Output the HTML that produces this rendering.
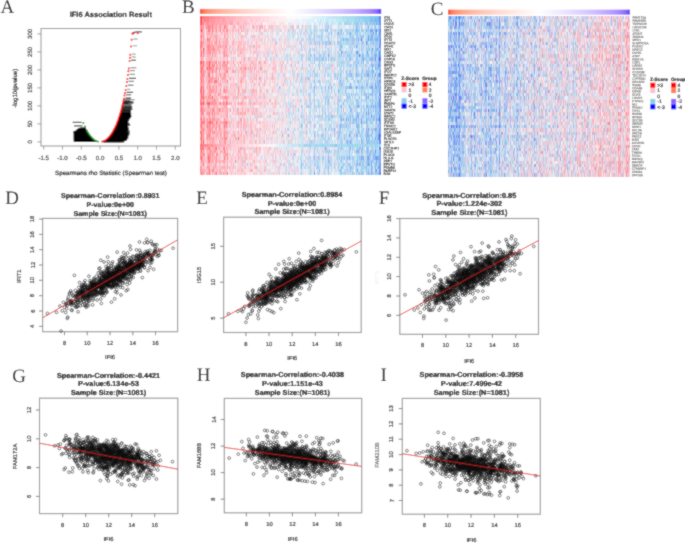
<!DOCTYPE html>
<html><head><meta charset="utf-8"><title>IFI6 figure</title>
<style>
html,body{margin:0;padding:0;background:#fff;overflow:hidden}
svg{display:block}
#wrap{width:685px;height:543px}
text{font-family:"Liberation Sans",sans-serif;text-rendering:geometricPrecision}
</style></head><body><div id="wrap">
<svg width="685" height="543" viewBox="0 0 685 543">
<defs>
<marker id="pt" markerWidth="6" markerHeight="6" refX="3" refY="3" markerUnits="userSpaceOnUse" overflow="visible"><circle cx="3" cy="3" r="1.4" fill="none" stroke="#111" stroke-width="0.55"/></marker>
<marker id="rd" markerWidth="4" markerHeight="4" refX="2" refY="2" markerUnits="userSpaceOnUse" overflow="visible"><circle cx="2" cy="2" r="1.0" fill="#f00"/></marker>
<marker id="gd" markerWidth="4" markerHeight="4" refX="2" refY="2" markerUnits="userSpaceOnUse" overflow="visible"><circle cx="2" cy="2" r="1.0" fill="#119911"/></marker>
</defs>
<filter id="soft" filterUnits="userSpaceOnUse" x="0" y="0" width="685" height="543"><feConvolveMatrix order="3" kernelMatrix="1 2 1 2 12 2 1 2 1" divisor="24" edgeMode="duplicate" preserveAlpha="true"/></filter>
<g filter="url(#soft)">
<rect width="685" height="543" fill="#fff"/>

<text x="0.5" y="12.5" style="font-family:'Liberation Serif',serif" font-size="19" fill="#111">A</text>
<text x="182.0" y="13.0" style="font-family:'Liberation Serif',serif" font-size="19" fill="#111">B</text>
<text x="430.8" y="15.2" style="font-family:'Liberation Serif',serif" font-size="19" fill="#111">C</text>
<text x="5.3" y="203.5" style="font-family:'Liberation Serif',serif" font-size="19" fill="#111">D</text>
<text x="196.3" y="203.8" style="font-family:'Liberation Serif',serif" font-size="19" fill="#111">E</text>
<text x="378.8" y="203.6" style="font-family:'Liberation Serif',serif" font-size="19" fill="#111">F</text>
<text x="12.2" y="382.0" style="font-family:'Liberation Serif',serif" font-size="19" fill="#111">G</text>
<text x="196.8" y="380.5" style="font-family:'Liberation Serif',serif" font-size="19" fill="#111">H</text>
<text x="380.5" y="381.0" style="font-family:'Liberation Serif',serif" font-size="19" fill="#111">I</text>
<rect x="41.0" y="28.5" width="139.5" height="117.5" fill="none" stroke="#888" stroke-width="0.9"/>
<line x1="43.7" y1="146.0" x2="43.7" y2="149.6" stroke="#888" stroke-width="0.8"/>
<text x="43.7" y="160.2" text-anchor="middle" font-size="6.1" fill="#333" stroke="#333" stroke-width="0.18">-1.5</text>
<line x1="62.5" y1="146.0" x2="62.5" y2="149.6" stroke="#888" stroke-width="0.8"/>
<text x="62.5" y="160.2" text-anchor="middle" font-size="6.1" fill="#333" stroke="#333" stroke-width="0.18">-1.0</text>
<line x1="81.3" y1="146.0" x2="81.3" y2="149.6" stroke="#888" stroke-width="0.8"/>
<text x="81.3" y="160.2" text-anchor="middle" font-size="6.1" fill="#333" stroke="#333" stroke-width="0.18">-0.5</text>
<line x1="100.1" y1="146.0" x2="100.1" y2="149.6" stroke="#888" stroke-width="0.8"/>
<text x="100.1" y="160.2" text-anchor="middle" font-size="6.1" fill="#333" stroke="#333" stroke-width="0.18">0.0</text>
<line x1="118.9" y1="146.0" x2="118.9" y2="149.6" stroke="#888" stroke-width="0.8"/>
<text x="118.9" y="160.2" text-anchor="middle" font-size="6.1" fill="#333" stroke="#333" stroke-width="0.18">0.5</text>
<line x1="137.7" y1="146.0" x2="137.7" y2="149.6" stroke="#888" stroke-width="0.8"/>
<text x="137.7" y="160.2" text-anchor="middle" font-size="6.1" fill="#333" stroke="#333" stroke-width="0.18">1.0</text>
<line x1="156.5" y1="146.0" x2="156.5" y2="149.6" stroke="#888" stroke-width="0.8"/>
<text x="156.5" y="160.2" text-anchor="middle" font-size="6.1" fill="#333" stroke="#333" stroke-width="0.18">1.5</text>
<line x1="175.3" y1="146.0" x2="175.3" y2="149.6" stroke="#888" stroke-width="0.8"/>
<text x="175.3" y="160.2" text-anchor="middle" font-size="6.1" fill="#333" stroke="#333" stroke-width="0.18">2.0</text>
<line x1="37.4" y1="141.9" x2="41.0" y2="141.9" stroke="#888" stroke-width="0.8"/>
<text x="32.2" y="141.9" text-anchor="middle" font-size="6.1" fill="#333" transform="rotate(-90 32.2 141.9)" stroke="#333" stroke-width="0.18">0</text>
<line x1="37.4" y1="123.9" x2="41.0" y2="123.9" stroke="#888" stroke-width="0.8"/>
<text x="32.2" y="123.9" text-anchor="middle" font-size="6.1" fill="#333" transform="rotate(-90 32.2 123.9)" stroke="#333" stroke-width="0.18">50</text>
<line x1="37.4" y1="105.9" x2="41.0" y2="105.9" stroke="#888" stroke-width="0.8"/>
<text x="32.2" y="105.9" text-anchor="middle" font-size="6.1" fill="#333" transform="rotate(-90 32.2 105.9)" stroke="#333" stroke-width="0.18">100</text>
<line x1="37.4" y1="87.9" x2="41.0" y2="87.9" stroke="#888" stroke-width="0.8"/>
<text x="32.2" y="87.9" text-anchor="middle" font-size="6.1" fill="#333" transform="rotate(-90 32.2 87.9)" stroke="#333" stroke-width="0.18">150</text>
<line x1="37.4" y1="69.9" x2="41.0" y2="69.9" stroke="#888" stroke-width="0.8"/>
<text x="32.2" y="69.9" text-anchor="middle" font-size="6.1" fill="#333" transform="rotate(-90 32.2 69.9)" stroke="#333" stroke-width="0.18">200</text>
<line x1="37.4" y1="51.9" x2="41.0" y2="51.9" stroke="#888" stroke-width="0.8"/>
<text x="32.2" y="51.9" text-anchor="middle" font-size="6.1" fill="#333" transform="rotate(-90 32.2 51.9)" stroke="#333" stroke-width="0.18">250</text>
<line x1="37.4" y1="33.9" x2="41.0" y2="33.9" stroke="#888" stroke-width="0.8"/>
<text x="32.2" y="33.9" text-anchor="middle" font-size="6.1" fill="#333" transform="rotate(-90 32.2 33.9)" stroke="#333" stroke-width="0.18">300</text>
<text x="110.8" y="16.8" text-anchor="middle" font-size="7.5" font-weight="bold" fill="#111" stroke="#111" stroke-width="0.18">IFI6 Association Result</text>
<text x="111.0" y="174.5" text-anchor="middle" font-size="6.2" fill="#111" stroke="#111" stroke-width="0.18">Spearmans rho Statistic (Spearman test)</text>
<text x="17.2" y="88.2" text-anchor="middle" font-size="6.1" fill="#111" transform="rotate(-90 17.2 88.2)" stroke="#111" stroke-width="0.18">-log10(pvalue)</text>
<polygon fill="#000" points="102.7,141.5 104.7,140.6 106.0,139.8 107.1,138.9 108.1,138.0 108.9,137.2 109.6,136.3 110.3,135.4 111.0,134.5 111.6,133.7 112.1,132.8 112.6,131.9 113.1,131.1 113.6,130.2 114.1,129.3 114.5,128.5 114.9,127.6 115.4,126.7 115.7,125.8 116.1,125.0 116.5,124.1 116.8,123.2 117.2,122.4 117.5,121.5 125.0,121.5 125.8,126.0 125.8,131.0 125.2,136.0 123.8,139.5 121.5,141.5"/>
<polygon fill="#000" points="87.3,131.5 87.8,132.4 88.4,133.3 89.0,134.2 89.7,135.1 90.4,136.0 91.1,137.0 92.0,137.9 92.9,138.8 94.0,139.7 95.4,140.6 97.5,141.5 100.1,141.5 76.0,141.4 75.5,138.0 76.0,134.0 77.5,131.5"/>
<path d="M124.7 99.5H134.6M122.1 106.6H128.8M120.9 112.4H126.6M122.2 106.6H126.5M124.4 99.3H130.7M122.4 107.1H128.5M121.1 111.1H130.9M120.6 112.8H124.6M123.1 103.0H128.2M121.8 109.0H128.2M120.9 113.9H127.5M120.3 113.2H130.3M123.4 103.9H127.4M121.9 108.8H130.5M122.5 107.9H132.1M121.4 111.7H128.5M122.3 106.2H129.3M121.1 111.0H128.0M123.3 106.4H127.8M123.9 103.4H133.3M123.0 102.8H129.3M121.7 111.9H127.8M120.7 113.9H127.9M124.1 103.3H133.6" stroke="#999" stroke-width="1.25" fill="none"/>
<path d="M120.8 113.9H125.1M121.6 112.6H128.6M120.4 112.9H129.3M122.3 106.8H129.4M123.9 103.6H130.2M124.6 101.1H128.8M123.1 104.9H127.8M121.9 109.8H131.1M123.6 103.7H130.1M123.5 103.6H132.5M122.4 106.7H129.7M120.7 111.9H128.3M120.7 113.8H129.3M123.5 102.0H129.5M123.0 103.3H129.7M121.4 112.3H128.2M123.5 102.7H131.3M121.6 112.8H129.9" stroke="#888" stroke-width="1.25" fill="none"/>
<path d="M122.6 106.6H132.3M121.5 111.5H129.9M122.1 107.6H131.0M121.6 108.9H127.1M123.6 103.4H128.7M121.0 111.9H129.8M123.7 103.3H129.7M122.9 105.3H128.1M120.8 112.6H129.1M121.4 112.2H126.0M123.2 102.2H130.1M122.9 103.8H131.8M122.1 108.4H131.3M121.9 110.5H127.5M121.2 110.7H129.1M122.6 106.0H132.1M123.7 104.6H128.4M123.2 104.8H130.8M121.4 111.2H131.2M120.9 112.7H126.5" stroke="#666" stroke-width="1.25" fill="none"/>
<path d="M77.7 128.8H86.0M74.8 135.5H89.3M76.1 134.4H89.0M74.4 133.0H87.9M74.0 138.0H91.7M74.5 136.5H89.8M77.1 131.3H86.5M75.2 136.8H91.2M74.3 133.6H87.7M73.7 137.5H91.6M73.8 132.1H87.5M77.9 129.6H86.5M74.2 138.9H92.2M79.1 129.1H86.0M75.3 132.2H87.2M74.6 139.7H93.8M74.9 140.7H94.7M78.2 128.7H85.6M74.7 132.1H87.4M75.7 137.2H91.8M74.5 139.5H93.7M78.6 128.3H85.6M75.3 132.8H88.5M76.4 131.1H86.9M74.1 140.1H94.0M77.8 128.7H84.9M80.4 129.4H85.9M78.4 130.1H86.6M74.5 134.9H89.4" stroke="#555" stroke-width="1.25" fill="none"/>
<path d="M114.6 130.9H126.9M110.6 136.5H126.5M115.7 127.4H125.6M119.1 117.4H129.5M117.8 122.8H127.6M115.5 127.7H127.1M111.9 134.2H126.6M117.6 124.8H125.6M108.0 139.2H126.3M111.9 134.9H125.7M113.5 131.8H125.7M108.4 137.4H125.1M120.4 115.8H129.6M110.2 136.0H126.0M106.1 140.0H124.9M116.5 123.6H127.2M112.4 134.4H127.3M109.6 137.1H127.4M119.3 116.3H128.2M119.4 119.2H125.8M115.3 126.8H127.7M118.5 120.6H125.9M113.3 132.5H126.7M114.0 130.1H128.3M115.2 129.5H127.8M110.9 135.9H127.6M116.4 125.4H127.9M119.1 118.7H128.8M117.8 123.9H128.1M109.2 137.6H125.9M116.8 123.8H127.4M117.9 122.0H125.6M119.6 116.3H125.8M116.0 124.5H127.7M120.5 114.9H130.9M120.9 113.2H128.8M116.0 126.4H125.4M112.9 132.6H129.8M106.4 139.4H123.0M119.7 115.0H128.2M118.4 123.1H127.3M119.3 117.0H125.6M118.4 121.9H127.2M120.0 117.2H128.4M113.3 130.5H128.3M116.3 126.1H128.0M118.4 120.6H129.1M108.2 138.7H126.9M115.3 129.7H126.7M119.7 114.9H129.2M110.8 135.5H125.9M121.1 112.0H127.0M120.4 113.2H125.3M120.8 113.6H125.1M120.2 113.4H125.2M121.8 108.1H128.8M123.9 103.3H128.4M120.7 113.3H127.1M124.4 100.9H130.2M121.0 112.2H125.7M121.1 113.4H125.5" stroke="#444" stroke-width="1.25" fill="none"/>
<path d="M74.5 138.5H92.9M73.8 141.4H96.6M74.3 136.6H90.1M74.3 131.7H87.2M74.8 134.1H89.1M74.8 138.1H92.2M73.8 140.5H94.4M73.9 133.3H88.8M74.1 139.1H92.3M74.6 138.1H91.7M74.2 135.1H89.6M75.2 137.2H90.4M78.8 129.4H86.1M73.7 139.7H93.8M78.2 130.0H85.5M74.3 135.3H89.6M78.5 129.1H85.8M79.4 130.8H87.0M74.1 141.4H96.7M80.6 128.2H85.9M76.3 135.3H90.2M73.6 135.6H90.2M73.6 133.3H88.4M74.5 137.8H92.2M73.6 138.1H91.6M74.5 137.8H92.3M74.4 140.2H93.9M75.0 133.3H88.3M74.4 136.0H90.1M77.3 129.7H86.5M75.8 131.4H87.2M74.9 131.4H86.3M74.7 136.0H90.4M74.4 140.6H95.0M74.8 140.2H94.0M78.8 129.6H85.6M80.0 129.1H85.3M76.7 129.9H86.7M73.9 134.8H89.6M75.1 132.0H87.3M74.1 134.9H88.8M74.8 133.3H88.6" stroke="#333" stroke-width="1.25" fill="none"/>
<path d="M114.8 130.8H124.9M118.9 118.7H124.9M120.2 115.6H128.8M120.4 116.8H131.1M116.7 125.2H130.2M109.7 136.2H126.2M115.9 127.7H125.8M116.6 125.3H128.6M114.6 131.0H126.8M118.5 118.3H126.6M118.8 121.9H128.4M118.6 122.0H127.6M119.1 118.4H129.6M117.6 123.7H129.5M111.7 135.2H127.8M118.8 118.5H127.5M117.3 124.3H127.0M103.0 141.4H122.1M110.7 136.6H128.1M104.1 141.5H123.9M119.7 119.6H126.7M111.2 133.8H129.4M113.8 131.0H126.2M115.5 128.8H126.6M114.5 130.7H127.8M117.0 124.6H127.1M115.3 127.4H126.1M113.1 132.4H126.3M110.4 135.0H126.0M118.9 120.0H126.8M118.5 118.6H126.1M116.6 127.0H127.0M116.7 124.6H127.7M120.8 114.4H129.8M113.5 132.0H126.8M118.6 119.1H129.3M116.9 126.0H127.1M109.0 137.6H127.9M114.8 129.6H126.0M114.4 128.7H125.2M119.6 117.0H128.6M102.7 141.5H121.1M106.0 140.0H125.4M116.2 125.8H127.8M116.9 123.7H127.4M118.4 121.5H126.5M121.1 115.3H128.1M117.4 122.6H127.2M120.7 114.0H127.1M120.4 113.3H131.2M114.6 127.8H127.1M121.9 109.7H131.1M121.6 109.5H128.4M123.7 102.9H128.3M122.6 109.0H132.5M124.2 102.0H133.5M123.0 103.4H127.8M121.6 111.1H126.4M122.1 107.2H128.3M121.7 110.3H126.5M121.3 112.1H130.6M122.0 110.8H126.4M123.6 101.9H132.5M122.5 107.2H131.1M121.3 112.2H125.6M121.1 110.8H130.8M122.3 107.3H131.8M123.3 102.1H131.5M121.4 109.9H127.7" stroke="#222" stroke-width="1.25" fill="none"/>
<path d="M119.7 117.6H125.9M114.4 130.3H126.7M120.9 115.8H128.0M107.9 138.9H126.0M108.6 138.1H126.8M120.4 117.3H126.4M109.3 136.3H127.4M114.6 130.0H126.5M105.5 140.5H124.3M119.8 117.7H125.9M113.8 129.4H128.4M120.3 116.7H130.7M112.6 131.8H127.2M120.1 116.8H130.2M118.3 120.1H126.6M120.7 115.2H127.4M118.1 120.7H128.2M117.1 123.8H126.5M112.0 133.6H128.4M116.8 125.8H126.0M115.0 127.4H128.5M113.9 131.0H127.2M116.5 127.2H126.4M118.1 122.0H127.6M109.4 136.9H128.1M117.2 124.7H126.8M111.3 133.9H128.7M106.0 139.7H124.7M118.4 119.4H128.7M111.5 133.4H127.4M103.0 141.6H121.4M111.2 135.0H123.6M114.5 128.6H128.7M113.2 131.0H129.7M119.6 117.1H128.8M104.7 140.5H123.6M118.9 120.7H125.9M120.3 117.6H130.7M121.2 113.5H130.7M119.9 116.4H126.1M108.7 137.2H127.7M111.5 134.9H126.6M118.6 117.9H126.9M111.7 134.5H126.8M119.7 117.7H129.8M118.2 120.7H126.9M110.1 137.3H127.9M111.6 134.3H127.6M121.5 113.4H128.3M113.3 131.9H126.9M111.4 134.6H127.2M117.7 123.7H124.7M113.6 132.2H127.8M114.1 129.5H128.6M118.0 120.3H129.0M106.9 139.5H126.7M113.2 130.7H127.2M78.9 128.9H85.0M73.8 135.3H89.2M76.2 135.7H90.6M74.2 138.1H92.4M74.3 134.7H89.3M77.0 130.8H87.3M76.8 130.3H87.1M76.4 130.7H87.2M79.0 129.1H85.9M77.6 130.7H85.9M74.1 134.0H89.0M77.0 130.1H86.8M73.6 131.8H87.4M75.6 135.0H89.8M76.2 130.8H86.2M74.8 139.3H94.1M78.0 130.5H86.4M75.8 131.8H87.5M77.4 130.8H86.4M74.9 134.8H89.2M73.7 136.1H90.8M74.1 131.9H87.5M75.8 140.1H94.6M75.6 139.1H93.2M81.0 128.9H85.1M74.7 132.6H88.5M75.3 137.3H91.8M75.4 140.2H94.1M74.7 139.9H94.5M73.7 134.8H89.7M73.9 140.0H94.0" stroke="#111" stroke-width="1.25" fill="none"/>
<path d="M118.8 121.6H127.4M117.9 121.0H126.1M115.4 127.7H126.6M113.8 131.0H125.3M120.3 113.3H129.8M116.2 127.6H127.4M108.5 137.9H128.3M116.8 124.1H127.1M110.0 136.3H128.2M119.5 117.3H126.7M112.7 132.2H124.7M107.0 139.5H125.9M108.7 138.3H125.5M116.4 124.8H128.1M110.7 134.5H125.6M120.0 113.9H130.8M115.9 127.8H128.2M118.9 118.7H125.8M106.3 140.1H125.8M119.2 120.8H127.4M110.7 136.1H126.6M118.3 118.8H125.4M108.0 139.1H125.9M116.1 128.0H128.1M120.3 113.6H127.6M119.4 118.4H125.6M117.2 122.1H127.3M114.9 129.4H126.0M109.6 137.8H126.3M112.9 131.6H125.5M117.4 123.6H124.7M111.7 134.5H126.1M119.0 116.7H129.6M110.8 135.9H124.9M104.1 141.5H124.3M111.9 134.7H129.3M107.0 139.3H125.5M115.2 126.5H125.7M112.1 133.6H128.7M116.5 124.3H125.5M111.4 135.6H128.1M120.8 116.2H131.5M116.8 126.3H127.1M110.4 136.7H125.8M119.9 117.8H126.7M119.6 117.4H126.0M115.4 128.8H125.8M111.5 134.3H125.9M118.9 118.2H126.4M117.4 123.6H126.9M116.1 127.1H125.3M117.3 125.0H126.1M110.1 136.4H126.8M113.2 131.2H125.8M117.9 121.3H127.2M117.2 125.1H125.9M114.4 130.8H127.3M118.4 120.4H126.9M119.1 116.9H126.5M115.2 126.6H127.5M110.7 135.1H128.6M110.6 136.8H125.4M106.1 140.2H126.7M117.3 125.0H127.4M119.6 115.2H126.5M118.0 121.7H127.8M108.3 138.7H124.3M120.2 117.1H129.6M111.9 133.1H128.3M111.7 134.7H129.0M112.5 133.7H127.1M121.6 113.8H131.1M111.6 133.9H126.4M119.8 115.2H127.1M112.6 134.1H127.6M114.7 129.4H126.8M108.3 138.3H126.1M110.7 134.7H127.5M117.0 122.1H127.1M120.4 115.3H131.1M119.8 116.9H129.5M119.1 118.5H129.8M110.0 136.1H126.6M119.7 116.7H127.5M114.1 129.8H126.4M111.1 134.6H126.9M120.6 116.8H130.1M107.0 138.9H123.7M118.5 122.5H128.2M117.3 124.8H127.7M120.9 114.7H129.7M118.0 120.9H127.8M120.4 116.0H130.1M114.3 130.4H126.7M115.0 130.3H126.8M120.6 114.2H129.6M117.0 122.5H127.6M120.2 113.8H126.3M120.1 116.6H126.6M107.5 138.8H127.4M120.7 115.5H130.1M73.6 133.0H88.2M80.6 128.3H84.8M74.2 138.0H92.5M74.5 134.9H88.9M78.2 129.2H85.5M75.8 131.4H87.5M74.1 139.3H92.8M74.4 141.0H96.4M74.1 138.7H92.2M74.0 137.0H91.5M73.6 131.7H86.9M75.2 133.3H87.9M78.8 129.6H85.8M78.8 129.8H86.3M74.9 131.9H86.9M74.5 138.7H93.2M73.7 139.1H92.7M74.8 137.5H91.4M75.0 137.0H90.6M74.8 132.9H87.9M73.9 141.3H97.1M74.1 137.7H91.9M73.9 134.6H88.7M76.3 136.6H90.0M76.3 130.9H86.8M74.5 139.1H93.7M74.3 139.6H93.2M73.8 134.6H89.3M79.8 129.3H86.1M80.7 128.3H85.7M78.4 129.0H85.8M75.8 137.7H91.2M73.8 131.6H87.7M74.7 135.3H89.2M73.7 131.8H87.3M73.9 131.7H87.4M77.8 130.4H86.2M73.8 133.7H88.2M73.7 137.9H91.3M76.0 130.3H86.7M73.9 140.0H93.5M74.4 131.3H87.6M74.3 134.8H89.8M74.4 139.4H93.0M77.7 131.3H86.8M78.8 130.8H87.3M74.1 139.1H93.7M78.0 130.1H86.1M74.0 133.3H88.5M74.5 135.9H89.3M73.9 138.0H91.4M74.0 137.7H90.8M79.8 129.3H85.9M80.3 128.4H84.7M74.4 139.3H93.5M74.8 136.3H90.2M75.0 131.8H86.8M74.8 133.0H87.6M74.0 133.8H88.4M76.5 131.5H86.6M73.8 136.7H90.5M74.1 134.4H88.4M73.9 134.7H88.6M73.8 132.2H87.4M74.5 138.5H91.8M73.9 134.5H88.6M76.7 131.4H87.5M81.1 128.5H85.8" stroke="#000" stroke-width="1.25" fill="none"/>
<path d="M133.2 39.0h4.5" stroke="#999" stroke-width="1.1" fill="none"/>
<path d="M132.6 45.8h4.5" stroke="#aaa" stroke-width="1.1" fill="none"/>
<path d="M131.9 54.1h3.8" stroke="#999" stroke-width="1.1" fill="none"/>
<path d="M131.6 57.0h4.2" stroke="#999" stroke-width="1.1" fill="none"/>
<path d="M131.2 60.2h4.7" stroke="#444" stroke-width="1.1" fill="none"/>
<path d="M130.4 67.8h6" stroke="#888" stroke-width="1.1" fill="none"/>
<path d="M130.0 70.6h5" stroke="#888" stroke-width="1.1" fill="none"/>
<path d="M129.5 74.3h5.5" stroke="#888" stroke-width="1.1" fill="none"/>
<path d="M129.0 78.3h7" stroke="#333" stroke-width="1.1" fill="none"/>
<path d="M128.5 81.3h5.5" stroke="#777" stroke-width="1.1" fill="none"/>
<path d="M127.9 85.2h5.5" stroke="#666" stroke-width="1.1" fill="none"/>
<path d="M127.2 89.3h3" stroke="#999" stroke-width="1.1" fill="none"/>
<path d="M126.6 92.3h6.5" stroke="#333" stroke-width="1.1" fill="none"/>
<path d="M126.1 94.8h5" stroke="#555" stroke-width="1.1" fill="none"/>
<path d="M125.5 98.1h5.5" stroke="#222" stroke-width="1.1" fill="none"/>
<path d="M132.9 32.6L137 31.9L141.9 31.9" stroke="#555" stroke-width="1.3" fill="none"/>
<path d="M72.6 122.3h9M74 125.8h8.5" stroke="#555" stroke-width="1.2" fill="none"/>
<polyline points="101.4,141.8 103.8,141.1 105.2,140.3 106.2,139.6 107.1,138.9 107.9,138.2 108.6,137.4 109.3,136.7 109.9,136.0 110.4,135.3 111.0,134.5 111.5,133.8 111.9,133.1 112.4,132.4 112.8,131.6 113.2,130.9 113.6,130.2 114.0,129.5 114.4,128.7 114.7,128.0 115.1,127.3 115.4,126.6 115.7,125.8 116.1,125.1 116.4,124.4 116.7,123.7 117.0,122.9 117.2,122.2 117.5,121.5 117.8,120.8 118.1,120.0 118.3,119.3 118.6,118.6 118.8,117.9 119.1,117.1 119.3,116.4 119.5,115.7 119.8,115.0 120.0,114.2 120.2,113.5 120.4,112.8 120.6,112.1 120.8,111.3 121.0,110.6 121.2,109.9 121.4,109.2 121.6,108.4 121.8,107.7 122.0,107.0 122.2,106.3 122.3,105.5 122.5,104.8 122.7,104.1 122.9,103.4 123.0,102.6 123.2,101.9 123.4,101.2 123.5,100.5 123.7,99.7 123.8,99.0" fill="none" stroke="#f00" stroke-width="1.6"/>
<polyline points="131.6,39.7 131.0,46.5 130.3,54.8 130.0,57.7 129.6,60.9 128.8,68.5 128.4,71.3 127.9,75.0 127.4,79.0 126.9,82.0 126.3,85.9 125.6,90.0 125.0,93.0 124.5,95.5 123.9,98.8 132.3,33.5 133.5,33.5 137.7,33.3" fill="none" stroke="none" marker-start="url(#rd)" marker-mid="url(#rd)" marker-end="url(#rd)"/>
<polyline points="98.8,141.8 96.6,141.2 95.3,140.5 94.3,139.9 93.4,139.2 92.7,138.6 92.0,137.9 91.4,137.3 90.8,136.6 90.3,136.0 89.8,135.3 89.3,134.7 88.9,134.0 88.5,133.4 88.0,132.7 87.6,132.1 87.3,131.4 86.9,130.8 86.5,130.1 86.2,129.5" fill="none" stroke="#119911" stroke-width="1.5"/>
<polyline points="85,126.6 83.4,123.1" fill="none" stroke="none" marker-start="url(#gd)" marker-mid="url(#gd)" marker-end="url(#gd)"/>
<defs><linearGradient id="g21" x1="0" x2="1" y1="0" y2="0"><stop offset="0.003" stop-color="#ff4e37"/><stop offset="0.025" stop-color="#ff815d"/><stop offset="0.047" stop-color="#ff9475"/><stop offset="0.069" stop-color="#ffa085"/><stop offset="0.091" stop-color="#ffaa91"/><stop offset="0.113" stop-color="#ffb29b"/><stop offset="0.135" stop-color="#ffb9a4"/><stop offset="0.157" stop-color="#ffbfac"/><stop offset="0.180" stop-color="#ffc4b3"/><stop offset="0.202" stop-color="#ffcaba"/><stop offset="0.224" stop-color="#ffcec0"/><stop offset="0.246" stop-color="#ffd3c6"/><stop offset="0.268" stop-color="#ffd7cc"/><stop offset="0.290" stop-color="#ffdcd1"/><stop offset="0.312" stop-color="#ffe0d7"/><stop offset="0.334" stop-color="#ffe4dc"/><stop offset="0.356" stop-color="#ffe7e1"/><stop offset="0.378" stop-color="#ffebe5"/><stop offset="0.401" stop-color="#ffefea"/><stop offset="0.423" stop-color="#fff3ef"/><stop offset="0.445" stop-color="#fff6f4"/><stop offset="0.467" stop-color="#fffaf8"/><stop offset="0.489" stop-color="#fffdfd"/><stop offset="0.511" stop-color="#fdfdff"/><stop offset="0.533" stop-color="#faf9ff"/><stop offset="0.555" stop-color="#f7f4ff"/><stop offset="0.577" stop-color="#f4f0ff"/><stop offset="0.599" stop-color="#f1ebff"/><stop offset="0.622" stop-color="#ede7ff"/><stop offset="0.644" stop-color="#eae2ff"/><stop offset="0.666" stop-color="#e6deff"/><stop offset="0.688" stop-color="#e3d9ff"/><stop offset="0.710" stop-color="#dfd4ff"/><stop offset="0.732" stop-color="#dbcfff"/><stop offset="0.754" stop-color="#d7caff"/><stop offset="0.776" stop-color="#d3c4ff"/><stop offset="0.798" stop-color="#cfbeff"/><stop offset="0.820" stop-color="#cab8ff"/><stop offset="0.843" stop-color="#c5b1ff"/><stop offset="0.865" stop-color="#c0aaff"/><stop offset="0.887" stop-color="#b9a1ff"/><stop offset="0.909" stop-color="#b298ff"/><stop offset="0.931" stop-color="#aa8cff"/><stop offset="0.953" stop-color="#9f7dff"/><stop offset="0.975" stop-color="#8e67ff"/><stop offset="0.997" stop-color="#563dff"/><stop offset="0.997" stop-color="#563dff"/></linearGradient></defs>
<rect x="199.9" y="8.9" width="181.3" height="5.0" fill="url(#g21)"/>
<g transform="translate(199.90,15.90) scale(1.0017,3.1920)" stroke-width="1.02" fill="none" shape-rendering="crispEdges">
<path stroke="#ff3c3c" d="M0.5 0v1m3 9v1"/>
<path stroke="#ff4646" d="M1.5 0v1"/>
<path stroke="#ff7878" d="M0.5 17v1m1 -15v1m0 34v1m0 1v1m1 -41v1m1 1v1m0 20v1m1 -23v1m3 25v1m5 -13v1m4 -2v1"/>
<path stroke="#ff7882" d="M0.5 48v1m1 -37v1m0 3v1m0 2v1m0 4v1m0 7v1m1 -3v1m0 9v1m0 0v1m1 -42v1m0 2v1m0 20v1m0 1v1m0 9v1m0 9v1m1 -47v1m5 3v1m0 15v1m0 11v1m0 15v1m3 -46v1m2 22v1m0 9v1m1 -17v1m1 -5v1m3 0v1m1 -14v1m6 29v1m1 -21v1"/>
<path stroke="#ff8282" d="M0.5 38v1m0 4v1m0 0v1m3 -5v1m2 -41v1m3 3v1m1 28v1m1 -20v1m2 4v1m4 0v1m8 -18v1m0 10v1m0 22v1m1 -5v1m2 -17v1"/>
<path stroke="#ff828c" d="M0.5 10v1m0 21v1m1 -24v1m0 21v1m0 4v1m0 8v1m2 -40v1m0 5v1m0 4v1m0 3v1m0 0v1m0 15v1m2 -38v1m0 38v1m1 -41v1m1 -1v1m0 0v1m0 32v1m0 2v1m0 2v1m1 -41v1m0 0v1m0 1v1m0 5v1m0 0v1m0 7v1m0 6v1m0 17v1m0 1v1m1 -12v1m1 -19v1m0 7v1m0 11v1m2 -33v1m0 12v1m0 18v1m1 -27v1m0 37v1m1 -29v1m2 -14v1m0 14v1m0 21v1m0 4v1m8 -27v1m3 -20v1m0 22v1"/>
<path stroke="#ff8c8c" d="M0.5 8v1m0 7v1m1 24v1m5 -41v1m2 31v1m1 -34v1m0 2v1m0 3v1m0 0v1m0 12v1m0 22v1m0 4v1m1 -39v1m0 30v1m1 -27v1m0 6v1m1 3v1m0 1v1m1 -1v1m3 -26v1m0 30v1m0 7v1m3 -17v1m0 1v1m4 -3v1m1 4v1m1 -18v1m16 16v1"/>
<path stroke="#ff8c96" d="M0.5 12v1m0 8v1m0 2v1m0 4v1m0 4v1m0 12v1m1 -41v1m0 10v1m1 -17v1m0 15v1m0 8v1m0 5v1m1 -33v1m0 6v1m0 9v1m0 0v1m0 9v1m0 2v1m0 9v1m0 0v1m0 5v1m1 -17v1m0 6v1m2 -39v1m2 -1v1m1 6v1m0 12v1m0 5v1m0 18v1m1 -48v1m0 2v1m0 15v1m0 2v1m0 4v1m0 7v1m0 7v1m1 -44v1m0 0v1m0 38v1m1 -41v1m0 1v1m0 9v1m1 -13v1m0 15v1m1 -2v1m1 25v1m1 -34v1m0 8v1m1 25v1m3 -41v1m0 14v1m0 8v1m0 5v1m2 -19v1m1 -2v1m1 12v1m0 5v1m0 2v1m0 1v1m0 3v1m1 -40v1m0 5v1m0 15v1m0 12v1m1 -22v1m0 7v1m0 12v1m1 -8v1m0 11v1m6 -30v1m12 1v1m9 10v1"/>
<path stroke="#ff9696" d="M2.5 4v1m1 15v1m1 22v1m3 -42v1m0 11v1m0 6v1m0 10v1m1 -18v1m0 20v1m0 4v1m1 -23v1m0 20v1m3 -36v1m0 42v1m1 -40v1m1 -10v1m0 30v1m0 0v1m1 9v1m1 -9v1m2 -16v1m5 21v1m1 -36v1m0 4v1m0 27v1m1 -22v1m1 -15v1m12 37v1m2 -29v1m1 -11v1m0 15v1m0 6v1m18 -14v1"/>
<path stroke="#ff96a0" d="M0.5 4v1m0 13v1m0 3v1m0 7v1m0 11v1m1 -38v1m0 9v1m0 5v1m0 4v1m0 3v1m0 4v1m1 -35v1m0 13v1m0 8v1m0 4v1m0 5v1m0 7v1m1 -14v1m0 6v1m1 -6v1m2 -17v1m0 23v1m1 -15v1m0 3v1m0 2v1m0 4v1m0 2v1m1 -35v1m0 3v1m0 4v1m0 0v1m0 2v1m0 7v1m0 11v1m1 -40v1m0 8v1m0 0v1m0 5v1m0 13v1m0 3v1m0 6v1m1 -42v1m0 23v1m0 18v1m1 -25v1m1 -7v1m0 3v1m0 7v1m0 5v1m0 7v1m0 4v1m1 -45v1m0 13v1m0 16v1m0 5v1m1 -38v1m0 0v1m0 7v1m0 19v1m0 3v1m1 -35v1m1 -1v1m0 2v1m0 23v1m1 -28v1m1 -1v1m0 13v1m0 9v1m1 -25v1m0 7v1m0 25v1m0 0v1m1 -27v1m0 6v1m0 6v1m2 5v1m2 -14v1m0 1v1m0 6v1m1 13v1m0 2v1m0 0v1m1 -35v1m0 6v1m0 24v1m1 -17v1m0 4v1m0 13v1m0 2v1m6 -31v1m1 19v1m1 0v1m3 -30v1m0 13v1m0 0v1m0 8v1m2 -4v1m16 10v1"/>
<path stroke="#ffa0aa" d="M0.5 6v1m0 4v1m0 8v1m0 4v1m1 -13v1m0 33v1m1 -34v1m0 5v1m0 1v1m0 21v1m0 3v1m1 -44v1m0 1v1m0 20v1m0 16v1m1 -36v1m0 16v1m1 -26v1m1 11v1m0 12v1m0 8v1m1 -31v1m0 1v1m0 1v1m0 4v1m0 1v1m0 4v1m0 5v1m0 6v1m0 8v1m0 4v1m1 -45v1m0 8v1m0 15v1m0 3v1m0 0v1m0 1v1m0 0v1m0 8v1m0 0v1m0 0v1m1 -26v1m0 0v1m0 10v1m0 1v1m1 -37v1m0 7v1m0 9v1m0 13v1m1 -33v1m0 7v1m0 2v1m0 13v1m0 5v1m0 4v1m1 -38v1m0 7v1m0 0v1m0 12v1m0 7v1m0 3v1m0 3v1m0 2v1m0 1v1m0 4v1m1 -48v1m0 0v1m0 19v1m0 10v1m0 5v1m0 2v1m1 -17v1m0 1v1m0 14v1m1 -5v1m0 4v1m0 3v1m1 -48v1m0 12v1m0 7v1m0 21v1m1 -45v1m0 0v1m0 12v1m0 4v1m1 -20v1m0 7v1m0 19v1m0 0v1m1 -30v1m0 13v1m0 23v1m0 5v1m1 -46v1m0 13v1m0 5v1m0 8v1m0 6v1m0 0v1m1 -38v1m0 48v1m1 -50v1m0 0v1m1 -2v1m0 0v1m0 2v1m0 14v1m0 5v1m0 7v1m1 -34v1m0 0v1m0 8v1m0 4v1m0 3v1m0 15v1m0 9v1m2 -39v1m0 4v1m0 2v1m0 6v1m0 3v1m0 1v1m0 7v1m1 -32v1m0 10v1m0 12v1m0 3v1m0 8v1m3 -41v1m0 36v1m2 -38v1m3 42v1m3 -44v1m0 12v1m0 11v1m0 2v1m2 -28v1m0 7v1m0 8v1m2 27v1m1 -31v1m1 -3v1m0 22v1m1 -17v1m3 -8v1m2 -2v1m3 7v1m3 5v1"/>
<path stroke="#ffaab4" d="M0.5 7v1m0 25v1m1 14v1m1 -44v1m0 2v1m0 4v1m0 9v1m0 12v1m0 1v1m0 10v1m1 -2v1m1 -24v1m0 8v1m1 -10v1m1 -21v1m0 9v1m0 14v1m0 1v1m0 0v1m0 15v1m1 -38v1m1 -5v1m0 22v1m0 14v1m1 -42v1m0 20v1m1 -23v1m0 1v1m0 0v1m0 7v1m0 1v1m0 5v1m0 14v1m0 6v1m0 3v1m1 -47v1m0 4v1m0 0v1m0 25v1m0 10v1m1 -39v1m0 29v1m1 -35v1m0 12v1m0 23v1m0 3v1m1 -38v1m0 10v1m0 3v1m0 17v1m0 5v1m0 1v1m1 -48v1m0 16v1m0 4v1m0 1v1m0 8v1m0 11v1m1 -47v1m0 4v1m0 2v1m0 1v1m0 1v1m0 11v1m0 4v1m0 5v1m0 0v1m0 0v1m0 1v1m0 5v1m1 -14v1m0 6v1m0 1v1m1 -11v1m0 5v1m0 2v1m1 -39v1m0 3v1m0 1v1m0 6v1m0 4v1m0 19v1m0 6v1m1 -47v1m0 18v1m0 2v1m0 9v1m0 0v1m0 2v1m0 1v1m0 7v1m1 -48v1m0 0v1m0 19v1m0 2v1m0 11v1m1 -19v1m0 7v1m0 17v1m1 -44v1m0 5v1m0 17v1m0 10v1m1 -16v1m0 17v1m0 2v1m0 3v1m1 -48v1m0 0v1m0 0v1m0 5v1m0 8v1m0 10v1m0 1v1m0 3v1m0 0v1m1 -36v1m0 1v1m0 0v1m0 4v1m0 2v1m0 11v1m0 7v1m1 -32v1m0 1v1m0 0v1m0 3v1m0 7v1m0 7v1m0 2v1m0 9v1m1 -37v1m1 -1v1m0 0v1m0 0v1m0 30v1m2 -33v1m0 0v1m0 24v1m1 -27v1m0 15v1m1 -14v1m0 3v1m0 38v1m4 -46v1m0 7v1m1 18v1m0 4v1m0 9v1m3 -37v1m0 8v1m0 23v1m1 -15v1m0 1v1m1 -27v1m0 12v1m0 17v1m1 -10v1m0 6v1m0 12v1m1 -29v1m0 18v1m0 7v1m5 -29v1m2 13v1m1 -16v1m1 3v1m0 10v1m0 16v1m2 -29v1m0 7v1m3 -25v1m0 0v1m1 14v1m2 -17v1m2 10v1m1 -1v1m8 1v1"/>
<path stroke="#ffb4be" d="M0.5 5v1m0 33v1m2 -19v1m0 6v1m0 10v1m0 2v1m0 3v1m1 -43v1m0 4v1m0 34v1m1 -43v1m0 14v1m0 5v1m0 11v1m0 12v1m2 -39v1m0 0v1m0 8v1m0 16v1m0 3v1m1 -24v1m0 0v1m0 5v1m0 3v1m0 15v1m0 0v1m1 -34v1m0 7v1m0 1v1m1 -11v1m0 25v1m1 -28v1m0 13v1m1 -22v1m0 0v1m0 19v1m0 5v1m0 1v1m0 6v1m0 0v1m0 0v1m1 -3v1m1 -11v1m0 14v1m1 -38v1m0 3v1m0 10v1m0 14v1m1 -36v1m0 5v1m0 0v1m0 5v1m0 5v1m0 6v1m0 1v1m0 4v1m1 -33v1m0 23v1m0 17v1m1 -42v1m0 9v1m0 12v1m0 0v1m0 3v1m0 1v1m0 8v1m0 2v1m1 -47v1m0 7v1m0 22v1m0 0v1m0 5v1m1 -1v1m0 8v1m1 -49v1m0 29v1m0 7v1m0 3v1m0 1v1m1 -27v1m0 7v1m0 12v1m1 -25v1m0 23v1m1 -31v1m0 1v1m0 5v1m0 15v1m0 1v1m0 3v1m0 1v1m0 0v1m1 -39v1m0 11v1m0 11v1m1 -25v1m0 0v1m0 3v1m0 0v1m0 0v1m0 6v1m0 4v1m0 1v1m0 0v1m0 12v1m0 7v1m0 0v1m1 -49v1m0 8v1m1 -10v1m0 4v1m0 1v1m0 1v1m0 2v1m0 24v1m0 6v1m1 -45v1m0 38v1m1 6v1m1 -48v1m0 0v1m0 3v1m0 16v1m0 4v1m0 3v1m1 -32v1m0 45v1m0 2v1m1 -50v1m0 5v1m1 -7v1m0 10v1m0 1v1m0 15v1m0 6v1m0 9v1m1 -47v1m0 24v1m1 -26v1m0 3v1m0 1v1m0 34v1m0 2v1m2 -20v1m0 17v1m1 -43v1m0 3v1m0 12v1m2 -14v1m0 4v1m0 22v1m1 -23v1m0 3v1m0 20v1m1 -31v1m0 38v1m1 -44v1m0 6v1m0 5v1m0 7v1m0 4v1m1 -28v1m0 7v1m0 24v1m0 3v1m1 -37v1m0 5v1m0 11v1m0 1v1m0 6v1m1 -14v1m0 20v1m4 -29v1m0 18v1m0 5v1m0 2v1m0 10v1m1 -35v1m1 -12v1m0 20v1m2 -16v1m0 1v1m0 9v1m0 15v1m0 4v1m2 -39v1m0 21v1m0 15v1m0 0v1m3 -17v1m0 5v1m0 5v1m1 -17v1m4 -3v1m2 -18v1m9 3v1m0 2v1"/>
<path stroke="#ffbec8" d="M0.5 13v1m0 31v1m2 -35v1m0 20v1m2 -24v1m0 2v1m0 1v1m0 0v1m0 0v1m0 3v1m0 3v1m0 6v1m0 5v1m0 1v1m0 2v1m0 2v1m1 -5v1m1 -29v1m0 31v1m1 -26v1m1 1v1m1 6v1m1 -25v1m0 2v1m0 21v1m1 -27v1m0 6v1m0 2v1m0 0v1m0 13v1m0 0v1m0 14v1m2 -39v1m0 11v1m0 0v1m0 0v1m0 6v1m0 1v1m0 4v1m0 8v1m1 -41v1m0 7v1m0 30v1m0 4v1m1 -40v1m0 8v1m0 6v1m0 2v1m0 5v1m0 1v1m0 1v1m1 -29v1m0 20v1m0 16v1m2 -33v1m0 3v1m0 1v1m0 12v1m1 -30v1m0 7v1m0 17v1m0 3v1m0 10v1m1 -40v1m0 2v1m0 1v1m0 12v1m0 1v1m0 3v1m0 14v1m1 -45v1m0 3v1m0 9v1m0 12v1m0 0v1m0 6v1m1 -36v1m0 1v1m0 8v1m1 -12v1m0 3v1m0 5v1m0 25v1m1 -32v1m0 4v1m0 32v1m1 -40v1m0 8v1m0 12v1m0 7v1m0 7v1m0 1v1m1 -34v1m0 15v1m0 9v1m0 3v1m0 4v1m1 -32v1m0 15v1m0 0v1m0 4v1m0 0v1m1 -40v1m0 9v1m0 12v1m1 -22v1m0 14v1m0 20v1m0 0v1m1 -31v1m0 9v1m0 18v1m0 2v1m0 1v1m2 -41v1m0 3v1m0 15v1m0 13v1m0 8v1m1 -48v1m0 8v1m0 11v1m0 2v1m0 15v1m0 0v1m0 0v1m1 -43v1m0 9v1m1 -11v1m0 1v1m0 9v1m0 1v1m0 9v1m0 1v1m1 -28v1m1 -1v1m0 26v1m0 6v1m0 14v1m1 -50v1m0 10v1m0 25v1m1 -38v1m0 22v1m0 24v1m1 -49v1m0 18v1m0 14v1m0 0v1m0 3v1m0 2v1m1 -43v1m0 2v1m0 2v1m0 15v1m0 2v1m0 4v1m0 16v1m0 0v1m1 -48v1m0 8v1m1 -3v1m0 17v1m0 5v1m0 5v1m1 -28v1m0 5v1m0 0v1m0 8v1m1 -24v1m0 0v1m0 9v1m0 17v1m4 5v1m1 -23v1m0 2v1m0 4v1m0 6v1m1 -32v1m0 20v1m0 10v1m1 -7v1m0 20v1m1 -35v1m1 -9v1m0 6v1m1 9v1m0 1v1m0 8v1m0 12v1m1 -40v1m0 2v1m0 2v1m0 0v1m0 1v1m0 2v1m0 15v1m0 12v1m3 -12v1m1 -25v1m0 7v1m0 5v1m0 2v1m1 -30v1m3 0v1m0 23v1m0 0v1m1 -23v1m0 40v1m3 -7v1m1 -16v1m3 -24v1m0 30v1m1 -18v1m0 12v1m0 5v1m1 -10v1m1 5v1m7 -20v1m2 10v1m7 13v1m0 3v1m6 -18v1m2 9v1"/>
<path stroke="#ffbed2" d="M42.5 0v1"/>
<path stroke="#ffc8d2" d="M2.5 6v1m0 0v1m0 39v1m2 -42v1m0 12v1m0 2v1m0 15v1m0 8v1m1 -37v1m0 11v1m0 3v1m0 5v1m0 11v1m1 -39v1m0 0v1m0 35v1m1 -14v1m0 16v1m1 -10v1m0 2v1m2 -12v1m2 -8v1m0 3v1m0 8v1m1 -14v1m1 -9v1m1 22v1m0 8v1m1 -37v1m0 26v1m1 -37v1m0 0v1m0 13v1m0 4v1m0 0v1m0 22v1m1 -42v1m0 0v1m0 0v1m0 19v1m2 -22v1m0 22v1m0 13v1m1 -39v1m0 11v1m0 10v1m0 11v1m1 -31v1m0 29v1m1 -22v1m0 0v1m1 8v1m2 4v1m0 3v1m0 7v1m1 -39v1m0 18v1m1 -6v1m0 20v1m2 -41v1m0 31v1m0 7v1m1 -5v1m1 -38v1m0 17v1m0 1v1m0 4v1m0 11v1m0 2v1m0 1v1m1 -44v1m0 17v1m0 16v1m1 2v1m1 -39v1m0 5v1m0 21v1m0 4v1m0 3v1m0 0v1m1 -37v1m1 -4v1m0 38v1m1 -33v1m0 3v1m0 1v1m0 1v1m0 0v1m0 17v1m0 11v1m1 -47v1m0 0v1m0 1v1m0 11v1m1 -15v1m0 5v1m0 35v1m0 2v1m1 -47v1m0 0v1m0 11v1m0 13v1m0 0v1m0 8v1m0 3v1m1 -32v1m0 3v1m1 -16v1m0 5v1m0 4v1m0 7v1m0 4v1m0 2v1m0 14v1m0 0v1m1 -44v1m0 1v1m0 7v1m0 32v1m0 0v1m1 -45v1m0 0v1m0 10v1m0 6v1m0 22v1m1 -43v1m0 0v1m0 13v1m0 28v1m1 -45v1m0 0v1m0 0v1m1 -3v1m0 1v1m1 -3v1m0 1v1m0 0v1m0 12v1m1 -17v1m0 9v1m0 3v1m0 14v1m0 9v1m0 1v1m0 5v1m1 -35v1m0 13v1m0 13v1m0 2v1m0 1v1m1 -18v1m1 -5v1m1 -23v1m0 10v1m0 3v1m0 4v1m0 1v1m0 10v1m0 2v1m0 4v1m1 -43v1m1 -2v1m0 10v1m0 3v1m0 4v1m0 11v1m0 1v1m2 -34v1m0 4v1m0 6v1m0 10v1m1 -8v1m0 6v1m1 0v1m0 20v1m2 -26v1m0 13v1m1 -16v1m0 3v1m1 -8v1m0 7v1m0 9v1m0 1v1m0 8v1m1 -28v1m0 6v1m4 -13v1m0 25v1m3 2v1m1 -34v1m0 2v1m1 -1v1m1 23v1m0 8v1m1 -7v1m3 -7v1m4 -18v1m3 8v1m5 5v1m13 -9v1m1 -9v1m18 1v1"/>
<path stroke="#ffd2d2" d="M2.5 10v1m2 17v1m1 -8v1m0 12v1m1 11v1m2 -41v1m3 0v1m0 14v1m2 26v1m4 -9v1m0 2v1m1 -34v1m0 25v1m3 10v1m1 -39v1m1 13v1m3 -4v1m0 24v1m1 -23v1m3 -22v1m0 2v1m0 5v1m0 33v1m0 2v1m1 -24v1m0 1v1m1 -9v1m0 13v1m0 9v1m2 -37v1m0 30v1m1 -35v1m0 26v1m3 -12v1m1 -13v1m0 4v1m0 32v1m2 1v1m1 -48v1m0 17v1m1 26v1m1 -34v1m0 33v1m1 -11v1m0 10v1m1 -32v1m0 1v1m1 -6v1m2 28v1m1 -15v1m0 12v1m1 -44v1m0 29v1m0 1v1m0 4v1m0 9v1m1 -48v1m0 46v1m1 -38v1m1 9v1m1 -18v1m1 40v1m0 3v1m1 -6v1m2 -39v1m0 5v1m2 5v1m1 21v1m3 -6v1m1 -15v1m1 13v1m1 -32v1m0 31v1m1 -34v1m1 6v1m2 18v1m0 20v1m1 -47v1m6 6v1m3 6v1m1 20v1m3 -24v1m5 -6v1m5 16v1m3 -21v1m37 6v1"/>
<path stroke="#ffd2dc" d="M4.5 21v1m0 8v1m1 -18v1m0 5v1m0 16v1m1 6v1m4 -16v1m0 18v1m1 -12v1m3 0v1m4 11v1m1 -37v1m3 3v1m0 12v1m0 15v1m2 -26v1m1 -18v1m0 8v1m1 -8v1m0 11v1m2 -14v1m0 3v1m0 1v1m0 29v1m0 0v1m0 0v1m1 -29v1m1 7v1m0 2v1m0 10v1m1 -35v1m0 0v1m0 5v1m1 4v1m0 10v1m1 -9v1m0 21v1m1 -19v1m1 -14v1m0 9v1m0 6v1m0 6v1m1 -15v1m2 -14v1m0 24v1m0 8v1m0 5v1m0 2v1m1 -47v1m0 7v1m0 7v1m0 1v1m0 14v1m0 9v1m1 -29v1m0 3v1m0 5v1m0 2v1m0 8v1m1 -1v1m1 -5v1m0 1v1m0 1v1m1 -40v1m0 10v1m0 36v1m1 -42v1m0 31v1m1 -28v1m0 18v1m0 4v1m1 -25v1m0 0v1m0 26v1m1 -7v1m0 4v1m0 2v1m1 -40v1m0 23v1m0 8v1m1 -37v1m0 23v1m0 3v1m0 18v1m1 -48v1m0 4v1m0 5v1m1 -11v1m1 -2v1m0 0v1m0 9v1m0 0v1m0 1v1m1 -16v1m0 0v1m0 0v1m1 -3v1m0 25v1m0 2v1m0 3v1m1 -34v1m0 0v1m1 -2v1m0 45v1m1 -47v1m0 0v1m1 -2v1m0 0v1m0 2v1m0 15v1m0 5v1m1 -27v1m0 16v1m0 11v1m1 -29v1m0 32v1m0 13v1m1 -38v1m0 23v1m1 -30v1m0 1v1m0 18v1m0 1v1m0 13v1m1 -43v1m0 28v1m1 -22v1m0 5v1m0 14v1m1 -6v1m0 17v1m1 -3v1m1 -26v1m0 0v1m1 1v1m1 -2v1m0 14v1m1 -28v1m0 7v1m2 20v1m2 -10v1m0 8v1m1 -34v1m0 17v1m0 20v1m0 0v1m0 0v1m1 -29v1m0 14v1m6 -15v1m0 16v1m0 10v1m2 -42v1m2 12v1m0 0v1m1 15v1m4 -14v1m0 20v1m1 0v1m0 5v1m2 -20v1m1 -6v1m0 8v1m2 -24v1m0 3v1m8 7v1m27 -7v1"/>
<path stroke="#ffdcdc" d="M6.5 6v1m0 21v1m8 16v1m1 -3v1m2 -23v1m0 0v1m2 2v1m2 -15v1m0 4v1m0 27v1m1 -39v1m1 -1v1m0 41v1m4 -30v1m1 25v1m1 -22v1m0 1v1m0 22v1m1 -42v1m0 8v1m0 0v1m0 1v1m0 9v1m1 -23v1m0 29v1m1 -25v1m2 -1v1m1 -1v1m1 2v1m0 22v1m3 -1v1m1 -24v1m0 7v1m4 0v1m2 21v1m1 -36v1m3 35v1m3 -6v1m0 4v1m1 -49v1m0 0v1m0 1v1m0 3v1m0 23v1m2 1v1m1 -16v1m1 -12v1m1 -8v1m1 -2v1m1 -1v1m1 -1v1m0 1v1m0 20v1m0 11v1m0 9v1m1 -46v1m1 31v1m1 -24v1m0 32v1m3 -42v1m0 13v1m0 4v1m0 5v1m4 -2v1m2 -24v1m1 1v1m0 13v1m0 10v1m1 3v1m1 -20v1m2 -12v1m0 20v1m0 0v1m0 6v1m1 -31v1m0 24v1m0 9v1m2 -36v1m1 0v1m1 3v1m0 21v1m6 -19v1m1 7v1m0 5v1m0 12v1m5 -28v1m8 3v1m32 9v1"/>
<path stroke="#ffdce6" d="M5.5 43v1m1 -23v1m6 24v1m9 -27v1m0 13v1m1 -14v1m7 16v1m2 -23v1m1 16v1m0 1v1m2 -16v1m0 12v1m0 0v1m0 3v1m0 3v1m1 -23v1m1 22v1m3 -38v1m0 17v1m1 -10v1m1 30v1m1 -33v1m0 32v1m1 -26v1m0 17v1m1 -13v1m1 -5v1m0 6v1m1 -2v1m0 9v1m1 -30v1m1 -11v1m0 13v1m0 6v1m0 17v1m1 -9v1m1 -31v1m0 39v1m1 -33v1m0 29v1m1 -1v1m1 -25v1m1 17v1m0 0v1m1 -12v1m0 19v1m0 0v1m1 -44v1m1 15v1m0 21v1m2 -33v1m0 25v1m2 -34v1m0 24v1m1 -26v1m1 25v1m0 4v1m1 -33v1m0 0v1m0 9v1m0 4v1m0 28v1m1 -46v1m0 0v1m1 -2v1m0 0v1m0 7v1m0 12v1m1 -23v1m0 0v1m0 1v1m0 32v1m1 -37v1m1 18v1m2 -18v1m0 4v1m0 33v1m1 -40v1m0 14v1m2 5v1m1 -5v1m0 1v1m0 13v1m0 3v1m1 -24v1m3 -3v1m0 4v1m0 18v1m1 -9v1m0 2v1m1 -15v1m1 0v1m0 13v1m1 -33v1m0 16v1m0 6v1m3 -17v1m0 34v1m3 -17v1m0 12v1m2 -29v1m0 11v1m0 9v1m7 -16v1m5 -19v1m30 11v1"/>
<path stroke="#ffe6e6" d="M5.5 5v1m1 17v1m8 -6v1m3 -5v1m1 -3v1m1 15v1m11 -16v1m4 27v1m2 5v1m3 -20v1m5 -9v1m1 -10v1m0 28v1m0 7v1m3 -10v1m0 9v1m1 -22v1m0 20v1m1 -46v1m0 35v1m2 -30v1m2 28v1m1 -3v1m1 1v1m3 5v1m1 -26v1m2 19v1m0 0v1m3 -25v1m0 14v1m1 -13v1m0 21v1m1 -7v1m2 -38v1m0 0v1m1 -2v1m0 24v1m1 -26v1m0 25v1m1 -27v1m1 -1v1m0 1v1m1 30v1m0 4v1m1 -26v1m1 24v1m2 -38v1m0 37v1m2 5v1m1 -19v1m5 4v1m5 1v1m1 -16v1m3 14v1m1 -10v1m0 15v1m2 -34v1m1 14v1m6 18v1m31 -26v1"/>
<path stroke="#ffe6f0" d="M18.5 39v1m3 -28v1m8 19v1m2 -28v1m9 -2v1m6 19v1m0 22v1m3 -8v1m2 -38v1m2 36v1m4 -39v1m0 31v1m3 8v1m5 -42v1m3 6v1m0 4v1m3 32v1m2 -42v1m0 14v1m1 -22v1m1 -1v1m1 -1v1m1 -1v1m2 28v1m1 -29v1m2 25v1m2 9v1m8 -13v1m11 3v1m19 3v1"/>
<path stroke="#fff0f0" d="M19.5 26v1m3 -5v1m27 -2v1m6 -5v1m0 25v1m4 -4v1m1 -1v1m3 -21v1m7 -20v1m4 22v1m4 -25v1m1 -1v1m1 -1v1m0 34v1m1 -36v1m0 2v1m0 40v1m1 -45v1m0 0v1m0 3v1m0 3v1m1 -10v1m1 -1v1m7 6v1m2 17v1m0 8v1m3 -30v1m11 23v1m5 -5v1m11 7v1m9 -28v1m1 31v1"/>
<path stroke="#fff0fa" d="M55.5 40v1m8 -1v1m14 -40v1m8 -2v1m1 -1v1m32 1v1"/>
<path stroke="#fffafa" d="M87.5 0v1m1 -1v1m1 -1v1m1 -1v1m1 -1v1m1 -1v1m1 -1v1m1 -1v1m1 -1v1"/>
<path stroke="#fafafa" d="M21.5 26v1m7 1v1m6 -23v1m2 5v1m1 19v1m20 13v1m7 -7v1m2 -38v1m2 36v1m0 6v1m1 -8v1m2 -1v1m2 -1v1m1 -1v1m2 -39v1m0 37v1m4 -36v1m5 8v1m2 -13v1m1 -2v1m1 -1v1m6 1v1m1 -4v1m1 -1v1m1 -1v1m1 -1v1m1 -1v1m0 20v1m1 -22v1m4 1v1m12 18v1m9 -3v1m9 0v1m7 -5v1m23 24v1"/>
<path stroke="#f0fafa" d="M61.5 32v1m7 -15v1m17 -18v1m4 8v1m3 -10v1m0 18v1m4 -15v1m1 14v1m1 -21v1m2 -1v1m0 1v1m1 -2v1m1 -3v1m1 -1v1m1 -1v1m1 -1v1m1 -1v1m1 -1v1m0 22v1m1 -24v1m3 29v1m1 -29v1m0 0v1m1 5v1m0 27v1m2 -37v1m0 40v1m1 -42v1m11 12v1m5 34v1m12 -25v1m9 17v1"/>
<path stroke="#e6fafa" d="M81.5 40v1m20 -40v1m8 -2v1m1 -1v1m1 -1v1m13 0v1m0 41v1m30 -34v1"/>
<path stroke="#e6f0fa" d="M5.5 6v1m23 6v1m8 4v1m0 1v1m0 25v1m12 -42v1m5 25v1m12 -27v1m1 -1v1m2 16v1m2 17v1m3 -9v1m0 8v1m2 -18v1m2 -8v1m0 28v1m1 -31v1m0 23v1m0 4v1m2 -34v1m0 35v1m3 -32v1m4 -2v1m0 29v1m2 -32v1m0 1v1m0 0v1m0 1v1m0 4v1m0 10v1m1 -2v1m1 -30v1m0 16v1m1 -22v1m0 19v1m1 -9v1m0 16v1m1 -30v1m2 -2v1m1 2v1m0 1v1m1 -5v1m0 1v1m1 -4v1m0 1v1m0 10v1m0 10v1m1 -11v1m0 12v1m1 -23v1m0 7v1m0 7v1m0 2v1m1 0v1m0 18v1m1 -45v1m1 0v1m0 43v1m0 1v1m1 -48v1m1 -1v1m0 7v1m0 23v1m0 9v1m0 1v1m0 3v1m1 -48v1m0 12v1m0 6v1m0 12v1m1 -6v1m2 -30v1m0 0v1m1 21v1m0 16v1m1 -42v1m0 3v1m0 16v1m0 2v1m0 10v1m0 6v1m1 -43v1m0 30v1m0 0v1m1 -33v1m0 0v1m1 12v1m0 12v1m0 4v1m0 2v1m1 -9v1m1 4v1m1 -24v1m0 9v1m0 9v1m1 -29v1m0 23v1m2 -24v1m0 7v1m0 36v1m2 -45v1m0 10v1m1 6v1m0 24v1m1 -42v1m1 22v1m0 1v1m2 -12v1m1 16v1m0 6v1m1 -27v1m0 5v1m0 17v1m2 -32v1m0 7v1m0 15v1m0 13v1m1 -46v1m0 35v1m0 4v1m1 -35v1m0 9v1m0 1v1m1 -9v1m0 23v1m1 0v1m1 9v1m4 -15v1m1 -24v1m1 -11v1m1 10v1m0 33v1m2 -39v1m1 13v1m0 4v1m4 5v1m1 -15v1m3 6v1m0 13v1m4 -13v1m1 5v1m5 -8v1m0 20v1m4 -9v1"/>
<path stroke="#dcf0fa" d="M63.5 42v1m0 6v1m10 -11v1m4 0v1m0 3v1m1 -7v1m1 1v1m1 -1v1m3 -6v1m0 4v1m1 -3v1m0 1v1m2 -1v1m1 -31v1m2 15v1m0 17v1m4 -32v1m0 25v1m1 -34v1m0 38v1m1 -9v1m3 8v1m0 0v1m1 -2v1m1 -12v1m0 5v1m1 -27v1m0 1v1m1 -14v1m0 42v1m1 -35v1m0 14v1m3 19v1m1 -43v1m1 -6v1m1 -1v1m0 0v1m0 1v1m2 -4v1m0 0v1m0 23v1m0 9v1m1 -36v1m1 0v1m0 15v1m0 2v1m0 19v1m2 -42v1m0 1v1m0 30v1m1 -34v1m0 1v1m0 11v1m1 -15v1m0 1v1m0 11v1m0 0v1m0 13v1m1 -30v1m0 0v1m0 14v1m0 1v1m0 2v1m1 -22v1m0 35v1m1 -37v1m0 23v1m1 -22v1m0 11v1m0 13v1m0 18v1m1 -48v1m0 16v1m1 12v1m2 -30v1m1 4v1m0 10v1m0 10v1m1 -8v1m0 20v1m2 -43v1m0 0v1m0 26v1m1 -29v1m2 40v1m1 -42v1m1 1v1m0 3v1m1 -7v1m0 19v1m0 1v1m1 13v1m2 -22v1m0 2v1m2 7v1m0 1v1m3 3v1m0 14v1m1 -44v1m0 4v1m1 7v1m0 17v1m0 4v1m2 -21v1m1 -5v1m1 1v1m1 0v1m1 -1v1m0 4v1m0 11v1m0 7v1m0 0v1m2 -37v1m0 10v1m0 20v1m1 -26v1m0 8v1m0 0v1m0 19v1m1 1v1m2 -27v1m1 14v1m1 -1v1m1 -22v1m0 7v1m0 13v1m1 -35v1m1 19v1m1 -1v1m2 -20v1m0 7v1m0 12v1m4 -5v1m4 -8v1m1 -7v1m0 22v1m3 -29v1m0 5v1"/>
<path stroke="#d2f0fa" d="M75.5 31v1m2 -3v1m5 10v1m2 -6v1m1 -2v1m0 5v1m3 -9v1m1 7v1m2 -23v1m0 21v1m2 -26v1m2 5v1m4 7v1m1 -17v1m0 31v1m1 -22v1m0 13v1m2 -33v1m0 36v1m4 -1v1m4 -26v1m0 10v1m2 -29v1m0 11v1m0 1v1m2 33v1m1 -31v1m0 18v1m1 -32v1m1 26v1m1 6v1m1 6v1m1 -49v1m0 0v1m0 6v1m1 -9v1m0 48v1m1 -50v1m1 -1v1m0 3v1m0 30v1m1 -36v1m0 0v1m1 -2v1m0 47v1m1 -44v1m4 18v1m0 1v1m1 -22v1m0 27v1m0 12v1m2 -45v1m1 23v1m0 5v1m1 -31v1m0 46v1m1 -48v1m0 0v1m1 45v1m1 -8v1m0 2v1m2 -43v1m1 -2v1m0 25v1m1 -25v1m0 30v1m2 -31v1m0 3v1m0 10v1m1 -18v1m1 2v1m0 23v1m0 10v1m1 -36v1m0 22v1m1 -7v1m1 19v1m1 -3v1m1 -40v1m0 11v1m0 0v1m2 20v1m1 -3v1m1 -14v1m3 -6v1m1 -13v1m0 5v1m2 17v1m0 0v1m1 -28v1m2 8v1m1 11v1m3 -4v1m0 6v1m1 -5v1m0 14v1m4 -23v1m0 0v1m0 19v1"/>
<path stroke="#c8e6fa" d="M57.5 47v1m12 -23v1m7 13v1m8 -30v1m0 11v1m1 6v1m0 0v1m2 7v1m0 1v1m1 -17v1m0 15v1m0 6v1m1 1v1m1 -10v1m3 -32v1m0 25v1m2 -6v1m0 9v1m1 -9v1m0 7v1m2 -1v1m1 -28v1m1 24v1m1 -7v1m1 -12v1m4 -6v1m1 9v1m1 -9v1m1 -7v1m0 9v1m1 0v1m2 7v1m1 -6v1m0 16v1m1 -42v1m0 30v1m1 -10v1m1 21v1m1 -46v1m0 2v1m0 0v1m0 6v1m2 -10v1m1 -2v1m0 43v1m1 -14v1m1 -32v1m1 -2v1m0 3v1m0 42v1m1 -35v1m0 1v1m0 3v1m1 -1v1m1 -10v1m0 5v1m0 18v1m1 -37v1m0 0v1m0 19v1m0 10v1m1 -33v1m0 16v1m0 18v1m1 -37v1m0 6v1m0 12v1m0 28v1m1 -50v1m0 1v1m0 39v1m0 6v1m1 -50v1m0 0v1m0 14v1m1 -17v1m1 -1v1m0 5v1m0 25v1m1 -32v1m1 0v1m1 9v1m1 10v1m0 9v1m1 -33v1m0 32v1m0 13v1m1 -33v1m2 -11v1m0 18v1m0 4v1m0 12v1m1 -43v1m0 47v1m1 -20v1m1 -25v1m0 8v1m1 -15v1m0 42v1m1 4v1m1 -14v1m1 -1v1m1 -27v1m0 5v1m0 28v1m1 -22v1m1 19v1m3 -39v1m0 14v1m0 2v1m0 9v1m1 -25v1m0 1v1m0 0v1m0 30v1m3 -32v1m0 1v1m0 21v1m1 -36v1m0 44v1m1 -34v1m0 8v1m0 6v1m1 15v1m1 -42v1m0 9v1m0 10v1m0 3v1m1 -21v1m0 10v1m1 -10v1m0 31v1m1 -35v1m0 25v1m2 -8v1m3 -18v1m0 21v1m3 3v1m0 9v1m1 -41v1m0 27v1m1 -18v1m1 -2v1m1 6v1m1 -2v1"/>
<path stroke="#bee6f0" d="M77.5 19v1m0 5v1m0 6v1m11 -2v1m1 -9v1m0 3v1m0 11v1m1 -8v1m4 7v1m1 -21v1m2 19v1m2 -4v1m1 2v1m1 -6v1m0 4v1m1 -34v1m0 27v1m6 -32v1m1 27v1m2 -29v1m0 1v1m1 7v1m0 25v1m4 -30v1m0 27v1m1 -13v1m0 2v1m1 -23v1m1 -5v1m0 19v1m0 10v1m1 -35v1m0 26v1m0 16v1m2 -20v1m1 -20v1m0 29v1m0 8v1m1 -45v1m0 5v1m1 1v1m0 22v1m1 -33v1m1 0v1m0 17v1m0 12v1m0 7v1m1 -41v1m0 0v1m1 25v1m2 -17v1m1 -12v1m0 0v1m1 -1v1m0 4v1m1 -8v1m0 5v1m0 42v1m1 -50v1m0 27v1m1 -29v1m0 0v1m1 -2v1m0 0v1m1 -2v1m0 14v1m0 16v1m1 -33v1m0 0v1m0 2v1m0 12v1m0 6v1m0 2v1m1 -27v1m0 0v1m0 0v1m0 8v1m0 31v1m1 -44v1m0 44v1m1 -34v1m1 7v1m1 -14v1m0 0v1m0 18v1m1 10v1m1 -10v1m0 4v1m1 7v1m3 -35v1m1 22v1m1 -10v1m2 -2v1m0 5v1m0 9v1m0 0v1m1 -21v1m1 0v1m0 23v1m1 -26v1m0 27v1m1 -43v1m1 18v1m1 4v1m0 3v1m2 -10v1m0 13v1m1 -21v1m4 4v1m1 -2v1m2 -20v1m0 6v1m2 23v1m1 -10v1m0 1v1m0 8v1m1 -10v1m0 21v1m2 -47v1"/>
<path stroke="#b4e6f0" d="M77.5 4v1m12 1v1m14 33v1m6 -12v1m7 -12v1m4 19v1m20 -39v1m0 46v1m1 -48v1m0 19v1m5 7v1m2 -13v1m2 28v1m1 -25v1m2 -21v1m4 -1v1m4 10v1m2 -2v1m1 25v1m1 -19v1"/>
<path stroke="#b4dcf0" d="M70.5 13v1m7 21v1m8 -16v1m0 28v1m2 -37v1m1 28v1m1 -13v1m3 9v1m1 -17v1m1 -7v1m0 3v1m3 1v1m0 20v1m3 -20v1m0 17v1m1 -33v1m0 13v1m0 9v1m0 7v1m1 -25v1m0 8v1m0 4v1m0 5v1m1 -19v1m2 23v1m0 0v1m1 -35v1m0 5v1m0 24v1m3 -38v1m0 22v1m0 13v1m0 2v1m1 -35v1m0 31v1m2 -33v1m2 -3v1m0 17v1m1 -9v1m0 14v1m1 -32v1m0 20v1m1 22v1m1 -37v1m1 -12v1m0 24v1m0 1v1m0 15v1m2 -34v1m1 1v1m0 0v1m0 19v1m3 -15v1m0 23v1m1 -42v1m0 19v1m1 -19v1m0 37v1m0 2v1m1 -6v1m1 -21v1m0 17v1m1 -23v1m0 15v1m1 -26v1m0 0v1m0 4v1m0 17v1m0 0v1m0 3v1m1 -4v1m3 7v1m2 3v1m1 -46v1m0 0v1m0 2v1m0 0v1m0 5v1m0 10v1m0 2v1m0 1v1m0 13v1m1 -22v1m1 -10v1m0 0v1m0 4v1m0 1v1m0 2v1m1 -23v1m0 21v1m0 1v1m1 -27v1m0 19v1m0 1v1m0 20v1m1 -44v1m0 37v1m1 -39v1m0 0v1m0 32v1m1 -35v1m0 11v1m0 20v1m0 8v1m1 -39v1m0 6v1m0 2v1m0 0v1m0 7v1m0 1v1m0 15v1m1 -27v1m0 2v1m0 23v1m1 -41v1m0 1v1m0 9v1m0 11v1m0 4v1m1 -31v1m0 13v1m0 11v1m0 2v1m1 -30v1m0 0v1m0 13v1m0 18v1m0 4v1m1 -40v1m0 2v1m0 38v1m1 -27v1m0 9v1m0 1v1m0 9v1m0 7v1m1 -34v1m0 7v1m0 12v1m1 -34v1m0 41v1m1 -24v1m0 3v1m2 -16v1m0 32v1m1 -20v1m0 15v1m1 -35v1m0 0v1m0 7v1m0 11v1m0 4v1m1 -32v1m0 46v1m1 -47v1m0 17v1m0 0v1m0 13v1m0 4v1m1 -23v1m0 15v1m1 -30v1m1 25v1m0 8v1m1 -23v1m1 -10v1m0 5v1m0 0v1m1 -11v1m0 20v1m0 19v1m1 -40v1m0 2v1m0 11v1m0 3v1m1 3v1m1 -5v1m0 18v1m1 -27v1m0 11v1m0 10v1m1 -35v1m0 20v1m0 1v1m0 4v1m0 6v1m1 -33v1m0 5v1m0 1v1m0 0v1m1 16v1m0 1v1m2 -21v1m0 6v1m0 13v1m1 -29v1m0 34v1m1 -16v1m0 6v1m0 1v1m0 5v1"/>
<path stroke="#aadcf0" d="M93.5 26v1m10 19v1m2 -7v1m1 -10v1m1 8v1m1 -1v1m1 -14v1m0 5v1m0 5v1m1 -37v1m0 7v1m0 4v1m0 23v1m0 5v1m1 -26v1m1 17v1m2 -32v1m0 8v1m0 1v1m0 5v1m0 14v1m0 6v1m1 -8v1m2 0v1m1 -15v1m0 12v1m1 -30v1m0 6v1m1 20v1m2 -34v1m0 4v1m2 20v1m0 7v1m1 -9v1m2 -30v1m0 4v1m0 15v1m1 15v1m1 -29v1m4 27v1m5 -27v1m0 3v1m0 21v1m1 -39v1m0 6v1m0 16v1m0 4v1m1 6v1m0 1v1m0 0v1m0 3v1m1 -39v1m0 0v1m0 28v1m1 -6v1m0 7v1m1 -40v1m0 6v1m0 4v1m0 8v1m0 17v1m0 6v1m1 -8v1m1 -33v1m1 -9v1m0 0v1m0 4v1m0 1v1m0 31v1m0 6v1m1 -48v1m0 23v1m0 22v1m0 1v1m1 -50v1m0 0v1m0 10v1m0 9v1m1 -23v1m1 -1v1m0 11v1m1 -13v1m0 4v1m1 -5v1m0 11v1m0 12v1m0 18v1m1 -8v1m0 1v1m0 0v1m0 2v1m2 -3v1m1 -3v1m0 2v1m2 -41v1m0 37v1m0 2v1m0 1v1m1 -12v1m0 1v1m2 -13v1m0 11v1m1 -15v1m0 9v1m0 9v1m1 1v1m0 1v1m0 1v1m1 -48v1m1 1v1m0 21v1m1 -8v1m0 24v1m1 -41v1m0 0v1m0 25v1m0 6v1m1 -37v1m0 10v1m0 20v1m0 5v1m1 -1v1m0 6v1m3 -29v1m0 8v1m0 2v1m0 3v1m0 4v1m0 0v1m4 -29v1m1 -2v1m0 13v1m0 15v1"/>
<path stroke="#a0dcf0" d="M99.5 40v1m2 1v1m12 -3v1m1 4v1m3 -6v1m1 5v1m1 -7v1m1 -1v1m1 -1v1m2 -5v1m2 3v1m1 -1v1m1 -1v1m10 -1v1m2 -1v1m1 -2v1m1 -24v1m4 -15v1m0 37v1m2 -40v1m0 38v1m3 -33v1m1 -7v1m1 -3v1m1 -1v1m1 -1v1m0 0v1m0 38v1m1 -41v1m0 3v1m4 35v1m3 -40v1m0 46v1m4 -42v1m0 32v1m4 -1v1m3 -2v1m0 0v1m3 1v1m1 -3v1m3 -1v1"/>
<path stroke="#a0d2f0" d="M93.5 6v1m5 37v1m3 4v1m10 -10v1m3 -13v1m0 10v1m0 1v1m0 4v1m0 1v1m2 -9v1m1 -4v1m0 7v1m0 0v1m2 -32v1m0 4v1m2 -17v1m0 8v1m1 25v1m0 2v1m0 1v1m1 -5v1m2 -3v1m3 -33v1m0 25v1m0 4v1m0 0v1m1 -24v1m0 5v1m0 16v1m1 1v1m1 -37v1m0 41v1m1 -7v1m2 -33v1m0 4v1m0 4v1m0 4v1m0 18v1m0 3v1m5 -32v1m0 18v1m0 0v1m1 -32v1m0 20v1m0 4v1m0 17v1m1 -9v1m1 -34v1m3 26v1m1 -33v1m0 34v1m1 -36v1m0 23v1m1 -2v1m0 9v1m0 4v1m1 -39v1m0 3v1m0 29v1m1 -30v1m0 2v1m0 25v1m1 -28v1m1 38v1m1 -47v1m0 21v1m1 -18v1m1 -7v1m0 24v1m1 -27v1m0 1v1m0 33v1m0 4v1m0 6v1m1 -49v1m0 13v1m0 23v1m0 1v1m1 -40v1m0 47v1m1 -46v1m0 13v1m0 9v1m0 13v1m1 -3v1m0 4v1m1 -45v1m0 1v1m0 9v1m0 1v1m0 20v1m0 11v1m1 -45v1m1 26v1m0 3v1m0 3v1m0 0v1m1 -28v1m0 33v1m1 -1v1m1 -42v1m0 7v1m0 12v1m0 3v1m0 10v1m1 -21v1m0 2v1m1 -21v1m0 37v1m1 -42v1m0 4v1m1 10v1m0 3v1m1 -21v1m0 16v1m0 10v1m0 2v1m1 -8v1m0 21v1m1 -48v1m0 8v1m0 15v1m0 22v1m1 -4v1m0 0v1m3 -42v1m0 23v1m1 8v1"/>
<path stroke="#96d2f0" d="M104.5 40v1m2 -5v1m4 -33v1m0 2v1m0 20v1m4 -13v1m7 5v1m1 17v1m6 -23v1m6 28v1m1 -8v1m2 2v1m2 0v1m1 4v1m1 -2v1m1 -2v1m2 -46v1m0 34v1m5 2v1m2 -1v1m1 -1v1m1 -35v1m1 25v1m1 -5v1m0 11v1m1 -40v1m0 10v1m2 -13v1m0 11v1m1 -13v1m0 29v1m1 -31v1m1 -1v1m0 7v1m0 14v1m0 4v1m0 16v1m1 -46v1m0 5v1m0 29v1m0 3v1m1 -37v1m0 33v1m1 -38v1m1 38v1m1 -39v1m0 8v1m0 1v1m1 -13v1m0 5v1m0 32v1m1 -27v1m1 -14v1m1 4v1m0 23v1m1 8v1m0 0v1m2 -18v1m1 -21v1m0 7v1m1 -10v1m0 37v1m1 -24v1m0 6v1m0 5v1m0 9v1"/>
<path stroke="#8cd2f0" d="M162.5 2v1m1 -3v1m0 0v1m1 -2v1m1 -1v1m1 -1v1m1 -1v1m1 -1v1m0 0v1m1 15v1"/>
<path stroke="#82c8f0" d="M123.5 13v1m34 -12v1m11 1v1m1 -5v1m1 -1v1m1 -1v1m1 -1v1m1 -1v1m1 -1v1"/>
<path stroke="#82bef0" d="M101.5 47v1m9 -36v1m18 13v1m3 -5v1m7 0v1m3 21v1m8 -4v1m1 -26v1m6 -15v1m0 11v1m5 31v1m3 -30v1m2 7v1m0 14v1m1 -14v1m0 17v1m2 -37v1m1 -10v1m1 -1v1m0 9v1m0 3v1m0 29v1m1 -31v1m1 -14v1m2 -3v1m0 4v1m0 9v1m1 -16v1m0 0v1m0 5v1m0 3v1m1 37v1m1 -23v1m0 8v1m1 -30v1m1 3v1"/>
<path stroke="#78bef0" d="M168.5 48v1m9 -49v1m0 0v1m1 -2v1"/>
<path stroke="#5a82f0" d="M161.5 7v1m14 34v1m4 -43v1m0 23v1m0 16v1m1 -24v1m0 1v1m0 1v1m0 25v1"/>
<path stroke="#5082f0" d="M179.5 31v1m1 -32v1m0 28v1"/>
<path stroke="#ff3c46" d="M0.5 1v1"/>
<path stroke="#ff4650" d="M0.5 2v1m0 11v1m1 -14v1m9 31v1"/>
<path stroke="#ffa0a0" d="M1.5 10v1m0 32v1m5 -41v1m4 5v1m0 22v1m0 7v1m2 -30v1m0 4v1m0 5v1m0 11v1m0 8v1m1 -22v1m1 -12v1m0 16v1m0 13v1m1 -42v1m0 1v1m0 10v1m1 3v1m0 0v1m1 -10v1m2 -9v1m0 21v1m1 17v1m2 -41v1m0 35v1m1 -28v1m0 11v1m1 -20v1m17 11v1m3 -4v1m1 16v1m5 -4v1m1 8v1m5 0v1"/>
<path stroke="#ffc8c8" d="M4.5 36v1m2 -13v1m0 6v1m0 3v1m5 -5v1m0 15v1m3 -13v1m2 -12v1m1 -18v1m0 0v1m0 3v1m0 12v1m0 13v1m1 -22v1m0 24v1m1 -14v1m0 2v1m1 12v1m1 -12v1m2 -4v1m1 -7v1m2 -22v1m0 39v1m1 2v1m4 -35v1m0 6v1m0 1v1m1 0v1m1 -4v1m1 -20v1m0 4v1m1 13v1m0 20v1m1 -42v1m0 0v1m1 11v1m1 24v1m0 5v1m0 2v1m1 -8v1m1 -4v1m0 10v1m1 -41v1m1 29v1m2 -37v1m0 15v1m0 11v1m0 14v1m1 -44v1m0 37v1m1 -9v1m3 9v1m1 -11v1m1 -15v1m0 19v1m3 6v1m1 -28v1m4 3v1m1 13v1m2 -5v1m2 -26v1m2 15v1m1 13v1m0 7v1m3 -44v1m2 4v1m0 11v1m1 -2v1m0 25v1m1 -30v1m1 -7v1m11 -2v1"/>
<path stroke="#ffbebe" d="M0.5 37v1m3 9v1m1 -22v1m0 22v1m2 -24v1m0 15v1m1 -38v1m0 7v1m0 10v1m0 11v1m2 -31v1m3 -1v1m0 0v1m0 5v1m2 -11v1m0 18v1m0 10v1m1 -27v1m0 13v1m0 0v1m3 2v1m0 1v1m4 -10v1m1 10v1m0 0v1m0 4v1m1 -27v1m0 21v1m1 0v1m0 11v1m1 -26v1m1 2v1m0 9v1m5 -3v1m1 -7v1m0 8v1m0 4v1m1 -18v1m3 8v1m1 -12v1m1 -3v1m0 9v1m1 -27v1m0 35v1m1 -28v1m0 7v1m2 6v1m0 4v1m9 -25v1m1 4v1m1 12v1m0 16v1m2 -39v1m0 26v1m0 8v1m1 2v1m7 -31v1m0 11v1m11 -9v1m0 0v1m0 8v1m6 -11v1"/>
<path stroke="#fadce6" d="M4.5 3v1m1 26v1m0 7v1m0 0v1m0 2v1m1 -26v1m9 -5v1m2 -1v1m1 -9v1m0 11v1m3 5v1m0 8v1m1 -10v1m2 0v1m1 16v1m1 0v1m2 -40v1m0 15v1m1 -7v1m0 4v1m0 11v1m0 6v1m2 -18v1m0 13v1m0 4v1m1 -28v1m0 14v1m0 13v1m0 4v1m1 -41v1m0 20v1m0 20v1m1 -39v1m0 5v1m0 14v1m0 14v1m0 0v1m1 -41v1m0 35v1m0 2v1m1 -24v1m0 18v1m0 1v1m1 -17v1m0 15v1m2 -38v1m0 5v1m0 15v1m0 4v1m0 10v1m1 -23v1m0 2v1m2 -20v1m0 0v1m0 25v1m2 -28v1m0 13v1m2 4v1m0 22v1m1 -36v1m0 6v1m0 26v1m1 -46v1m0 22v1m0 17v1m0 3v1m1 -4v1m1 -38v1m0 36v1m1 -31v1m1 28v1m0 0v1m1 -41v1m0 27v1m0 7v1m1 -32v1m1 37v1m0 0v1m2 -34v1m1 -14v1m0 29v1m0 13v1m1 -38v1m0 33v1m1 -43v1m0 6v1m0 26v1m1 -4v1m0 14v1m1 -21v1m1 19v1m1 -44v1m0 4v1m0 30v1m1 -30v1m0 22v1m1 -26v1m0 16v1m1 -15v1m1 13v1m1 -1v1m0 17v1m1 -42v1m0 11v1m0 10v1m0 6v1m0 2v1m1 -37v1m0 7v1m0 24v1m1 -20v1m0 13v1m0 9v1m1 -20v1m0 10v1m1 -15v1m0 11v1m1 18v1m1 -30v1m0 14v1m0 9v1m2 -36v1m0 0v1m0 11v1m0 23v1m1 -39v1m0 0v1m0 23v1m0 5v1m0 4v1m1 -26v1m1 9v1m0 1v1m0 15v1m1 -45v1m0 19v1m0 11v1m1 -2v1m0 1v1m1 -33v1m0 16v1m0 5v1m0 16v1m1 -42v1m1 4v1m0 14v1m1 17v1m3 -19v1m1 -3v1m0 13v1m0 8v1m1 -2v1m3 -36v1m0 16v1m0 10v1m2 1v1m0 3v1m1 -1v1m1 -15v1m1 -18v1m2 10v1m2 -17v1m0 28v1m1 -9v1m0 10v1m0 2v1m0 1v1m3 -24v1m4 -13v1m1 -6v1m0 26v1m9 -14v1m10 1v1m4 -15v1m0 21v1m28 -9v1"/>
<path stroke="#faf0f0" d="M28.5 15v1m0 15v1m1 14v1m2 -4v1m1 -33v1m4 37v1m3 -32v1m0 7v1m4 -22v1m3 6v1m1 -1v1m0 13v1m4 -15v1m0 18v1m2 11v1m0 3v1m1 -36v1m0 35v1m1 -44v1m0 6v1m0 23v1m2 -23v1m0 34v1m1 -37v1m0 8v1m0 11v1m0 5v1m3 -1v1m0 1v1m1 -29v1m0 25v1m1 -39v1m0 4v1m0 10v1m0 24v1m1 -42v1m1 19v1m0 14v1m0 0v1m0 1v1m1 -34v1m0 28v1m1 -17v1m1 -19v1m0 42v1m1 -40v1m2 13v1m0 9v1m0 15v1m1 -46v1m0 7v1m1 -5v1m0 20v1m0 10v1m1 -37v1m0 42v1m1 -40v1m0 31v1m0 11v1m1 -49v1m0 18v1m1 -19v1m0 12v1m0 12v1m0 14v1m1 -42v1m0 25v1m0 5v1m1 -34v1m1 23v1m0 3v1m1 -29v1m0 12v1m1 26v1m1 -38v1m0 17v1m1 -22v1m0 0v1m0 11v1m0 13v1m1 -20v1m0 1v1m0 10v1m0 16v1m1 -39v1m0 0v1m0 23v1m0 8v1m1 -35v1m0 16v1m1 -8v1m0 4v1m3 28v1m4 -44v1m0 38v1m1 -40v1m1 40v1m1 -8v1m1 -21v1m3 -9v1m1 18v1m2 1v1m2 0v1m0 7v1m1 -23v1m0 19v1m3 -26v1m0 20v1m1 -5v1m2 -14v1m1 10v1m1 3v1m0 4v1m2 -33v1m0 1v1m0 24v1m2 5v1m1 -16v1m0 23v1m2 -7v1m1 -35v1m0 11v1m5 -4v1m3 -12v1m1 5v1m0 39v1m2 -47v1m1 4v1m0 23v1m0 2v1m6 -7v1m2 -13v1m0 11v1m10 -11v1m10 -6v1"/>
<path stroke="#fae6f0" d="M19.5 19v1m1 -3v1m8 12v1m1 -28v1m0 4v1m1 19v1m1 -4v1m0 3v1m0 0v1m0 5v1m1 -19v1m2 -15v1m0 14v1m0 15v1m0 7v1m2 -41v1m0 2v1m0 2v1m0 18v1m0 2v1m0 3v1m0 5v1m1 -39v1m0 9v1m0 1v1m0 10v1m0 15v1m2 -23v1m1 -8v1m2 18v1m0 0v1m0 8v1m3 -36v1m1 0v1m0 0v1m0 9v1m1 -14v1m0 12v1m0 7v1m2 -20v1m0 29v1m1 -36v1m0 18v1m3 23v1m2 -19v1m0 4v1m2 -29v1m0 14v1m0 6v1m1 4v1m0 13v1m1 -45v1m0 23v1m0 5v1m1 -27v1m0 37v1m1 -41v1m0 36v1m0 4v1m0 0v1m1 -38v1m0 26v1m1 -25v1m0 5v1m0 24v1m0 1v1m1 -41v1m0 22v1m1 1v1m1 -30v1m0 46v1m1 -48v1m0 19v1m0 7v1m0 10v1m0 5v1m1 -27v1m0 14v1m0 7v1m1 -17v1m0 9v1m0 0v1m1 7v1m1 -4v1m1 -24v1m0 9v1m1 -31v1m1 4v1m0 4v1m0 35v1m1 -47v1m1 20v1m0 23v1m1 -38v1m0 21v1m2 -30v1m0 2v1m0 0v1m1 14v1m2 7v1m1 -29v1m0 27v1m1 -14v1m0 13v1m0 2v1m0 11v1m2 -42v1m1 12v1m0 18v1m1 -35v1m0 15v1m2 22v1m1 -20v1m1 24v1m1 -15v1m1 -14v1m0 5v1m0 14v1m2 -16v1m0 6v1m0 15v1m1 -23v1m0 13v1m0 2v1m0 1v1m1 -37v1m0 30v1m1 -37v1m0 36v1m0 5v1m1 -22v1m0 1v1m3 -20v1m1 0v1m1 19v1m3 -23v1m0 16v1m0 0v1m4 10v1m1 -23v1m2 30v1m16 -5v1m2 -20v1m2 24v1m1 -43v1m0 14v1m15 -9v1m4 -9v1m9 -4v1m0 21v1"/>
<path stroke="#f0f0fa" d="M5.5 4v1m24 37v1m7 -32v1m11 37v1m5 -28v1m9 -11v1m0 30v1m7 -39v1m3 15v1m0 6v1m2 19v1m4 -42v1m0 28v1m1 -16v1m5 -9v1m0 1v1m2 -14v1m0 2v1m1 5v1m0 6v1m1 7v1m3 -26v1m1 0v1m0 9v1m0 4v1m0 11v1m0 2v1m2 -31v1m1 4v1m0 13v1m1 -21v1m1 34v1m1 -36v1m2 4v1m0 40v1m1 -46v1m0 4v1m0 1v1m2 -9v1m0 3v1m1 -4v1m0 8v1m1 -11v1m0 5v1m0 36v1m3 -44v1m0 9v1m0 25v1m2 -24v1m1 28v1m1 -35v1m0 33v1m4 -21v1m0 24v1m1 -15v1m1 8v1m3 -41v1m3 -2v1m0 6v1m4 25v1m2 -3v1m1 -28v1m0 41v1m2 -38v1m0 26v1m1 -20v1m2 -5v1m0 14v1m13 -28v1m6 26v1m1 -8v1"/>
<path stroke="#faf0fa" d="M29.5 28v1m18 13v1m2 -37v1m2 42v1m6 -29v1m1 1v1m0 20v1m3 -16v1m6 10v1m1 -12v1m1 -16v1m2 -5v1m1 29v1m1 6v1m2 -14v1m3 -2v1m2 15v1m2 -5v1m0 1v1m8 -17v1m1 -31v1m1 9v1m1 -11v1m1 -1v1m2 13v1m1 1v1m2 -9v1m0 21v1m10 5v1m3 -32v1m0 26v1m8 -16v1m0 30v1m13 -13v1m3 9v1m11 -45v1m16 -1v1"/>
<path stroke="#96c8f0" d="M101.5 31v1m5 8v1m3 -28v1m1 34v1m4 -22v1m4 19v1m1 -35v1m2 -8v1m1 22v1m6 18v1m1 -17v1m2 -10v1m0 11v1m6 -31v1m0 2v1m0 21v1m1 6v1m0 0v1m0 3v1m2 -38v1m3 10v1m0 17v1m0 11v1m1 -21v1m2 -9v1m0 5v1m1 19v1m2 -12v1m1 -28v1m0 11v1m1 19v1m2 -6v1m2 -32v1m0 21v1m0 7v1m1 0v1m0 15v1m1 -46v1m0 4v1m0 8v1m0 1v1m1 -19v1m0 30v1m1 -33v1m0 20v1m0 13v1m1 -35v1m0 9v1m1 21v1m0 14v1m1 -42v1m0 13v1m0 19v1m1 -21v1m1 6v1m1 -28v1m1 -2v1m0 10v1m0 26v1m0 5v1m0 1v1m0 0v1m0 0v1m2 -26v1m0 6v1m0 0v1m0 9v1m1 -4v1m3 -19v1m0 11v1m1 -3v1m1 -1v1m1 -26v1m0 4v1m0 18v1m0 6v1m0 5v1m1 -38v1m0 16v1m0 12v1m1 -5v1m0 6v1m1 -36v1m0 9v1m0 5v1m1 1v1m0 2v1"/>
<path stroke="#8cc8f0" d="M109.5 40v1m5 -18v1m11 2v1m7 4v1m2 8v1m2 -1v1m2 -13v1m0 12v1m2 -10v1m6 -14v1m2 -13v1m2 18v1m0 5v1m0 14v1m1 -19v1m5 -17v1m0 3v1m0 5v1m0 3v1m1 -23v1m0 0v1m4 -3v1m0 14v1m1 -3v1m1 -6v1m2 -12v1m3 37v1m3 -35v1m0 31v1m1 -13v1m1 3v1m0 12v1m1 -41v1m1 5v1m0 37v1m1 -16v1m1 -30v1m0 15v1m1 -17v1m0 3v1m0 4v1m0 0v1m0 3v1m0 29v1m1 -7v1"/>
<path stroke="#78b4f0" d="M134.5 35v1m17 -14v1m5 9v1m15 -29v1m1 -4v1m0 16v1m1 9v1m1 -28v1m1 -1v1m0 5v1m1 38v1m1 -37v1m1 -10v1m0 19v1m1 23v1m1 -25v1m0 1v1"/>
<path stroke="#6496f0" d="M114.5 49v1m54 -43v1m0 22v1m3 -9v1m4 -2v1m3 16v1m1 -38v1m0 10v1m0 26v1m0 9v1m1 -41v1m0 2v1m0 4v1m0 12v1m0 1v1m0 10v1"/>
<path stroke="#5a8cf0" d="M161.5 33v1m15 -30v1m3 4v1m0 4v1m1 -14v1m0 22v1m0 1v1m0 6v1m0 0v1m0 7v1"/>
<path stroke="#ff5050" d="M1.5 2v1m0 19v1m8 -8v1"/>
<path stroke="#ffaaaa" d="M0.5 31v1m0 3v1m0 13v1m2 -41v1m0 7v1m0 1v1m0 6v1m0 7v1m0 10v1m1 -30v1m1 12v1m1 -27v1m2 7v1m0 27v1m0 2v1m1 -24v1m0 4v1m0 4v1m1 -28v1m1 34v1m0 1v1m1 -23v1m0 1v1m0 5v1m2 -12v1m0 18v1m1 6v1m1 -33v1m1 12v1m7 -13v1m0 5v1m0 29v1m0 1v1m1 -46v1m0 17v1m0 7v1m1 7v1m1 -8v1m0 7v1m1 -26v1m2 -3v1m1 8v1m0 18v1m8 -19v1m3 -14v1m3 22v1m0 11v1m15 -2v1m1 -39v1"/>
<path stroke="#fabec8" d="M0.5 46v1m3 -34v1m1 -10v1m0 2v1m0 38v1m1 -18v1m0 5v1m0 12v1m1 -31v1m5 9v1m0 15v1m0 3v1m2 -43v1m0 18v1m1 12v1m1 5v1m1 -3v1m1 -34v1m0 16v1m1 -1v1m0 17v1m1 -8v1m0 6v1m0 1v1m2 -42v1m0 27v1m1 5v1m0 2v1m0 4v1m2 0v1m1 -29v1m1 -1v1m0 11v1m1 6v1m1 -32v1m0 5v1m0 1v1m1 8v1m0 8v1m1 -1v1m2 -19v1m1 -10v1m0 18v1m2 9v1m0 12v1m2 -2v1m1 -24v1m0 0v1m0 16v1m1 -32v1m0 9v1m0 19v1m1 -34v1m3 10v1m0 12v1m0 7v1m1 7v1m2 -48v1m1 26v1m2 -3v1m1 -9v1m0 15v1m1 -20v1m1 -10v1m0 28v1m0 4v1m1 -24v1m5 -4v1m0 11v1m0 3v1m1 3v1m2 -29v1m3 9v1m2 19v1m4 3v1m3 -33v1m1 20v1m1 -4v1m4 19v1"/>
<path stroke="#f0f0f0" d="M5.5 37v1m23 10v1m3 -42v1m5 7v1m0 8v1m5 -20v1m1 3v1m5 35v1m2 -35v1m2 -5v1m8 39v1m2 -35v1m0 7v1m4 17v1m1 -32v1m0 31v1m1 4v1m3 -44v1m0 20v1m1 11v1m0 0v1m0 5v1m0 5v1m1 -1v1m1 -41v1m0 15v1m2 -19v1m1 -1v1m4 31v1m0 2v1m1 -20v1m0 5v1m1 19v1m1 -43v1m0 1v1m1 25v1m2 8v1m1 -41v1m0 11v1m0 6v1m0 26v1m2 -34v1m0 26v1m1 -39v1m2 2v1m0 3v1m2 -10v1m0 7v1m0 11v1m0 3v1m0 11v1m2 -36v1m0 34v1m0 3v1m1 -35v1m1 33v1m1 0v1m1 -13v1m0 9v1m0 0v1m2 -19v1m1 -11v1m0 18v1m1 -22v1m0 14v1m1 -17v1m1 12v1m0 15v1m1 -18v1m0 24v1m1 -16v1m5 -24v1m2 13v1m1 -9v1m1 16v1m1 -25v1m0 13v1m1 -8v1m1 12v1m1 -15v1m1 31v1m1 -22v1m0 6v1m1 -25v1m0 15v1m2 17v1m1 -32v1m2 -10v1m0 32v1m1 -12v1m2 -20v1m0 1v1m0 20v1m1 -26v1m0 14v1m2 -14v1m1 -5v1m0 2v1m0 21v1m1 -9v1m6 4v1m2 -23v1m0 17v1m24 -8v1"/>
<path stroke="#e6f0f0" d="M55.5 20v1m2 18v1m6 7v1m5 -40v1m2 15v1m5 15v1m1 -9v1m0 9v1m2 -37v1m0 37v1m1 -19v1m2 -25v1m2 22v1m1 22v1m0 0v1m1 -13v1m1 4v1m1 -18v1m1 -6v1m0 0v1m2 2v1m4 -1v1m0 11v1m1 -15v1m0 22v1m1 -34v1m0 24v1m3 -36v1m0 27v1m4 -5v1m7 11v1m1 -20v1m5 16v1m1 -12v1m3 -3v1m0 9v1m1 -23v1m12 16v1m1 19v1m3 -33v1m6 22v1m4 -31v1m5 -7v1m2 19v1m0 24v1m4 -20v1m2 4v1m2 -8v1m1 6v1m2 -1v1m8 12v1m1 -23v1"/>
<path stroke="#dce6f0" d="M34.5 5v1m0 7v1m3 17v1m2 0v1m8 6v1m1 6v1m1 -24v1m0 7v1m4 -15v1m2 19v1m0 8v1m6 -22v1m0 2v1m0 10v1m2 5v1m1 -15v1m1 17v1m5 -22v1m0 17v1m1 -42v1m0 6v1m3 9v1m2 8v1m0 5v1m1 -25v1m0 4v1m0 1v1m0 16v1m0 1v1m0 8v1m0 0v1m1 -26v1m0 4v1m2 -20v1m1 1v1m0 24v1m2 -31v1m0 1v1m0 20v1m0 12v1m1 -21v1m0 7v1m1 -20v1m0 5v1m0 24v1m0 1v1m1 -33v1m1 -6v1m0 23v1m1 -28v1m0 7v1m0 5v1m0 13v1m0 7v1m0 2v1m1 -43v1m0 0v1m0 4v1m0 2v1m0 0v1m0 19v1m0 1v1m0 6v1m1 3v1m2 -37v1m0 20v1m0 14v1m1 -35v1m0 4v1m0 6v1m0 3v1m0 13v1m0 7v1m1 -38v1m0 33v1m1 -35v1m0 34v1m1 -34v1m0 16v1m1 -21v1m0 0v1m0 7v1m0 11v1m0 4v1m0 1v1m1 -28v1m0 0v1m0 1v1m0 18v1m1 -24v1m0 23v1m0 3v1m1 -1v1m2 3v1m0 5v1m1 -42v1m0 21v1m0 13v1m1 -29v1m0 25v1m1 -11v1m1 -31v1m0 26v1m0 8v1m1 -35v1m0 3v1m0 3v1m0 18v1m1 3v1m0 3v1m1 -22v1m0 22v1m1 -5v1m1 -3v1m0 8v1m1 -40v1m0 5v1m0 0v1m0 34v1m0 1v1m1 -28v1m0 15v1m0 7v1m2 -42v1m0 0v1m0 13v1m0 18v1m1 -32v1m0 6v1m0 9v1m0 5v1m0 5v1m0 3v1m0 1v1m1 -22v1m0 0v1m0 11v1m1 0v1m0 11v1m1 -27v1m1 -18v1m0 31v1m1 -13v1m0 2v1m1 -13v1m1 1v1m1 -13v1m0 2v1m0 9v1m0 7v1m0 3v1m0 12v1m1 -21v1m1 -4v1m0 0v1m0 0v1m0 3v1m0 21v1m1 -43v1m0 3v1m0 7v1m0 29v1m2 -47v1m0 5v1m0 3v1m0 10v1m1 -16v1m0 1v1m0 35v1m1 -27v1m1 6v1m1 -15v1m0 10v1m0 16v1m1 -11v1m1 -17v1m0 10v1m0 6v1m1 8v1m1 2v1m1 -37v1m1 22v1m3 -15v1m0 4v1m0 1v1m0 10v1m0 0v1m1 -13v1m1 -9v1m0 26v1m1 -17v1m0 5v1m2 -26v1m3 -8v1m0 10v1m1 1v1m0 25v1m2 -18v1m0 22v1m1 -46v1m0 9v1m0 29v1m2 -19v1m1 -1v1m3 -23v1m0 12v1m0 7v1m0 17v1m1 -27v1m3 -1v1m0 21v1m1 -4v1m0 3v1m2 -24v1m0 2v1m1 -5v1m2 -5v1m0 29v1m1 -17v1m1 20v1m1 -17v1"/>
<path stroke="#f0e6f0" d="M17.5 46v1m1 -5v1m4 -11v1m0 4v1m6 -18v1m0 14v1m1 -29v1m0 13v1m5 -4v1m0 9v1m0 15v1m2 -32v1m0 13v1m0 8v1m1 -32v1m5 15v1m2 -17v1m0 30v1m4 -26v1m0 0v1m0 30v1m1 -37v1m0 14v1m3 -19v1m0 16v1m0 12v1m0 7v1m0 6v1m1 -43v1m2 -1v1m0 14v1m0 9v1m1 -28v1m1 9v1m1 3v1m0 8v1m0 6v1m0 6v1m2 -25v1m0 19v1m1 -33v1m1 -3v1m0 27v1m0 11v1m1 -23v1m2 0v1m0 22v1m1 -41v1m0 5v1m0 1v1m0 17v1m0 11v1m1 -21v1m1 -12v1m0 16v1m0 1v1m0 0v1m1 -21v1m0 18v1m1 -21v1m0 4v1m0 11v1m0 2v1m0 9v1m0 1v1m1 -37v1m0 6v1m0 17v1m0 3v1m1 -14v1m0 1v1m1 -23v1m0 7v1m1 -8v1m1 6v1m1 -6v1m0 6v1m0 9v1m0 23v1m1 -15v1m1 -28v1m0 5v1m0 22v1m0 4v1m0 0v1m1 -22v1m0 24v1m1 -34v1m0 17v1m0 7v1m1 -29v1m1 -6v1m0 5v1m0 29v1m1 -32v1m0 29v1m0 3v1m0 2v1m3 -43v1m0 39v1m4 -45v1m0 6v1m0 6v1m0 27v1m0 3v1m1 -41v1m0 15v1m1 -2v1m2 -20v1m0 5v1m0 14v1m0 4v1m0 11v1m1 -37v1m0 12v1m0 3v1m0 22v1m1 -29v1m0 2v1m0 8v1m0 4v1m0 10v1m1 -45v1m0 12v1m0 12v1m1 4v1m0 15v1m1 -28v1m0 22v1m1 -28v1m0 5v1m2 -23v1m0 14v1m1 -4v1m0 20v1m1 -19v1m0 0v1m0 18v1m1 -24v1m0 9v1m2 -11v1m0 17v1m1 -12v1m0 20v1m0 5v1m1 -15v1m2 -20v1m0 26v1m1 0v1m4 -12v1m0 15v1m0 0v1m4 -34v1m1 2v1m0 26v1m1 -4v1m1 3v1m1 -12v1m8 10v1m1 -25v1m0 5v1m2 14v1m1 -35v1m0 12v1m0 2v1m1 -6v1m2 -15v1m4 -5v1m2 6v1m13 12v1m2 -13v1m4 -5v1m1 13v1m8 -19v1"/>
<path stroke="#d2e6f0" d="M37.5 46v1m6 -1v1m4 -19v1m10 3v1m4 -15v1m2 12v1m4 -26v1m10 -1v1m2 11v1m2 -15v1m0 18v1m1 -11v1m0 5v1m1 22v1m1 -37v1m0 5v1m0 11v1m1 1v1m0 15v1m0 4v1m2 -39v1m1 0v1m0 11v1m0 0v1m1 11v1m1 -26v1m0 15v1m0 7v1m2 -1v1m1 -14v1m0 15v1m0 7v1m1 -15v1m0 1v1m1 -27v1m1 -1v1m0 21v1m1 -22v1m0 27v1m1 -19v1m0 5v1m0 5v1m0 8v1m2 6v1m1 -18v1m0 3v1m0 3v1m0 1v1m1 8v1m1 -31v1m0 2v1m0 10v1m0 6v1m1 -4v1m1 -19v1m1 -11v1m0 6v1m0 1v1m0 4v1m1 4v1m1 -26v1m0 11v1m0 28v1m0 5v1m1 -29v1m0 14v1m1 5v1m1 -36v1m0 15v1m0 23v1m1 -28v1m0 1v1m0 0v1m0 5v1m0 6v1m1 -4v1m0 8v1m1 -8v1m1 -33v1m0 7v1m0 5v1m0 1v1m0 2v1m2 -20v1m1 8v1m1 25v1m1 2v1m0 2v1m0 2v1m1 -9v1m1 -20v1m0 15v1m0 9v1m1 -25v1m0 3v1m0 1v1m0 3v1m0 8v1m1 -19v1m0 5v1m0 0v1m0 14v1m1 -31v1m2 22v1m1 -24v1m0 18v1m1 -29v1m0 10v1m1 15v1m0 1v1m1 -34v1m0 11v1m0 5v1m0 18v1m0 9v1m1 -24v1m0 5v1m0 11v1m1 -34v1m0 6v1m0 3v1m1 -11v1m0 25v1m1 -33v1m0 1v1m0 0v1m0 26v1m0 9v1m1 -18v1m1 -8v1m0 9v1m0 8v1m2 -12v1m0 16v1m3 0v1m1 -43v1m0 11v1m0 4v1m0 12v1m1 -34v1m0 27v1m1 -17v1m1 0v1m2 4v1m0 5v1m0 5v1m0 13v1m1 -28v1m0 5v1m0 8v1m2 -10v1m0 22v1m1 -7v1m1 -39v1m0 5v1m0 25v1m0 8v1m1 -12v1m1 -16v1m3 -11v1m0 5v1m0 28v1m1 -29v1m0 30v1m1 -21v1m0 7v1m3 -17v1m1 -16v1m0 5v1m0 20v1m0 13v1m0 1v1m0 0v1m1 -42v1m0 29v1m1 -36v1m1 20v1m0 1v1m4 -18v1m2 23v1m1 -29v1m0 42v1m3 -46v1"/>
<path stroke="#aac8f0" d="M94.5 43v1m4 -15v1m3 -23v1m9 10v1m0 22v1m4 -39v1m0 10v1m1 3v1m1 3v1m0 24v1m1 -40v1m2 0v1m3 3v1m0 31v1m2 3v1m1 -27v1m0 18v1m0 3v1m1 -45v1m0 10v1m8 22v1m3 -10v1m1 -20v1m3 30v1m1 -19v1m5 9v1m2 14v1m1 -14v1m2 -27v1m1 -5v1m1 5v1m3 -7v1m0 12v1m0 10v1m2 17v1m2 -37v1m0 0v1m1 -1v1m9 13v1m0 16v1m2 -7v1m0 7v1m1 -37v1m0 24v1m2 -18v1m1 -1v1m0 5v1m0 13v1"/>
<path stroke="#8cbef0" d="M114.5 13v1m0 30v1m11 -41v1m3 2v1m0 5v1m0 29v1m3 -31v1m8 -2v1m1 5v1m0 16v1m1 -27v1m1 1v1m4 10v1m0 11v1m1 -23v1m2 15v1m0 14v1m1 -31v1m2 17v1m4 -1v1m0 2v1m1 -7v1m1 7v1m3 -23v1m0 11v1m1 -14v1m0 32v1m0 2v1m1 -20v1m1 -7v1m2 -4v1m1 -20v1m1 13v1m0 19v1m0 1v1m0 10v1m1 -4v1m0 2v1m1 -48v1m0 29v1m0 9v1m1 -26v1m0 29v1m1 -35v1m0 22v1m0 1v1m1 -24v1m2 -7v1m0 10v1m0 28v1m1 -15v1m3 -19v1m0 25v1"/>
<path stroke="#a0c8f0" d="M93.5 4v1m8 14v1m8 -14v1m0 8v1m1 17v1m4 -28v1m0 27v1m2 -22v1m2 6v1m1 -15v1m2 0v1m2 4v1m2 14v1m1 -20v1m1 33v1m1 -40v1m0 27v1m0 3v1m0 13v1m1 -42v1m0 37v1m2 -41v1m3 30v1m1 -20v1m5 -12v1m0 0v1m1 -4v1m2 -1v1m3 11v1m0 26v1m0 0v1m1 -41v1m0 2v1m0 13v1m0 2v1m1 20v1m1 -42v1m0 3v1m0 3v1m0 3v1m0 0v1m0 5v1m2 -14v1m0 24v1m0 2v1m1 1v1m1 -27v1m1 4v1m2 -15v1m0 9v1m1 -9v1m0 32v1m0 2v1m1 -41v1m0 22v1m1 16v1m1 -8v1m0 6v1m1 -21v1m0 18v1m1 1v1m1 -40v1m1 16v1m1 -19v1m1 4v1m0 11v1m0 6v1m0 7v1m1 -26v1m0 23v1m0 4v1m0 1v1m2 -31v1m1 -6v1m0 28v1m1 -26v1m1 -11v1m0 11v1m0 24v1m0 5v1m0 3v1m2 -6v1m2 -37v1m0 5v1m0 11v1m0 1v1m0 0v1m0 7v1m0 1v1m1 -36v1m0 3v1m0 0v1m0 13v1m0 4v1m0 9v1m0 6v1m1 -17v1m0 15v1m1 -27v1m0 14v1"/>
<path stroke="#78aaf0" d="M141.5 11v1m15 6v1m5 13v1m6 4v1m1 -20v1m0 6v1m0 18v1m0 0v1m3 -39v1m5 -6v1m0 29v1m0 12v1m2 1v1m1 -28v1"/>
<path stroke="#64a0f0" d="M167.5 11v1m12 -10v1m1 33v1m0 7v1"/>
<path stroke="#5078f0" d="M179.5 11v1m0 20v1m0 5v1m1 -37v1m0 36v1m0 6v1"/>
<path stroke="#fa8c96" d="M0.5 3v1m0 15v1m7 27v1m2 -25v1"/>
<path stroke="#fab4be" d="M2.5 3v1m1 30v1m1 -24v1m0 32v1m2 -26v1m0 5v1m7 -15v1m3 14v1m0 5v1m1 -5v1m2 -25v1m1 44v1m1 -8v1m1 -39v1m1 17v1m0 5v1m2 -15v1m6 18v1m1 -26v1m2 18v1m4 -25v1m0 0v1m0 27v1m0 8v1m3 -8v1m2 -25v1m0 3v1m3 10v1m2 -1v1m1 -13v1m1 32v1m2 -31v1m1 12v1m3 -20v1m3 -2v1m2 17v1m3 -3v1m8 1v1m11 -7v1m8 -7v1"/>
<path stroke="#fa96a0" d="M5.5 17v1m2 -15v1m0 5v1m6 17v1m2 -1v1"/>
<path stroke="#ffb4b4" d="M1.5 46v1m1 -10v1m4 -34v1m1 -1v1m1 7v1m0 13v1m1 19v1m1 -6v1m2 5v1m1 -12v1m0 10v1m1 -23v1m1 -10v1m1 11v1m2 -26v1m1 6v1m2 -2v1m0 11v1m0 14v1m1 -28v1m11 -7v1m1 19v1m5 -16v1m1 15v1m0 2v1m1 -7v1m0 15v1m1 -21v1m1 -1v1m1 15v1m1 -7v1m0 15v1m1 -10v1m5 -1v1m1 -12v1m4 -15v1m4 5v1m4 -12v1m0 15v1"/>
<path stroke="#f0b4be" d="M5.5 8v1m9 8v1m0 3v1m16 -6v1m4 -14v1m4 18v1m3 -4v1m1 6v1m1 -23v1m2 42v1m6 -31v1m1 -4v1m12 33v1m6 -23v1m2 -9v1m26 -16v1"/>
<path stroke="#e6d2dc" d="M5.5 47v1m5 -30v1m3 -7v1m15 5v1m1 24v1m2 -20v1m5 9v1m6 -32v1m0 20v1m4 -4v1m1 -12v1m0 26v1m1 -15v1m0 12v1m3 -31v1m0 19v1m1 12v1m1 -12v1m0 3v1m2 9v1m1 -12v1m1 1v1m4 -4v1m1 -6v1m0 0v1m1 -16v1m1 25v1m2 -21v1m4 -10v1m0 1v1m2 -6v1m0 37v1m2 -25v1m0 16v1m0 4v1m1 4v1m1 -20v1m0 0v1m2 -26v1m1 27v1m1 -21v1m2 18v1m0 5v1m2 -18v1m4 -11v1m1 37v1m2 -18v1m0 0v1m0 5v1m3 -1v1m4 -7v1m2 -20v1m2 1v1m0 1v1m3 -1v1m2 19v1m15 -30v1m8 6v1m4 -6v1m1 1v1m30 4v1"/>
<path stroke="#dcdce6" d="M5.5 12v1m23 13v1m0 7v1m8 -3v1m0 6v1m10 -37v1m4 20v1m5 16v1m2 -31v1m0 17v1m3 -25v1m4 38v1m2 -20v1m0 0v1m3 -15v1m2 25v1m2 -32v1m0 5v1m0 30v1m6 -4v1m1 -25v1m1 18v1m0 9v1m2 -23v1m0 12v1m0 11v1m4 -43v1m0 3v1m1 5v1m0 7v1m2 10v1m0 2v1m2 -30v1m0 16v1m0 4v1m1 -16v1m1 -1v1m1 20v1m1 -29v1m1 38v1m1 -27v1m0 1v1m1 0v1m0 6v1m1 2v1m2 4v1m1 -26v1m0 0v1m0 23v1m1 -20v1m0 15v1m1 -31v1m0 4v1m0 9v1m1 -18v1m0 13v1m2 -18v1m0 4v1m0 14v1m3 21v1m0 2v1m2 -14v1m2 -29v1m1 1v1m1 0v1m2 31v1m3 -40v1m1 11v1m0 13v1m0 19v1m1 -17v1m1 9v1m2 -32v1m0 3v1m1 -8v1m3 7v1m2 3v1m1 19v1m2 -24v1m0 2v1m3 -11v1m23 -9v1m1 3v1m1 2v1m1 34v1m4 -43v1m1 16v1"/>
<path stroke="#f0dcdc" d="M13.5 13v1m4 3v1m22 7v1m2 5v1m1 -14v1m4 4v1m0 3v1m1 -25v1m11 25v1m2 16v1m3 -12v1m1 6v1m1 -28v1m4 19v1m0 6v1m3 -10v1m2 -22v1m5 24v1m1 -30v1m3 22v1m4 12v1m1 0v1m10 -19v1m1 -8v1m6 -10v1m0 9v1m0 8v1m2 13v1m13 -28v1m5 31v1m1 -13v1"/>
<path stroke="#e6b4c8" d="M18.5 21v1m4 -2v1m29 27v1m2 -46v1"/>
<path stroke="#dcc8e6" d="M57.5 3v1m43 4v1m4 23v1m51 3v1"/>
<path stroke="#dcbedc" d="M61.5 3v1"/>
<path stroke="#fae6e6" d="M5.5 22v1m0 23v1m12 -12v1m4 -32v1m0 38v1m0 2v1m7 2v1m1 -6v1m2 -39v1m1 35v1m1 2v1m1 2v1m3 -30v1m0 0v1m0 14v1m1 -23v1m1 1v1m0 19v1m1 -29v1m2 -3v1m0 37v1m2 -22v1m2 19v1m2 -33v1m0 9v1m0 3v1m1 -20v1m0 6v1m1 -8v1m1 -1v1m0 39v1m2 -38v1m0 26v1m0 3v1m1 -35v1m2 22v1m1 -6v1m0 4v1m1 -5v1m1 3v1m1 3v1m1 -24v1m0 0v1m0 23v1m0 10v1m1 -37v1m0 10v1m0 25v1m1 -44v1m0 6v1m1 2v1m1 10v1m1 -9v1m0 11v1m0 2v1m1 -28v1m0 2v1m0 18v1m1 -10v1m1 -13v1m0 2v1m0 7v1m0 0v1m0 4v1m0 0v1m0 6v1m0 12v1m0 2v1m2 -30v1m0 4v1m1 9v1m0 8v1m1 -15v1m1 3v1m0 11v1m2 -35v1m0 13v1m0 5v1m1 -14v1m1 -9v1m0 2v1m1 0v1m0 4v1m0 2v1m0 15v1m1 -17v1m0 13v1m2 -31v1m0 3v1m0 2v1m0 37v1m2 -3v1m1 -17v1m1 -27v1m0 19v1m1 -7v1m0 27v1m2 -34v1m1 4v1m1 -9v1m4 1v1m0 2v1m0 1v1m1 -2v1m1 4v1m2 -6v1m3 -7v1m2 -9v1m0 37v1m0 7v1m3 -29v1m1 -12v1m7 5v1m5 -8v1m0 16v1m0 2v1m13 -14v1m0 9v1m3 -16v1m0 18v1"/>
<path stroke="#fad2dc" d="M4.5 5v1m1 14v1m0 3v1m8 -20v1m0 2v1m2 6v1m2 -5v1m0 15v1m1 18v1m0 1v1m3 -35v1m0 13v1m1 -22v1m0 4v1m0 0v1m1 -9v1m3 7v1m0 10v1m2 -21v1m0 12v1m1 -7v1m0 2v1m0 2v1m0 30v1m1 -34v1m0 9v1m0 6v1m0 0v1m1 -15v1m0 2v1m0 18v1m0 5v1m1 -41v1m0 30v1m1 -34v1m0 24v1m0 18v1m1 -24v1m0 5v1m1 1v1m1 -27v1m1 -1v1m0 2v1m2 27v1m1 -28v1m0 16v1m0 6v1m1 -11v1m2 9v1m1 -8v1m1 -9v1m0 4v1m1 -22v1m0 5v1m1 29v1m1 -33v1m0 8v1m0 14v1m1 -20v1m0 22v1m0 4v1m1 -36v1m1 1v1m0 1v1m0 26v1m1 -22v1m1 2v1m0 15v1m1 -15v1m1 -5v1m0 2v1m0 5v1m1 -3v1m0 12v1m0 6v1m1 -5v1m1 -26v1m0 1v1m0 11v1m0 10v1m1 -22v1m0 9v1m1 -20v1m0 27v1m0 5v1m1 -31v1m1 3v1m0 14v1m1 -23v1m0 21v1m0 6v1m2 -39v1m0 0v1m0 5v1m0 5v1m0 24v1m1 0v1m1 -33v1m0 22v1m1 -30v1m0 5v1m0 32v1m1 -8v1m0 12v1m1 -35v1m0 3v1m0 13v1m0 2v1m1 -8v1m0 9v1m1 -26v1m0 15v1m1 -13v1m0 23v1m0 0v1m0 5v1m1 -35v1m0 4v1m1 -12v1m0 4v1m0 17v1m1 -12v1m3 -18v1m0 18v1m0 10v1m0 8v1m2 -38v1m0 13v1m0 3v1m0 14v1m2 -24v1m3 -3v1m0 14v1m0 0v1m5 16v1m1 -44v1m0 31v1m2 -28v1m0 5v1m1 13v1m2 18v1m3 -33v1m4 -9v1m29 8v1m2 7v1"/>
<path stroke="#f0c8d2" d="M5.5 15v1m13 15v1m2 -10v1m2 -15v1m0 15v1m0 10v1m1 8v1m2 1v1m1 1v1m2 -17v1m0 0v1m0 2v1m2 -30v1m0 1v1m0 31v1m0 5v1m1 -33v1m0 21v1m2 -10v1m2 -18v1m0 6v1m1 11v1m1 2v1m0 2v1m0 2v1m4 -27v1m1 30v1m1 -32v1m0 23v1m0 7v1m1 -9v1m1 -28v1m4 -2v1m1 13v1m0 12v1m0 1v1m1 -4v1m1 7v1m3 -15v1m3 -24v1m1 30v1m0 4v1m1 -30v1m0 6v1m0 20v1m0 0v1m1 -5v1m2 -15v1m2 -12v1m0 22v1m2 -6v1m2 -29v1m0 17v1m0 9v1m1 6v1m2 -3v1m3 -30v1m1 -5v1m0 45v1m10 -14v1m1 -16v1m4 -9v1m0 32v1m1 -31v1m7 -13v1m9 28v1m4 -19v1"/>
<path stroke="#e6c8d2" d="M17.5 5v1m2 17v1m8 -3v1m1 5v1m1 -19v1m2 34v1m1 -35v1m2 6v1m1 -8v1m0 26v1m2 -21v1m7 5v1m5 -14v1m0 13v1m1 1v1m3 -5v1m15 -16v1m0 34v1m1 -14v1m2 -27v1m1 0v1m2 23v1m0 16v1m2 -10v1m5 -22v1m0 1v1m1 -8v1m10 3v1m4 1v1m1 2v1m7 9v1m1 -27v1m27 13v1m32 24v1"/>
<path stroke="#e6e6f0" d="M30.5 10v1m2 2v1m1 17v1m3 -27v1m0 1v1m0 29v1m0 10v1m10 -42v1m0 27v1m1 -19v1m0 0v1m0 1v1m0 10v1m0 15v1m1 -6v1m1 -23v1m0 9v1m3 -26v1m0 26v1m2 -5v1m2 -23v1m1 -3v1m0 1v1m0 15v1m0 15v1m0 5v1m1 -6v1m3 -18v1m1 -10v1m0 16v1m1 -26v1m0 0v1m0 1v1m0 6v1m0 13v1m0 6v1m0 0v1m3 -8v1m0 15v1m1 -26v1m0 6v1m0 0v1m0 2v1m0 6v1m1 -16v1m0 24v1m1 -43v1m0 12v1m1 -16v1m0 1v1m0 3v1m0 9v1m1 -6v1m0 15v1m1 -23v1m0 35v1m1 -22v1m0 8v1m0 3v1m1 -36v1m0 44v1m1 -46v1m1 0v1m0 6v1m0 6v1m0 28v1m1 -45v1m0 6v1m0 15v1m1 -13v1m0 11v1m0 10v1m2 -20v1m0 7v1m0 9v1m1 -32v1m0 1v1m0 10v1m0 13v1m0 1v1m0 13v1m1 -25v1m0 1v1m0 11v1m0 7v1m1 -37v1m0 21v1m1 -28v1m1 11v1m0 15v1m0 4v1m1 -19v1m0 1v1m0 16v1m1 -16v1m0 2v1m0 2v1m0 3v1m0 13v1m1 -46v1m0 2v1m0 8v1m0 12v1m0 7v1m0 1v1m1 -32v1m0 5v1m1 11v1m0 11v1m0 11v1m1 -34v1m0 25v1m1 -10v1m0 1v1m0 1v1m0 1v1m1 -2v1m0 8v1m1 -40v1m0 7v1m0 11v1m0 9v1m1 -29v1m0 33v1m1 -7v1m0 8v1m1 -23v1m0 3v1m1 -25v1m0 13v1m0 0v1m0 5v1m0 10v1m0 7v1m1 -5v1m0 7v1m1 -36v1m0 10v1m0 4v1m0 17v1m1 -46v1m1 5v1m0 13v1m0 3v1m1 9v1m0 10v1m1 -45v1m0 19v1m0 9v1m1 -25v1m0 4v1m0 32v1m1 -10v1m0 7v1m1 -38v1m0 30v1m1 -37v1m0 23v1m1 -7v1m1 -5v1m1 -17v1m0 6v1m0 14v1m0 8v1m0 3v1m1 -12v1m0 6v1m0 9v1m0 3v1m1 -22v1m0 19v1m2 -36v1m0 17v1m1 -15v1m0 16v1m1 -18v1m0 7v1m0 13v1m1 -6v1m2 -24v1m0 0v1m0 7v1m0 22v1m0 0v1m1 -20v1m0 17v1m1 -22v1m0 3v1m1 -5v1m1 -19v1m0 3v1m2 2v1m0 3v1m1 15v1m3 -26v1m0 21v1m1 -1v1m0 13v1m1 -15v1m0 13v1m1 -32v1m0 1v1m0 32v1m0 0v1m2 -30v1m1 -5v1m0 1v1m1 -6v1m2 -8v1m0 24v1m0 3v1m4 -24v1m2 4v1m0 1v1m0 28v1m3 -1v1m2 -23v1m1 -21v1m3 7v1m6 14v1m0 20v1m4 -14v1"/>
<path stroke="#f0dce6" d="M18.5 15v1m3 -3v1m0 1v1m1 28v1m6 -38v1m0 13v1m0 7v1m0 17v1m1 -28v1m0 14v1m2 -27v1m2 2v1m0 10v1m1 6v1m0 18v1m3 -9v1m2 1v1m3 -31v1m0 14v1m0 6v1m2 -32v1m0 1v1m2 3v1m0 27v1m1 -32v1m0 17v1m1 6v1m0 12v1m1 -12v1m0 1v1m1 -19v1m1 9v1m1 -19v1m0 7v1m0 12v1m1 16v1m2 -45v1m0 4v1m0 16v1m2 -18v1m0 0v1m0 14v1m1 -21v1m0 4v1m0 26v1m0 0v1m1 -26v1m0 29v1m1 -36v1m0 20v1m1 -22v1m0 15v1m1 -1v1m0 23v1m1 -23v1m0 11v1m1 -17v1m0 0v1m1 -16v1m1 2v1m0 36v1m1 -7v1m1 -20v1m0 4v1m0 2v1m0 2v1m0 4v1m1 -36v1m0 4v1m0 0v1m2 -5v1m0 11v1m0 26v1m0 3v1m1 -44v1m0 5v1m0 9v1m1 -13v1m0 22v1m0 12v1m1 -29v1m0 20v1m0 6v1m2 -37v1m0 14v1m0 19v1m2 -42v1m0 14v1m0 0v1m0 10v1m0 17v1m1 -35v1m0 0v1m0 11v1m0 13v1m0 2v1m1 -43v1m0 2v1m0 16v1m0 0v1m0 18v1m0 3v1m1 -27v1m0 8v1m0 4v1m0 6v1m0 0v1m0 5v1m1 -32v1m0 2v1m0 3v1m0 5v1m0 7v1m1 -20v1m0 12v1m1 -25v1m0 22v1m1 -27v1m0 1v1m0 12v1m1 2v1m0 19v1m1 -41v1m0 24v1m3 -12v1m1 9v1m1 -16v1m0 1v1m0 10v1m1 -17v1m2 6v1m0 8v1m1 -19v1m0 4v1m1 19v1m1 -6v1m1 -14v1m0 16v1m0 10v1m4 -19v1m1 -17v1m0 9v1m0 3v1m1 9v1m0 15v1m3 -25v1m3 -9v1m0 13v1m2 2v1m5 -12v1m2 -10v1m0 0v1m3 -6v1m1 11v1m6 6v1m2 -10v1m0 15v1m0 6v1m0 1v1m1 -38v1m0 32v1m0 5v1m3 -7v1m0 3v1m6 -43v1m2 23v1m9 -15v1m20 0v1"/>
<path stroke="#e6dce6" d="M5.5 18v1m14 -7v1m2 -5v1m1 40v1m6 -13v1m0 0v1m0 7v1m3 -35v1m4 18v1m0 16v1m1 -20v1m1 -24v1m0 9v1m0 1v1m0 4v1m3 24v1m2 -27v1m0 14v1m3 8v1m1 -15v1m0 13v1m1 -11v1m1 -18v1m0 21v1m1 -23v1m0 15v1m1 -23v1m0 7v1m2 -14v1m0 17v1m1 -23v1m0 21v1m0 11v1m4 -2v1m0 7v1m1 -34v1m0 35v1m3 -30v1m1 -13v1m1 20v1m0 4v1m2 10v1m1 2v1m1 -4v1m1 -34v1m0 4v1m0 21v1m1 -5v1m0 2v1m0 9v1m1 -5v1m0 4v1m1 -45v1m0 20v1m0 1v1m2 -5v1m0 4v1m1 -22v1m0 0v1m0 23v1m1 3v1m2 -26v1m0 15v1m1 -13v1m0 31v1m1 -18v1m1 -24v1m0 1v1m0 5v1m0 0v1m1 9v1m1 1v1m1 -17v1m0 10v1m1 -9v1m0 1v1m0 25v1m1 -25v1m0 12v1m1 -30v1m0 34v1m1 -34v1m0 17v1m1 -16v1m2 -5v1m1 44v1m1 -44v1m0 0v1m0 10v1m0 2v1m2 -8v1m0 33v1m1 -22v1m1 -25v1m1 12v1m0 18v1m1 -20v1m2 17v1m3 -15v1m1 -9v1m0 1v1m0 11v1m1 -22v1m0 19v1m0 9v1m1 -33v1m0 10v1m1 32v1m1 -33v1m3 12v1m2 -10v1m4 -11v1m1 32v1m4 -2v1m0 5v1m1 -24v1m3 -13v1m0 20v1m4 2v1m2 -33v1m2 9v1m2 4v1m0 13v1m6 -9v1m10 2v1m3 14v1m0 4v1m15 -14v1"/>
<path stroke="#f0d2dc" d="M5.5 7v1m0 1v1m0 4v1m0 16v1m1 15v1m6 -27v1m3 9v1m3 15v1m1 -26v1m0 15v1m3 -13v1m0 4v1m7 13v1m2 -28v1m1 28v1m1 -16v1m1 3v1m2 -4v1m1 -25v1m0 27v1m0 7v1m1 -39v1m0 20v1m2 -8v1m2 -18v1m1 2v1m3 -4v1m0 1v1m0 15v1m1 -7v1m0 13v1m1 -1v1m0 4v1m3 -32v1m0 16v1m1 -3v1m0 5v1m0 7v1m0 4v1m1 -27v1m0 6v1m0 4v1m0 5v1m0 6v1m2 -32v1m0 3v1m0 19v1m1 -9v1m1 3v1m2 9v1m1 -30v1m0 19v1m2 -11v1m1 21v1m2 -29v1m0 7v1m1 3v1m1 -6v1m0 30v1m3 -30v1m1 3v1m0 18v1m1 -28v1m0 20v1m0 0v1m0 6v1m1 -24v1m0 6v1m1 -26v1m0 16v1m0 20v1m1 -13v1m0 14v1m1 -29v1m0 25v1m2 -17v1m1 -15v1m0 34v1m2 -24v1m0 19v1m1 -3v1m5 -1v1m2 -6v1m1 -36v1m1 -1v1m0 44v1m1 -3v1m3 -36v1m0 37v1m1 -2v1m3 -22v1m5 -8v1m1 13v1m7 -26v1m3 -1v1m0 27v1m3 3v1m3 -33v1m1 9v1m14 4v1m0 13v1"/>
<path stroke="#faaaaa" d="M7.5 43v1m2 -1v1m4 -5v1m2 6v1m20 -30v1m57 -15v1"/>
<path stroke="#d2dcf0" d="M48.5 7v1m4 1v1m5 38v1m5 -2v1m4 -19v1m1 -25v1m1 6v1m1 -2v1m3 35v1m4 -43v1m1 35v1m0 3v1m1 -41v1m5 22v1m0 17v1m1 -21v1m1 -12v1m1 32v1m1 -21v1m1 17v1m1 -25v1m1 19v1m2 -15v1m1 -26v1m1 15v1m1 -15v1m0 8v1m0 17v1m0 2v1m5 -14v1m0 8v1m0 1v1m0 15v1m1 -45v1m1 12v1m0 9v1m0 2v1m1 -13v1m2 -14v1m0 37v1m2 -32v1m1 -8v1m1 24v1m2 -18v1m1 2v1m1 -13v1m0 8v1m0 10v1m0 10v1m0 8v1m0 2v1m2 -20v1m0 13v1m1 -37v1m0 4v1m1 6v1m0 8v1m4 -3v1m0 16v1m1 -22v1m1 -12v1m0 13v1m1 -11v1m1 -9v1m2 40v1m3 -37v1m0 2v1m0 14v1m1 -6v1m0 2v1m0 0v1m1 -16v1m0 14v1m0 7v1m1 -34v1m1 19v1m0 20v1m3 -37v1m0 16v1m0 8v1m1 -3v1m1 5v1m1 -25v1m2 -12v1m0 10v1m2 27v1m1 -16v1m0 2v1m0 6v1m1 -10v1m2 -20v1m0 26v1m0 4v1m3 -33v1m1 -2v1m0 24v1m0 2v1m0 0v1m3 -4v1m5 -21v1m2 4v1m1 15v1m1 4v1m5 -23v1m0 1v1m0 20v1"/>
<path stroke="#bedcf0" d="M55.5 31v1m6 12v1m19 -17v1m0 15v1m5 -1v1m2 -25v1m2 -16v1m0 39v1m0 0v1m1 -30v1m4 17v1m3 -33v1m2 14v1m1 28v1m2 -16v1m0 13v1m1 -35v1m0 11v1m2 3v1m1 -22v1m0 16v1m0 1v1m3 -19v1m0 26v1m1 -31v1m0 19v1m0 1v1m0 19v1m0 1v1m1 -1v1m1 -40v1m1 -5v1m0 0v1m0 0v1m0 11v1m1 9v1m1 -16v1m1 -13v1m0 2v1m0 35v1m2 -8v1m0 2v1m1 -29v1m0 26v1m0 9v1m1 -35v1m0 6v1m1 -16v1m0 12v1m0 4v1m0 7v1m0 6v1m1 -1v1m1 -31v1m1 30v1m1 -26v1m0 1v1m1 -12v1m0 33v1m1 -30v1m0 12v1m0 4v1m1 -15v1m0 13v1m0 10v1m1 -30v1m0 5v1m0 13v1m1 -27v1m0 40v1m1 -39v1m0 24v1m0 11v1m0 0v1m1 -7v1m2 -35v1m0 23v1m1 -17v1m0 17v1m0 3v1m1 6v1m1 -30v1m1 30v1m1 -40v1m0 7v1m1 9v1m1 -6v1m1 -11v1m0 25v1m0 1v1m0 9v1m1 -28v1m0 11v1m0 9v1m0 0v1m1 -31v1m0 8v1m0 0v1m1 -1v1m0 14v1m0 10v1m1 -39v1m0 31v1m0 0v1m1 -9v1m1 -31v1m0 14v1m0 3v1m0 13v1m0 2v1m1 -28v1m0 19v1m0 3v1m1 -14v1m0 1v1m0 10v1m1 -20v1m2 0v1m0 2v1m1 -19v1m1 1v1m0 0v1m0 30v1m0 6v1m1 -23v1m1 -18v1m0 9v1m1 -12v1m1 13v1m0 5v1m1 -5v1m0 26v1m2 -41v1m0 4v1m1 8v1m0 2v1m1 -21v1m0 19v1m0 1v1m0 10v1m1 -18v1m0 7v1m0 0v1m0 1v1m2 14v1m3 -30v1m0 29v1m1 -24v1m0 2v1m0 14v1m1 -42v1m0 16v1m0 8v1m1 -6v1m1 -10v1m1 1v1m1 29v1m1 -15v1m1 -25v1"/>
<path stroke="#d2c8d2" d="M37.5 12v1m65 -10v1m2 29v1"/>
<path stroke="#c8e6f0" d="M67.5 48v1m10 -44v1m0 27v1m8 -21v1m3 -2v1m1 -9v1m1 2v1m0 35v1m2 -39v1m0 25v1m2 -27v1m0 7v1m2 8v1m2 -16v1m0 14v1m1 15v1m1 -20v1m1 0v1m1 3v1m0 8v1m0 2v1m1 1v1m3 -34v1m0 12v1m0 2v1m1 -19v1m1 18v1m0 14v1m1 -35v1m0 5v1m0 36v1m2 -10v1m1 -8v1m0 15v1m1 -18v1m1 -21v1m1 0v1m1 12v1m0 0v1m1 -5v1m0 5v1m1 18v1m1 -41v1m1 1v1m0 14v1m0 2v1m1 -12v1m0 12v1m0 16v1m2 -10v1m1 -23v1m0 20v1m0 12v1m1 -20v1m0 19v1m1 -23v1m1 7v1m2 -9v1m0 14v1m0 5v1m2 -30v1m1 3v1m2 16v1m1 -11v1m0 9v1m2 -36v1m0 26v1m1 3v1m1 -18v1m1 24v1m0 2v1m1 -24v1m0 18v1m1 -16v1m0 14v1m1 -33v1m1 9v1m0 21v1m1 -11v1m1 -21v1m0 14v1m1 -12v1m0 20v1m1 -19v1m1 29v1m1 -31v1m1 3v1m0 7v1m2 -14v1m0 7v1m0 7v1m1 -19v1m1 13v1m1 -21v1m0 24v1m2 -14v1m0 2v1m2 -13v1m0 7v1m0 16v1m3 -20v1m0 17v1m1 -23v1m0 14v1m0 5v1m1 -17v1m0 8v1m0 2v1m0 10v1m3 -23v1m1 -14v1m0 2v1m0 0v1m0 12v1m0 0v1m0 2v1m1 -5v1m0 10v1m0 10v1m1 -10v1m2 7v1m1 -5v1m4 -26v1"/>
<path stroke="#b4d2f0" d="M77.5 21v1m7 24v1m9 -19v1m0 1v1m1 18v1m3 -45v1m1 26v1m3 -29v1m0 38v1m1 -32v1m4 -9v1m0 18v1m3 25v1m1 -40v1m0 20v1m0 7v1m2 -8v1m3 -2v1m1 -28v1m3 23v1m0 5v1m0 9v1m3 -40v1m2 6v1m0 5v1m1 -16v1m0 7v1m1 19v1m2 -9v1m0 1v1m0 4v1m3 16v1m2 -35v1m2 -10v1m0 5v1m0 31v1m2 -25v1m1 -7v1m0 12v1m1 -18v1m0 1v1m2 -1v1m0 4v1m1 15v1m1 -18v1m0 0v1m1 19v1m0 10v1m0 2v1m1 -46v1m1 26v1m0 1v1m1 -1v1m1 5v1m2 -12v1m0 20v1m1 -43v1m1 -4v1m0 13v1m0 11v1m1 -12v1m0 25v1m1 -13v1m1 -23v1m0 2v1m1 -1v1m0 13v1m1 -14v1m2 -13v1m0 17v1m0 21v1m1 -39v1m2 15v1m0 15v1m3 -25v1m1 29v1m0 2v1m1 -37v1m3 28v1m0 5v1m2 -38v1m1 -5v1m0 36v1m1 -29v1m2 7v1m1 -5v1m0 16v1m0 8v1m1 -25v1m0 11v1"/>
<path stroke="#c8d2e6" d="M47.5 32v1m20 -21v1m3 18v1m9 -25v1m7 4v1m0 18v1m9 10v1m2 -36v1m6 15v1m2 -20v1m2 23v1m0 10v1m1 -33v1m0 3v1m0 5v1m1 25v1m1 -30v1m0 6v1m2 -15v1m1 36v1m2 -17v1m0 12v1m1 3v1m4 -15v1m1 2v1m5 -32v1m3 27v1m1 -8v1m5 -13v1m7 17v1m4 -10v1m7 27v1m1 -8v1m5 -32v1"/>
<path stroke="#dcd2f0" d="M77.5 47v1m28 -3v1m12 -35v1m6 18v1m7 -28v1m4 11v1"/>
<path stroke="#b4d2fa" d="M72.5 7v1m21 36v1m7 -25v1m6 21v1m4 -19v1m4 13v1m17 -36v1m7 7v1m0 33v1m1 -40v1m1 19v1m0 6v1m3 -17v1m1 30v1m1 -36v1m1 24v1m2 -24v1m0 12v1m1 -21v1m0 22v1m2 -26v1m0 8v1m6 20v1m0 2v1m1 -10v1m1 -18v1m3 5v1m0 15v1m6 -10v1m5 -21v1m1 15v1m1 8v1"/>
<path stroke="#c8dcf0" d="M62.5 21v1m9 -9v1m6 24v1m1 -21v1m2 3v1m3 16v1m2 -33v1m0 2v1m0 16v1m2 -22v1m0 35v1m1 -16v1m0 2v1m1 -3v1m0 2v1m1 -5v1m0 1v1m0 16v1m1 -42v1m2 6v1m4 10v1m1 24v1m1 -41v1m0 1v1m1 -5v1m0 10v1m1 23v1m0 6v1m1 -39v1m0 27v1m1 -30v1m1 37v1m2 -37v1m0 18v1m0 15v1m1 -30v1m0 16v1m0 11v1m1 -6v1m1 3v1m6 -42v1m0 8v1m2 25v1m1 -34v1m0 30v1m0 5v1m1 -37v1m0 13v1m0 10v1m0 6v1m1 -8v1m1 -16v1m1 -14v1m0 5v1m0 13v1m0 9v1m1 -19v1m1 20v1m0 0v1m2 -33v1m0 36v1m0 3v1m1 -17v1m0 4v1m1 -13v1m1 -2v1m0 1v1m0 13v1m1 -27v1m0 11v1m0 5v1m0 11v1m0 2v1m1 -39v1m1 -1v1m0 4v1m1 29v1m1 -40v1m0 6v1m0 5v1m0 25v1m0 0v1m1 -26v1m0 2v1m0 14v1m0 7v1m0 1v1m0 0v1m2 -21v1m1 -12v1m0 4v1m0 7v1m1 -17v1m0 23v1m0 4v1m2 -31v1m1 3v1m1 10v1m0 8v1m1 -14v1m0 14v1m1 -23v1m0 8v1m0 16v1m2 -31v1m0 20v1m0 3v1m1 -31v1m0 4v1m0 9v1m0 19v1m0 5v1m1 -47v1m0 17v1m0 26v1m1 -45v1m0 6v1m1 21v1m1 -23v1m0 12v1m1 -16v1m0 21v1m0 4v1m1 -33v1m1 13v1m0 10v1m1 9v1m1 9v1m1 -11v1m2 -21v1m3 9v1m0 13v1m1 -35v1m0 12v1m1 -14v1m0 32v1m0 5v1m2 -40v1m0 5v1m0 14v1m2 -26v1m1 9v1m0 1v1m1 -2v1m0 17v1m3 -17v1m0 11v1m0 14v1"/>
<path stroke="#bedcfa" d="M93.5 18v1m0 23v1m8 -13v1m1 -1v1m1 -26v1m0 39v1m3 -36v1m3 17v1m1 -23v1m0 10v1m8 4v1m0 9v1m1 -14v1m0 23v1m6 -32v1m0 6v1m1 25v1m0 0v1m1 -32v1m7 18v1m1 -2v1m2 -20v1m1 16v1m1 9v1m1 -36v1m0 30v1m7 -6v1m1 15v1m3 -36v1m0 14v1m1 -17v1m0 22v1m0 0v1m1 -25v1m0 17v1m2 -28v1m2 25v1m1 17v1m1 -40v1m0 24v1m10 -30v1m2 13v1m3 5v1m0 1v1m1 5v1m1 10v1m1 -20v1m0 21v1"/>
<path stroke="#d2d2e6" d="M80.5 4v1m7 9v1m1 24v1m2 -12v1m5 -25v1m0 26v1m1 -9v1m3 -3v1m4 14v1m3 -2v1m2 -4v1m10 -26v1m6 20v1m0 13v1m6 -27v1m0 3v1m3 10v1m5 -12v1m17 -5v1m8 -1v1m2 -14v1"/>
<path stroke="#aad2f0" d="M88.5 4v1m5 31v1m7 -32v1m0 17v1m1 -8v1m5 -5v1m0 19v1m3 -23v1m0 14v1m1 -4v1m0 7v1m4 -27v1m0 0v1m0 1v1m0 2v1m0 7v1m0 5v1m0 6v1m0 0v1m0 3v1m3 -31v1m0 26v1m0 2v1m0 7v1m1 -30v1m1 15v1m0 17v1m1 -29v1m3 16v1m2 -26v1m0 11v1m0 3v1m0 7v1m0 1v1m1 -15v1m1 1v1m0 11v1m1 -29v1m0 17v1m1 4v1m2 5v1m3 -22v1m0 1v1m0 5v1m3 -22v1m0 4v1m0 17v1m0 8v1m0 5v1m1 -41v1m0 16v1m0 25v1m1 -29v1m0 3v1m0 22v1m1 -31v1m0 5v1m0 19v1m1 -24v1m0 13v1m1 -28v1m0 2v1m0 4v1m0 8v1m0 11v1m1 8v1m0 4v1m1 -43v1m0 22v1m1 -24v1m0 41v1m1 -37v1m0 12v1m0 9v1m1 -33v1m0 22v1m1 16v1m1 -34v1m0 27v1m3 -21v1m0 5v1m0 16v1m1 -39v1m0 23v1m0 18v1m1 -36v1m0 36v1m1 -35v1m1 -11v1m0 20v1m0 3v1m0 7v1m0 6v1m1 -34v1m1 -5v1m0 2v1m0 31v1m1 -39v1m0 4v1m0 12v1m0 15v1m1 -33v1m1 9v1m0 13v1m0 9v1m1 -31v1m0 27v1m1 -32v1m0 23v1m1 -13v1m1 3v1m1 -5v1m0 13v1m1 -32v1m0 10v1m0 5v1m0 11v1m0 0v1m0 15v1m1 -40v1m0 9v1m0 7v1m1 -5v1m0 3v1m1 -8v1m0 6v1m0 4v1m1 -31v1m0 4v1m0 1v1m0 3v1m0 6v1m1 -17v1m0 6v1m0 30v1m1 -37v1m1 -4v1m0 1v1m0 16v1m1 -1v1m0 21v1m1 -12v1m0 3v1m0 10v1m1 -36v1m0 7v1m0 6v1m0 1v1m0 9v1m0 5v1m1 -43v1m0 17v1m0 2v1m0 8v1m0 7v1m0 5v1m1 -40v1"/>
<path stroke="#8cb4f0" d="M101.5 34v1m26 -31v1m1 39v1m0 0v1m1 -4v1m2 -38v1m6 13v1m1 -15v1m3 6v1m8 31v1m1 -16v1m0 1v1m0 5v1m7 -16v1m0 7v1m0 0v1m0 2v1m0 2v1m0 4v1m0 2v1m0 0v1m4 -9v1m1 -27v1m0 31v1m1 -31v1m3 20v1m2 -33v1m3 31v1m1 -13v1m1 20v1m2 -33v1m0 12v1m0 3v1m2 -10v1m1 1v1m0 2v1m0 11v1m1 8v1m1 -31v1"/>
<path stroke="#a0bef0" d="M101.5 45v1m7 -18v1m1 -10v1m10 -12v1m3 22v1m3 -15v1m15 -9v1m0 21v1m1 -3v1m0 11v1m0 2v1m3 -1v1m10 -8v1m3 -3v1m1 -1v1m9 -28v1m2 29v1m1 -34v1m0 18v1m0 18v1m1 -2v1m4 -40v1"/>
<path stroke="#b4c8fa" d="M139.5 21v1m4 -2v1m5 -3v1m19 16v1m11 -33v1"/>
<path stroke="#96bef0" d="M114.5 20v1m0 5v1m0 15v1m5 -29v1m3 -7v1m3 21v1m3 16v1m3 -17v1m8 16v1m1 -39v1m1 36v1m0 1v1m3 -12v1m1 -16v1m1 -17v1m1 -1v1m2 4v1m0 12v1m3 18v1m0 4v1m1 -43v1m3 -1v1m0 38v1m1 -21v1m1 -7v1m0 13v1m1 -10v1m0 23v1m2 -44v1m0 11v1m1 22v1m1 -14v1m3 -12v1m2 -9v1m0 9v1m1 2v1m1 -10v1m0 12v1m2 -20v1m0 9v1m2 21v1m1 1v1m1 -32v1m1 8v1m0 7v1m0 9v1m1 -28v1m0 33v1m1 -42v1m0 12v1m0 4v1m0 20v1"/>
<path stroke="#6ea0f0" d="M114.5 37v1m32 -6v1m11 15v1m1 -21v1m10 -23v1m0 28v1m0 10v1m3 -1v1m1 -37v1m1 6v1m3 26v1m1 -1v1m1 -30v1m1 17v1m0 1v1m0 11v1m0 0v1m1 -46v1m0 6v1m0 8v1m0 18v1"/>
<path stroke="#ff2828" d="M1.5 4v1"/>
<path stroke="#fac8d2" d="M5.5 32v1m3 -1v1m3 -9v1m0 12v1m4 -33v1m2 13v1m1 -16v1m0 18v1m0 21v1m1 -3v1m1 -39v1m1 4v1m0 34v1m1 -18v1m0 5v1m1 11v1m2 -25v1m0 8v1m2 -21v1m2 4v1m0 12v1m0 6v1m0 2v1m1 -26v1m1 30v1m1 -14v1m1 -17v1m0 18v1m0 8v1m2 -23v1m0 6v1m2 -26v1m0 16v1m0 2v1m0 13v1m2 -8v1m0 1v1m0 4v1m0 5v1m1 1v1m1 -2v1m1 -30v1m0 8v1m2 -11v1m0 19v1m0 11v1m1 -34v1m0 13v1m2 4v1m1 -26v1m0 12v1m0 5v1m1 13v1m2 -13v1m1 -2v1m1 -2v1m1 -13v1m2 -9v1m1 0v1m0 8v1m0 12v1m1 5v1m1 -31v1m0 9v1m0 7v1m0 20v1m0 2v1m1 -45v1m0 12v1m0 31v1m1 -30v1m1 -6v1m0 33v1m1 -36v1m1 19v1m0 0v1m0 10v1m1 -15v1m0 15v1m1 -16v1m0 1v1m0 9v1m1 -27v1m1 -14v1m4 4v1m1 3v1m2 6v1m1 3v1m10 22v1m5 -23v1m5 -9v1m8 25v1"/>
<path stroke="#fabebe" d="M4.5 41v1m6 6v1m1 -10v1m3 -35v1m3 43v1m6 -19v1m1 17v1m8 -46v1m4 11v1m4 26v1m10 -13v1m4 17v1m1 -35v1m17 7v1"/>
<path stroke="#dcc8d2" d="M31.5 13v1m3 1v1m13 -12v1m0 0v1m10 7v1m10 -3v1m7 1v1m12 33v1m18 -21v1m3 5v1"/>
<path stroke="#fad2d2" d="M4.5 8v1m2 30v1m5 -28v1m4 16v1m2 1v1m1 -19v1m1 6v1m0 21v1m1 -33v1m1 13v1m1 18v1m6 -22v1m2 12v1m1 -19v1m0 17v1m1 -14v1m0 13v1m1 -28v1m0 5v1m1 -7v1m1 6v1m0 6v1m2 -17v1m4 4v1m0 26v1m1 9v1m1 -21v1m3 -13v1m0 11v1m0 1v1m2 -15v1m0 29v1m1 -44v1m2 15v1m2 0v1m2 -9v1m4 -7v1m0 14v1m0 8v1m1 -20v1m0 11v1m0 8v1m1 15v1m1 -32v1m0 12v1m2 11v1m1 -23v1m0 6v1m1 5v1m1 -26v1m0 33v1m3 -22v1m4 -13v1m0 14v1m0 11v1m1 -15v1m6 -15v1m0 3v1m4 -10v1m0 31v1m6 -33v1m13 16v1m3 20v1"/>
<path stroke="#f0e6e6" d="M4.5 13v1m25 -9v1m0 6v1m0 9v1m2 8v1m1 -1v1m4 -22v1m9 28v1m1 5v1m2 -40v1m0 24v1m1 14v1m0 0v1m2 -6v1m6 -36v1m0 16v1m1 20v1m3 -10v1m0 0v1m1 -27v1m0 0v1m0 3v1m1 -13v1m0 4v1m0 13v1m5 1v1m2 -8v1m0 20v1m1 -9v1m1 10v1m6 -18v1m0 9v1m4 -29v1m3 33v1m1 -8v1m2 13v1m1 -25v1m1 -17v1m0 5v1m0 7v1m0 15v1m2 2v1m0 7v1m4 -16v1m0 9v1m0 0v1m1 -16v1m0 3v1m2 -11v1m5 14v1m1 -3v1m16 -18v1m11 3v1m2 3v1m11 -4v1"/>
<path stroke="#dce6fa" d="M76.5 35v1m2 -6v1m22 -27v1m2 1v1m9 13v1m17 0v1m14 -17v1m3 21v1m10 10v1m3 -30v1"/>
<path stroke="#d2e6fa" d="M68.5 37v1m9 -30v1m0 3v1m0 9v1m0 1v1m11 1v1m0 7v1m2 -29v1m0 23v1m2 -2v1m1 -23v1m0 14v1m0 17v1m3 -32v1m0 14v1m1 -12v1m4 -3v1m0 9v1m0 5v1m2 -24v1m0 42v1m0 1v1m4 -2v1m1 -4v1m0 0v1m1 -30v1m0 30v1m1 -34v1m0 19v1m1 -23v1m2 -2v1m3 8v1m2 -5v1m0 7v1m1 -3v1m0 2v1m0 19v1m3 -35v1m0 14v1m1 -5v1m2 10v1m1 -20v1m0 22v1m1 -30v1m0 27v1m1 -34v1m1 13v1m0 0v1m0 28v1m1 -11v1m1 -3v1m0 0v1m3 -13v1m0 7v1m2 -25v1m0 10v1m1 -9v1m0 4v1m1 -9v1m1 39v1m3 -40v1m0 34v1m2 -42v1m0 14v1m0 3v1m0 12v1m1 -31v1m3 2v1m3 25v1m2 -7v1m0 9v1m1 -25v1m1 -7v1m0 35v1m2 -25v1m1 -3v1m1 -1v1m1 -12v1m0 34v1m3 -17v1m1 -24v1m0 38v1m4 -11v1m1 -25v1m1 6v1m0 14v1m4 -23v1m0 10v1m0 0v1m0 7v1m0 4v1m0 6v1m4 -1v1"/>
<path stroke="#c8dce6" d="M87.5 37v1m6 -18v1m2 18v1m7 -3v1m5 7v1m3 -17v1m3 -26v1m0 19v1m8 7v1m0 16v1m23 -39v1m4 -1v1m1 -5v1m4 9v1m1 7v1"/>
<path stroke="#e6e6e6" d="M47.5 22v1m12 26v1m11 -5v1m17 -15v1m6 -24v1m3 19v1m2 9v1m7 -32v1m7 29v1m1 11v1m5 -46v1m5 1v1m9 14v1m0 1v1m1 3v1m0 2v1m0 17v1m4 -1v1m5 -31v1"/>
<path stroke="#d2dce6" d="M36.5 22v1m11 1v1m23 24v1m13 -45v1m0 21v1m1 8v1m1 -13v1m0 23v1m3 -42v1m1 40v1m3 -5v1m1 -40v1m0 13v1m5 -3v1m1 -6v1m0 21v1m3 -16v1m6 18v1m1 -34v1m6 32v1m1 -11v1m4 -25v1m6 29v1m0 0v1m4 -14v1m0 9v1m3 3v1m4 -30v1m4 19v1m13 -10v1m1 -2v1"/>
<path stroke="#bed2f0" d="M90.5 12v1m3 30v1m8 -36v1m1 4v1m1 -7v1m0 23v1m2 -12v1m1 16v1m2 6v1m0 2v1m1 -37v1m0 12v1m1 9v1m0 1v1m7 5v1m0 4v1m6 -44v1m1 6v1m0 36v1m1 -13v1m2 -12v1m0 0v1m1 -17v1m0 5v1m0 29v1m3 -36v1m0 36v1m3 -33v1m0 14v1m1 -8v1m3 21v1m3 -11v1m1 4v1m0 2v1m1 -21v1m2 5v1m1 17v1m1 -38v1m0 5v1m0 28v1m2 -43v1m2 22v1m3 -20v1m0 32v1m0 3v1m3 -13v1m1 -17v1m0 3v1m0 4v1m1 -18v1m1 22v1m1 -6v1m0 2v1m1 16v1m1 -39v1m0 38v1m2 -32v1m0 28v1m4 -29v1m1 29v1m1 -13v1m1 5v1m1 -34v1m0 12v1m2 11v1m1 -26v1m0 6v1m0 2v1m2 -12v1"/>
<path stroke="#dcdcf0" d="M28.5 39v1m11 -35v1m8 28v1m2 -17v1m17 20v1m2 6v1m1 -23v1m7 -12v1m1 9v1m3 8v1m4 8v1m1 4v1m4 -14v1m1 13v1m4 -16v1m0 1v1m0 12v1m1 0v1m3 -40v1m5 32v1m2 -4v1m2 -33v1m0 10v1m0 1v1m1 10v1m2 -23v1m1 23v1m0 12v1m1 -31v1m1 11v1m2 16v1m1 -2v1m4 -37v1m1 26v1m0 0v1m2 8v1m1 -22v1m2 -16v1m1 7v1m0 11v1m0 15v1m1 -5v1m2 -35v1m0 11v1m0 8v1m0 10v1m3 -6v1m2 -30v1m1 -2v1m0 26v1m0 16v1m3 -24v1m1 -15v1m5 12v1m10 6v1m5 -1v1m4 -5v1m0 7v1"/>
<path stroke="#96b4f0" d="M119.5 48v1m19 -23v1m2 7v1m1 -31v1m10 13v1m16 20v1m2 3v1m0 0v1m2 -32v1m4 10v1m0 22v1m1 -15v1"/>
<path stroke="#6eaaf0" d="M114.5 12v1m42 -9v1m0 17v1m5 16v1m5 -36v1m0 27v1m0 0v1m2 -5v1m4 -14v1m3 -1v1m0 18v1m2 -29v1m2 -2v1m0 16v1m1 7v1"/>
<path stroke="#78a0f0" d="M114.5 22v1m35 14v1m21 -34v1m2 -1v1m3 33v1m1 -34v1m0 42v1m3 -22v1m0 0v1m0 7v1m1 8v1"/>
<path stroke="#82aafa" d="M175.5 4v1"/>
<path stroke="#82aaf0" d="M125.5 35v1m15 -16v1m1 7v1m6 10v1m16 4v1m3 -21v1m1 19v1m4 -17v1m2 -21v1m2 13v1m0 5v1m1 -7v1m2 9v1m1 -29v1m0 3v1m0 35v1"/>
<path stroke="#3250fa" d="M180.5 4v1"/>
<path stroke="#fadcdc" d="M5.5 10v1m0 5v1m0 32v1m6 -32v1m0 30v1m6 -12v1m2 -34v1m0 25v1m1 -26v1m8 3v1m1 -5v1m0 24v1m2 10v1m0 5v1m1 -30v1m0 9v1m0 19v1m2 -38v1m0 11v1m1 -13v1m1 1v1m1 32v1m2 1v1m2 -27v1m2 -3v1m0 9v1m0 16v1m2 -40v1m1 18v1m0 10v1m1 -17v1m1 14v1m1 -6v1m4 -21v1m1 29v1m1 -36v1m3 40v1m1 -38v1m0 2v1m1 -6v1m2 27v1m1 -23v1m1 32v1m1 -43v1m0 18v1m0 2v1m0 0v1m1 -16v1m0 3v1m1 -5v1m0 9v1m0 9v1m2 8v1m0 3v1m1 -14v1m1 -22v1m0 8v1m1 -11v1m1 21v1m1 -27v1m1 15v1m0 2v1m3 -12v1m0 25v1m1 -33v1m0 15v1m2 -20v1m0 1v1m0 22v1m3 8v1m2 -36v1m0 13v1m0 11v1m0 3v1m1 1v1m10 -9v1m2 -13v1m5 10v1m3 -6v1m5 -7v1m6 -6v1m33 2v1"/>
<path stroke="#d2c8dc" d="M36.5 25v1m25 -21v1m14 38v1m7 -13v1m3 -17v1m7 21v1m12 4v1m33 -2v1"/>
<path stroke="#f0d2d2" d="M5.5 44v1m17 -9v1m6 -31v1m2 35v1m10 -37v1m0 38v1m3 -7v1m0 4v1m1 -33v1m2 30v1m1 -35v1m3 34v1m1 -21v1m3 6v1m0 6v1m8 -34v1m4 32v1m4 -9v1m1 -20v1m10 26v1m5 -11v1m19 7v1"/>
<path stroke="#c8d2f0" d="M57.5 31v1m33 -19v1m0 1v1m10 21v1m2 4v1m2 -38v1m2 22v1m1 -24v1m3 26v1m1 -21v1m2 -3v1m3 18v1m6 2v1m2 8v1m2 -22v1m1 -3v1m9 25v1m1 -20v1m9 -21v1m3 26v1m2 -25v1m14 -2v1m0 4v1"/>
<path stroke="#aac8e6" d="M106.5 34v1m5 -30v1m48 28v1"/>
<path stroke="#bed2fa" d="M110.5 8v1m0 35v1m1 -23v1m3 -2v1m3 26v1m11 -44v1m1 29v1m18 9v1m16 -31v1m4 -3v1m1 33v1m1 -33v1m0 16v1m0 4v1m1 6v1m1 -18v1"/>
<path stroke="#b4c8f0" d="M108.5 24v1m6 18v1m1 -10v1m0 11v1m3 -19v1m5 15v1m6 -40v1m2 36v1m9 -7v1m1 -23v1m0 23v1m2 -27v1m4 35v1m2 -2v1m1 -14v1m0 9v1m0 1v1m3 -39v1m1 5v1m0 31v1m4 -29v1m5 14v1m1 11v1m1 -21v1m5 -17v1"/>
<path stroke="#82b4f0" d="M128.5 22v1m13 9v1m2 -26v1m0 19v1m0 4v1m5 -1v1m2 -28v1m0 15v1m0 26v1m3 -17v1m3 -22v1m0 25v1m2 -7v1m0 10v1m1 3v1m2 -25v1m0 19v1m2 -30v1m4 28v1m1 -31v1m0 24v1m3 -32v1m0 41v1m1 -43v1m0 17v1m2 -13v1m0 30v1m1 -34v1m0 16v1m1 -16v1m1 3v1m1 1v1m1 10v1m1 -16v1"/>
<path stroke="#b4dcfa" d="M101.5 10v1m0 7v1m0 4v1m21 -1v1m6 9v1m11 -5v1m1 -13v1m4 14v1m6 -3v1m1 -19v1m1 -8v1m4 13v1m7 -3v1m6 -2v1m4 2v1m0 14v1"/>
<path stroke="#a0c8e6" d="M152.5 8v1m3 -4v1m10 9v1"/>
<path stroke="#bee6fa" d="M93.5 46v1m10 -14v1m17 -28v1m0 28v1m23 7v1m6 -15v1m1 12v1m1 5v1m1 -27v1m1 -7v1m1 14v1m1 15v1m3 0v1m5 -7v1m3 -38v1m3 28v1"/>
<path stroke="#648cf0" d="M157.5 11v1m9 -4v1m7 -4v1m6 -1v1m0 12v1m0 7v1m1 -22v1m0 41v1"/>
<path stroke="#ff5a64" d="M0.5 23v1m1 -18v1m0 4v1m0 13v1m2 -12v1m6 -1v1m7 26v1m10 -15v1"/>
<path stroke="#fab4b4" d="M12.5 20v1m1 5v1m0 15v1m1 -37v1m6 18v1m2 -1v1m5 11v1m0 8v1m11 -11v1m7 -2v1m11 -13v1m24 -10v1"/>
<path stroke="#f0aab4" d="M6.5 34v1m3 -23v1m6 -7v1m2 30v1m13 -9v1m7 -1v1m3 -14v1m0 24v1m2 -12v1m3 -6v1m1 10v1m10 -5v1m0 14v1"/>
<path stroke="#dcc8dc" d="M44.5 24v1m1 -19v1m32 35v1m10 2v1m5 -29v1m12 -8v1"/>
<path stroke="#dcd2e6" d="M20.5 12v1m9 10v1m2 8v1m3 12v1m7 -22v1m11 12v1m1 -32v1m5 4v1m0 31v1m24 -22v1m2 16v1m2 1v1m1 -30v1m2 6v1m4 9v1m2 -21v1m1 10v1m13 -1v1m3 5v1m0 14v1m4 -32v1m4 23v1m4 -10v1m8 -14v1m2 13v1m3 12v1"/>
<path stroke="#bed2e6" d="M88.5 35v1m7 -21v1m3 -10v1m13 20v1m12 -11v1m6 9v1m10 -8v1m8 -1v1m22 14v1m6 -3v1m2 2v1"/>
<path stroke="#c8dcfa" d="M93.5 32v1m9 6v1m5 -31v1m3 10v1m11 20v1m4 -36v1m1 25v1m1 13v1m10 -2v1m1 -7v1m5 -29v1m0 33v1m2 0v1m0 0v1m1 -28v1m0 25v1m13 -33v1m0 16v1m1 -14v1m1 -8v1m1 20v1m9 -10v1m2 -13v1m0 25v1"/>
<path stroke="#aad2e6" d="M109.5 26v1m0 11v1m19 -19v1m19 -7v1m5 -9v1m1 20v1m16 -22v1"/>
<path stroke="#aad2fa" d="M148.5 30v1m9 -7v1m3 -19v1m15 19v1"/>
<path stroke="#6e96f0" d="M166.5 30v1m9 -13v1m4 -4v1m1 -10v1m0 28v1"/>
<path stroke="#ff6e78" d="M0.5 15v1m0 10v1m1 -7v1m0 2v1m0 5v1m0 4v1m1 -19v1m1 -6v1m0 29v1m4 -35v1m2 8v1m0 10v1m0 2v1m0 6v1m0 3v1m0 3v1m3 -16v1m0 2v1m12 0v1m0 9v1m3 -25v1m11 17v1"/>
<path stroke="#fac8c8" d="M2.5 12v1m0 18v1m3 -6v1m1 -15v1m4 8v1m3 -4v1m1 -12v1m1 25v1m5 -15v1m0 21v1m2 6v1m1 -32v1m7 30v1m3 -10v1m6 -30v1m0 19v1m0 6v1m2 5v1m4 -10v1m2 3v1m2 -24v1m0 1v1m2 -10v1m0 16v1m0 17v1m1 -9v1m1 -2v1m0 7v1m2 -29v1m2 21v1m1 -28v1m6 23v1m3 -26v1m0 5v1m24 -6v1"/>
<path stroke="#f0bec8" d="M6.5 22v1m0 6v1m1 -7v1m3 -11v1m0 32v1m1 -26v1m8 -4v1m2 20v1m2 -24v1m0 21v1m1 -32v1m4 16v1m2 -1v1m2 12v1m1 -4v1m2 -7v1m0 18v1m2 -26v1m8 -5v1m5 -8v1m2 8v1m1 24v1m2 -30v1m0 18v1m0 3v1m3 -23v1m0 3v1m2 8v1m5 14v1m2 -19v1m7 6v1m5 14v1m3 -35v1m4 3v1m50 14v1"/>
<path stroke="#e6bed2" d="M25.5 21v1m19 19v1m10 -35v1"/>
<path stroke="#dcd2dc" d="M36.5 26v1m0 18v1m6 -34v1m5 31v1m17 -38v1m10 41v1m4 -18v1m0 15v1m6 -29v1m5 -12v1m3 14v1m3 18v1m10 -18v1m2 -11v1m10 0v1m1 -7v1m4 -3v1m14 26v1m9 -18v1"/>
<path stroke="#82a0f0" d="M125.5 41v1m3 -30v1m21 9v1m1 16v1m0 1v1m8 -35v1m8 28v1"/>
<path stroke="#bec8f0" d="M57.5 12v1m54 -5v1m6 4v1m1 12v1m2 -15v1m5 -4v1m19 4v1m11 7v1m7 -16v1"/>
<path stroke="#96bee6" d="M129.5 45v1m12 -12v1m2 -6v1m8 17v1m5 -6v1m3 -2v1m11 -35v1"/>
<path stroke="#aabef0" d="M119.5 12v1m33 -3v1m5 2v1m6 32v1m3 -29v1m4 10v1m3 15v1m1 -11v1m4 -29v1"/>
<path stroke="#466ef0" d="M180.5 7v1m0 19v1m0 9v1"/>
<path stroke="#ff6464" d="M0.5 9v1m1 -2v1m0 24v1m2 -9v1m6 -8v1m7 14v1"/>
<path stroke="#d2d2dc" d="M47.5 8v1m43 11v1m18 -9v1m25 20v1m1 -4v1m10 2v1m21 10v1"/>
<path stroke="#d2c8f0" d="M66.5 13v1m10 -6v1m65 13v1"/>
<path stroke="#e6c8dc" d="M41.5 44v1m1 -4v1m1 -7v1m8 -18v1m0 4v1m1 22v1m4 -34v1m9 3v1m1 0v1m9 -4v1m9 -8v1m0 2v1m39 8v1"/>
<path stroke="#b4bee6" d="M98.5 14v1m3 -6v1m14 -2v1"/>
<path stroke="#a0befa" d="M117.5 18v1m8 -11v1m14 28v1m6 -27v1m5 3v1m1 8v1m10 4v1m1 1v1m11 -19v1m2 22v1"/>
<path stroke="#c8bef0" d="M128.5 8v1"/>
<path stroke="#beb4dc" d="M130.5 8v1"/>
<path stroke="#d2d2f0" d="M84.5 13v1m6 7v1m23 17v1m2 4v1m16 -26v1m5 26v1m1 -10v1m18 -1v1m1 -30v1m1 23v1m6 -9v1m6 5v1"/>
<path stroke="#d2dcfa" d="M85.5 28v1m13 6v1m14 9v1m7 -13v1m6 -16v1m19 22v1m3 -13v1m13 -3v1m4 -20v1m1 14v1m4 12v1m1 -23v1"/>
<path stroke="#4664fa" d="M180.5 8v1"/>
<path stroke="#f0b4b4" d="M6.5 9v1m36 9v1"/>
<path stroke="#dcb4c8" d="M53.5 9v1m6 11v1"/>
<path stroke="#f0c8c8" d="M14.5 46v1m24 -37v1m7 34v1m3 -12v1m13 -21v1m10 4v1m34 -11v1"/>
<path stroke="#7896f0" d="M156.5 9v1m10 28v1"/>
<path stroke="#dcf0f0" d="M78.5 12v1m7 10v1m0 1v1m3 -12v1m1 6v1m5 22v1m8 -1v1m7 -29v1m12 13v1m9 -21v1m7 13v1m23 -16v1"/>
<path stroke="#e6dcf0" d="M83.5 44v1m6 -8v1m7 4v1m4 -33v1m23 31v1m12 -2v1m7 -9v1m2 -18v1m20 0v1m5 30v1"/>
<path stroke="#faa0aa" d="M3.5 31v1m12 -20v1m4 -2v1m6 11v1m1 19v1"/>
<path stroke="#faaab4" d="M0.5 28v1m6 9v1m7 -2v1m1 -24v1m3 17v1m1 3v1m2 -22v1m2 17v1m7 -7v1m2 -17v1m2 7v1m8 13v1m1 -11v1m12 -7v1m2 0v1m8 20v1"/>
<path stroke="#e6d2e6" d="M34.5 29v1m21 -19v1m6 11v1m2 -7v1m1 1v1m14 3v1m5 23v1m10 0v1m11 -18v1m29 3v1m3 -20v1"/>
<path stroke="#bec8e6" d="M48.5 13v1m39 21v1m11 -25v1m10 7v1m5 -3v1m38 12v1"/>
<path stroke="#c8c8e6" d="M80.5 46v1m5 -12v1m12 11v1m32 -37v1m1 32v1m7 -9v1m17 -8v1m9 11v1"/>
<path stroke="#aac8fa" d="M138.5 36v1m4 2v1m10 6v1m15 -30v1m2 27v1m3 -35v1m2 16v1"/>
<path stroke="#fa828c" d="M24.5 12v1"/>
<path stroke="#b4bedc" d="M76.5 12v1"/>
<path stroke="#6482fa" d="M159.5 12v1m12 18v1m4 -19v1"/>
<path stroke="#c8c8dc" d="M57.5 35v1m26 -22v1m18 -2v1m6 5v1m5 -2v1m6 12v1m5 11v1m7 -23v1m1 8v1m1 -6v1m20 -10v1m17 16v1"/>
<path stroke="#c8d2dc" d="M108.5 13v1"/>
<path stroke="#8caaf0" d="M167.5 18v1m4 30v1m1 -28v1m0 24v1m1 -16v1m5 -20v1"/>
<path stroke="#5064fa" d="M179.5 13v1"/>
<path stroke="#3c64fa" d="M180.5 13v1"/>
<path stroke="#ff505a" d="M0.5 36v1m1 -23v1m2 12v1"/>
<path stroke="#e6dcdc" d="M48.5 14v1m20 33v1m48 -29v1m4 6v1"/>
<path stroke="#a0b4f0" d="M101.5 28v1m57 -15v1m8 10v1"/>
<path stroke="#b4c8e6" d="M121.5 37v1m4 9v1m3 -21v1m9 -13v1m0 18v1m4 -4v1m8 9v1m25 -28v1"/>
<path stroke="#b4d2e6" d="M77.5 30v1m33 -5v1m8 22v1m1 -20v1m3 -1v1m3 0v1m1 10v1m15 -26v1m6 1v1m13 0v1m4 0v1m11 -8v1m0 24v1"/>
<path stroke="#ff6e6e" d="M1.5 49v1m2 -35v1m0 17v1m4 -18v1m17 24v1m2 -9v1"/>
<path stroke="#aabee6" d="M79.5 22v1m23 -8v1m37 20v1m28 -3v1"/>
<path stroke="#dcbec8" d="M42.5 31v1m63 -13v1m27 -5v1"/>
<path stroke="#82a0fa" d="M175.5 44v1m5 -30v1"/>
<path stroke="#f0aaaa" d="M10.5 29v1m44 -14v1"/>
<path stroke="#e6aab4" d="M4.5 18v1m36 13v1m20 -17v1"/>
<path stroke="#f096a0" d="M2.5 25v1m59 -10v1"/>
<path stroke="#dce6e6" d="M111.5 16v1"/>
<path stroke="#a0bedc" d="M119.5 16v1"/>
<path stroke="#bec8dc" d="M95.5 28v1m31 -13v1"/>
<path stroke="#aabefa" d="M162.5 16v1"/>
<path stroke="#ff646e" d="M0.5 27v1m0 12v1m1 -24v1m0 9v1m0 0v1m0 10v1m0 2v1m0 1v1m7 -1v1m4 -20v1m15 23v1"/>
<path stroke="#a0c8fa" d="M125.5 44v1m15 -17v1m6 10v1m22 -23v1m8 7v1"/>
<path stroke="#d2c8e6" d="M84.5 18v1m38 9v1"/>
<path stroke="#c8b4c8" d="M97.5 18v1"/>
<path stroke="#e696aa" d="M59.5 19v1"/>
<path stroke="#e6b4be" d="M21.5 47v1m27 -19v1m24 -11v1"/>
<path stroke="#a0bee6" d="M130.5 37v1m37 7v1m7 -27v1"/>
<path stroke="#d2bee6" d="M36.5 21v1"/>
<path stroke="#8caafa" d="M141.5 21v1m20 22v1m17 -11v1"/>
<path stroke="#dcdcfa" d="M118.5 39v1m11 4v1m23 -24v1"/>
<path stroke="#96b4e6" d="M88.5 37v1m62 -16v1m17 -2v1m5 5v1"/>
<path stroke="#96b4fa" d="M101.5 46v1m24 -25v1m35 23v1m8 -6v1m10 -12v1m1 -1v1"/>
<path stroke="#dcbed2" d="M67.5 23v1m21 19v1"/>
<path stroke="#c8c8f0" d="M90.5 33v1m19 8v1m4 -20v1m4 7v1m39 -3v1"/>
<path stroke="#e6bec8" d="M5.5 28v1m1 19v1m29 -25v1m1 13v1m13 -13v1m5 18v1m2 -22v1m4 0v1m0 9v1m20 6v1"/>
<path stroke="#5078fa" d="M180.5 25v1"/>
<path stroke="#ff5a5a" d="M0.5 41v1m3 -3v1m5 -13v1"/>
<path stroke="#bec8fa" d="M106.5 27v1m49 5v1"/>
<path stroke="#96aaf0" d="M166.5 28v1"/>
<path stroke="#96befa" d="M158.5 32v1m20 -5v1"/>
<path stroke="#3c5afa" d="M179.5 37v1m1 -10v1m0 12v1m0 7v1"/>
<path stroke="#c8c8d2" d="M88.5 29v1"/>
<path stroke="#d2d2fa" d="M61.5 31v1"/>
<path stroke="#b4dce6" d="M152.5 32v1"/>
<path stroke="#b4bef0" d="M148.5 34v1m4 -2v1m8 7v1m5 -5v1"/>
<path stroke="#a0d2e6" d="M164.5 33v1"/>
<path stroke="#fa8282" d="M3.5 35v1"/>
<path stroke="#f0c8dc" d="M41.5 35v1"/>
<path stroke="#ff2832" d="M1.5 37v1"/>
<path stroke="#c8b4dc" d="M82.5 37v1"/>
<path stroke="#a0aae6" d="M122.5 37v1"/>
<path stroke="#c8bedc" d="M111.5 39v1"/>
<path stroke="#e6d2d2" d="M81.5 41v1"/>
<path stroke="#d2bed2" d="M126.5 41v1"/>
<path stroke="#bebee6" d="M42.5 46v1m76 -3v1"/>
<path stroke="#d2bec8" d="M47.5 46v1"/>
<path stroke="#aab4dc" d="M156.5 47v1"/>
<path stroke="#8ca0fa" d="M175.5 48v1"/>
<path stroke="#e6a0aa" d="M23.5 49v1"/>
<path stroke="#d2bedc" d="M88.5 49v1"/>
</g>
<g transform="rotate(0.3 389.9 95.7)" font-size="3.4" fill="#222" stroke="#222" stroke-width="0.12">
<text x="383.9" y="18.72">IFI6</text>
<text x="383.9" y="21.91">IFIT1</text>
<text x="383.9" y="25.10">ISG15</text>
<text x="383.9" y="28.30">OAS1</text>
<text x="383.9" y="31.49">MX1</text>
<text x="383.9" y="34.68">OASL</text>
<text x="383.9" y="37.87">IFI44</text>
<text x="383.9" y="41.06">IFIT3</text>
<text x="383.9" y="44.26">RSAD2</text>
<text x="383.9" y="47.45">IFI44L</text>
<text x="383.9" y="50.64">MX2</text>
<text x="383.9" y="53.83">OAS2</text>
<text x="383.9" y="57.02">CMPK2</text>
<text x="383.9" y="60.22">USP18</text>
<text x="383.9" y="63.41">OAS3</text>
<text x="383.9" y="66.60">EPSTI1</text>
<text x="383.9" y="69.79">XAF1</text>
<text x="383.9" y="72.98">IFI27</text>
<text x="383.9" y="76.18">PARP12</text>
<text x="383.9" y="79.37">RTP4</text>
<text x="383.9" y="82.56">HERC6</text>
<text x="383.9" y="85.75">DDX58</text>
<text x="383.9" y="88.94">IFIH1</text>
<text x="383.9" y="92.14">HERC5</text>
<text x="383.9" y="95.33">SAMD9L</text>
<text x="383.9" y="98.52">IFIT2</text>
<text x="383.9" y="101.71">IRF7</text>
<text x="383.9" y="104.90">PARP9</text>
<text x="383.9" y="108.10">BST2</text>
<text x="383.9" y="111.29">SAMD9</text>
<text x="383.9" y="114.48">STAT1</text>
<text x="383.9" y="117.67">HERC2</text>
<text x="383.9" y="120.86">DDX60</text>
<text x="383.9" y="124.06">IFITM1</text>
<text x="383.9" y="127.25">TRIM22</text>
<text x="383.9" y="130.44">EIF2AK2</text>
<text x="383.9" y="133.63">LGALS3BP</text>
<text x="383.9" y="136.82">IFI35</text>
<text x="383.9" y="140.02">PLSCR1</text>
<text x="383.9" y="143.21">SP110</text>
<text x="383.9" y="146.40">C19</text>
<text x="383.9" y="149.59">CXCR4P1</text>
<text x="383.9" y="152.78">ISG20</text>
<text x="383.9" y="155.98">PLAC8</text>
<text x="383.9" y="159.17">HLA-B</text>
<text x="383.9" y="162.36">ZBP1</text>
<text x="383.9" y="165.55">EPSTI1</text>
<text x="383.9" y="168.74">PSMB8</text>
<text x="383.9" y="171.94">PARP14</text>
<text x="383.9" y="175.13">B2M</text>
</g>
<text x="401.3" y="79.8" font-size="4.8" font-weight="bold" fill="#111" stroke="#111" stroke-width="0.18">Z-Score</text>
<text x="422.2" y="79.8" font-size="4.8" font-weight="bold" fill="#111" stroke="#111" stroke-width="0.18">Group</text>
<rect x="401.6" y="82.0" width="5.0" height="5.0" fill="#ff0000"/>
<text x="408.6" y="86.3" font-size="5.0" fill="#111" stroke="#111" stroke-width="0.18">&gt;3</text>
<rect x="422.4" y="82.0" width="5.0" height="5.0" fill="#ff0000"/>
<text x="428.8" y="86.3" font-size="5.0" fill="#111" stroke="#111" stroke-width="0.18">4</text>
<rect x="401.6" y="87.4" width="5.0" height="5.0" fill="#ffc0cb"/>
<text x="408.6" y="91.7" font-size="5.0" fill="#111" stroke="#111" stroke-width="0.18">1</text>
<rect x="422.4" y="87.4" width="5.0" height="5.0" fill="#ff7f50"/>
<text x="428.8" y="91.7" font-size="5.0" fill="#111" stroke="#111" stroke-width="0.18">2</text>
<text x="408.6" y="97.1" font-size="5.0" fill="#111" stroke="#111" stroke-width="0.18">0</text>
<text x="428.8" y="97.1" font-size="5.0" fill="#111" stroke="#111" stroke-width="0.18">0</text>
<rect x="401.6" y="98.2" width="5.0" height="5.0" fill="#87ceeb"/>
<text x="408.6" y="102.5" font-size="5.0" fill="#111" stroke="#111" stroke-width="0.18">-1</text>
<rect x="422.4" y="98.2" width="5.0" height="5.0" fill="#8c64ff"/>
<text x="428.8" y="102.5" font-size="5.0" fill="#111" stroke="#111" stroke-width="0.18">-2</text>
<rect x="401.6" y="103.6" width="5.0" height="5.0" fill="#0000ff"/>
<text x="408.6" y="107.9" font-size="5.0" fill="#111" stroke="#111" stroke-width="0.18">&lt;-3</text>
<rect x="422.4" y="103.6" width="5.0" height="5.0" fill="#0000ff"/>
<text x="428.8" y="107.9" font-size="5.0" fill="#111" stroke="#111" stroke-width="0.18">-4</text>
<defs><linearGradient id="g22" x1="0" x2="1" y1="0" y2="0"><stop offset="0.003" stop-color="#ff4e37"/><stop offset="0.025" stop-color="#ff815d"/><stop offset="0.047" stop-color="#ff9475"/><stop offset="0.069" stop-color="#ffa084"/><stop offset="0.091" stop-color="#ffa991"/><stop offset="0.113" stop-color="#ffb19b"/><stop offset="0.135" stop-color="#ffb8a4"/><stop offset="0.157" stop-color="#ffbeac"/><stop offset="0.179" stop-color="#ffc4b3"/><stop offset="0.201" stop-color="#ffc9ba"/><stop offset="0.223" stop-color="#ffcec0"/><stop offset="0.245" stop-color="#ffd3c6"/><stop offset="0.266" stop-color="#ffd7cc"/><stop offset="0.288" stop-color="#ffdbd1"/><stop offset="0.310" stop-color="#ffdfd6"/><stop offset="0.332" stop-color="#ffe3db"/><stop offset="0.354" stop-color="#ffe7e0"/><stop offset="0.376" stop-color="#ffebe5"/><stop offset="0.398" stop-color="#ffefea"/><stop offset="0.420" stop-color="#fff2ee"/><stop offset="0.442" stop-color="#fff6f3"/><stop offset="0.464" stop-color="#fff9f8"/><stop offset="0.486" stop-color="#fffdfc"/><stop offset="0.508" stop-color="#fefdff"/><stop offset="0.530" stop-color="#fbf9ff"/><stop offset="0.552" stop-color="#f7f5ff"/><stop offset="0.574" stop-color="#f4f1ff"/><stop offset="0.596" stop-color="#f1ecff"/><stop offset="0.618" stop-color="#eee8ff"/><stop offset="0.640" stop-color="#eae3ff"/><stop offset="0.662" stop-color="#e7dfff"/><stop offset="0.684" stop-color="#e3daff"/><stop offset="0.706" stop-color="#e0d5ff"/><stop offset="0.728" stop-color="#dcd0ff"/><stop offset="0.750" stop-color="#d8cbff"/><stop offset="0.772" stop-color="#d4c5ff"/><stop offset="0.794" stop-color="#d0bfff"/><stop offset="0.816" stop-color="#cbb9ff"/><stop offset="0.838" stop-color="#c6b3ff"/><stop offset="0.860" stop-color="#c1abff"/><stop offset="0.882" stop-color="#bba3ff"/><stop offset="0.904" stop-color="#b49aff"/><stop offset="0.926" stop-color="#ac8fff"/><stop offset="0.948" stop-color="#a281ff"/><stop offset="0.970" stop-color="#936dff"/><stop offset="0.992" stop-color="#7050ff"/><stop offset="0.997" stop-color="#563dff"/></linearGradient></defs>
<rect x="448.0" y="9.6" width="181.9" height="5.1" fill="url(#g22)"/>
<g transform="translate(448.00,15.90) scale(0.9995,3.2160)" stroke-width="1.02" fill="none" shape-rendering="crispEdges">
<path stroke="#96c8f0" d="M0.5 0v1m0 1v1m0 33v1m2 -35v1m1 9v1m0 28v1m0 3v1m2 -46v1m1 15v1m0 13v1m2 -17v1m0 23v1m0 9v1m1 -14v1m1 -9v1m1 -13v1m1 3v1m1 -15v1m1 -6v1m2 10v1m2 17v1m1 -24v1m4 -2v1m0 22v1m1 -1v1m1 13v1m2 -38v1m0 19v1m0 2v1m6 -16v1m0 16v1m2 11v1m1 -16v1m1 -4v1m1 13v1m2 -34v1m0 6v1m0 2v1m2 11v1m0 21v1m1 -20v1m0 12v1m0 1v1m0 0v1m1 -42v1m2 15v1m1 9v1m0 16v1m5 -12v1m4 -38v1m1 1v1m0 39v1m2 -43v1m3 38v1m4 -19v1m3 -2v1m14 -21v1m0 45v1m3 -23v1m5 -24v1m0 22v1m13 -10v1m15 -15v1m0 17v1"/>
<path stroke="#6e96f0" d="M1.5 0v1m1 29v1m5 -10v1m0 4v1m1 -18v1m0 1v1m0 11v1m0 0v1m2 -20v1m0 31v1m1 -11v1m0 2v1m0 10v1m0 2v1m0 1v1m26 -26v1m1 -12v1m13 -6v1m0 6v1m35 25v1"/>
<path stroke="#648cf0" d="M2.5 0v1m0 28v1m6 7v1m2 -38v1m1 36v1m36 -25v1m1 4v1m3 -18v1"/>
<path stroke="#96b4f0" d="M1.5 20v1m0 6v1m1 -19v1m1 -10v1m2 42v1m2 -39v1m4 6v1m5 20v1m5 -6v1m1 -24v1m1 38v1m3 1v1m1 -11v1m0 7v1m2 -28v1m2 5v1m3 -1v1m3 -4v1m5 20v1m1 -33v1m0 1v1m0 17v1m5 -18v1m0 24v1m3 -3v1m5 -9v1m1 -27v1m3 15v1m2 -12v1m10 -5v1m4 38v1m4 -40v1m0 35v1m5 -7v1m1 -30v1m0 1v1m5 16v1m16 15v1m32 -36v1m0 11v1"/>
<path stroke="#aad2f0" d="M1.5 2v1m0 26v1m0 3v1m1 5v1m1 -39v1m0 12v1m0 25v1m1 -41v1m0 41v1m1 -8v1m0 4v1m1 -41v1m0 0v1m0 34v1m0 7v1m2 -27v1m0 21v1m0 3v1m1 -37v1m0 11v1m1 1v1m2 -14v1m0 24v1m0 5v1m0 1v1m1 -3v1m0 0v1m1 -17v1m0 8v1m0 14v1m1 -5v1m1 -36v1m1 23v1m0 14v1m1 -42v1m0 7v1m1 6v1m1 -24v1m0 2v1m1 37v1m0 6v1m1 -23v1m0 1v1m0 7v1m1 -35v1m0 4v1m0 24v1m1 -16v1m0 4v1m1 -11v1m1 -11v1m0 13v1m1 18v1m2 -12v1m2 -13v1m1 14v1m1 3v1m0 3v1m3 0v1m0 8v1m2 -20v1m1 0v1m1 -28v1m0 7v1m1 -9v1m0 5v1m0 8v1m0 1v1m0 29v1m1 -40v1m0 12v1m0 2v1m1 14v1m0 7v1m1 -14v1m2 -10v1m0 12v1m1 -37v1m0 18v1m1 -9v1m0 8v1m0 23v1m3 1v1m2 -3v1m0 1v1m1 -39v1m2 -9v1m0 27v1m1 -31v1m0 10v1m0 18v1m2 -29v1m6 32v1m1 -29v1m0 24v1m3 -23v1m0 5v1m0 20v1m2 -19v1m0 4v1m4 -4v1m1 -21v1m0 35v1m0 2v1m7 -24v1m0 9v1m0 3v1m2 2v1m1 -29v1m0 19v1m0 14v1m1 0v1m4 -35v1m4 39v1m2 -34v1m1 1v1m11 -6v1m0 2v1m0 28v1m1 -23v1m1 -4v1m2 -1v1m6 -15v1m0 17v1m0 10v1m6 -26v1m8 12v1m2 -18v1m31 38v1m3 -45v1m6 31v1"/>
<path stroke="#8cb4f0" d="M0.5 19v1m0 19v1m2 -35v1m1 -3v1m0 16v1m0 0v1m0 1v1m0 7v1m0 3v1m2 -17v1m0 21v1m1 -22v1m0 20v1m1 -42v1m0 24v1m1 17v1m1 -33v1m0 19v1m1 -18v1m0 26v1m1 -35v1m0 9v1m2 -1v1m0 16v1m1 -33v1m0 12v1m4 8v1m0 9v1m3 -19v1m1 0v1m2 19v1m0 11v1m2 -45v1m0 28v1m3 -1v1m3 -30v1m5 5v1m0 22v1m1 -16v1m0 19v1m2 -38v1m0 36v1m0 0v1m2 -38v1m0 44v1m1 -34v1m0 16v1m5 8v1m3 5v1m6 -19v1m3 12v1m6 -6v1m2 -14v1m1 18v1m19 -35v1m0 4v1m31 12v1m6 -11v1m14 25v1"/>
<path stroke="#4664fa" d="M8.5 0v1"/>
<path stroke="#b4dcf0" d="M1.5 7v1m1 7v1m1 10v1m1 12v1m2 -28v1m0 15v1m0 3v1m1 -22v1m1 -8v1m1 -5v1m0 43v1m1 -13v1m0 7v1m1 -37v1m1 11v1m3 27v1m0 2v1m1 -18v1m0 11v1m1 -42v1m0 39v1m2 -8v1m1 -28v1m0 31v1m1 0v1m3 -15v1m1 -4v1m1 -1v1m1 5v1m2 1v1m2 17v1m2 -25v1m0 23v1m2 -11v1m1 -5v1m0 1v1m1 -36v1m3 28v1m0 9v1m1 -8v1m1 -12v1m0 11v1m3 -21v1m2 13v1m1 -5v1m2 -24v1m0 25v1m2 -26v1m3 25v1m2 2v1m0 4v1m0 2v1m0 2v1m0 5v1m1 -1v1m1 -45v1m0 33v1m1 -38v1m0 8v1m4 7v1m1 -14v1m0 21v1m0 8v1m1 -7v1m3 -20v1m0 2v1m0 2v1m0 29v1m1 -31v1m2 9v1m1 -11v1m1 2v1m10 -1v1m1 -20v1m1 9v1m0 30v1m7 -12v1m4 -27v1m0 13v1m0 13v1m5 -7v1m2 8v1m0 8v1m4 -4v1m1 -3v1m10 -39v1m0 12v1m5 -17v1m0 2v1m0 20v1m3 -5v1m1 -18v1m5 35v1m0 9v1m6 -18v1m5 -23v1m25 28v1"/>
<path stroke="#5a82f0" d="M0.5 34v1m3 -26v1m0 37v1m4 -24v1m1 -23v1m0 28v1m3 -32v1m0 0v1m0 3v1m0 43v1m40 -47v1"/>
<path stroke="#6ea0f0" d="M2.5 17v1m2 13v1m2 -5v1m3 0v1m0 14v1m2 -33v1m0 7v1m0 0v1m0 10v1m1 -32v1m3 -1v1m0 8v1m11 21v1m1 -13v1m0 7v1m9 -23v1m15 15v1m5 -14v1m1 8v1m26 0v1"/>
<path stroke="#96bef0" d="M0.5 6v1m0 15v1m0 2v1m0 11v1m1 -20v1m1 -18v1m0 8v1m1 11v1m0 4v1m0 1v1m1 -1v1m0 15v1m1 -20v1m0 2v1m1 -6v1m0 20v1m1 -39v1m0 40v1m2 -23v1m1 3v1m0 3v1m1 -13v1m1 10v1m0 1v1m1 -36v1m0 27v1m0 10v1m1 -29v1m0 17v1m0 10v1m1 -14v1m1 3v1m1 -24v1m3 -4v1m3 13v1m0 9v1m0 10v1m1 -32v1m0 19v1m0 12v1m2 -30v1m0 35v1m3 -43v1m0 19v1m2 -7v1m2 -17v1m0 17v1m4 -15v1m0 16v1m0 22v1m1 -37v1m0 22v1m0 5v1m2 -36v1m0 26v1m0 12v1m1 -45v1m2 13v1m0 10v1m0 2v1m0 6v1m0 3v1m2 -21v1m5 11v1m1 2v1m5 -10v1m0 15v1m10 -45v1m0 16v1m0 26v1m2 -16v1m0 15v1m1 -8v1m2 2v1m2 -23v1m3 3v1m0 10v1m4 -11v1m3 14v1m3 -31v1m0 0v1m0 3v1m5 -15v1m10 28v1m8 -9v1m10 8v1m0 7v1m0 3v1m6 -14v1m0 0v1m2 13v1m12 -43v1"/>
<path stroke="#bec8f0" d="M6.5 13v1m3 25v1m1 -5v1m2 -26v1m4 -11v1m1 -1v1m0 9v1m0 8v1m0 25v1m2 -15v1m3 -20v1m0 8v1m1 26v1m2 -33v1m6 24v1m2 -16v1m2 0v1m1 -18v1m3 -6v1m2 39v1m3 -19v1m1 -14v1m0 13v1m0 10v1m2 -7v1m3 -25v1m0 14v1m3 -13v1m2 20v1m2 -3v1m1 12v1m2 3v1m2 -48v1m4 14v1m4 28v1m8 -38v1m5 35v1m3 -32v1m1 35v1m1 -5v1m4 -31v1m1 5v1m0 9v1m0 1v1m1 -34v1m1 45v1m3 -23v1m0 0v1m3 16v1m4 -25v1m1 -14v1m2 33v1m1 8v1m1 -21v1m0 7v1m1 -24v1m2 4v1m2 -4v1m4 -2v1m0 28v1m6 4v1m2 -12v1m0 2v1m12 -30v1m2 24v1m8 -16v1m14 20v1m14 -18v1"/>
<path stroke="#e6e6f0" d="M1.5 14v1m3 -11v1m1 -2v1m0 0v1m4 1v1m3 22v1m0 6v1m1 -26v1m0 23v1m0 11v1m1 -22v1m1 11v1m3 -39v1m0 32v1m1 -26v1m0 31v1m0 6v1m1 -44v1m0 13v1m1 -9v1m3 8v1m1 24v1m1 -12v1m2 -30v1m0 16v1m0 1v1m0 2v1m0 1v1m1 -25v1m0 3v1m0 29v1m1 -33v1m0 1v1m1 23v1m1 0v1m0 9v1m2 -32v1m0 26v1m2 2v1m1 -39v1m2 17v1m2 -22v1m3 21v1m0 14v1m1 -15v1m1 -6v1m1 -3v1m2 -12v1m3 6v1m0 3v1m0 22v1m0 0v1m0 2v1m2 -8v1m6 -30v1m1 31v1m1 -31v1m1 -7v1m0 17v1m0 16v1m1 -37v1m0 16v1m1 -9v1m1 -7v1m1 -3v1m0 13v1m0 28v1m3 -43v1m0 27v1m1 -32v1m0 18v1m0 26v1m1 -41v1m0 5v1m1 -5v1m0 0v1m1 -6v1m0 13v1m2 3v1m1 -10v1m0 6v1m0 1v1m0 4v1m0 17v1m1 -34v1m0 13v1m1 -23v1m0 0v1m0 7v1m0 7v1m0 1v1m0 2v1m2 -19v1m1 -6v1m0 3v1m1 -5v1m0 20v1m2 19v1m1 1v1m2 -41v1m0 24v1m1 -32v1m0 37v1m2 -21v1m0 28v1m1 -21v1m2 -2v1m2 -6v1m1 4v1m1 -10v1m1 -15v1m0 5v1m1 2v1m0 11v1m0 20v1m1 -34v1m0 5v1m4 11v1m0 13v1m0 2v1m1 -32v1m0 10v1m3 -8v1m0 5v1m1 -27v1m0 20v1m0 7v1m1 -21v1m0 29v1m0 7v1m1 -2v1m1 -22v1m0 4v1m0 12v1m1 -31v1m0 16v1m0 15v1m1 -43v1m0 7v1m0 20v1m0 4v1m3 -39v1m0 27v1m0 4v1m1 -32v1m2 11v1m1 -10v1m0 25v1m1 -17v1m0 5v1m2 4v1m1 -29v1m0 25v1m0 6v1m2 -28v1m0 10v1m0 4v1m0 16v1m1 -38v1m1 15v1m0 4v1m0 8v1m0 10v1m2 -13v1m1 -4v1m1 -22v1m1 -6v1m0 41v1m1 -22v1m0 20v1m1 -21v1m3 14v1m1 -32v1m0 9v1m1 9v1m0 17v1m1 -9v1m2 -25v1m2 9v1m1 5v1m0 1v1m1 -22v1m0 10v1m1 -2v1m3 1v1m0 22v1m2 -1v1m4 -28v1m2 -19v1m2 23v1m0 8v1m0 14v1m2 -13v1m2 -11v1m4 1v1m3 -22v1m1 -8v1m0 28v1m2 15v1m3 -22v1"/>
<path stroke="#aadcf0" d="M0.5 26v1m0 20v1m3 -18v1m2 -8v1m4 -23v1m4 41v1m1 -41v1m3 38v1m2 -43v1m0 45v1m3 -39v1m2 24v1m5 -11v1m6 13v1m5 -16v1m1 26v1m2 -14v1m0 12v1m1 -46v1m1 3v1m3 0v1m2 13v1m2 8v1m1 -24v1m0 7v1m3 -6v1m1 32v1m18 -4v1m1 -14v1m2 6v1m22 -3v1m27 7v1"/>
<path stroke="#aac8f0" d="M1.5 6v1m0 16v1m1 1v1m0 0v1m0 0v1m1 18v1m1 -17v1m2 -24v1m1 -2v1m0 11v1m0 0v1m2 12v1m1 -25v1m2 -7v1m1 -2v1m0 4v1m0 8v1m1 -6v1m0 12v1m0 3v1m0 19v1m1 -31v1m1 14v1m0 5v1m1 -30v1m4 -10v1m0 16v1m2 -3v1m2 -14v1m2 27v1m1 7v1m1 -38v1m0 34v1m1 12v1m1 -41v1m0 17v1m2 16v1m1 -30v1m0 30v1m1 -22v1m1 -9v1m0 20v1m1 -32v1m0 5v1m0 14v1m0 1v1m0 5v1m1 -32v1m1 -3v1m2 8v1m0 16v1m0 1v1m1 11v1m0 2v1m1 -28v1m0 2v1m1 -17v1m1 -3v1m0 22v1m1 0v1m1 -17v1m1 35v1m1 -33v1m2 -10v1m0 38v1m3 -42v1m2 4v1m0 23v1m0 5v1m1 -22v1m1 9v1m0 1v1m0 7v1m2 -26v1m2 -7v1m0 28v1m1 -4v1m3 -32v1m0 7v1m2 16v1m1 -6v1m0 20v1m0 0v1m3 -15v1m1 -30v1m2 2v1m0 11v1m0 20v1m1 -31v1m0 6v1m0 4v1m0 28v1m3 -47v1m0 12v1m4 -7v1m0 25v1m2 -22v1m0 22v1m1 -38v1m0 0v1m2 19v1m0 17v1m4 -38v1m0 44v1m5 -17v1m0 9v1m3 -33v1m4 12v1m15 -6v1m0 18v1m2 -2v1m4 -22v1m14 -16v1m24 23v1"/>
<path stroke="#aabefa" d="M1.5 25v1m2 -10v1m6 32v1m13 -50v1m15 15v1m1 -1v1m9 3v1m1 -16v1m1 19v1m16 17v1m4 -22v1m9 16v1m8 -3v1m1 -30v1m5 -8v1m9 3v1m74 -6v1"/>
<path stroke="#7896e6" d="M5.5 36v1m18 -37v1"/>
<path stroke="#d2dcf0" d="M1.5 19v1m8 25v1m4 -38v1m1 22v1m3 -27v1m1 22v1m1 -18v1m1 -6v1m0 20v1m0 1v1m2 -11v1m0 4v1m0 23v1m2 -49v1m2 34v1m0 8v1m1 -38v1m0 33v1m1 -37v1m0 19v1m0 17v1m2 -27v1m1 -1v1m1 -11v1m0 33v1m2 -2v1m2 7v1m3 -23v1m0 16v1m2 -21v1m3 24v1m1 -14v1m0 0v1m0 6v1m1 -18v1m1 -26v1m0 26v1m0 14v1m2 -14v1m1 -2v1m0 8v1m2 -31v1m0 15v1m1 8v1m1 -20v1m0 20v1m1 -36v1m0 25v1m0 14v1m2 6v1m1 -31v1m0 13v1m0 3v1m0 0v1m3 -38v1m0 16v1m0 16v1m0 10v1m1 -19v1m0 14v1m1 -38v1m0 5v1m2 7v1m1 -19v1m0 7v1m0 28v1m1 -39v1m0 33v1m0 4v1m1 3v1m0 5v1m2 -40v1m1 0v1m0 10v1m0 15v1m2 3v1m1 -35v1m1 28v1m1 -36v1m0 36v1m1 -15v1m0 1v1m0 4v1m2 7v1m0 3v1m1 -31v1m0 12v1m2 0v1m1 -14v1m0 22v1m1 6v1m1 -42v1m0 2v1m0 9v1m2 16v1m1 -31v1m0 1v1m0 8v1m0 3v1m0 1v1m2 23v1m1 -36v1m0 6v1m4 -16v1m1 12v1m0 12v1m1 10v1m1 -27v1m1 11v1m0 20v1m1 -47v1m0 20v1m2 -19v1m1 11v1m1 15v1m2 2v1m1 -31v1m0 10v1m0 1v1m1 4v1m1 -10v1m0 6v1m1 -1v1m0 8v1m1 -28v1m0 44v1m1 -45v1m1 11v1m0 24v1m3 -5v1m3 -11v1m0 14v1m1 -41v1m1 27v1m1 0v1m0 15v1m1 -5v1m1 -37v1m0 24v1m1 -26v1m0 32v1m1 2v1m2 -16v1m0 3v1m5 -27v1m0 41v1m2 -28v1m0 13v1m2 3v1m2 -23v1m0 13v1m1 -20v1m0 12v1m0 3v1m1 -27v1m0 11v1m1 14v1m4 -6v1m0 9v1m1 -12v1m4 9v1m2 -29v1m4 18v1m0 8v1m9 -25v1m2 -8v1m1 6v1m0 33v1m2 -36v1m2 30v1m1 -33v1m1 32v1m1 -30v1m0 30v1"/>
<path stroke="#bedcf0" d="M0.5 49v1m1 -6v1m0 0v1m5 -42v1m2 3v1m1 6v1m0 31v1m3 -34v1m1 -12v1m0 18v1m2 -22v1m0 28v1m1 -28v1m0 4v1m1 16v1m0 10v1m1 -36v1m2 17v1m0 1v1m0 1v1m0 19v1m0 3v1m2 -30v1m0 30v1m1 -49v1m0 15v1m1 -13v1m0 15v1m1 -22v1m0 20v1m1 -14v1m0 9v1m1 -6v1m0 28v1m1 -12v1m1 -11v1m0 11v1m1 -34v1m0 0v1m0 35v1m0 0v1m1 -23v1m0 16v1m0 1v1m0 10v1m1 -12v1m0 3v1m1 -22v1m0 13v1m2 -15v1m0 1v1m1 4v1m3 -20v1m0 11v1m1 -9v1m0 3v1m0 29v1m0 4v1m1 -28v1m0 1v1m0 7v1m0 11v1m0 3v1m1 -43v1m0 15v1m0 3v1m0 5v1m2 -30v1m0 7v1m0 34v1m1 -45v1m0 43v1m1 -32v1m0 15v1m1 13v1m0 3v1m2 -4v1m1 -32v1m3 -13v1m0 34v1m0 3v1m1 -15v1m0 1v1m0 11v1m1 -9v1m1 -13v1m1 -10v1m0 32v1m1 -34v1m2 20v1m0 4v1m1 -35v1m1 7v1m0 1v1m0 27v1m0 3v1m1 -30v1m2 12v1m0 6v1m0 6v1m1 -16v1m0 4v1m1 -25v1m1 1v1m0 27v1m3 -36v1m1 17v1m2 9v1m0 2v1m1 -20v1m0 7v1m1 17v1m0 1v1m2 -17v1m4 15v1m4 -17v1m2 3v1m3 -10v1m1 -18v1m0 14v1m3 12v1m2 -12v1m2 11v1m2 -36v1m0 7v1m1 5v1m2 -17v1m1 30v1m3 -1v1m0 16v1m1 -48v1m0 9v1m0 37v1m1 -8v1m2 -24v1m6 25v1m1 -39v1m0 24v1m2 13v1m3 -30v1m0 24v1m1 -31v1m0 11v1m0 15v1m1 -6v1m1 -27v1m0 8v1m1 -8v1m7 35v1m3 -38v1m1 -1v1m0 31v1m1 -28v1m0 10v1m15 15v1m1 -35v1m7 0v1m0 1v1m0 6v1m0 13v1"/>
<path stroke="#d2e6f0" d="M0.5 40v1m4 3v1m1 0v1m4 -41v1m3 0v1m1 -3v1m0 4v1m0 6v1m2 31v1m1 -44v1m1 21v1m1 18v1m1 -4v1m1 -11v1m1 2v1m1 -14v1m0 3v1m2 -4v1m0 14v1m1 -37v1m0 2v1m0 36v1m1 -44v1m1 20v1m1 -15v1m2 17v1m0 18v1m0 2v1m1 -34v1m0 13v1m3 -15v1m0 22v1m1 -38v1m0 14v1m0 6v1m1 -19v1m0 2v1m0 32v1m0 0v1m5 -14v1m2 -25v1m1 12v1m0 22v1m0 2v1m5 -17v1m0 5v1m0 1v1m1 -10v1m0 4v1m0 10v1m5 -7v1m0 5v1m1 -22v1m2 13v1m2 4v1m0 0v1m1 -29v1m1 -12v1m1 -2v1m0 33v1m2 -27v1m0 17v1m0 8v1m0 4v1m1 3v1m0 3v1m1 -41v1m1 13v1m1 15v1m2 -33v1m1 24v1m0 0v1m1 9v1m1 -31v1m0 19v1m1 -20v1m1 32v1m1 -15v1m0 14v1m1 -42v1m2 26v1m1 -1v1m0 3v1m2 -38v1m0 10v1m1 18v1m0 6v1m1 1v1m1 6v1m1 -36v1m1 3v1m0 31v1m2 -6v1m5 -10v1m1 -21v1m1 23v1m1 -37v1m1 4v1m0 1v1m0 24v1m2 -5v1m0 1v1m0 13v1m3 -26v1m0 20v1m0 6v1m1 -10v1m1 -26v1m0 11v1m0 21v1m1 -9v1m2 -40v1m0 27v1m0 6v1m3 2v1m4 -16v1m0 1v1m3 -8v1m1 10v1m1 -8v1m4 -25v1m2 34v1m0 12v1m1 -39v1m3 0v1m2 12v1m0 20v1m2 -25v1m0 15v1m2 -9v1m2 9v1m9 -35v1m1 17v1m10 -21v1m4 27v1m0 15v1m3 -14v1m0 5v1m9 -20v1"/>
<path stroke="#a0b4e6" d="M1.5 47v1m24 -40v1m2 -9v1m8 7v1m3 -1v1m16 14v1m4 -7v1m0 4v1m0 1v1m2 -1v1m15 -6v1m13 19v1m19 -28v1m1 11v1"/>
<path stroke="#dce6f0" d="M7.5 10v1m2 3v1m6 -1v1m0 11v1m1 12v1m3 -36v1m0 7v1m0 1v1m0 3v1m0 7v1m0 10v1m0 11v1m1 -20v1m0 0v1m0 4v1m1 -16v1m0 23v1m1 -32v1m0 15v1m3 -14v1m0 0v1m0 0v1m2 -9v1m1 -12v1m0 45v1m2 -26v1m1 -22v1m0 24v1m1 -15v1m0 33v1m2 -42v1m0 4v1m0 37v1m1 -18v1m0 0v1m1 7v1m3 -28v1m0 34v1m0 1v1m1 -12v1m4 -24v1m1 31v1m1 -42v1m1 29v1m2 -24v1m0 9v1m0 15v1m0 7v1m1 -23v1m0 13v1m0 1v1m2 -26v1m1 -12v1m0 10v1m0 28v1m1 -44v1m0 10v1m1 -3v1m0 2v1m0 4v1m0 28v1m1 -36v1m2 6v1m0 27v1m1 -39v1m0 4v1m0 6v1m1 -8v1m1 -13v1m0 40v1m1 4v1m1 -14v1m0 12v1m1 -35v1m0 14v1m1 -24v1m0 25v1m0 12v1m2 -42v1m0 13v1m2 6v1m1 -21v1m0 5v1m0 13v1m1 -17v1m0 32v1m1 -27v1m0 16v1m1 -11v1m0 15v1m1 -16v1m1 -6v1m0 15v1m1 -23v1m0 21v1m1 -37v1m0 15v1m0 14v1m3 -31v1m0 1v1m0 2v1m0 28v1m1 -29v1m1 -2v1m1 -5v1m0 17v1m1 -19v1m0 17v1m1 -11v1m0 1v1m0 23v1m0 8v1m1 -39v1m1 2v1m0 29v1m1 -41v1m0 45v1m2 -6v1m2 -31v1m0 10v1m0 11v1m3 -35v1m1 12v1m0 6v1m1 -9v1m0 13v1m0 16v1m1 -3v1m0 4v1m2 -28v1m0 22v1m1 -21v1m0 22v1m1 -26v1m0 2v1m1 -24v1m0 28v1m0 3v1m0 4v1m0 2v1m1 -16v1m1 -19v1m1 12v1m0 24v1m1 -8v1m4 -36v1m0 0v1m1 -6v1m0 15v1m0 6v1m1 -8v1m1 30v1m2 -9v1m4 -30v1m0 10v1m0 15v1m0 3v1m1 -29v1m0 11v1m0 7v1m0 7v1m1 -41v1m0 20v1m0 8v1m0 5v1m1 -5v1m3 15v1m1 -35v1m0 13v1m0 17v1m1 -2v1m1 -34v1m0 4v1m4 -6v1m0 11v1m0 6v1m1 -16v1m3 -14v1m2 8v1m0 34v1m2 -15v1m1 -28v1m0 11v1m0 7v1m0 4v1m0 1v1m4 -17v1m1 -11v1m1 -1v1m3 20v1m1 -5v1m1 -22v1m0 38v1m2 -10v1m0 5v1m2 -1v1m2 7v1m1 -13v1m2 -34v1m1 0v1m0 25v1m4 -6v1m0 9v1m2 -31v1m4 -4v1m0 0v1m2 13v1m0 1v1m0 8v1m2 -14v1"/>
<path stroke="#82bef0" d="M2.5 42v1m5 -34v1m7 -5v1m9 18v1m0 21v1m3 -19v1m3 -29v1m2 2v1m12 12v1m0 1v1m5 24v1m3 -2v1m29 -15v1"/>
<path stroke="#c8c8dc" d="M0.5 4v1m9 5v1m3 0v1m1 25v1m3 6v1m4 -11v1m2 -34v1m0 1v1m3 10v1m7 -15v1m21 21v1m8 1v1m3 -3v1m0 2v1m3 -25v1m8 5v1m5 5v1m0 28v1m4 -14v1m7 -17v1m0 31v1m1 -19v1m5 -20v1m1 14v1m1 -8v1m2 20v1m1 -29v1m0 26v1m2 -7v1m4 -30v1m1 3v1m0 4v1m0 7v1m15 -6v1m14 -14v1m3 16v1m2 2v1m6 -18v1m18 -2v1"/>
<path stroke="#8caaf0" d="M0.5 31v1m0 10v1m1 -33v1m1 29v1m3 -2v1m3 -20v1m3 14v1m4 -28v1m0 12v1m11 16v1m3 -29v1m4 -11v1m9 38v1m1 -35v1m1 33v1m7 -34v1m6 14v1m29 -6v1m2 -16v1m25 15v1m26 1v1"/>
<path stroke="#c8dcf0" d="M2.5 47v1m1 -15v1m2 14v1m1 -47v1m3 1v1m0 7v1m3 -6v1m0 30v1m0 4v1m1 -23v1m0 4v1m0 9v1m1 -30v1m0 4v1m0 25v1m2 -19v1m0 26v1m1 -35v1m0 0v1m0 16v1m3 -12v1m0 1v1m0 21v1m1 -18v1m0 4v1m1 -1v1m1 -19v1m0 12v1m2 -15v1m0 27v1m1 -38v1m1 21v1m1 -18v1m1 12v1m1 -5v1m1 -8v1m1 22v1m0 2v1m0 9v1m1 -11v1m0 10v1m1 -49v1m0 33v1m0 9v1m1 -44v1m0 9v1m0 31v1m0 0v1m1 -33v1m0 15v1m0 3v1m2 0v1m1 -10v1m2 -18v1m0 6v1m0 26v1m2 -42v1m1 -1v1m0 41v1m1 -31v1m0 10v1m1 -13v1m0 10v1m0 10v1m1 -29v1m0 2v1m0 5v1m2 3v1m1 21v1m1 -27v1m1 -14v1m0 33v1m2 2v1m0 5v1m1 -27v1m2 -4v1m1 -9v1m0 1v1m1 6v1m0 14v1m0 1v1m0 1v1m3 -14v1m0 17v1m1 -20v1m0 15v1m0 3v1m1 5v1m1 -30v1m1 4v1m0 1v1m1 -10v1m0 4v1m2 -18v1m1 16v1m0 6v1m0 13v1m1 -26v1m0 31v1m1 -1v1m2 -46v1m1 -2v1m0 30v1m1 -24v1m1 -10v1m0 0v1m0 35v1m1 4v1m0 3v1m5 -19v1m0 1v1m5 -13v1m0 7v1m0 7v1m2 -6v1m1 -26v1m0 25v1m0 2v1m1 2v1m3 -15v1m0 0v1m0 14v1m0 0v1m0 0v1m0 4v1m2 -31v1m0 13v1m1 -29v1m0 24v1m0 20v1m1 -27v1m1 5v1m0 9v1m0 8v1m1 -49v1m0 6v1m1 19v1m0 16v1m1 -34v1m0 14v1m1 0v1m2 -18v1m0 20v1m0 5v1m1 -22v1m0 4v1m0 20v1m1 -27v1m0 30v1m1 -24v1m0 10v1m1 -17v1m0 19v1m2 5v1m1 -44v1m0 5v1m0 16v1m2 -19v1m0 23v1m3 9v1m1 -3v1m0 4v1m1 -42v1m2 13v1m3 -5v1m2 9v1m0 9v1m1 -34v1m0 39v1m3 -32v1m2 -9v1m4 0v1m4 35v1m4 -5v1m10 4v1m0 4v1m3 -11v1m1 -33v1m0 2v1m4 4v1m0 33v1m4 -9v1m2 -31v1m0 28v1m0 9v1m5 -15v1m1 -14v1m0 20v1"/>
<path stroke="#b4c8e6" d="M4.5 2v1m5 10v1m7 5v1m2 1v1m8 2v1m5 9v1m4 -32v1m1 -4v1m1 13v1m1 -4v1m5 21v1m1 -26v1m0 9v1m5 3v1m4 -22v1m3 13v1m8 -14v1m0 15v1m2 10v1m1 1v1m5 -26v1m1 2v1m2 12v1m3 -22v1m5 23v1m1 14v1m14 -19v1m4 -4v1m23 7v1m2 -9v1m6 -6v1m0 14v1m1 1v1m3 -15v1m18 -12v1m8 34v1"/>
<path stroke="#82b4f0" d="M0.5 1v1m0 5v1m0 5v1m0 4v1m6 0v1m0 23v1m1 -30v1m1 -14v1m0 45v1m2 -39v1m0 19v1m1 -17v1m0 0v1m0 9v1m0 23v1m1 -27v1m3 -18v1m0 12v1m7 18v1m2 -32v1m7 32v1m2 -11v1m3 -29v1m1 -2v1m0 0v1m0 6v1m1 -9v1m2 15v1m0 28v1m1 -11v1m1 6v1m1 -42v1m0 1v1m0 44v1m2 -20v1m0 8v1m1 -10v1m2 -11v1m1 0v1m2 -8v1m0 8v1m0 20v1m1 -10v1m10 -19v1m3 25v1m1 -9v1m2 -33v1m1 -3v1m0 0v1m0 32v1m0 6v1m7 -17v1m31 -1v1m20 -18v1"/>
<path stroke="#beb4dc" d="M20.5 41v1m2 0v1m10 -5v1m2 -14v1m5 -26v1m3 32v1m28 -26v1m13 36v1m24 -40v1m20 -2v1m4 13v1m11 0v1m32 -10v1m3 11v1"/>
<path stroke="#82aaf0" d="M0.5 5v1m0 11v1m0 11v1m1 7v1m3 -6v1m0 1v1m2 -1v1m1 -20v1m1 -1v1m0 25v1m2 -39v1m0 2v1m1 -4v1m0 6v1m0 18v1m0 9v1m1 8v1m1 -24v1m1 2v1m1 -23v1m11 2v1m7 5v1m5 13v1m0 7v1m2 -21v1m1 -13v1m1 -6v1m5 41v1m1 -36v1m0 26v1m3 -19v1m0 3v1m0 11v1m7 -5v1m1 3v1m27 -2v1m33 -17v1m20 12v1"/>
<path stroke="#bed2fa" d="M12.5 27v1m4 17v1m3 -25v1m1 -6v1m3 19v1m3 -31v1m0 5v1m3 -4v1m3 -8v1m0 20v1m9 12v1m4 -37v1m3 30v1m0 10v1m5 -39v1m2 12v1m2 -10v1m2 8v1m1 12v1m2 -8v1m4 -19v1m0 13v1m13 -6v1m7 24v1m18 -36v1m18 13v1m1 12v1m10 -32v1m33 12v1"/>
<path stroke="#bedcfa" d="M5.5 47v1m9 -2v1m2 -26v1m4 -13v1m0 7v1m1 -15v1m0 7v1m0 0v1m2 9v1m3 22v1m3 -4v1m2 -33v1m5 2v1m2 -7v1m0 22v1m2 12v1m6 -44v1m2 48v1m5 -21v1m3 11v1m8 -13v1m1 -1v1m6 -3v1m0 1v1m1 -20v1m2 16v1m2 -18v1m0 17v1m12 -2v1m13 -17v1"/>
<path stroke="#c8d2f0" d="M0.5 8v1m1 -4v1m0 9v1m4 17v1m4 -18v1m0 1v1m4 25v1m1 -41v1m1 27v1m2 -4v1m0 9v1m3 0v1m4 -27v1m0 10v1m2 22v1m2 -32v1m0 4v1m1 -11v1m0 13v1m1 14v1m1 -23v1m0 11v1m1 -10v1m3 -21v1m5 18v1m3 4v1m2 -26v1m0 8v1m1 38v1m1 -50v1m0 5v1m5 21v1m1 -18v1m0 11v1m1 -3v1m0 0v1m0 3v1m2 -20v1m0 18v1m2 20v1m1 -25v1m0 6v1m1 -26v1m0 41v1m2 -45v1m3 -1v1m3 1v1m0 12v1m2 16v1m1 -4v1m2 -20v1m2 31v1m1 -4v1m2 -28v1m2 2v1m0 21v1m3 -12v1m1 -17v1m1 -3v1m0 27v1m2 -1v1m1 -10v1m1 16v1m1 -39v1m1 -7v1m0 8v1m0 15v1m1 -4v1m2 -25v1m1 25v1m1 6v1m1 -13v1m1 -14v1m3 8v1m0 17v1m2 -12v1m1 -16v1m0 9v1m0 26v1m3 -25v1m1 -21v1m0 26v1m1 -6v1m0 10v1m1 -36v1m2 35v1m4 3v1m3 -31v1m0 23v1m2 -15v1m2 -4v1m1 2v1m1 3v1m14 -12v1m0 7v1m0 12v1m0 13v1m5 -34v1m9 22v1m2 -13v1m8 -21v1m10 7v1m2 -10v1m2 14v1"/>
<path stroke="#a0c8f0" d="M0.5 11v1m0 21v1m0 10v1m1 -23v1m0 1v1m1 -3v1m2 -17v1m0 17v1m1 -11v1m0 17v1m1 15v1m0 0v1m1 -22v1m0 4v1m0 2v1m0 5v1m1 -33v1m0 19v1m1 -14v1m2 15v1m1 -30v1m0 10v1m0 14v1m1 1v1m0 0v1m0 4v1m2 -14v1m0 8v1m0 8v1m2 -41v1m0 7v1m4 13v1m1 -1v1m0 21v1m1 -17v1m2 -4v1m1 0v1m1 -8v1m4 -5v1m1 -10v1m0 21v1m1 -31v1m0 4v1m0 3v1m0 5v1m1 -9v1m1 23v1m0 14v1m1 -40v1m0 5v1m0 3v1m0 5v1m1 -3v1m0 14v1m1 -35v1m0 16v1m0 4v1m0 20v1m2 -15v1m1 -20v1m4 11v1m1 -25v1m0 40v1m2 -43v1m0 5v1m0 4v1m0 12v1m0 3v1m0 1v1m0 14v1m1 -43v1m0 20v1m0 19v1m2 -5v1m0 8v1m3 -11v1m2 -29v1m0 35v1m1 -42v1m0 13v1m0 2v1m0 3v1m1 -2v1m4 3v1m2 -3v1m1 -16v1m0 10v1m3 -19v1m0 0v1m0 8v1m0 10v1m0 9v1m2 -31v1m0 9v1m0 19v1m5 -7v1m9 -27v1m1 -1v1m0 14v1m0 27v1m1 -15v1m5 -12v1m0 3v1m4 9v1m6 -34v1m8 35v1m10 -20v1m0 6v1m6 -25v1m2 23v1m1 -28v1m0 13v1m7 20v1m4 -6v1m0 2v1"/>
<path stroke="#aabef0" d="M1.5 26v1m2 22v1m3 -25v1m1 8v1m1 1v1m2 -4v1m0 9v1m2 -24v1m2 -3v1m0 13v1m0 6v1m0 1v1m2 -41v1m0 26v1m1 -1v1m0 14v1m3 -29v1m1 -7v1m2 35v1m2 -41v1m1 5v1m1 19v1m1 -3v1m1 -14v1m1 -13v1m0 24v1m1 -8v1m1 6v1m0 0v1m0 13v1m2 -7v1m2 -13v1m4 -18v1m0 13v1m1 -13v1m1 22v1m3 -16v1m0 14v1m4 -35v1m4 36v1m1 3v1m3 -6v1m1 -21v1m5 -14v1m5 27v1m0 7v1m2 -21v1m1 17v1m1 -37v1m3 7v1m1 8v1m0 8v1m7 20v1m18 -26v1m4 -4v1m25 3v1m9 -17v1"/>
<path stroke="#e6f0fa" d="M5.5 42v1m11 -21v1m3 19v1m2 -41v1m1 3v1m2 23v1m8 -19v1m12 -1v1m2 10v1m0 6v1m4 -31v1m3 24v1m1 -8v1m0 28v1m3 -36v1m2 -6v1m0 26v1m13 9v1m1 -37v1m1 34v1m4 -24v1m3 19v1m1 -14v1m5 13v1m2 -13v1m2 -11v1m2 19v1m8 0v1m5 -38v1m1 6v1m4 31v1m4 -10v1m2 -24v1m1 -7v1m0 20v1m3 -9v1m1 30v1m5 -49v1m5 -1v1m2 24v1m3 -19v1m1 15v1m2 -22v1m1 42v1m14 -32v1m5 -14v1m3 4v1m0 7v1m0 4v1m4 10v1m8 -18v1"/>
<path stroke="#7896f0" d="M2.5 23v1m1 24v1m3 -27v1m2 16v1m3 -17v1m0 12v1m4 -21v1m0 14v1m11 -15v1m16 0v1m9 -19v1m35 27v1"/>
<path stroke="#fad2d2" d="M25.5 33v1m14 -4v1m13 -31v1m0 45v1m26 -9v1m2 9v1m2 -20v1m0 8v1m0 5v1m10 -36v1m1 -5v1m0 31v1m1 -22v1m0 29v1m2 -16v1m6 15v1m1 -44v1m2 -3v1m15 27v1m0 17v1m3 -45v1m3 9v1m0 26v1m3 -22v1m0 0v1m1 15v1m1 -7v1m1 -24v1m0 25v1m2 -32v1m4 12v1m0 7v1m0 7v1m0 13v1m3 -36v1m2 30v1m1 -40v1m0 22v1m0 1v1m1 -9v1m0 22v1m3 -16v1m2 -7v1m2 -20v1m6 -4v1m0 36v1m2 -29v1m1 24v1m0 12v1m1 -41v1m5 29v1m4 -7v1m0 7v1m2 -34v1m1 13v1m4 -16v1m0 6v1m0 22v1m1 8v1"/>
<path stroke="#d2c8e6" d="M20.5 26v1m1 8v1m0 10v1m3 -9v1m12 -6v1m5 -8v1m1 -20v1m4 28v1m6 -31v1m1 -7v1m7 34v1m0 7v1m10 -3v1m4 4v1m2 -2v1m1 3v1m2 -42v1m0 18v1m2 -8v1m0 8v1m11 -6v1m2 0v1m7 -17v1m0 29v1m3 -4v1m3 7v1m2 -13v1m6 11v1m2 -42v1m1 5v1m0 19v1m3 -15v1m6 23v1m10 -25v1m0 21v1m2 -2v1m14 -20v1m2 19v1m2 -10v1m9 -13v1m3 -5v1m5 0v1m1 35v1m5 -22v1"/>
<path stroke="#b4d2f0" d="M0.5 20v1m0 9v1m1 -28v1m0 4v1m0 19v1m0 5v1m0 6v1m1 -38v1m0 9v1m0 5v1m0 17v1m0 7v1m0 1v1m2 -14v1m0 7v1m0 3v1m0 0v1m1 -19v1m1 15v1m1 -24v1m1 11v1m0 6v1m1 -36v1m1 -6v1m0 35v1m2 -16v1m0 8v1m0 12v1m1 3v1m1 -42v1m0 0v1m0 20v1m1 -8v1m2 22v1m4 -27v1m0 8v1m2 -27v1m2 3v1m0 17v1m1 -5v1m0 21v1m3 -25v1m0 20v1m0 0v1m1 -32v1m1 15v1m1 -19v1m2 -7v1m0 16v1m0 4v1m2 -22v1m0 2v1m1 31v1m1 -38v1m0 15v1m0 16v1m0 6v1m0 5v1m2 -35v1m0 19v1m0 14v1m1 -30v1m0 20v1m1 -36v1m0 9v1m3 0v1m0 9v1m0 6v1m0 10v1m1 -29v1m1 -8v1m0 5v1m2 10v1m0 7v1m1 11v1m2 -38v1m1 -4v1m0 7v1m1 -15v1m0 11v1m0 2v1m0 8v1m2 -22v1m0 19v1m0 8v1m1 -26v1m0 18v1m4 4v1m1 -32v1m1 23v1m2 14v1m1 -38v1m0 17v1m2 13v1m0 13v1m1 -35v1m0 2v1m2 -9v1m1 -5v1m1 19v1m2 -1v1m1 -13v1m1 -7v1m0 11v1m1 -20v1m0 45v1m4 -29v1m1 28v1m1 -5v1m1 -16v1m1 -6v1m0 9v1m4 10v1m1 -11v1m4 -18v1m2 0v1m2 -6v1m3 10v1m5 -23v1m0 31v1m1 -21v1m1 -6v1m0 19v1m1 16v1m2 2v1m1 -49v1m2 23v1m4 -9v1m6 -2v1m2 -16v1m0 2v1m0 5v1m6 -8v1m0 7v1m2 13v1m6 -17v1m0 0v1m0 10v1m2 -20v1m12 4v1m12 16v1m2 -23v1m0 31v1m6 -19v1"/>
<path stroke="#bebee6" d="M12.5 12v1m1 14v1m9 13v1m5 -5v1m0 2v1m15 -28v1m8 4v1m8 -19v1m0 33v1m1 -9v1m12 7v1m1 12v1m2 -17v1m2 0v1m6 -13v1m13 23v1m3 -25v1m2 19v1m7 -22v1m9 -17v1m30 12v1m3 -7v1m6 4v1"/>
<path stroke="#dcdcf0" d="M1.5 12v1m3 -3v1m2 7v1m2 27v1m6 -25v1m2 2v1m1 -6v1m2 -20v1m0 26v1m2 13v1m4 -17v1m4 -16v1m0 23v1m1 -31v1m0 1v1m0 5v1m0 0v1m0 33v1m1 -1v1m1 -21v1m1 -22v1m8 25v1m0 8v1m2 -31v1m3 22v1m3 -8v1m0 9v1m1 9v1m2 -10v1m3 -27v1m1 2v1m3 -13v1m0 23v1m1 -29v1m2 6v1m0 27v1m1 2v1m4 -10v1m2 -21v1m1 -8v1m0 41v1m1 -40v1m0 6v1m0 32v1m2 -41v1m0 0v1m0 40v1m2 -20v1m0 17v1m1 -43v1m1 39v1m2 -33v1m3 -1v1m2 3v1m0 15v1m1 11v1m1 -34v1m1 19v1m3 -6v1m1 9v1m3 -20v1m0 26v1m1 -39v1m0 6v1m2 -12v1m1 37v1m3 -13v1m3 12v1m1 -9v1m0 1v1m1 -12v1m0 10v1m1 -10v1m0 19v1m1 -37v1m0 21v1m3 15v1m2 -14v1m3 -31v1m1 -5v1m2 43v1m1 -23v1m1 10v1m1 -27v1m0 18v1m0 12v1m1 -13v1m4 -18v1m1 8v1m0 17v1m0 10v1m3 -29v1m0 5v1m3 15v1m1 -30v1m0 16v1m6 -16v1m0 6v1m1 -23v1m0 3v1m3 18v1m1 -24v1m0 1v1m0 17v1m0 18v1m2 -40v1m9 16v1m7 -13v1m3 27v1m0 13v1m6 -1v1m2 -22v1m0 8v1m2 -37v1"/>
<path stroke="#f0e6f0" d="M18.5 17v1m0 23v1m2 7v1m4 -27v1m0 12v1m4 -5v1m6 -12v1m0 11v1m5 -33v1m0 30v1m7 4v1m6 -17v1m1 -20v1m2 -1v1m0 18v1m0 1v1m1 11v1m2 -13v1m3 -18v1m0 30v1m2 -38v1m0 29v1m1 -19v1m3 -10v1m0 2v1m0 34v1m0 0v1m4 1v1m2 -15v1m1 -3v1m1 10v1m1 -5v1m2 -24v1m1 20v1m6 -11v1m2 -6v1m2 11v1m1 -31v1m0 5v1m0 1v1m2 10v1m2 -7v1m0 26v1m1 -15v1m0 11v1m1 -37v1m0 24v1m3 -22v1m0 36v1m1 -38v1m0 2v1m0 18v1m3 -22v1m0 1v1m1 34v1m1 -40v1m0 16v1m3 -12v1m5 17v1m1 9v1m2 -32v1m4 30v1m1 -34v1m0 5v1m0 15v1m1 -20v1m0 6v1m0 15v1m7 0v1m0 1v1m1 -26v1m2 3v1m0 6v1m1 -14v1m0 33v1m2 -35v1m0 7v1m0 6v1m0 18v1m0 0v1m2 5v1m1 -9v1m2 -26v1m0 3v1m0 6v1m0 12v1m1 -40v1m0 45v1m2 -13v1m2 -29v1m0 15v1m0 4v1m1 -14v1m2 13v1m1 10v1m0 2v1m3 -8v1m0 5v1m2 -28v1m1 31v1m1 -39v1m1 5v1m0 5v1m1 -3v1m5 9v1m1 8v1m1 -37v1m1 15v1m5 -9v1m2 -7v1m0 15v1m0 17v1m1 -36v1m1 42v1m1 2v1m1 -18v1m4 1v1"/>
<path stroke="#dcdce6" d="M2.5 33v1m7 -32v1m0 45v1m1 -39v1m4 37v1m1 -39v1m1 -7v1m2 7v1m0 32v1m3 -16v1m0 8v1m0 7v1m2 -40v1m1 37v1m4 -10v1m2 2v1m1 -37v1m1 27v1m3 13v1m1 -32v1m7 19v1m1 -29v1m0 14v1m2 -19v1m0 7v1m4 -7v1m2 5v1m0 29v1m1 -30v1m0 30v1m2 -36v1m0 5v1m0 23v1m1 5v1m0 2v1m2 -39v1m0 3v1m1 34v1m1 -34v1m0 1v1m1 -12v1m0 12v1m2 -12v1m0 6v1m1 -17v1m0 41v1m1 -29v1m1 31v1m1 -9v1m0 1v1m4 -5v1m3 2v1m2 -10v1m3 -2v1m0 4v1m1 -19v1m0 13v1m1 -25v1m0 15v1m0 2v1m0 1v1m0 11v1m1 -27v1m0 18v1m1 16v1m1 -47v1m0 6v1m0 8v1m0 24v1m3 -29v1m0 10v1m0 1v1m0 6v1m1 6v1m1 -26v1m1 -15v1m0 22v1m0 2v1m0 2v1m0 2v1m0 12v1m1 -29v1m1 -10v1m0 3v1m0 30v1m1 -37v1m0 1v1m0 9v1m1 2v1m0 10v1m1 -33v1m0 24v1m2 -27v1m0 16v1m3 -20v1m0 22v1m0 12v1m0 5v1m1 3v1m1 -31v1m0 10v1m1 -28v1m0 18v1m1 11v1m2 -26v1m0 17v1m1 -26v1m0 45v1m0 0v1m1 -32v1m0 15v1m1 -28v1m1 -7v1m0 39v1m1 -14v1m1 15v1m1 -2v1m1 -37v1m0 11v1m0 3v1m0 11v1m0 11v1m4 -41v1m2 -7v1m0 7v1m1 14v1m0 20v1m1 -24v1m1 3v1m0 4v1m0 3v1m1 -12v1m2 -11v1m0 4v1m2 -15v1m0 3v1m0 5v1m1 -12v1m0 8v1m1 -11v1m1 1v1m1 14v1m1 -13v1m0 33v1m1 -31v1m1 16v1m6 -29v1m0 31v1m1 -24v1m0 6v1m4 0v1m1 15v1m1 -23v1m1 23v1m1 -19v1m1 -3v1m3 20v1m1 -4v1m1 -18v1m1 24v1m1 7v1m1 -25v1m0 21v1m2 -46v1m2 5v1m0 3v1m0 25v1m1 -32v1m1 24v1m1 -33v1m0 26v1m0 20v1m2 -28v1m0 12v1m1 -31v1m0 8v1m0 4v1m0 12v1m0 10v1m0 6v1m4 -50v1m0 20v1m0 15v1m1 6v1m1 -23v1m6 10v1"/>
<path stroke="#bec8e6" d="M0.5 46v1m7 -34v1m9 2v1m1 -15v1m1 23v1m1 -14v1m0 24v1m5 -7v1m6 -6v1m4 4v1m1 -23v1m4 10v1m3 8v1m3 -22v1m7 19v1m0 17v1m2 -47v1m5 -1v1m0 23v1m1 6v1m4 12v1m1 -46v1m0 7v1m0 16v1m0 4v1m2 -21v1m1 29v1m0 3v1m3 -22v1m1 13v1m0 1v1m2 -2v1m2 -17v1m2 14v1m1 -36v1m0 28v1m5 -31v1m1 1v1m1 40v1m2 -13v1m3 -26v1m7 -3v1m0 30v1m1 -15v1m4 -15v1m3 3v1m5 -3v1m0 26v1m2 -7v1m2 -9v1m2 -2v1m10 -11v1m1 6v1m9 7v1m4 21v1m5 -46v1m17 41v1m6 -46v1m6 23v1"/>
<path stroke="#78aaf0" d="M2.5 36v1m1 0v1m2 -28v1m0 2v1m1 -8v1m1 1v1m1 -6v1m0 17v1m0 0v1m1 11v1m0 3v1m1 -21v1m1 24v1m4 -7v1m0 4v1m1 -9v1m7 -1v1m4 -33v1m0 31v1m10 -12v1m0 18v1m1 -19v1m0 18v1m2 -25v1m2 24v1m1 -24v1m5 -19v1m0 12v1m3 -7v1m0 0v1m0 6v1m5 -14v1m12 -6v1m18 19v1m23 13v1"/>
<path stroke="#aab4e6" d="M3.5 4v1m8 35v1m14 -17v1m4 5v1m6 -19v1m2 34v1m8 -41v1m15 17v1m9 -1v1m1 -26v1m20 15v1m14 21v1m17 6v1"/>
<path stroke="#b4c8f0" d="M7.5 30v1m2 11v1m6 -21v1m0 12v1m2 -14v1m4 26v1m1 -34v1m1 -6v1m2 8v1m1 1v1m0 9v1m3 16v1m4 -38v1m0 14v1m1 3v1m1 -13v1m1 -18v1m1 30v1m1 -7v1m0 20v1m2 -3v1m3 -3v1m2 -28v1m0 0v1m2 5v1m0 7v1m1 14v1m3 -24v1m2 24v1m1 -19v1m2 -23v1m0 29v1m1 7v1m1 -43v1m0 21v1m0 18v1m2 -10v1m2 -4v1m3 -34v1m1 12v1m0 11v1m2 -16v1m1 1v1m1 24v1m0 1v1m1 -41v1m1 35v1m1 -9v1m2 -21v1m0 14v1m1 14v1m7 -15v1m1 -7v1m1 -19v1m1 20v1m0 13v1m0 6v1m2 -32v1m7 3v1m1 25v1m6 -32v1m4 -4v1m7 16v1m2 5v1m4 -23v1m0 31v1m4 -5v1m2 -36v1m0 16v1m0 3v1m0 0v1m14 16v1m36 -36v1m0 35v1"/>
<path stroke="#e6c8d2" d="M27.5 6v1m5 19v1m0 22v1m7 -30v1m11 24v1m2 -27v1m0 5v1m3 4v1m0 7v1m3 -6v1m3 -5v1m0 18v1m2 -30v1m0 11v1m0 16v1m4 -12v1m5 -38v1m2 8v1m0 37v1m1 -13v1m2 4v1m4 -27v1m4 -2v1m4 -3v1m0 31v1m0 4v1m1 -44v1m3 16v1m5 16v1m2 -28v1m2 4v1m7 -14v1m1 -1v1m0 3v1m0 15v1m1 -2v1m1 -15v1m0 1v1m0 6v1m2 1v1m3 0v1m0 2v1m0 12v1m1 -31v1m0 28v1m3 -7v1m1 -11v1m1 -6v1m1 32v1m2 -24v1m0 4v1m0 9v1m1 -28v1m2 22v1m3 -35v1m0 3v1m0 26v1m3 -15v1m1 -17v1m2 8v1m0 20v1m0 11v1m2 -27v1m0 15v1m1 -10v1m1 13v1m1 -36v1m1 27v1m1 -18v1m2 -1v1m1 -15v1m0 18v1m1 -5v1m1 -15v1m0 15v1m1 -12v1m0 37v1m2 -40v1m3 2v1m1 33v1m2 -28v1m1 -13v1m0 23v1m1 -11v1m1 -5v1m0 14v1m0 10v1m1 -25v1m1 11v1m1 -15v1m1 -6v1m0 21v1m1 -22v1m0 28v1m1 -11v1m0 15v1m2 -47v1m2 3v1m1 29v1m1 -18v1m0 29v1m4 -35v1m1 -5v1m0 30v1"/>
<path stroke="#c8c8f0" d="M0.5 12v1m4 2v1m14 -1v1m3 -1v1m11 5v1m1 23v1m19 -20v1m5 -3v1m10 -23v1m6 -3v1m5 33v1m3 -34v1m2 4v1m2 36v1m12 -28v1m1 13v1m2 -28v1m1 -3v1m7 44v1m6 -2v1m4 0v1m9 -30v1m48 -7v1"/>
<path stroke="#e6dce6" d="M1.5 21v1m2 14v1m1 -30v1m0 6v1m14 8v1m0 6v1m0 0v1m1 -5v1m0 2v1m6 -21v1m3 23v1m0 1v1m0 2v1m0 9v1m2 -19v1m2 -22v1m1 27v1m0 7v1m2 -21v1m0 21v1m9 -35v1m5 -4v1m1 2v1m0 18v1m2 15v1m1 -31v1m2 -16v1m0 15v1m3 -13v1m0 32v1m0 3v1m1 -32v1m0 23v1m1 -19v1m0 0v1m1 -11v1m0 24v1m0 5v1m0 6v1m2 -5v1m1 -22v1m3 -3v1m0 0v1m5 24v1m1 -16v1m0 7v1m1 -42v1m0 34v1m1 4v1m0 0v1m2 -41v1m0 6v1m0 8v1m2 29v1m1 -40v1m0 6v1m0 16v1m0 4v1m1 -12v1m0 17v1m1 -26v1m0 2v1m0 1v1m0 6v1m0 1v1m1 -27v1m0 8v1m0 18v1m1 -24v1m0 22v1m0 11v1m3 -5v1m1 -41v1m1 -3v1m0 42v1m1 -35v1m0 21v1m1 -19v1m1 -2v1m0 6v1m0 11v1m1 -9v1m0 11v1m0 1v1m1 -25v1m1 6v1m1 23v1m1 -45v1m1 13v1m2 -8v1m1 4v1m0 11v1m0 23v1m1 -17v1m0 3v1m1 -35v1m0 13v1m0 18v1m0 12v1m1 -47v1m0 9v1m1 3v1m0 24v1m2 -25v1m0 16v1m1 -31v1m0 6v1m0 5v1m0 15v1m0 1v1m2 -21v1m0 4v1m0 11v1m0 3v1m1 -38v1m0 8v1m0 12v1m0 11v1m1 -14v1m0 12v1m1 -22v1m0 20v1m1 -18v1m0 5v1m0 12v1m1 -17v1m0 22v1m1 -33v1m0 7v1m0 22v1m1 -29v1m1 -4v1m0 4v1m1 -5v1m1 16v1m0 10v1m1 -39v1m0 4v1m0 0v1m1 40v1m1 -45v1m1 4v1m0 0v1m0 3v1m0 10v1m0 8v1m1 -1v1m0 7v1m1 -42v1m0 18v1m0 7v1m0 4v1m1 -10v1m0 19v1m1 -28v1m1 10v1m1 6v1m0 8v1m1 -43v1m1 0v1m1 30v1m1 -24v1m0 19v1m1 -30v1m0 28v1m1 -31v1m1 27v1m0 14v1m1 -4v1m1 -36v1m0 13v1m1 -21v1m0 1v1m1 40v1m0 1v1m1 -35v1m1 -1v1m1 17v1m0 16v1m1 -17v1m1 -20v1m0 30v1m3 -2v1m0 4v1m5 -41v1m0 0v1m1 -6v1m1 9v1m0 19v1m1 2v1m0 6v1m2 -24v1m1 5v1m2 -9v1m4 10v1m0 9v1m1 -22v1m0 1v1m1 -18v1m1 26v1m0 17v1m1 -44v1m1 11v1m2 1v1m1 -15v1m0 31v1m1 -28v1m0 1v1m1 6v1m1 -4v1m0 1v1m1 2v1m1 -22v1m2 20v1"/>
<path stroke="#dcd2dc" d="M18.5 39v1m0 4v1m1 -13v1m3 -2v1m2 -28v1m20 26v1m2 16v1m1 -22v1m1 5v1m4 -20v1m4 31v1m4 -21v1m0 6v1m1 9v1m2 -30v1m0 12v1m0 19v1m1 -38v1m3 22v1m0 2v1m0 12v1m1 -8v1m4 -13v1m2 -13v1m1 -19v1m1 30v1m1 -21v1m0 34v1m1 2v1m1 -14v1m0 2v1m1 -30v1m1 7v1m0 18v1m1 -2v1m2 -13v1m0 16v1m1 -1v1m2 -21v1m0 0v1m1 0v1m1 1v1m2 7v1m0 9v1m1 -34v1m0 28v1m1 -26v1m6 4v1m0 27v1m1 -21v1m2 -26v1m0 11v1m3 0v1m1 22v1m1 -7v1m1 -25v1m2 -6v1m0 3v1m1 -7v1m2 10v1m4 -11v1m1 36v1m1 -30v1m2 28v1m1 7v1m1 -5v1m3 -24v1m1 10v1m1 -4v1m3 -11v1m1 -2v1m1 2v1m4 22v1m3 -22v1m4 -17v1m0 1v1m2 19v1m0 2v1m2 -18v1m0 1v1m1 13v1m1 5v1m1 5v1m2 -25v1m1 15v1m3 7v1m3 -13v1m1 12v1m1 -27v1m3 17v1m2 -27v1m0 9v1m1 12v1m1 -9v1m0 15v1m4 0v1m4 -2v1m1 -30v1"/>
<path stroke="#d2d2e6" d="M4.5 12v1m15 -8v1m2 32v1m1 -32v1m0 21v1m1 -24v1m0 19v1m1 -14v1m4 -1v1m1 -12v1m1 23v1m2 21v1m1 -38v1m1 15v1m5 14v1m5 -24v1m1 17v1m1 -33v1m3 9v1m0 32v1m4 -17v1m1 -29v1m2 9v1m3 14v1m0 15v1m1 -15v1m3 14v1m1 -34v1m0 30v1m1 -25v1m0 23v1m0 3v1m1 -36v1m0 29v1m1 -29v1m1 -12v1m0 27v1m3 -19v1m0 16v1m1 -17v1m1 4v1m0 5v1m1 -25v1m0 4v1m0 7v1m1 -3v1m0 18v1m1 -33v1m2 26v1m1 -23v1m0 7v1m0 23v1m1 -5v1m1 -13v1m1 -18v1m1 28v1m0 7v1m1 -33v1m0 1v1m0 3v1m1 0v1m1 15v1m1 -3v1m1 4v1m0 11v1m1 -45v1m4 6v1m1 7v1m1 16v1m0 3v1m0 3v1m1 -39v1m0 40v1m1 -2v1m1 -45v1m0 2v1m1 33v1m1 -32v1m3 8v1m0 10v1m2 -19v1m0 33v1m2 -7v1m0 5v1m3 -27v1m1 2v1m1 -8v1m0 17v1m3 -31v1m2 7v1m1 10v1m3 -2v1m0 11v1m0 6v1m1 -14v1m0 15v1m2 -20v1m1 3v1m1 -5v1m0 1v1m1 18v1m4 -8v1m1 -12v1m1 -16v1m2 -2v1m2 13v1m4 4v1m0 1v1m1 11v1m0 1v1m3 4v1m1 -27v1m0 5v1m0 12v1m1 -7v1m1 -19v1m7 -11v1m0 23v1m5 12v1m5 -21v1m1 -23v1m1 10v1m6 -7v1m3 11v1m1 15v1m2 -19v1m2 -10v1"/>
<path stroke="#e6d2dc" d="M25.5 22v1m6 -10v1m3 28v1m5 -8v1m0 4v1m0 0v1m5 -12v1m2 8v1m8 -33v1m2 -4v1m5 16v1m0 8v1m1 -19v1m1 19v1m1 10v1m2 -32v1m1 22v1m4 -1v1m2 -4v1m2 16v1m2 -44v1m0 28v1m1 -32v1m1 -5v1m1 35v1m1 -5v1m0 16v1m3 -43v1m0 17v1m0 16v1m1 -37v1m0 42v1m4 -38v1m0 25v1m1 -10v1m1 -15v1m1 -12v1m0 38v1m2 -38v1m0 27v1m0 4v1m1 -11v1m1 -21v1m0 37v1m2 -48v1m2 12v1m0 8v1m2 8v1m0 0v1m1 -20v1m0 29v1m0 2v1m1 -19v1m2 -1v1m1 4v1m0 15v1m3 -12v1m0 6v1m1 -30v1m0 27v1m1 -38v1m0 25v1m1 -28v1m1 6v1m2 -5v1m0 3v1m0 1v1m0 0v1m1 -10v1m0 15v1m0 14v1m0 3v1m0 6v1m1 -45v1m0 8v1m2 12v1m1 9v1m0 10v1m1 -37v1m0 0v1m1 -3v1m1 0v1m2 -3v1m0 33v1m1 -18v1m1 4v1m0 15v1m1 -11v1m1 -24v1m0 6v1m0 12v1m0 6v1m1 4v1m2 -21v1m2 11v1m1 -15v1m0 4v1m1 -15v1m0 11v1m1 -28v1m2 23v1m0 23v1m1 -47v1m0 11v1m0 21v1m1 -3v1m0 5v1m1 -1v1m1 -15v1m0 1v1m0 15v1m1 -35v1m1 -6v1m0 2v1m0 1v1m0 14v1m2 -23v1m0 4v1m0 24v1m0 3v1m1 -19v1m0 4v1m0 1v1m1 -5v1m1 -6v1m0 19v1m1 7v1m1 -37v1m3 10v1m1 -9v1m0 32v1m1 -25v1m0 5v1m0 9v1m1 -32v1m0 10v1m0 2v1m0 9v1m0 2v1m1 -32v1m0 13v1m0 31v1m1 -46v1m0 16v1m1 17v1m1 0v1m1 -6v1m1 -35v1m0 1v1m0 4v1m0 12v1m1 -11v1m0 12v1m0 6v1m2 -27v1m0 21v1m1 -8v1m1 15v1m1 -18v1m2 -19v1m0 11v1m0 2v1m2 -14v1m0 5v1m1 0v1m0 14v1m1 9v1m1 -2v1m2 -20v1m0 3v1m1 22v1m0 2v1m0 0v1"/>
<path stroke="#e6bec8" d="M21.5 8v1m9 -7v1m20 44v1m13 -36v1m10 24v1m7 -38v1m0 6v1m1 35v1m12 -18v1m0 8v1m3 -35v1m5 15v1m1 -6v1m1 32v1m3 -2v1m0 2v1m4 -22v1m4 15v1m1 -31v1m1 33v1m2 -9v1m2 -15v1m3 24v1m3 -35v1m3 -10v1m1 42v1m7 -14v1m5 -34v1m2 0v1m1 12v1m3 29v1m4 -44v1m0 23v1m0 0v1m1 -28v1m1 11v1m0 2v1m3 16v1m2 -20v1m1 -14v1m0 36v1m0 3v1m1 -15v1m3 -6v1m4 11v1m4 5v1m2 -22v1m3 -20v1m1 24v1m1 18v1m1 -1v1m1 0v1"/>
<path stroke="#dcd2e6" d="M17.5 38v1m2 -4v1m0 3v1m7 -33v1m2 11v1m4 5v1m1 14v1m2 -18v1m4 -9v1m14 -6v1m2 5v1m8 25v1m0 0v1m4 -30v1m1 31v1m3 -27v1m2 -18v1m3 13v1m3 3v1m1 -3v1m0 1v1m0 9v1m1 -32v1m0 14v1m8 11v1m1 6v1m0 4v1m1 2v1m1 -2v1m1 2v1m4 -35v1m1 21v1m1 -6v1m5 -26v1m1 0v1m0 8v1m0 1v1m1 -11v1m0 38v1m1 -35v1m0 12v1m1 2v1m0 9v1m3 -19v1m1 23v1m5 -42v1m1 32v1m0 10v1m1 -12v1m4 -21v1m0 8v1m2 14v1m2 -35v1m0 12v1m2 -17v1m1 28v1m1 -2v1m4 6v1m0 4v1m2 -27v1m0 5v1m1 4v1m0 22v1m1 -3v1m1 -30v1m5 -17v1m0 19v1m0 20v1m4 -41v1m1 5v1m0 21v1m4 -5v1m0 1v1m1 -24v1m0 19v1m3 21v1m3 -7v1m2 -21v1m3 20v1m1 -38v1m1 3v1m0 18v1m1 18v1m4 -3v1m2 -17v1m2 -3v1"/>
<path stroke="#d2d2dc" d="M4.5 49v1m5 -20v1m10 17v1m4 -16v1m8 10v1m4 -38v1m11 32v1m3 -37v1m6 5v1m5 34v1m1 -23v1m1 -13v1m2 29v1m6 -6v1m12 -37v1m7 38v1m2 4v1m1 0v1m4 -13v1m3 -4v1m2 -4v1m1 -17v1m6 30v1m5 -34v1m3 -6v1m4 7v1m5 19v1m8 -3v1m9 -8v1m1 -15v1m4 -10v1m8 42v1"/>
<path stroke="#e6f0f0" d="M16.5 27v1m2 -19v1m3 -9v1m3 33v1m1 13v1m4 -22v1m6 -25v1m2 5v1m0 24v1m2 -11v1m2 17v1m2 -38v1m20 26v1m16 -24v1m3 32v1m2 -44v1m5 9v1m1 1v1m2 31v1m10 -20v1m3 -25v1m0 2v1m0 5v1m2 -3v1m0 36v1m2 1v1m2 -12v1m5 -8v1m6 -11v1m5 -6v1m8 31v1m3 -11v1m8 -10v1m16 21v1m7 -6v1"/>
<path stroke="#96befa" d="M7.5 35v1m0 5v1m29 -23v1m5 5v1m45 -26v1m39 33v1"/>
<path stroke="#8cbef0" d="M1.5 1v1m2 15v1m0 14v1m1 -12v1m3 -6v1m0 5v1m0 4v1m1 -21v1m1 28v1m0 9v1m1 -43v1m3 40v1m2 -7v1m2 -33v1m0 29v1m6 -25v1m0 28v1m0 4v1m1 -32v1m0 17v1m3 -32v1m0 20v1m1 -9v1m4 1v1m0 0v1m5 -3v1m3 12v1m0 6v1m0 4v1m1 -35v1m1 2v1m2 17v1m4 -13v1m0 14v1m0 11v1m1 -8v1m2 -11v1m3 -9v1m2 -1v1m1 19v1m12 -16v1m0 22v1m11 -23v1m3 11v1m3 -16v1m1 -23v1m4 17v1m4 -18v1m30 18v1"/>
<path stroke="#c8dcfa" d="M9.5 41v1m1 -26v1m3 31v1m3 -8v1m3 -1v1m5 5v1m15 -39v1m2 -6v1m4 0v1m7 32v1m1 -8v1m5 -11v1m1 19v1m7 -15v1m0 0v1m3 4v1m2 -26v1m12 14v1m5 20v1m1 -45v1m3 29v1m5 15v1m1 -13v1m1 1v1m64 -24v1"/>
<path stroke="#bee6fa" d="M0.5 3v1m29 42v1m5 -27v1m16 -16v1m19 5v1m17 -4v1m6 -9v1m47 0v1"/>
<path stroke="#fae6f0" d="M21.5 33v1m4 -33v1m7 11v1m7 -7v1m7 37v1m13 -6v1m1 -37v1m0 17v1m1 23v1m3 -8v1m9 -5v1m1 -7v1m0 11v1m0 2v1m5 -27v1m3 -2v1m0 17v1m8 -35v1m3 -2v1m1 8v1m1 13v1m2 -19v1m4 13v1m2 14v1m2 9v1m5 -10v1m3 8v1m3 -38v1m1 -3v1m1 42v1m3 -38v1m1 11v1m1 -8v1m1 -13v1m0 9v1m6 32v1m2 -24v1m2 -11v1m3 -10v1m1 22v1m9 -28v1m3 3v1m1 14v1m2 8v1m2 -19v1m0 11v1m1 -2v1m5 -1v1m5 -15v1m10 -6v1m1 6v1m0 8v1"/>
<path stroke="#f096a0" d="M96.5 0v1m62 12v1m12 12v1m1 5v1"/>
<path stroke="#d2dce6" d="M4.5 11v1m0 34v1m10 -30v1m2 -6v1m0 1v1m0 3v1m2 1v1m6 -9v1m3 7v1m4 -1v1m0 9v1m3 -9v1m1 -9v1m1 15v1m0 3v1m3 -24v1m0 22v1m3 -23v1m1 0v1m3 3v1m1 29v1m3 -4v1m5 -44v1m0 23v1m3 -11v1m6 -11v1m0 29v1m1 -10v1m1 9v1m1 -17v1m0 5v1m0 16v1m2 -9v1m2 -11v1m0 4v1m1 -15v1m3 13v1m1 -24v1m1 28v1m2 -26v1m2 4v1m0 0v1m6 8v1m0 20v1m2 -42v1m2 32v1m2 1v1m2 7v1m1 -25v1m1 -26v1m0 12v1m3 -9v1m4 12v1m1 -6v1m3 -5v1m1 28v1m0 0v1m2 -7v1m3 -7v1m0 16v1m1 -23v1m0 14v1m0 7v1m2 -15v1m3 -17v1m1 10v1m0 20v1m1 -33v1m0 8v1m0 11v1m1 -35v1m0 16v1m1 7v1m0 16v1m2 -38v1m1 28v1m4 1v1m2 -5v1m5 -20v1m1 2v1m1 13v1m1 -20v1m1 8v1m0 2v1m0 7v1m1 -1v1m2 -32v1m6 22v1m2 11v1m10 5v1m0 4v1m1 -28v1m5 -14v1m4 31v1m0 1v1"/>
<path stroke="#c8e6fa" d="M2.5 12v1m1 26v1m1 -17v1m5 -15v1m3 27v1m1 -14v1m3 -10v1m0 13v1m7 -12v1m4 29v1m1 -14v1m8 8v1m2 -33v1m3 -4v1m8 -2v1m0 27v1m3 6v1m2 -27v1m2 0v1m5 -11v1m7 13v1m2 -8v1m0 27v1m1 -5v1m5 -24v1m1 -5v1m2 -9v1m5 12v1m11 -9v1m4 -10v1m20 21v1m4 -22v1m4 19v1m7 4v1m10 -10v1m19 21v1m12 -36v1"/>
<path stroke="#f0c8d2" d="M19.5 10v1m9 -3v1m2 -6v1m25 31v1m0 11v1m1 -42v1m5 20v1m2 -5v1m1 12v1m12 -25v1m4 28v1m7 -9v1m2 -26v1m0 40v1m4 -22v1m0 17v1m5 -37v1m0 1v1m0 13v1m1 1v1m1 -18v1m2 -12v1m1 0v1m2 19v1m3 16v1m3 -11v1m0 1v1m0 7v1m2 -3v1m1 -18v1m1 26v1m1 -41v1m1 41v1m6 -17v1m6 -19v1m0 24v1m0 2v1m1 -24v1m1 -14v1m0 6v1m0 3v1m0 5v1m1 -21v1m0 3v1m0 31v1m1 -28v1m2 -9v1m1 -5v1m1 25v1m0 7v1m1 9v1m3 -5v1m1 -5v1m1 -27v1m0 4v1m0 27v1m1 -21v1m0 22v1m3 -27v1m0 8v1m0 5v1m1 -16v1m0 24v1m1 -38v1m0 35v1m1 -8v1m2 -3v1m1 -33v1m0 40v1m0 0v1m1 -40v1m1 2v1m1 8v1m1 19v1m1 -25v1m0 2v1m0 12v1m1 -1v1m1 6v1m0 2v1m2 -31v1m0 12v1m0 5v1m0 12v1m2 -35v1m0 23v1m0 3v1m0 7v1m1 -25v1m1 14v1m2 -11v1m1 -19v1m0 19v1m0 9v1m1 -7v1m1 -30v1m0 23v1m0 0v1m0 13v1m0 1v1m2 2v1m0 0v1m1 -8v1m2 -29v1m0 13v1m1 -26v1m0 6v1m0 29v1m0 4v1m0 0v1m0 0v1m1 -29v1m0 24v1m1 -16v1m0 21v1m1 -37v1m0 33v1"/>
<path stroke="#c8c8e6" d="M0.5 14v1m4 1v1m3 29v1m2 -25v1m10 -6v1m2 6v1m0 6v1m4 -21v1m1 35v1m2 -15v1m4 -30v1m0 1v1m3 33v1m0 0v1m13 -15v1m4 -17v1m1 12v1m1 -19v1m4 12v1m1 1v1m3 7v1m3 -9v1m6 24v1m2 -30v1m4 -8v1m1 10v1m1 10v1m1 -16v1m1 -6v1m4 5v1m0 11v1m3 7v1m3 -13v1m0 14v1m1 -25v1m5 15v1m0 6v1m1 -6v1m3 -10v1m3 -22v1m0 23v1m1 -30v1m2 12v1m0 15v1m2 -27v1m0 23v1m5 -3v1m2 -3v1m5 -23v1m0 7v1m1 -8v1m1 35v1m2 -32v1m0 38v1m9 -42v1m0 21v1m0 17v1m0 1v1m9 -14v1m1 4v1m5 -24v1m17 8v1m0 21v1m7 1v1"/>
<path stroke="#fadce6" d="M18.5 37v1m16 -8v1m5 -2v1m6 -17v1m4 -4v1m10 36v1m2 -39v1m6 -3v1m6 -1v1m6 9v1m1 -6v1m1 -5v1m0 22v1m0 3v1m1 -25v1m3 21v1m4 12v1m1 -5v1m1 -39v1m2 38v1m1 -41v1m2 -1v1m0 17v1m0 10v1m0 10v1m2 -37v1m2 22v1m0 0v1m3 -10v1m0 9v1m0 11v1m1 -10v1m2 -36v1m0 41v1m4 -11v1m4 -7v1m0 4v1m0 8v1m1 -22v1m0 29v1m1 -19v1m0 6v1m1 -20v1m0 12v1m1 -15v1m0 7v1m0 7v1m2 -3v1m1 16v1m8 -26v1m1 -4v1m0 16v1m6 -33v1m0 11v1m0 2v1m0 25v1m1 -4v1m1 -14v1m2 -25v1m0 33v1m1 -20v1m2 0v1m0 24v1m2 -46v1m1 28v1m0 0v1m0 5v1m1 0v1m0 4v1m3 -31v1m2 -4v1m1 18v1m1 -2v1m0 4v1m1 -20v1m0 2v1m0 4v1m1 -24v1m1 1v1m0 27v1m1 -14v1m2 12v1m0 0v1m1 7v1m1 -41v1m2 27v1m3 -21v1m0 30v1m3 -29v1m1 22v1m0 14v1m2 -33v1m1 20v1m0 2v1m0 6v1m1 -16v1m1 3v1m3 -25v1m1 9v1m0 18v1m1 -43v1m0 28v1"/>
<path stroke="#bed2f0" d="M1.5 42v1m0 5v1m2 -36v1m1 23v1m1 -18v1m2 -9v1m0 27v1m3 5v1m0 1v1m2 -10v1m0 6v1m2 -41v1m0 13v1m0 22v1m1 -20v1m1 15v1m0 7v1m0 0v1m1 -46v1m0 39v1m0 3v1m1 -46v1m0 44v1m1 -47v1m0 16v1m0 25v1m1 -38v1m0 2v1m0 16v1m0 3v1m1 -19v1m1 25v1m1 2v1m2 -6v1m1 -25v1m1 -7v1m0 40v1m1 -48v1m0 12v1m1 -11v1m0 8v1m2 -13v1m0 5v1m0 28v1m2 -2v1m1 -11v1m1 2v1m1 -9v1m0 0v1m1 21v1m1 -5v1m2 -15v1m0 1v1m1 8v1m2 -18v1m1 7v1m0 16v1m1 -5v1m1 -39v1m0 14v1m1 -15v1m0 18v1m0 15v1m1 -36v1m0 21v1m1 -6v1m0 19v1m0 3v1m1 -10v1m0 12v1m3 -35v1m0 18v1m1 -19v1m0 3v1m2 -4v1m0 18v1m1 -15v1m0 10v1m1 -22v1m1 -7v1m1 0v1m0 15v1m0 25v1m3 -33v1m1 3v1m1 12v1m0 12v1m2 -23v1m1 4v1m1 -24v1m1 17v1m2 1v1m1 17v1m1 -23v1m1 -23v1m1 31v1m3 9v1m9 -26v1m0 10v1m0 1v1m0 9v1m0 0v1m8 -25v1m1 -16v1m0 33v1m4 -7v1m0 6v1m0 4v1m3 -36v1m0 25v1m3 -35v1m7 0v1m5 4v1m1 18v1m6 12v1m1 -9v1m1 -2v1m4 -1v1m1 -28v1m0 13v1m1 -13v1m0 36v1m3 -41v1m2 39v1m7 -42v1m3 33v1m7 -12v1m10 -20v1m3 24v1m0 6v1"/>
<path stroke="#dcb4d2" d="M30.5 12v1m31 6v1m43 -4v1m4 -17v1m8 9v1m0 13v1m61 -16v1"/>
<path stroke="#bebedc" d="M13.5 20v1m4 12v1m3 4v1m8 5v1m5 -43v1m6 20v1m2 22v1m9 -44v1m15 18v1m5 16v1m2 -17v1m5 19v1m10 -39v1m10 24v1m12 -31v1m12 26v1m4 5v1m8 -17v1m2 -17v1m5 28v1m2 -25v1m26 3v1m7 27v1"/>
<path stroke="#dcbed2" d="M18.5 11v1m32 1v1m14 18v1m3 -25v1m6 40v1m16 -34v1m4 17v1m1 -6v1m11 -1v1m6 -6v1m2 -25v1m2 17v1m0 7v1m1 3v1m0 4v1m1 11v1m3 -28v1m4 -1v1m0 17v1m2 -22v1m4 -1v1m1 -3v1m0 6v1m1 -12v1m10 36v1m1 -9v1m1 -40v1m1 25v1m1 -6v1m7 4v1m3 17v1m4 -25v1m5 11v1m2 9v1m9 -16v1m1 -24v1m3 15v1"/>
<path stroke="#ffd2dc" d="M21.5 7v1m40 8v1m6 27v1m12 -7v1m14 -12v1m5 -22v1m1 7v1m5 10v1m1 -2v1m0 16v1m9 -42v1m7 17v1m9 9v1m1 -13v1m0 13v1m3 -29v1m1 7v1m3 -5v1m3 26v1m2 -33v1m6 26v1m0 20v1m1 -6v1m1 -32v1m0 5v1m0 15v1m1 -19v1m1 -3v1m0 26v1m1 5v1m3 -48v1m0 35v1m1 6v1m3 -40v1m0 11v1m4 -11v1m0 33v1m2 -1v1m3 -8v1m6 3v1m0 2v1m3 -21v1"/>
<path stroke="#f0dce6" d="M25.5 40v1m0 6v1m5 -25v1m0 6v1m1 -25v1m8 21v1m0 2v1m9 3v1m1 -27v1m3 5v1m0 20v1m3 7v1m2 -41v1m1 38v1m2 -17v1m1 0v1m0 9v1m2 -33v1m0 1v1m8 33v1m1 -32v1m1 15v1m1 -17v1m1 -8v1m2 36v1m1 -29v1m1 8v1m0 18v1m0 0v1m1 0v1m2 -28v1m3 14v1m3 -19v1m0 10v1m1 -21v1m0 0v1m0 3v1m0 10v1m3 12v1m2 4v1m0 2v1m1 -31v1m1 12v1m0 4v1m2 -14v1m1 -7v1m0 9v1m0 8v1m1 -12v1m0 27v1m2 -12v1m0 6v1m3 -15v1m1 7v1m5 -23v1m0 14v1m0 2v1m1 -13v1m0 1v1m0 1v1m0 22v1m1 -26v1m0 7v1m1 6v1m1 -38v1m0 40v1m1 -9v1m0 0v1m1 -20v1m0 14v1m1 -4v1m0 4v1m2 -22v1m1 -7v1m3 27v1m2 -25v1m0 6v1m0 28v1m2 -5v1m1 -41v1m0 6v1m1 4v1m2 35v1m1 -6v1m1 -32v1m2 24v1m1 -8v1m1 -11v1m0 0v1m0 16v1m2 -30v1m1 18v1m0 12v1m1 -32v1m1 -8v1m0 6v1m0 2v1m1 -15v1m0 10v1m0 22v1m1 -27v1m0 6v1m0 22v1m2 -27v1m0 4v1m0 14v1m2 -24v1m1 -10v1m0 23v1m0 16v1m1 -8v1m0 2v1m1 -22v1m3 -17v1m0 12v1m1 11v1m0 1v1m0 16v1m1 -38v1m0 0v1m0 3v1m0 6v1m1 25v1m1 -45v1m0 22v1m0 2v1m0 16v1m1 -20v1m0 16v1m0 5v1m1 -41v1m1 -4v1m1 29v1m1 10v1m3 -40v1m1 -7v1m0 6v1m0 35v1m1 -26v1m4 -13v1m0 14v1m0 3v1m1 -12v1m1 29v1m1 -29v1m0 14v1m0 2v1m3 -2v1m1 -33v1m0 5v1m1 17v1m0 4v1m0 9v1"/>
<path stroke="#c8aac8" d="M24.5 11v1m51 12v1m16 22v1m2 -32v1m23 -17v1m13 8v1m32 36v1"/>
<path stroke="#fad2dc" d="M34.5 11v1m16 0v1m9 35v1m4 -23v1m15 -9v1m7 3v1m2 2v1m2 15v1m1 -27v1m2 -11v1m2 41v1m0 0v1m2 -39v1m0 15v1m3 -15v1m1 23v1m2 -30v1m1 23v1m2 -9v1m1 -11v1m1 16v1m1 -4v1m2 -1v1m1 11v1m0 5v1m1 -11v1m2 -28v1m0 0v1m0 20v1m1 -29v1m1 17v1m0 5v1m2 -27v1m0 0v1m0 6v1m0 8v1m0 6v1m2 -21v1m0 2v1m1 -5v1m3 14v1m5 27v1m1 -42v1m0 33v1m1 -20v1m0 28v1m2 -4v1m1 -25v1m0 16v1m4 -26v1m2 29v1m1 -33v1m0 11v1m0 6v1m2 -14v1m0 0v1m0 6v1m1 -12v1m0 9v1m0 18v1m1 2v1m0 0v1m1 -3v1m1 -29v1m0 9v1m1 -5v1m1 16v1m3 -21v1m0 15v1m2 -35v1m2 24v1m0 0v1m2 -22v1m0 14v1m1 2v1m1 -3v1m0 13v1m1 -25v1m0 23v1m1 -37v1m0 13v1m0 3v1m2 -9v1m1 13v1m0 21v1m5 -48v1m0 6v1m2 2v1m0 17v1m2 -28v1m0 19v1m0 16v1m1 7v1m1 -39v1m0 24v1m0 10v1m1 -20v1m4 -7v1m0 27v1"/>
<path stroke="#b4b4dc" d="M1.5 36v1m3 -18v1m6 -7v1m11 12v1m7 14v1m7 -7v1m11 -4v1m31 -10v1m1 -8v1m41 -17v1m9 20v1m6 15v1"/>
<path stroke="#bee6f0" d="M1.5 11v1m0 20v1m1 11v1m3 -39v1m2 37v1m0 0v1m2 -43v1m6 16v1m2 -5v1m7 -14v1m0 37v1m3 -10v1m2 15v1m1 -38v1m0 21v1m2 -31v1m2 14v1m1 9v1m0 9v1m4 -2v1m5 -18v1m1 10v1m5 -31v1m3 33v1m6 -24v1m7 11v1m1 5v1m1 5v1m1 3v1m2 -15v1m1 -9v1m6 12v1m2 -9v1m7 -1v1m1 13v1m15 2v1m9 -35v1m5 21v1m3 -7v1m1 -23v1m4 2v1m38 16v1"/>
<path stroke="#d2b4c8" d="M22.5 20v1m22 4v1m11 -23v1m9 12v1m51 -9v1m5 8v1m1 14v1m1 -33v1m8 30v1m16 15v1m29 -11v1m5 -38v1"/>
<path stroke="#f0d2dc" d="M25.5 36v1m0 11v1m3 -29v1m17 11v1m5 -6v1m5 0v1m0 3v1m6 -31v1m3 30v1m3 -6v1m10 -3v1m2 8v1m1 13v1m1 -2v1m1 -34v1m0 18v1m0 14v1m3 -8v1m2 -39v1m0 2v1m0 27v1m0 1v1m3 -13v1m2 -8v1m1 -18v1m0 0v1m0 37v1m1 2v1m2 -9v1m0 0v1m0 3v1m0 8v1m3 -32v1m0 13v1m0 2v1m1 9v1m1 -22v1m1 -17v1m0 17v1m0 12v1m1 -30v1m0 7v1m0 23v1m7 -30v1m1 21v1m0 10v1m2 -10v1m1 -31v1m1 34v1m1 -21v1m1 -5v1m1 2v1m0 25v1m2 -34v1m0 4v1m0 6v1m2 -23v1m0 6v1m0 26v1m0 0v1m1 -40v1m0 2v1m0 35v1m1 -15v1m0 3v1m0 9v1m2 6v1m0 1v1m1 -42v1m2 -4v1m0 23v1m1 -28v1m0 23v1m0 0v1m0 3v1m1 4v1m1 -35v1m0 25v1m0 8v1m0 7v1m2 -22v1m0 24v1m1 -42v1m1 -1v1m0 9v1m0 9v1m0 0v1m1 19v1m1 -41v1m0 18v1m0 10v1m2 -1v1m1 -33v1m1 3v1m0 32v1m1 -12v1m1 -26v1m0 10v1m1 -15v1m0 25v1m0 8v1m0 0v1m1 -27v1m0 33v1m1 -42v1m0 13v1m1 17v1m0 4v1m1 -32v1m0 31v1m1 -35v1m0 30v1m1 -42v1m0 29v1m1 -24v1m0 17v1m1 -19v1m0 16v1m0 2v1m3 -5v1m0 11v1m0 1v1m0 8v1m1 -13v1m1 -34v1m0 26v1m0 9v1m1 1v1m2 -18v1m0 12v1m1 -30v1m2 -5v1m0 18v1m1 10v1m1 -16v1m0 2v1m0 10v1m1 -34v1m0 30v1m0 6v1m0 10v1m1 -46v1m0 38v1m1 -23v1m0 19v1m1 -13v1m0 9v1m1 -37v1m0 32v1m2 -27v1m0 13v1m0 0v1m0 5v1m0 4v1m4 -15v1m0 16v1m1 -15v1m1 -18v1m0 32v1m1 -38v1m1 20v1m0 4v1m0 18v1"/>
<path stroke="#d2d2f0" d="M18.5 13v1m0 4v1m3 24v1m2 -19v1m2 6v1m4 -13v1m7 -10v1m1 31v1m9 -1v1m0 2v1m3 -18v1m1 -19v1m3 6v1m1 27v1m3 -44v1m0 6v1m1 0v1m17 17v1m9 -4v1m0 0v1m3 -17v1m3 -9v1m0 19v1m5 9v1m7 -33v1m0 11v1m7 32v1m2 -32v1m2 -5v1m5 -2v1m9 35v1m1 -4v1m2 -44v1m3 8v1m7 26v1m6 -24v1m0 6v1m1 -12v1m10 15v1m2 16v1m7 3v1"/>
<path stroke="#ffd2d2" d="M73.5 23v1m17 16v1m4 -21v1m18 -16v1m3 15v1m7 -8v1m8 18v1m1 -34v1m1 27v1m13 -17v1m16 -6v1m0 2v1m1 11v1m6 17v1m1 -15v1m1 -11v1m3 1v1m3 11v1m1 18v1m1 -11v1m3 -26v1m0 1v1"/>
<path stroke="#c8d2e6" d="M1.5 43v1m3 -16v1m9 -15v1m0 15v1m2 -24v1m3 -4v1m0 42v1m2 -11v1m4 7v1m3 -42v1m1 5v1m6 -6v1m3 21v1m0 4v1m2 -19v1m0 18v1m2 -4v1m1 -6v1m0 10v1m2 -27v1m0 30v1m0 7v1m2 -30v1m0 20v1m1 -12v1m13 5v1m4 -28v1m0 7v1m2 0v1m0 23v1m4 -39v1m0 6v1m0 10v1m0 24v1m2 -10v1m0 4v1m2 -20v1m1 -15v1m2 -2v1m0 8v1m1 -2v1m0 22v1m2 -36v1m1 41v1m3 -9v1m1 -3v1m3 -28v1m3 -6v1m3 -1v1m0 17v1m3 17v1m1 -9v1m4 4v1m2 -32v1m2 9v1m2 1v1m1 -6v1m0 2v1m0 13v1m1 -14v1m3 1v1m3 -4v1m6 16v1m1 -28v1m2 36v1m3 -36v1m5 28v1m1 -39v1m3 -1v1m0 11v1m0 6v1m2 -8v1m0 12v1m1 20v1m1 -28v1m1 25v1m1 -17v1m1 -6v1m0 13v1m2 -9v1m2 -24v1m7 40v1m4 -35v1m4 30v1m1 -45v1m2 0v1m0 34v1m1 -28v1m0 4v1m2 16v1m2 4v1m2 -33v1m1 -6v1m2 12v1m0 26v1m1 -10v1m4 -13v1"/>
<path stroke="#d2c8dc" d="M1.5 38v1m4 -12v1m7 13v1m6 -37v1m0 0v1m1 -4v1m0 40v1m6 -6v1m10 -27v1m1 29v1m3 -27v1m0 27v1m5 -30v1m0 18v1m6 -26v1m0 26v1m11 -26v1m1 -8v1m3 26v1m6 -30v1m7 1v1m0 17v1m3 -5v1m3 -14v1m3 -5v1m2 16v1m1 18v1m0 7v1m1 -36v1m9 20v1m2 -29v1m0 40v1m1 -18v1m2 7v1m1 -31v1m0 34v1m4 -28v1m2 -7v1m3 30v1m3 -25v1m0 27v1m2 3v1m4 -16v1m6 11v1m2 -4v1m0 0v1m1 -28v1m1 17v1m0 2v1m1 -37v1m0 37v1m2 -14v1m2 18v1m1 -36v1m0 8v1m1 1v1m0 20v1m1 7v1m2 -13v1m9 9v1m1 -7v1m2 -27v1m3 -10v1m0 1v1m0 29v1m7 -19v1m0 9v1m3 -3v1m5 -28v1m1 12v1"/>
<path stroke="#e6dcdc" d="M21.5 44v1m69 -10v1m3 -32v1m7 38v1m2 2v1m14 -33v1m8 25v1m11 -8v1m1 -12v1m4 -23v1m12 17v1m3 -2v1m1 -15v1m1 16v1"/>
<path stroke="#f0dcdc" d="M1.5 46v1m21 -34v1m17 -1v1m23 4v1m4 -15v1m2 14v1m9 8v1m1 -18v1m5 31v1m6 -23v1m4 -5v1m3 -11v1m4 16v1m1 -17v1m5 16v1m4 -17v1m1 2v1m6 -9v1m5 1v1m0 36v1m1 -24v1m1 -5v1m0 29v1m2 -28v1m8 0v1m1 1v1m3 -3v1m2 -13v1m2 -9v1m0 29v1m6 -16v1m0 17v1m0 7v1m1 -23v1m0 16v1m0 2v1m4 -29v1m1 -10v1m0 24v1m2 -16v1m1 9v1m2 -13v1m1 1v1m0 10v1m2 12v1m6 -26v1m1 34v1m2 -47v1m3 29v1m2 -9v1m1 -20v1m0 7v1m0 25v1m2 -34v1"/>
<path stroke="#f0a0aa" d="M136.5 31v1m7 -32v1m9 21v1m16 -6v1m3 29v1m1 -3v1m7 -11v1m2 7v1"/>
<path stroke="#e6dcf0" d="M18.5 43v1m11 0v1m2 -3v1m10 -33v1m11 37v1m3 -42v1m4 28v1m15 -21v1m7 -8v1m1 35v1m2 -23v1m3 -11v1m0 34v1m5 -43v1m6 35v1m6 2v1m2 -23v1m11 -4v1m3 -15v1m7 15v1m7 -17v1m11 -7v1m3 -1v1m1 -1v1m5 31v1m4 -8v1m1 -3v1m5 -8v1"/>
<path stroke="#ffaab4" d="M103.5 19v1m11 23v1m18 4v1m4 -25v1m0 21v1m9 -15v1m2 15v1m4 -49v1m3 3v1m4 37v1m3 -20v1m3 6v1m1 -25v1m5 -4v1m0 20v1m1 23v1m5 -42v1m1 34v1m1 -23v1m0 5v1m1 -1v1m0 6v1m1 -22v1m0 14v1m0 1v1m0 0v1m1 -14v1"/>
<path stroke="#ffdcdc" d="M78.5 47v1m6 0v1m15 -1v1m1 -33v1m1 4v1m1 27v1m2 -28v1m12 -22v1m4 11v1m0 32v1m3 -26v1m0 4v1m0 19v1m5 -2v1m4 -11v1m4 -20v1m10 18v1m4 10v1m2 -47v1m0 13v1m10 13v1m2 14v1m1 -20v1m1 -8v1m1 -12v1m4 14v1m0 11v1m6 -6v1"/>
<path stroke="#d2bed2" d="M19.5 36v1m9 -19v1m30 -15v1m1 3v1m1 10v1m17 22v1m5 -40v1m1 0v1m4 4v1m2 14v1m5 5v1m11 -1v1m7 11v1m2 -5v1m14 -5v1m0 2v1m3 8v1m6 -29v1m4 24v1m12 -44v1m1 18v1m1 9v1m7 4v1m4 -7v1m3 -19v1m6 24v1m1 -20v1m2 7v1"/>
<path stroke="#faaab4" d="M94.5 49v1m51 -14v1m2 -33v1m1 38v1m3 -1v1m1 -17v1m0 11v1m2 -40v1m4 11v1m0 7v1m3 -12v1m1 15v1m3 -26v1m1 11v1m1 29v1m5 -16v1m2 -14v1m5 -5v1m1 3v1"/>
<path stroke="#fae6e6" d="M18.5 36v1m21 7v1m5 -13v1m26 -13v1m3 -6v1m5 16v1m4 4v1m5 -24v1m0 30v1m2 -32v1m0 2v1m1 -7v1m2 16v1m2 7v1m2 5v1m1 5v1m3 -14v1m1 8v1m1 -15v1m3 -15v1m0 10v1m0 17v1m3 -20v1m2 -17v1m2 -1v1m0 1v1m1 -10v1m1 1v1m1 41v1m8 -7v1m5 -37v1m1 11v1m0 30v1m2 -1v1m3 -39v1m2 0v1m1 -9v1m0 36v1m1 -30v1m0 18v1m2 -17v1m2 9v1m1 6v1m2 -22v1m1 -4v1m1 29v1m2 -5v1m1 -18v1m0 1v1m0 13v1m0 0v1m1 -17v1m2 1v1m1 29v1m2 -50v1m0 39v1m0 8v1m2 -45v1m1 6v1m2 15v1m3 -10v1m1 -9v1m2 11v1m9 -23v1m0 34v1m1 -23v1m4 -11v1"/>
<path stroke="#ffb4be" d="M61.5 47v1m26 -20v1m6 18v1m1 -38v1m2 37v1m14 -43v1m19 -2v1m0 24v1m1 10v1m1 -16v1m4 -12v1m1 29v1m4 -1v1m1 -7v1m2 5v1m1 -14v1m1 0v1m3 -15v1m0 26v1m3 -43v1m1 10v1m4 23v1m1 -40v1m1 23v1m3 0v1m1 -14v1m0 8v1m0 9v1m0 8v1m3 -37v1m0 17v1m3 -4v1m0 28v1m2 -43v1m0 7v1m0 8v1m0 3v1m0 0v1m0 6v1m1 -20v1m1 -12v1m0 0v1m0 12v1m0 29v1m5 -46v1m2 2v1m0 29v1"/>
<path stroke="#e6d2e6" d="M34.5 13v1m30 12v1m10 -5v1m0 22v1m7 -42v1m3 17v1m9 -4v1m1 -16v1m1 11v1m3 26v1m1 -27v1m0 24v1m0 1v1m2 -4v1m3 -36v1m1 4v1m0 25v1m6 -32v1m0 11v1m1 -4v1m2 -6v1m0 0v1m9 32v1m0 0v1m2 -32v1m1 28v1m5 -7v1m1 -6v1m0 5v1m2 7v1m4 -21v1m11 -26v1m0 5v1m0 18v1m3 17v1m4 -8v1m1 -21v1m2 -18v1m4 35v1m6 -14v1m4 20v1m3 -1v1m2 -30v1m3 20v1"/>
<path stroke="#ffbebe" d="M82.5 26v1m11 -15v1m17 21v1m19 6v1m1 -2v1m13 -34v1m2 5v1m0 31v1m5 1v1m2 -16v1m4 -16v1m1 12v1m2 1v1m0 10v1m1 -44v1m1 2v1m1 0v1m3 12v1m2 26v1m7 -10v1m2 10v1m3 -17v1"/>
<path stroke="#ffc8d2" d="M52.5 45v1m42 -13v1m1 -15v1m8 10v1m13 1v1m0 7v1m21 -32v1m1 -3v1m2 39v1m3 -23v1m1 5v1m3 -29v1m1 44v1m3 -47v1m0 33v1m1 -27v1m1 10v1m1 -21v1m3 14v1m3 2v1m1 -20v1m0 11v1m1 35v1m2 -35v1m0 33v1m1 -18v1m2 13v1m1 -5v1m2 -25v1m1 -5v1m6 16v1m2 -7v1m0 4v1m1 -14v1m0 15v1m0 3v1m1 -26v1m0 1v1"/>
<path stroke="#96a0f0" d="M1.5 40v1m4 -34v1m14 -1v1m144 -8v1"/>
<path stroke="#ffdce6" d="M82.5 25v1m17 -11v1m1 -1v1m15 13v1m14 7v1m2 -14v1m4 2v1m9 12v1m1 -15v1m3 13v1m2 -40v1m3 12v1m5 17v1m3 11v1m3 -45v1m0 2v1m6 29v1m4 -9v1m2 -18v1m0 39v1m3 -32v1"/>
<path stroke="#dcc8d2" d="M1.5 49v1m11 -33v1m10 20v1m6 -38v1m8 45v1m10 -40v1m9 13v1m0 22v1m27 -39v1m0 15v1m12 3v1m1 -16v1m1 9v1m9 -16v1m3 20v1m4 -3v1m1 -13v1m8 -5v1m2 -1v1m3 12v1m3 -13v1m2 29v1m4 -24v1m2 -6v1m3 15v1m4 18v1m2 -47v1m2 23v1m3 -24v1m1 27v1m4 9v1m3 -14v1m6 -11v1m3 -19v1m0 34v1m1 -21v1m5 26v1m0 0v1m2 -39v1m5 -5v1"/>
<path stroke="#ffb4b4" d="M117.5 26v1m12 17v1m2 -38v1m20 41v1m1 -27v1m0 25v1m2 -40v1m2 -7v1m2 5v1m14 -11v1m0 46v1m6 -46v1m0 3v1m0 36v1"/>
<path stroke="#faf0f0" d="M18.5 27v1m0 12v1m7 -14v1m3 -25v1m3 11v1m0 20v1m11 -23v1m5 31v1m13 -35v1m1 9v1m2 6v1m1 19v1m7 -3v1m2 -32v1m4 28v1m5 -25v1m8 25v1m2 -46v1m1 3v1m7 10v1m15 20v1m2 -14v1m3 9v1m2 6v1m1 -34v1m10 13v1m10 13v1m2 -1v1m3 -15v1m2 -14v1m5 -9v1m1 39v1m3 -6v1m15 -10v1m2 -29v1"/>
<path stroke="#faa0aa" d="M93.5 42v1m33 -37v1m15 41v1m4 -3v1m4 -43v1m2 5v1m1 22v1m6 14v1m12 -7v1m1 -3v1m1 -34v1m0 12v1m6 -21v1m0 36v1m0 6v1m0 3v1m1 -1v1"/>
<path stroke="#b4c8fa" d="M0.5 24v1m4 -24v1m0 36v1m2 -30v1m9 2v1m7 -11v1m8 36v1m7 -35v1m1 39v1m22 -43v1m25 25v1m10 1v1"/>
<path stroke="#6496f0" d="M0.5 9v1m5 -9v1m0 3v1m0 28v1m1 12v1m1 -19v1m5 -12v1m28 -13v1m2 9v1m0 14v1m6 -12v1m3 -19v1m0 41v1m18 -26v1"/>
<path stroke="#7896fa" d="M0.5 21v1m6 17v1m1 -39v1m19 -1v1m22 37v1"/>
<path stroke="#a0d2f0" d="M1.5 35v1m1 13v1m1 -42v1m2 7v1m0 5v1m0 5v1m2 -25v1m3 -4v1m0 9v1m4 33v1m3 -29v1m0 17v1m3 -26v1m3 24v1m4 -18v1m0 19v1m0 8v1m2 -23v1m0 21v1m8 -45v1m0 27v1m1 -4v1m5 -19v1m0 16v1m0 12v1m5 -39v1m8 39v1m1 -15v1m0 15v1m2 -27v1m3 7v1m6 -24v1m2 23v1m4 -27v1m10 2v1m2 -1v1m9 13v1m3 8v1m8 20v1m1 -44v1m26 42v1"/>
<path stroke="#c8e6f0" d="M1.5 4v1m1 38v1m2 -39v1m8 -5v1m2 31v1m1 -1v1m2 -28v1m0 33v1m3 7v1m1 -43v1m1 4v1m0 34v1m1 -27v1m2 8v1m0 16v1m1 -32v1m4 27v1m1 -37v1m0 16v1m0 20v1m1 -45v1m1 41v1m1 -8v1m2 -21v1m1 23v1m9 -32v1m0 14v1m0 22v1m1 -8v1m2 -10v1m0 0v1m3 -29v1m0 5v1m1 15v1m0 14v1m1 -17v1m2 7v1m4 10v1m2 -25v1m0 23v1m2 -18v1m0 18v1m1 -43v1m4 41v1m0 2v1m1 -49v1m1 -1v1m0 11v1m1 -11v1m0 15v1m0 15v1m3 -25v1m2 26v1m2 -13v1m3 -25v1m1 0v1m0 36v1m2 -27v1m0 9v1m1 -7v1m0 0v1m2 -15v1m0 1v1m1 26v1m2 2v1m6 -27v1m1 26v1m3 -4v1m3 -12v1m4 -2v1m1 -5v1m10 29v1m4 -10v1m3 -10v1m1 -8v1m6 18v1m1 -26v1m1 10v1m1 -29v1m1 19v1m2 23v1m10 -41v1m11 4v1m3 17v1"/>
<path stroke="#78b4f0" d="M1.5 16v1m3 19v1m1 0v1m1 -21v1m3 3v1m3 25v1m2 -47v1m19 1v1m4 21v1m10 12v1m4 -22v1m6 16v1m5 -7v1m24 -14v1m5 0v1"/>
<path stroke="#aabee6" d="M1.5 39v1m1 -16v1m1 -18v1m12 28v1m1 -13v1m0 10v1m4 -35v1m3 10v1m2 -4v1m1 15v1m3 13v1m9 -26v1m1 4v1m6 28v1m6 -13v1m6 -23v1m3 31v1m9 -20v1m3 -24v1m19 26v1m28 14v1m20 -14v1m0 3v1"/>
<path stroke="#a0bef0" d="M0.5 15v1m0 19v1m2 -23v1m0 21v1m0 1v1m1 -19v1m1 -11v1m0 3v1m0 4v1m2 2v1m0 20v1m2 -30v1m1 23v1m1 -15v1m0 1v1m0 10v1m1 -29v1m0 23v1m1 -9v1m1 -6v1m0 26v1m1 -31v1m0 2v1m0 22v1m0 1v1m1 -5v1m0 0v1m0 4v1m2 -15v1m2 -17v1m4 21v1m1 -38v1m3 43v1m6 -25v1m4 -3v1m0 21v1m0 6v1m1 -47v1m0 1v1m0 27v1m2 -15v1m0 16v1m2 11v1m1 -40v1m2 11v1m0 21v1m1 -16v1m1 -17v1m4 -8v1m1 -3v1m4 22v1m0 5v1m2 -31v1m10 18v1m4 -8v1m4 7v1m1 12v1m2 -16v1m4 -11v1m3 19v1m1 8v1m4 -37v1m0 26v1m6 -7v1m4 10v1m0 12v1m1 -33v1m1 -11v1m1 37v1m15 -20v1m20 -5v1m0 8v1m3 -15v1m13 20v1m14 -12v1"/>
<path stroke="#d2f0fa" d="M4.5 22v1m1 -15v1m12 3v1m10 -12v1m0 10v1m3 9v1m0 13v1m4 -21v1m5 -1v1m6 23v1m7 -23v1m2 -8v1m0 15v1m4 2v1m4 -12v1m0 16v1m4 3v1m9 -14v1m4 18v1m15 -25v1m6 10v1m1 -19v1m3 1v1m8 10v1m14 -21v1m2 38v1m7 -35v1"/>
<path stroke="#8282f0" d="M31.5 1v1"/>
<path stroke="#b4b4f0" d="M12.5 28v1m4 -23v1m2 3v1m15 8v1m1 -19v1m10 7v1m119 -8v1"/>
<path stroke="#a0befa" d="M0.5 16v1m0 24v1m0 3v1m5 -34v1m0 25v1m1 -25v1m7 3v1m2 -15v1m12 18v1m11 -6v1m2 -18v1m2 8v1m1 -4v1m4 27v1m1 0v1m3 -29v1m11 24v1m6 1v1m20 13v1m21 -42v1m19 27v1"/>
<path stroke="#aab4f0" d="M1.5 17v1m8 15v1m12 0v1m2 4v1m1 -30v1m0 29v1m1 -6v1m6 2v1m5 -10v1m3 6v1m3 -36v1m4 0v1m1 0v1m15 17v1m3 27v1m28 -1v1m32 -48v1"/>
<path stroke="#b4bee6" d="M3.5 24v1m1 -22v1m5 25v1m7 -13v1m4 -6v1m5 24v1m1 3v1m2 -31v1m1 -9v1m3 16v1m1 -17v1m8 34v1m3 -39v1m2 11v1m3 5v1m4 0v1m0 7v1m3 -9v1m7 19v1m8 -1v1m2 -20v1m11 27v1m28 -33v1m1 -8v1m2 -8v1m9 33v1m9 -19v1m13 16v1m17 -36v1m0 24v1"/>
<path stroke="#b4bef0" d="M3.5 18v1m6 5v1m7 -23v1m2 -1v1m4 31v1m0 8v1m1 -40v1m1 15v1m5 -15v1m0 8v1m0 16v1m8 -18v1m8 -5v1m1 -5v1m1 -1v1m1 -7v1m5 41v1m0 3v1m3 -5v1m3 -17v1m6 -18v1m8 18v1m2 -15v1m1 10v1m2 -3v1m5 -12v1m3 13v1m1 -25v1m3 13v1m5 10v1m2 -5v1m0 10v1m10 -33v1m1 16v1m5 2v1m7 -6v1m5 12v1"/>
<path stroke="#96aaf0" d="M3.5 2v1m5 46v1m2 -26v1m0 19v1m4 -8v1m22 -15v1m2 -9v1m11 -15v1m17 20v1m0 25v1m4 -46v1"/>
<path stroke="#96aadc" d="M55.5 40v1m1 -40v1"/>
<path stroke="#b4c8dc" d="M60.5 1v1m62 42v1"/>
<path stroke="#f0f0f0" d="M16.5 43v1m2 -9v1m6 -29v1m4 22v1m6 18v1m20 -10v1m7 -40v1m0 2v1m9 8v1m5 19v1m1 -25v1m1 11v1m4 6v1m5 16v1m6 -10v1m2 -22v1m0 3v1m0 4v1m2 -9v1m0 13v1m0 7v1m1 -12v1m4 5v1m6 -23v1m1 29v1m0 3v1m2 -2v1m3 -41v1m1 7v1m3 16v1m2 -5v1m1 8v1m0 8v1m2 -34v1m1 36v1m1 -29v1m2 -17v1m5 30v1m3 -11v1m1 -14v1m4 14v1m3 4v1m6 10v1m8 -38v1m7 -3v1m3 39v1"/>
<path stroke="#f0e6e6" d="M18.5 49v1m27 -44v1m1 7v1m7 12v1m6 -17v1m5 -11v1m1 38v1m3 -27v1m5 21v1m2 7v1m6 -32v1m0 10v1m8 8v1m4 -26v1m2 11v1m1 -15v1m0 1v1m2 22v1m1 -31v1m0 31v1m5 6v1m1 -35v1m3 -1v1m1 38v1m2 -39v1m0 0v1m3 15v1m3 14v1m1 -37v1m0 38v1m2 -34v1m4 -3v1m0 33v1m0 5v1m6 -39v1m0 24v1m1 -3v1m1 -20v1m0 23v1m2 -23v1m0 28v1m1 4v1m1 -21v1m9 -11v1m0 21v1m1 -1v1m2 -11v1m11 8v1m6 -3v1m2 -36v1m6 7v1m8 25v1"/>
<path stroke="#b4d2fa" d="M2.5 41v1m1 0v1m3 -12v1m2 -6v1m2 -8v1m0 1v1m2 -17v1m1 17v1m1 -3v1m0 13v1m1 13v1m2 -32v1m4 0v1m2 29v1m6 -32v1m13 26v1m5 -24v1m1 15v1m1 -32v1m0 32v1m7 -3v1m3 -30v1m3 15v1m3 -24v1m3 -2v1m1 28v1m1 -17v1m0 9v1m0 9v1m5 -33v1m5 36v1m15 5v1m74 -29v1"/>
<path stroke="#bec8dc" d="M16.5 26v1m0 19v1m3 -18v1m11 -10v1m11 -3v1m1 9v1m2 18v1m8 -26v1m1 -16v1m1 41v1m9 -30v1m1 17v1m9 -38v1m2 41v1m15 -16v1m17 -5v1m1 -23v1m11 45v1m7 -22v1m8 6v1m6 -2v1m35 -32v1m0 39v1"/>
<path stroke="#c8d2dc" d="M4.5 33v1m46 -30v1m10 23v1m3 -19v1m10 1v1m6 -12v1m12 28v1m33 -23v1m15 18v1m6 -19v1m22 2v1"/>
<path stroke="#c8bedc" d="M20.5 35v1m2 -32v1m13 40v1m0 3v1m12 -31v1m2 -8v1m5 35v1m3 -24v1m7 -19v1m6 40v1m4 -17v1m3 -20v1m1 11v1m1 19v1m3 -45v1m5 -1v1m5 29v1m15 -18v1m1 -11v1m6 -3v1m4 19v1m9 26v1m1 -38v1m6 29v1m3 -37v1m0 34v1m2 5v1m3 -27v1m3 -4v1m1 0v1m1 -5v1m19 -2v1m0 21v1m0 1v1m9 -32v1"/>
<path stroke="#f0d2d2" d="M55.5 49v1m6 -15v1m19 -25v1m1 11v1m4 -23v1m5 18v1m2 19v1m1 -34v1m7 41v1m3 -11v1m1 8v1m2 -27v1m0 16v1m15 -20v1m2 8v1m5 -5v1m8 8v1m0 8v1m6 -40v1m1 -2v1m6 11v1m0 15v1m4 -10v1m2 -13v1m0 7v1m0 7v1m12 2v1m1 -17v1m4 11v1m4 -5v1m3 14v1"/>
<path stroke="#dcf0fa" d="M22.5 45v1m2 -15v1m5 11v1m4 -30v1m1 14v1m5 -26v1m3 14v1m1 4v1m1 -4v1m3 22v1m3 -24v1m3 8v1m1 -2v1m0 13v1m1 -36v1m7 39v1m2 -41v1m0 25v1m3 -18v1m0 6v1m4 -9v1m6 -3v1m1 -13v1m0 40v1m1 -24v1m4 21v1m2 -35v1m15 -8v1m7 18v1m8 -4v1m5 -13v1m6 33v1m1 1v1m1 -40v1m5 33v1m2 -20v1m17 -17v1m4 18v1m3 -12v1m1 8v1m13 13v1m2 -25v1m0 11v1m1 2v1"/>
<path stroke="#e6c8dc" d="M19.5 24v1m3 10v1m12 5v1m12 2v1m15 -4v1m12 6v1m5 -39v1m3 35v1m1 1v1m7 -7v1m1 -22v1m0 15v1m2 11v1m4 -33v1m8 -17v1m0 30v1m4 -18v1m4 -12v1m2 36v1m2 -30v1m0 8v1m0 25v1m1 -15v1m1 -3v1m0 5v1m12 -24v1m1 -13v1m0 30v1m2 -8v1m4 -5v1m0 24v1m3 -27v1m4 13v1m0 7v1m3 -14v1m1 -25v1m2 2v1m3 28v1m3 -5v1m1 -31v1m1 10v1m4 -15v1m2 32v1m2 -29v1m0 8v1m3 22v1m3 -22v1m2 28v1"/>
<path stroke="#e6b4be" d="M64.5 14v1m13 15v1m4 2v1m1 8v1m17 -39v1m3 16v1m0 21v1m1 3v1m3 -47v1m7 31v1m2 -21v1m1 30v1m1 1v1m9 -42v1m3 1v1m2 36v1m5 -13v1m0 4v1m2 -19v1m0 9v1m6 11v1m3 -28v1m1 -5v1m3 15v1m1 -25v1m0 6v1m1 22v1m2 -11v1m2 -13v1m3 -7v1m2 30v1m2 1v1m8 -29v1m0 8v1m0 24v1m4 -13v1"/>
<path stroke="#e6e6e6" d="M6.5 33v1m12 8v1m6 1v1m6 0v1m31 -7v1m7 -15v1m9 -6v1m4 24v1m4 -21v1m2 6v1m6 -15v1m2 13v1m11 -13v1m6 -20v1m4 26v1m6 0v1m1 -24v1m7 4v1m5 18v1m9 -12v1m5 -2v1m1 21v1m23 2v1"/>
<path stroke="#fabec8" d="M55.5 27v1m6 -14v1m13 -1v1m6 11v1m2 12v1m11 -31v1m6 29v1m5 -26v1m12 30v1m1 -35v1m0 4v1m7 -16v1m2 10v1m2 17v1m0 11v1m2 -36v1m0 40v1m2 -26v1m4 18v1m1 -8v1m1 -23v1m5 13v1m1 -6v1m6 -9v1m0 28v1m1 -33v1m0 9v1m0 2v1m1 -19v1m1 33v1m0 8v1m4 -11v1m0 9v1m1 -29v1m1 27v1m1 -39v1m1 23v1m0 12v1m1 -38v1m3 7v1m0 7v1m0 15v1m3 3v1m3 -24v1m1 -12v1m0 14v1m0 2v1m4 -26v1m0 32v1m1 -23v1m1 -15v1m0 0v1m0 4v1m0 8v1m1 -16v1m2 11v1m0 12v1"/>
<path stroke="#c8bed2" d="M44.5 26v1m8 -20v1m12 3v1m31 10v1m13 -10v1m2 35v1m2 -11v1m6 -27v1m2 35v1m3 -36v1m3 -14v1m9 22v1m29 -20v1m2 35v1m0 7v1m10 -21v1"/>
<path stroke="#dcc8dc" d="M18.5 19v1m10 -14v1m0 41v1m2 -17v1m4 -23v1m10 33v1m6 -38v1m4 24v1m1 -9v1m0 12v1m5 -25v1m13 25v1m3 -34v1m0 36v1m2 -25v1m0 6v1m0 8v1m0 5v1m1 -12v1m8 -16v1m0 3v1m4 28v1m6 0v1m2 -29v1m0 2v1m9 24v1m1 -17v1m1 14v1m2 -20v1m0 8v1m1 9v1m0 0v1m2 -26v1m2 11v1m4 5v1m5 -39v1m3 10v1m2 -15v1m0 8v1m0 3v1m4 -9v1m1 8v1m0 32v1m1 -7v1m4 -36v1m3 12v1m0 21v1m2 -18v1m0 23v1m4 -19v1m3 2v1m2 -31v1m2 -3v1m0 20v1m0 21v1m2 -42v1m0 24v1m1 -2v1m1 -11v1m5 26v1m3 -13v1m5 -1v1m1 -3v1m0 11v1m5 5v1"/>
<path stroke="#dcb4dc" d="M134.5 1v1"/>
<path stroke="#f0b4be" d="M61.5 26v1m19 -23v1m0 41v1m1 -17v1m1 -17v1m5 9v1m2 -10v1m5 19v1m9 -30v1m3 7v1m10 28v1m1 -27v1m7 -16v1m0 27v1m4 13v1m1 -35v1m0 8v1m0 6v1m2 18v1m4 -5v1m1 -33v1m4 21v1m2 5v1m5 -4v1m2 -21v1m1 -11v1m1 42v1m2 -47v1m0 34v1m1 5v1m0 4v1m4 -42v1m0 2v1m0 16v1m0 19v1m3 -41v1m0 8v1m0 33v1m1 -12v1m2 -29v1m1 12v1m3 15v1m2 -18v1m1 22v1m1 -36v1m4 3v1m1 32v1m1 -34v1m1 16v1m1 -15v1"/>
<path stroke="#c8b4dc" d="M24.5 8v1m57 32v1m68 -13v1m6 -29v1m12 30v1m14 -15v1"/>
<path stroke="#fac8c8" d="M50.5 35v1m39 -10v1m1 -8v1m6 -9v1m2 35v1m7 -29v1m1 10v1m0 1v1m22 -7v1m1 7v1m1 -8v1m1 -16v1m5 -1v1m0 7v1m0 12v1m1 -24v1m0 22v1m1 9v1m2 -32v1m0 30v1m3 0v1m7 -25v1m1 9v1m0 17v1m2 -40v1m0 31v1m0 6v1m3 -18v1m1 -26v1m1 -6v1m0 9v1m2 -6v1m0 20v1m0 6v1m4 6v1m1 -14v1m0 17v1m1 -21v1m1 -5v1m3 -3v1m1 2v1m9 -17v1m0 33v1m1 -34v1"/>
<path stroke="#bebed2" d="M61.5 10v1m9 35v1m13 -19v1m42 -24v1m41 -5v1"/>
<path stroke="#ffa0aa" d="M114.5 49v1m17 -7v1m5 -5v1m0 9v1m8 -37v1m3 -12v1m3 36v1m1 5v1m1 1v1m2 -25v1m2 -17v1m8 19v1m3 -27v1m3 47v1m2 -29v1m0 8v1m0 1v1m0 1v1m0 3v1m6 -29v1m1 4v1m1 2v1"/>
<path stroke="#fab4b4" d="M94.5 7v1m23 27v1m19 4v1m8 -36v1m3 16v1m0 20v1m1 -32v1m6 -2v1m17 -11v1m1 13v1m0 21v1"/>
<path stroke="#ffbec8" d="M74.5 42v1m13 -23v1m7 24v1m6 -5v1m5 -3v1m7 -26v1m2 18v1m2 -32v1m1 42v1m5 -1v1m7 -6v1m1 -35v1m2 5v1m0 13v1m6 -25v1m2 1v1m2 9v1m1 9v1m0 22v1m4 -42v1m0 3v1m0 0v1m1 23v1m2 -10v1m1 5v1m1 -22v1m0 7v1m4 -9v1m0 31v1m1 -30v1m3 -7v1m0 11v1m0 23v1m2 -19v1m2 -16v1m0 8v1m1 26v1m6 -13v1m0 2v1m1 -38v1m5 10v1m1 15v1m0 2v1m2 -12v1m1 -18v1m0 8v1m0 10v1m0 8v1"/>
<path stroke="#f0f0fa" d="M17.5 30v1m11 -19v1m0 11v1m3 -20v1m1 8v1m0 31v1m1 -30v1m1 -15v1m9 10v1m11 18v1m20 2v1m16 -13v1m7 -16v1m4 6v1m4 21v1m8 -32v1m0 31v1m0 1v1m5 -2v1m8 -4v1m4 -18v1m4 7v1m4 -24v1m0 29v1m5 -23v1m13 -8v1m7 26v1m1 -9v1m11 0v1m3 -26v1"/>
<path stroke="#fac8d2" d="M50.5 32v1m11 -15v1m0 14v1m3 14v1m3 -37v1m7 6v1m8 -10v1m7 20v1m4 13v1m0 2v1m1 -17v1m11 -7v1m5 -16v1m1 14v1m2 19v1m1 -33v1m0 1v1m1 -13v1m1 13v1m1 -13v1m0 6v1m0 29v1m3 0v1m3 -8v1m1 -33v1m0 43v1m5 -18v1m1 -25v1m1 33v1m1 -21v1m1 17v1m1 -22v1m1 25v1m1 -27v1m0 21v1m2 7v1m2 -8v1m1 -18v1m1 0v1m0 11v1m0 0v1m1 -32v1m0 19v1m0 1v1m1 18v1m3 -31v1m0 29v1m1 -25v1m0 1v1m0 21v1m2 -44v1m0 5v1m0 0v1m1 13v1m0 11v1m0 0v1m3 -4v1m0 1v1m1 5v1m1 0v1m1 -21v1m1 -20v1m0 33v1m2 -26v1m0 5v1m1 -7v1m0 19v1m1 -18v1m2 2v1m0 8v1m0 1v1m1 -18v1m2 9v1m0 6v1m0 12v1m0 0v1m1 -24v1m0 4v1m2 -26v1m1 1v1m0 13v1m1 3v1m0 11v1m0 2v1m2 -16v1m0 7v1m3 -9v1m1 -3v1m0 9v1m1 -32v1m0 37v1m1 -18v1m0 14v1m1 -33v1m0 32v1"/>
<path stroke="#f0aab4" d="M89.5 45v1m26 -35v1m1 36v1m2 -26v1m3 -20v1m8 38v1m4 -11v1m10 -13v1m7 27v1m10 -37v1m4 31v1m1 -33v1m9 -5v1m0 39v1m2 -32v1m0 5v1m3 7v1m1 -32v1m0 1v1m0 30v1"/>
<path stroke="#82a0f0" d="M5.5 2v1m1 5v1m0 2v1m1 19v1m0 0v1m1 -27v1m0 26v1m2 -17v1m4 6v1m3 1v1m5 -12v1m4 21v1m1 8v1m6 -6v1m9 -5v1m5 -4v1m0 6v1m4 -27v1m6 -11v1"/>
<path stroke="#6482f0" d="M7.5 2v1"/>
<path stroke="#3c5afa" d="M11.5 2v1"/>
<path stroke="#78a0f0" d="M0.5 10v1m1 20v1m1 -4v1m1 -1v1m3 -19v1m0 24v1m1 -19v1m0 2v1m1 -4v1m1 9v1m2 -22v1m2 -5v1m2 -1v1m0 25v1m11 13v1m3 -30v1m5 21v1m2 -16v1m0 10v1m1 7v1m5 -20v1m0 17v1m1 -16v1m0 1v1m8 7v1m0 7v1m17 -30v1m1 16v1"/>
<path stroke="#a0bee6" d="M1.5 30v1m8 9v1m1 4v1m10 -44v1m6 24v1m23 -14v1m1 1v1m1 6v1m15 -14v1m25 -2v1"/>
<path stroke="#dce6fa" d="M2.5 8v1m18 5v1m4 -13v1m6 6v1m14 23v1m5 9v1m0 5v1m1 -31v1m35 -11v1m13 4v1m6 24v1m33 -32v1"/>
<path stroke="#8c82d2" d="M39.5 2v1"/>
<path stroke="#6478f0" d="M41.5 2v1"/>
<path stroke="#96aae6" d="M10.5 7v1m21 21v1m2 -22v1m5 13v1m4 -21v1m10 2v1m2 39v1m15 -40v1m51 -5v1"/>
<path stroke="#a0aaf0" d="M4.5 27v1m11 -13v1m28 -14v1m14 32v1m21 6v1m41 -30v1"/>
<path stroke="#d2c8d2" d="M44.5 2v1m11 3v1m23 26v1m18 -22v1m1 1v1m1 22v1m2 -18v1m2 13v1m6 -28v1m12 20v1m0 13v1m17 -32v1m6 27v1m7 -2v1m5 -11v1m4 -7v1m5 -5v1m4 -13v1"/>
<path stroke="#d2bedc" d="M19.5 33v1m22 -14v1m8 -19v1m6 28v1m9 -28v1m0 18v1m3 8v1m0 15v1m8 -1v1m4 -40v1m22 -4v1m6 29v1m2 -11v1m1 16v1m1 -41v1m2 34v1m4 -12v1m4 -6v1m5 13v1m12 -19v1m2 4v1m27 4v1m6 -1v1m0 0v1m1 -12v1m7 -13v1"/>
<path stroke="#b4bedc" d="M19.5 25v1m7 0v1m32 -25v1m14 19v1m23 -15v1m26 26v1m7 -12v1m11 -21v1m3 3v1"/>
<path stroke="#fadcdc" d="M28.5 14v1m2 19v1m2 -19v1m29 15v1m2 -31v1m1 3v1m3 38v1m7 2v1m2 -30v1m4 24v1m4 -15v1m0 2v1m5 -12v1m1 -16v1m6 36v1m3 -19v1m0 18v1m3 -6v1m0 0v1m0 6v1m1 -26v1m2 24v1m1 -4v1m4 -16v1m1 0v1m1 14v1m2 -44v1m0 31v1m1 -31v1m2 2v1m0 3v1m1 36v1m2 -34v1m6 15v1m3 -11v1m0 0v1m2 5v1m1 -21v1m0 37v1m1 -11v1m1 -8v1m1 -19v1m1 -8v1m6 41v1m1 1v1m4 -23v1m0 3v1m0 6v1m0 3v1m1 -26v1m2 27v1m2 -33v1m0 20v1m1 -2v1m1 -9v1m0 7v1m7 -14v1m3 18v1m1 -4v1m0 3v1m2 -25v1m1 -3v1m3 -8v1m0 34v1m1 1v1m1 -33v1m0 14v1m4 -21v1m1 21v1m1 -5v1m1 -2v1m0 6v1m0 7v1m0 3v1m1 -22v1m0 4v1"/>
<path stroke="#6e8cf0" d="M5.5 17v1m1 -15v1m0 33v1m4 -7v1m1 6v1m40 -10v1m0 15v1m18 -44v1"/>
<path stroke="#b4b4e6" d="M3.5 11v1m49 15v1m5 -19v1m2 10v1m7 -13v1m6 3v1m0 12v1m9 -24v1m17 5v1m2 -5v1m49 33v1"/>
<path stroke="#aac8fa" d="M2.5 16v1m0 17v1m1 -25v1m1 -3v1m3 40v1m4 -8v1m0 2v1m1 -38v1m3 -6v1m10 27v1m1 -22v1m6 31v1m1 -10v1m0 0v1m2 -30v1m0 27v1m1 -25v1m4 -6v1m7 20v1m9 11v1m13 -35v1m19 -2v1m13 0v1m24 4v1m0 12v1m14 -13v1m0 13v1"/>
<path stroke="#b4d2e6" d="M7.5 37v1m14 -25v1m0 23v1m7 -11v1m2 0v1m2 -12v1m16 -3v1m1 -11v1m1 2v1m8 16v1m0 12v1m4 2v1m3 -31v1m15 -3v1m3 4v1m7 -13v1m10 34v1m19 -2v1m3 -32v1m3 30v1m0 4v1"/>
<path stroke="#ffe6e6" d="M34.5 45v1m29 -18v1m31 -27v1m51 2v1m8 20v1m2 -15v1m4 3v1m12 -12v1m6 27v1m4 -10v1"/>
<path stroke="#d2e6fa" d="M5.5 18v1m4 4v1m0 1v1m10 -6v1m2 -16v1m1 38v1m3 -30v1m1 23v1m1 3v1m3 2v1m4 -19v1m9 8v1m1 -1v1m9 1v1m5 2v1m2 -37v1m2 2v1m6 16v1m0 20v1m2 -17v1m2 -25v1m12 0v1m0 37v1m13 -40v1m2 -6v1m5 8v1m3 28v1m6 -13v1m9 6v1m2 -2v1m1 10v1m2 -40v1m8 19v1m4 -3v1m8 0v1m2 -2v1m0 12v1m1 -13v1m13 -4v1m0 0v1m0 13v1m10 -29v1"/>
<path stroke="#bed2e6" d="M17.5 47v1m6 -38v1m2 34v1m1 -43v1m5 39v1m3 -38v1m7 14v1m9 21v1m2 -21v1m2 10v1m1 -30v1m4 36v1m3 -39v1m1 8v1m0 30v1m2 -30v1m6 2v1m0 9v1m1 11v1m1 -27v1m0 31v1m5 -44v1m5 18v1m1 -9v1m0 19v1m0 2v1m1 9v1m3 -31v1m2 -5v1m15 11v1m1 -24v1m2 37v1m0 3v1m1 -22v1m3 1v1m11 -18v1m2 2v1m2 -10v1m4 22v1m3 -10v1m0 21v1m15 -27v1m8 -4v1m18 14v1"/>
<path stroke="#aaaad2" d="M50.5 22v1m62 -21v1"/>
<path stroke="#a0c8e6" d="M4.5 20v1m31 -5v1m11 17v1m23 -14v1m50 -20v1"/>
<path stroke="#d2dcfa" d="M14.5 14v1m2 -6v1m6 0v1m2 4v1m2 3v1m44 12v1m2 9v1m2 -13v1m51 11v1m3 -36v1m5 -2v1m9 -5v1"/>
<path stroke="#f0c8c8" d="M82.5 47v1m2 -20v1m5 -1v1m5 -8v1m2 17v1m10 0v1m9 -31v1m8 24v1m1 7v1m20 -42v1m13 26v1m4 1v1m0 10v1m1 0v1m8 -19v1m4 -3v1m0 10v1"/>
<path stroke="#dcbec8" d="M63.5 15v1m8 17v1m23 -26v1m5 40v1m7 -31v1m2 1v1m5 4v1m3 22v1m2 -38v1m0 6v1m8 27v1m8 -39v1m0 11v1m16 -20v1m5 32v1m0 13v1m1 -18v1m2 3v1m3 -7v1m12 2v1"/>
<path stroke="#d2bee6" d="M19.5 22v1m20 25v1m11 -29v1m18 -11v1m52 34v1m5 1v1m31 -46v1"/>
<path stroke="#dcdcdc" d="M164.5 2v1"/>
<path stroke="#ff96a0" d="M136.5 26v1m7 -5v1m19 -9v1m0 32v1m3 -9v1m5 -38v1m0 44v1m0 0v1m8 -42v1m0 15v1m0 9v1m0 7v1m1 -23v1m0 23v1"/>
<path stroke="#ff8c8c" d="M152.5 40v1m18 4v1m2 -44v1"/>
<path stroke="#f0bec8" d="M63.5 7v1m9 18v1m2 -22v1m0 43v1m4 -5v1m1 -22v1m1 20v1m2 -6v1m10 -27v1m1 15v1m5 14v1m4 -24v1m4 -7v1m2 20v1m4 -8v1m2 -10v1m0 7v1m1 -14v1m0 10v1m0 8v1m0 11v1m1 -12v1m1 -4v1m0 5v1m4 2v1m5 -33v1m0 16v1m3 -13v1m2 22v1m1 -35v1m0 9v1m8 -11v1m2 11v1m7 -12v1m0 25v1m0 13v1m1 -12v1m3 -20v1m1 -12v1m0 18v1m0 15v1m1 -11v1m2 -20v1m1 21v1m0 1v1m1 3v1m2 -29v1m1 34v1m2 -30v1m0 24v1m0 6v1m1 -6v1m0 4v1m2 -37v1m1 6v1m0 2v1m0 13v1m0 0v1m0 6v1m2 -27v1m0 1v1m0 22v1m1 -34v1m0 16v1m3 -25v1m0 1v1m0 22v1m2 -28v1m0 12v1m0 11v1m0 19v1m2 -12v1m1 -9v1m1 -24v1m1 33v1"/>
<path stroke="#ff6e78" d="M170.5 41v1m9 -40v1"/>
<path stroke="#bed2dc" d="M35.5 17v1m18 22v1m16 1v1m112 -41v1"/>
<path stroke="#6eaaf0" d="M2.5 3v1m4 36v1m4 -13v1m1 18v1m12 -18v1m45 -10v1"/>
<path stroke="#8ca0f0" d="M0.5 38v1m1 -30v1m1 -4v1m0 14v1m4 -7v1m1 -13v1m6 3v1m6 7v1m1 26v1m22 -26v1m6 5v1m3 4v1m88 -12v1"/>
<path stroke="#bec8fa" d="M12.5 3v1m4 32v1m27 4v1m17 -33v1m4 21v1m61 -13v1"/>
<path stroke="#aac8e6" d="M5.5 11v1m19 36v1m13 -31v1m0 26v1m3 -43v1m0 7v1m4 12v1m4 -4v1m4 9v1m16 1v1m10 -12v1m59 16v1"/>
<path stroke="#c8dce6" d="M4.5 41v1m8 -21v1m8 -9v1m0 32v1m4 -4v1m4 -2v1m2 -28v1m2 24v1m2 2v1m11 -41v1m0 45v1m10 -38v1m4 31v1m14 -11v1m1 5v1m18 -15v1m1 -7v1m2 -11v1m0 3v1m2 4v1m1 24v1m9 -18v1m4 -7v1m2 -1v1m0 21v1m11 -8v1m3 -11v1m0 7v1m15 -22v1m4 -9v1m17 10v1m0 10v1m6 -14v1"/>
<path stroke="#8296e6" d="M54.5 3v1"/>
<path stroke="#8cc8f0" d="M9.5 19v1m7 -13v1m7 15v1m6 21v1m9 -15v1m2 -12v1m12 12v1m1 -26v1m5 -6v1m1 -1v1m6 19v1m42 7v1m18 -22v1"/>
<path stroke="#dcc8e6" d="M28.5 40v1m6 -34v1m5 30v1m32 -35v1m3 -2v1m10 32v1m19 11v1m17 -13v1m3 -25v1m10 18v1m4 14v1m3 1v1m1 -14v1m11 -31v1m8 40v1m7 -43v1m1 37v1m5 -13v1"/>
<path stroke="#aab4dc" d="M16.5 23v1m5 -1v1m6 -10v1m0 0v1m8 20v1m22 -21v1m5 28v1m8 3v1m6 -47v1m15 36v1m48 -3v1"/>
<path stroke="#c8b4c8" d="M70.5 29v1m4 -20v1m0 1v1m7 -10v1m57 -1v1m23 35v1m5 -33v1"/>
<path stroke="#e6b4c8" d="M90.5 48v1m3 -46v1m0 21v1m22 6v1m5 0v1m10 -30v1m4 35v1m2 -27v1m11 -2v1m4 -7v1m0 14v1m1 15v1m6 -8v1m6 15v1m2 -27v1m1 -1v1m1 -7v1m0 10v1m2 -9v1m1 11v1m6 17v1"/>
<path stroke="#dcf0f0" d="M28.5 47v1m4 -12v1m41 7v1m22 -42v1m23 24v1m45 -14v1m3 -11v1"/>
<path stroke="#dcb4c8" d="M18.5 22v1m67 12v1m3 -11v1m3 20v1m3 -16v1m2 -28v1m3 -2v1m0 36v1m12 -16v1m12 22v1m6 -18v1m25 -1v1m1 6v1m5 -25v1m4 0v1m4 2v1m2 -6v1m4 -4v1m7 -4v1"/>
<path stroke="#c8bee6" d="M4.5 25v1m31 8v1m12 -19v1m11 23v1m15 -37v1m3 43v1m16 -3v1m20 -15v1m10 -30v1m6 29v1m4 9v1m2 -15v1m1 18v1m7 -31v1"/>
<path stroke="#e6bed2" d="M55.5 46v1m17 -2v1m6 -37v1m2 19v1m7 14v1m8 -38v1m8 4v1m12 21v1m7 -7v1m7 20v1m1 -47v1m6 6v1m7 35v1m1 -33v1m2 -7v1m6 15v1m2 4v1m2 -11v1m1 7v1m2 -17v1m0 21v1m0 11v1m0 0v1m1 -32v1m1 16v1m7 -26v1m1 3v1m0 10v1m5 13v1"/>
<path stroke="#fabebe" d="M82.5 41v1m6 -16v1m1 -20v1m0 27v1m45 -1v1m4 1v1m6 -29v1m3 34v1m1 -42v1m0 33v1m3 6v1m2 -33v1m0 22v1m1 -20v1m4 10v1m2 -21v1m2 25v1m0 3v1m0 6v1m3 -15v1m3 0v1m0 17v1m9 -30v1m0 8v1m1 17v1m1 -26v1"/>
<path stroke="#ffa0a0" d="M110.5 12v1m37 26v1m0 1v1m4 -33v1m1 31v1m6 -39v1m7 6v1m15 -5v1m0 4v1"/>
<path stroke="#e6aac8" d="M169.5 3v1"/>
<path stroke="#ffaaaa" d="M148.5 22v1m2 4v1m11 17v1m4 -37v1m0 32v1m5 -34v1m0 5v1m0 16v1m0 10v1m2 -41v1m0 8v1m0 28v1m4 -9v1m3 -22v1m0 10v1m1 -15v1m0 35v1m1 -6v1"/>
<path stroke="#aaaae6" d="M2.5 45v1m18 -21v1m1 -22v1m49 25v1m35 3v1"/>
<path stroke="#beb4e6" d="M25.5 4v1m31 19v1m6 -8v1m21 1v1m44 18v1m1 -26v1m5 4v1m12 10v1m11 5v1"/>
<path stroke="#a0b4f0" d="M0.5 27v1m0 4v1m5 -9v1m2 13v1m3 -27v1m4 0v1m0 22v1m1 -18v1m1 -7v1m0 23v1m9 -8v1m2 8v1m9 9v1m6 -46v1m5 5v1m1 -1v1m2 6v1m1 8v1m8 -8v1m0 26v1m3 -23v1m0 6v1m2 5v1m1 -33v1m3 9v1m1 -11v1m4 32v1m12 -20v1m34 27v1"/>
<path stroke="#c8d2fa" d="M2.5 11v1m15 3v1m1 -2v1m16 33v1m4 -5v1m1 -37v1m0 37v1m6 -17v1m9 -22v1m10 30v1m1 -25v1m12 -13v1m20 42v1m1 -37v1m27 37v1m50 -35v1"/>
<path stroke="#dcbedc" d="M95.5 4v1m6 7v1m5 -4v1m2 19v1m1 13v1m15 -35v1m0 35v1m5 1v1m19 -12v1m11 -1v1m14 -2v1"/>
<path stroke="#dca0c8" d="M114.5 4v1"/>
<path stroke="#dcd2f0" d="M18.5 32v1m3 -11v1m13 -6v1m4 -12v1m1 32v1m22 -15v1m1 12v1m5 -12v1m7 -2v1m4 -21v1m21 24v1m3 -27v1m13 3v1m5 28v1m13 -35v1m1 3v1m12 36v1m3 2v1m1 -21v1m3 -9v1m20 2v1"/>
<path stroke="#fab4be" d="M89.5 32v1m1 -19v1m2 27v1m1 -28v1m5 32v1m5 -35v1m1 -3v1m7 30v1m6 0v1m11 -10v1m1 -9v1m2 -20v1m1 1v1m0 5v1m0 23v1m4 -37v1m2 35v1m2 -7v1m0 2v1m5 -16v1m0 12v1m0 8v1m2 1v1m6 -34v1m0 10v1m1 -12v1m2 12v1m0 3v1m0 17v1m1 -17v1m3 2v1m0 5v1m0 5v1m2 -39v1m0 14v1m2 15v1m3 -24v1m1 15v1m2 -27v1m2 15v1m2 -5v1m4 25v1m2 -11v1m0 8v1"/>
<path stroke="#ffe6f0" d="M73.5 22v1m65 -19v1m5 31v1m12 -6v1"/>
<path stroke="#d2b4d2" d="M20.5 45v1m10 -11v1m37 -23v1m12 35v1m13 -15v1m5 -7v1m5 -24v1m21 17v1m18 -21v1m5 33v1m8 -30v1m1 31v1m14 -26v1m4 -3v1"/>
<path stroke="#e6aabe" d="M103.5 20v1m47 8v1m1 -7v1m7 -20v1m20 41v1"/>
<path stroke="#ffc8c8" d="M80.5 22v1m1 -12v1m22 12v1m19 1v1m9 13v1m3 8v1m2 -15v1m2 11v1m3 -21v1m9 -21v1m4 30v1m0 4v1m4 -4v1m3 -14v1m1 4v1m3 -4v1m6 -26v1m0 9v1m1 -7v1m2 17v1m3 14v1m3 -32v1m0 22v1"/>
<path stroke="#dca0be" d="M154.5 12v1m17 2v1m5 -12v1m1 1v1"/>
<path stroke="#8ca0fa" d="M3.5 5v1"/>
<path stroke="#8caafa" d="M3.5 38v1m3 -34v1m2 39v1m2 -7v1m0 7v1m0 1v1m5 -21v1m5 -6v1m9 4v1m1 12v1m36 -28v1m0 25v1m20 4v1"/>
<path stroke="#6e8cfa" d="M8.5 5v1"/>
<path stroke="#bebef0" d="M13.5 31v1m6 -23v1m18 -4v1m10 30v1m6 -17v1m2 21v1m20 -28v1m1 -12v1m12 6v1m19 15v1m2 -22v1m19 15v1"/>
<path stroke="#f0c8dc" d="M77.5 5v1m12 31v1m51 -25v1"/>
<path stroke="#9696dc" d="M31.5 47v1m50 -43v1"/>
<path stroke="#beb4d2" d="M62.5 46v1m48 -42v1m0 9v1m3 31v1"/>
<path stroke="#dcb4be" d="M106.5 11v1m7 -7v1m18 -1v1m12 10v1m3 -7v1m5 5v1m13 -8v1"/>
<path stroke="#beb4f0" d="M31.5 40v1m108 -36v1"/>
<path stroke="#aaa0d2" d="M32.5 24v1m109 -20v1"/>
<path stroke="#dc96aa" d="M147.5 5v1"/>
<path stroke="#faaaaa" d="M114.5 28v1m16 -17v1m21 -8v1m1 42v1m19 -37v1m0 33v1m1 -33v1m0 25v1m7 1v1m1 -17v1m0 21v1"/>
<path stroke="#e6aab4" d="M52.5 30v1m30 -1v1m12 -20v1m12 21v1m9 -6v1m8 -2v1m17 -22v1m10 27v1m2 8v1m5 -39v1m0 41v1m1 -32v1m0 26v1m12 -7v1m2 -5v1m0 14v1m4 -6v1m5 -9v1m0 8v1"/>
<path stroke="#aab4d2" d="M98.5 18v1m65 -14v1"/>
<path stroke="#e696aa" d="M165.5 5v1m14 -1v1"/>
<path stroke="#96d2f0" d="M2.5 32v1m1 -27v1m10 22v1m9 -8v1m1 -2v1m10 -2v1m2 0v1m5 14v1m2 -8v1m15 8v1m9 0v1m7 -9v1m13 -7v1"/>
<path stroke="#5078f0" d="M8.5 32v1m3 -12v1m24 -16v1"/>
<path stroke="#e6c8e6" d="M58.5 6v1m12 9v1"/>
<path stroke="#c8aabe" d="M71.5 15v1m4 -10v1"/>
<path stroke="#d2b4dc" d="M74.5 17v1m8 -10v1m5 -3v1"/>
<path stroke="#a082c8" d="M139.5 6v1"/>
<path stroke="#dcc8f0" d="M143.5 6v1"/>
<path stroke="#ff9696" d="M145.5 6v1m9 11v1m16 -7v1m1 31v1m1 1v1"/>
<path stroke="#fa9696" d="M151.5 6v1m3 15v1"/>
<path stroke="#fa96a0" d="M152.5 7v1m1 -2v1m11 19v1m1 18v1m9 -19v1"/>
<path stroke="#e6a0aa" d="M117.5 41v1m45 -36v1m0 38v1m12 -1v1"/>
<path stroke="#ff8282" d="M160.5 33v1m10 6v1m8 -33v1m0 21v1m1 -25v1m0 40v1"/>
<path stroke="#82a0fa" d="M0.5 43v1m2 -37v1m4 21v1m5 -4v1m40 -8v1m0 11v1m32 -24v1m36 0v1m0 21v1"/>
<path stroke="#dcaab4" d="M18.5 7v1m67 18v1m65 21v1"/>
<path stroke="#aaa0dc" d="M12.5 26v1m18 -11v1m29 -4v1m33 -7v1"/>
<path stroke="#8cbee6" d="M107.5 7v1"/>
<path stroke="#6e82f0" d="M48.5 8v1m3 0v1"/>
<path stroke="#e6d2f0" d="M35.5 9v1m19 -2v1"/>
<path stroke="#a0dcf0" d="M68.5 8v1m59 23v1"/>
<path stroke="#96aafa" d="M13.5 12v1m4 10v1m1 1v1m44 6v1m7 -25v1m17 31v1"/>
<path stroke="#aabedc" d="M93.5 29v1m6 -22v1"/>
<path stroke="#f0bebe" d="M80.5 47v1m50 -2v1m6 -39v1m20 5v1m5 -2v1"/>
<path stroke="#96a0e6" d="M5.5 9v1m2 37v1m20 -31v1m82 24v1"/>
<path stroke="#788cf0" d="M11.5 9v1m16 -1v1m11 39v1"/>
<path stroke="#aab4fa" d="M4.5 40v1m18 -32v1m43 7v1"/>
<path stroke="#64a0f0" d="M3.5 15v1m20 -7v1m25 19v1m8 19v1m30 -33v1"/>
<path stroke="#a096dc" d="M33.5 9v1m36 21v1"/>
<path stroke="#5082f0" d="M38.5 9v1"/>
<path stroke="#5a78fa" d="M0.5 23v1m5 20v1m3 -26v1m3 -4v1m0 8v1m31 -17v1"/>
<path stroke="#aac8dc" d="M68.5 9v1"/>
<path stroke="#b4aad2" d="M70.5 9v1"/>
<path stroke="#b4e6f0" d="M17.5 21v1m1 16v1m10 6v1m44 -37v1m19 28v1"/>
<path stroke="#bea0c8" d="M104.5 9v1m57 23v1"/>
<path stroke="#fff0f0" d="M138.5 9v1"/>
<path stroke="#f0a0a0" d="M171.5 9v1"/>
<path stroke="#5a8cf0" d="M8.5 12v1m3 5v1m0 9v1m2 -19v1m20 13v1m7 0v1"/>
<path stroke="#8296fa" d="M8.5 16v1m0 10v1m0 1v1m7 -19v1m12 -2v1m6 11v1"/>
<path stroke="#bedce6" d="M30.5 24v1m9 -15v1m20 13v1m10 3v1m14 -8v1m7 0v1m85 11v1"/>
<path stroke="#d2bec8" d="M46.5 10v1m82 5v1m18 27v1m22 -29v1"/>
<path stroke="#c8aad2" d="M60.5 10v1m25 10v1m36 -8v1"/>
<path stroke="#ff7882" d="M170.5 10v1"/>
<path stroke="#d2aad2" d="M136.5 36v1m45 -27v1"/>
<path stroke="#a0aae6" d="M77.5 37v1m6 -27v1m63 25v1"/>
<path stroke="#ff8c96" d="M144.5 12v1m7 -1v1m0 28v1m19 -4v1m9 -28v1m0 4v1"/>
<path stroke="#8cb4fa" d="M2.5 18v1m3 -4v1m28 23v1m0 7v1m3 -2v1m1 -35v1m11 1v1"/>
<path stroke="#c8b4d2" d="M25.5 34v1m17 5v1m10 -21v1m9 -6v1m1 -2v1m13 -3v1m19 -1v1m16 28v1m14 -14v1m51 19v1"/>
<path stroke="#fa8c96" d="M165.5 12v1m13 36v1"/>
<path stroke="#d2aabe" d="M111.5 40v1m10 -1v1m23 -5v1m24 -25v1m9 21v1"/>
<path stroke="#f0b4b4" d="M144.5 21v1m8 -2v1m2 -1v1m17 4v1m1 -10v1m2 -5v1"/>
<path stroke="#8ca0e6" d="M1.5 13v1m32 28v1"/>
<path stroke="#8c96e6" d="M12.5 13v1m41 22v1"/>
<path stroke="#96b4fa" d="M2.5 31v1m3 -11v1m2 17v1m3 -20v1m3 -8v1m28 24v1m3 -3v1m31 10v1m8 -14v1"/>
<path stroke="#96b4e6" d="M12.5 31v1m3 -19v1m33 26v1m1 -24v1m7 11v1m3 7v1m27 -2v1"/>
<path stroke="#beaabe" d="M44.5 13v1"/>
<path stroke="#d2a0be" d="M89.5 13v1m43 32v1m4 -34v1"/>
<path stroke="#f0aaaa" d="M147.5 26v1m1 -14v1m6 31v1m3 2v1m13 -3v1"/>
<path stroke="#e6bebe" d="M159.5 13v1"/>
<path stroke="#dcaabe" d="M81.5 36v1m81 -24v1m9 4v1"/>
<path stroke="#dcaac8" d="M137.5 32v1m27 -20v1m4 8v1"/>
<path stroke="#d296aa" d="M129.5 45v1m48 -33v1"/>
<path stroke="#e6b4d2" d="M132.5 18v1m19 -5v1"/>
<path stroke="#f08c8c" d="M165.5 14v1"/>
<path stroke="#f0828c" d="M179.5 14v1"/>
<path stroke="#3c64fa" d="M10.5 15v1"/>
<path stroke="#b4aadc" d="M32.5 15v1m5 13v1m53 -12v1m2 18v1m63 -17v1"/>
<path stroke="#b4dcfa" d="M23.5 16v1m3 19v1m25 -12v1m17 -9v1"/>
<path stroke="#96c8e6" d="M13.5 42v1m9 -4v1m5 -24v1"/>
<path stroke="#a0a0dc" d="M41.5 16v1m31 4v1"/>
<path stroke="#d2c8f0" d="M35.5 24v1m44 23v1m18 -13v1m12 -21v1"/>
<path stroke="#d2b4be" d="M130.5 16v1"/>
<path stroke="#dce6e6" d="M129.5 25v1m45 -10v1"/>
<path stroke="#f07882" d="M178.5 16v1"/>
<path stroke="#8296f0" d="M4.5 17v1m1 28v1m1 -9v1"/>
<path stroke="#faf0fa" d="M49.5 42v1m11 -14v1m27 -13v1m38 20v1m28 -9v1"/>
<path stroke="#e6d2d2" d="M105.5 47v1m33 -31v1m7 7v1m30 18v1"/>
<path stroke="#e6c8c8" d="M119.5 29v1m24 -13v1"/>
<path stroke="#a0bedc" d="M21.5 18v1"/>
<path stroke="#aabed2" d="M24.5 18v1"/>
<path stroke="#b4befa" d="M2.5 19v1m8 22v1m37 -25v1"/>
<path stroke="#8c96f0" d="M57.5 18v1"/>
<path stroke="#aaaadc" d="M30.5 19v1m42 9v1m13 -3v1"/>
<path stroke="#f0fafa" d="M59.5 43v1m37 -25v1m2 1v1"/>
<path stroke="#c8bef0" d="M104.5 19v1"/>
<path stroke="#fa828c" d="M178.5 19v1"/>
<path stroke="#a0aadc" d="M26.5 20v1m42 17v1"/>
<path stroke="#96b4dc" d="M6.5 23v1m66 -4v1"/>
<path stroke="#b496d2" d="M80.5 20v1"/>
<path stroke="#e6a0b4" d="M103.5 35v1m0 1v1m29 -18v1m0 24v1m15 1v1m15 -21v1"/>
<path stroke="#c8b4e6" d="M112.5 27v1m43 -8v1"/>
<path stroke="#e6b4b4" d="M179.5 20v1"/>
<path stroke="#7882e6" d="M38.5 21v1"/>
<path stroke="#fafafa" d="M45.5 21v1"/>
<path stroke="#a0a0e6" d="M37.5 46v1m55 -26v1"/>
<path stroke="#dcaad2" d="M133.5 21v1"/>
<path stroke="#f0bed2" d="M154.5 21v1"/>
<path stroke="#ff828c" d="M170.5 30v1m1 -9v1m1 -1v1m0 12v1m7 2v1m0 6v1m1 -6v1"/>
<path stroke="#82aafa" d="M8.5 28v1m30 -6v1m2 0v1m3 9v1m26 -3v1"/>
<path stroke="#c8a0c8" d="M70.5 23v1"/>
<path stroke="#c8a0b4" d="M89.5 23v1"/>
<path stroke="#be8cc8" d="M100.5 23v1"/>
<path stroke="#be96be" d="M166.5 23v1"/>
<path stroke="#aad2fa" d="M66.5 47v1m109 -25v1"/>
<path stroke="#96a0fa" d="M17.5 24v1"/>
<path stroke="#82a0e6" d="M0.5 48v1m3 -24v1m9 18v1"/>
<path stroke="#5a78f0" d="M5.5 25v1"/>
<path stroke="#6e96fa" d="M8.5 25v1"/>
<path stroke="#8c8ce6" d="M12.5 25v1"/>
<path stroke="#b496be" d="M63.5 25v1"/>
<path stroke="#beaac8" d="M50.5 30v1m60 -6v1"/>
<path stroke="#8c78d2" d="M4.5 26v1"/>
<path stroke="#8cb4e6" d="M6.5 26v1"/>
<path stroke="#a0b4fa" d="M10.5 26v1m31 0v1"/>
<path stroke="#96bee6" d="M5.5 31v1m42 -6v1"/>
<path stroke="#fa7882" d="M161.5 26v1"/>
<path stroke="#dc8c96" d="M172.5 26v1"/>
<path stroke="#b4bed2" d="M24.5 27v1"/>
<path stroke="#a0aafa" d="M3.5 43v1m30 -16v1m7 -2v1"/>
<path stroke="#8caae6" d="M0.5 28v1"/>
<path stroke="#e68296" d="M151.5 28v1"/>
<path stroke="#5a5ae6" d="M40.5 29v1"/>
<path stroke="#dcdcfa" d="M27.5 33v1m51 -5v1"/>
<path stroke="#8cd2f0" d="M98.5 29v1"/>
<path stroke="#788ce6" d="M26.5 30v1"/>
<path stroke="#828ce6" d="M51.5 30v1"/>
<path stroke="#f0b4c8" d="M132.5 30v1m20 14v1m26 -8v1"/>
<path stroke="#faa0a0" d="M152.5 30v1"/>
<path stroke="#d2d2fa" d="M22.5 33v1"/>
<path stroke="#beaae6" d="M66.5 33v1"/>
<path stroke="#506efa" d="M3.5 34v1m8 -1v1"/>
<path stroke="#506ef0" d="M8.5 34v1"/>
<path stroke="#6482fa" d="M51.5 34v1"/>
<path stroke="#dca0b4" d="M138.5 34v1m21 0v1"/>
<path stroke="#8c96d2" d="M38.5 35v1"/>
<path stroke="#beaadc" d="M54.5 36v1m18 4v1m40 -6v1"/>
<path stroke="#648cfa" d="M69.5 36v1"/>
<path stroke="#d2a0c8" d="M89.5 36v1m10 4v1"/>
<path stroke="#646ee6" d="M23.5 37v1"/>
<path stroke="#aaa0f0" d="M29.5 37v1"/>
<path stroke="#c8c8d2" d="M96.5 37v1"/>
<path stroke="#828cf0" d="M51.5 38v1"/>
<path stroke="#b4aac8" d="M60.5 38v1"/>
<path stroke="#e6a0be" d="M180.5 38v1"/>
<path stroke="#466ef0" d="M51.5 39v1"/>
<path stroke="#8c96dc" d="M26.5 40v1"/>
<path stroke="#ff7878" d="M178.5 40v1"/>
<path stroke="#9696f0" d="M23.5 41v1"/>
<path stroke="#a0c8fa" d="M7.5 43v1m38 1v1m12 -5v1"/>
<path stroke="#e6fafa" d="M81.5 42v1"/>
<path stroke="#d2aac8" d="M67.5 46v1m5 -1v1m22 -5v1m60 3v1"/>
<path stroke="#78a0fa" d="M3.5 44v1"/>
<path stroke="#aad2e6" d="M97.5 44v1"/>
<path stroke="#a0a0d2" d="M112.5 44v1"/>
<path stroke="#f09696" d="M154.5 44v1"/>
<path stroke="#e68c96" d="M87.5 46v1"/>
<path stroke="#d2a0b4" d="M110.5 47v1"/>
<path stroke="#a08cdc" d="M5.5 49v1"/>
<path stroke="#78bef0" d="M12.5 49v1"/>
<path stroke="#b496c8" d="M86.5 49v1"/>
</g>
<g transform="rotate(0.3 638.1 96.3)" font-size="3.1" fill="#666" stroke="#666" stroke-width="0.12">
<text x="632.1" y="18.62">FAM172A</text>
<text x="632.1" y="21.84">FAM168B</text>
<text x="632.1" y="25.06">TMEM145</text>
<text x="632.1" y="28.27">LINC0136</text>
<text x="632.1" y="31.49">LTN1</text>
<text x="632.1" y="34.70">ATXN7</text>
<text x="632.1" y="37.92">ZNF644</text>
<text x="632.1" y="41.14">MED1</text>
<text x="632.1" y="44.35">SH3PXD2A</text>
<text x="632.1" y="47.57">PDE4D</text>
<text x="632.1" y="50.78">NR2C2</text>
<text x="632.1" y="54.00">DIP2B</text>
<text x="632.1" y="57.22">ATF7</text>
<text x="632.1" y="60.43">RBM14L</text>
<text x="632.1" y="63.65">CSF1</text>
<text x="632.1" y="66.86">USP33</text>
<text x="632.1" y="70.08">SHPRH</text>
<text x="632.1" y="73.30">CCDC88</text>
<text x="632.1" y="76.51">TBC1D14</text>
<text x="632.1" y="79.73">CYP20A1</text>
<text x="632.1" y="82.94">PRKAR2</text>
<text x="632.1" y="86.16">RBM8</text>
<text x="632.1" y="89.38">DCAF8</text>
<text x="632.1" y="92.59">KIF5B</text>
<text x="632.1" y="95.81">SOX6</text>
<text x="632.1" y="99.02">LONP2</text>
<text x="632.1" y="102.24">PTPN21</text>
<text x="632.1" y="105.46">MLL</text>
<text x="632.1" y="108.67">PPM1K</text>
<text x="632.1" y="111.89">ZHX1</text>
<text x="632.1" y="115.10">RNF38</text>
<text x="632.1" y="118.32">RPS6K</text>
<text x="632.1" y="121.54">SOCS5</text>
<text x="632.1" y="124.75">SRRM2</text>
<text x="632.1" y="127.97">NRIP1</text>
<text x="632.1" y="131.18">NELFA</text>
<text x="632.1" y="134.40">BAZ2B</text>
<text x="632.1" y="137.62">FBXL3</text>
<text x="632.1" y="140.83">MSI2</text>
<text x="632.1" y="144.05">ACVR2B</text>
<text x="632.1" y="147.26">CCNK</text>
<text x="632.1" y="150.48">ZFAT</text>
<text x="632.1" y="153.70">TMBIM</text>
<text x="632.1" y="156.91">EXT1L</text>
<text x="632.1" y="160.13">MARK3</text>
<text x="632.1" y="163.34">MAP3K2</text>
<text x="632.1" y="166.56">SMAD4</text>
<text x="632.1" y="169.78">CTNNBP1</text>
<text x="632.1" y="172.99">KDM4A</text>
<text x="632.1" y="176.21">ZFP106</text>
</g>
<text x="650.0" y="80.5" font-size="4.8" font-weight="bold" fill="#111" stroke="#111" stroke-width="0.18">Z-Score</text>
<text x="670.9" y="80.5" font-size="4.8" font-weight="bold" fill="#111" stroke="#111" stroke-width="0.18">Group</text>
<rect x="650.3" y="82.7" width="5.0" height="5.0" fill="#ff0000"/>
<text x="657.3" y="87.0" font-size="5.0" fill="#111" stroke="#111" stroke-width="0.18">&gt;3</text>
<rect x="671.1" y="82.7" width="5.0" height="5.0" fill="#ff0000"/>
<text x="677.5" y="87.0" font-size="5.0" fill="#111" stroke="#111" stroke-width="0.18">4</text>
<rect x="650.3" y="88.1" width="5.0" height="5.0" fill="#ffc0cb"/>
<text x="657.3" y="92.4" font-size="5.0" fill="#111" stroke="#111" stroke-width="0.18">1</text>
<rect x="671.1" y="88.1" width="5.0" height="5.0" fill="#ff7f50"/>
<text x="677.5" y="92.4" font-size="5.0" fill="#111" stroke="#111" stroke-width="0.18">2</text>
<text x="657.3" y="97.8" font-size="5.0" fill="#111" stroke="#111" stroke-width="0.18">0</text>
<text x="677.5" y="97.8" font-size="5.0" fill="#111" stroke="#111" stroke-width="0.18">0</text>
<rect x="650.3" y="98.9" width="5.0" height="5.0" fill="#87ceeb"/>
<text x="657.3" y="103.2" font-size="5.0" fill="#111" stroke="#111" stroke-width="0.18">-1</text>
<rect x="671.1" y="98.9" width="5.0" height="5.0" fill="#8c64ff"/>
<text x="677.5" y="103.2" font-size="5.0" fill="#111" stroke="#111" stroke-width="0.18">-2</text>
<rect x="650.3" y="104.3" width="5.0" height="5.0" fill="#0000ff"/>
<text x="657.3" y="108.6" font-size="5.0" fill="#111" stroke="#111" stroke-width="0.18">&lt;-3</text>
<rect x="671.1" y="104.3" width="5.0" height="5.0" fill="#0000ff"/>
<text x="677.5" y="108.6" font-size="5.0" fill="#111" stroke="#111" stroke-width="0.18">-4</text>
<rect x="42.6" y="218.4" width="135.0" height="113.3" fill="none" stroke="#999" stroke-width="1.15"/>
<line x1="64.5" y1="331.7" x2="64.5" y2="335.3" stroke="#666" stroke-width="0.8"/>
<text x="64.5" y="345.0" text-anchor="middle" font-size="5.8" fill="#1a1a1a" stroke="#1a1a1a" stroke-width="0.18">8</text>
<line x1="87.2" y1="331.7" x2="87.2" y2="335.3" stroke="#666" stroke-width="0.8"/>
<text x="87.2" y="345.0" text-anchor="middle" font-size="5.8" fill="#1a1a1a" stroke="#1a1a1a" stroke-width="0.18">10</text>
<line x1="110.0" y1="331.7" x2="110.0" y2="335.3" stroke="#666" stroke-width="0.8"/>
<text x="110.0" y="345.0" text-anchor="middle" font-size="5.8" fill="#1a1a1a" stroke="#1a1a1a" stroke-width="0.18">12</text>
<line x1="132.8" y1="331.7" x2="132.8" y2="335.3" stroke="#666" stroke-width="0.8"/>
<text x="132.8" y="345.0" text-anchor="middle" font-size="5.8" fill="#1a1a1a" stroke="#1a1a1a" stroke-width="0.18">14</text>
<line x1="155.5" y1="331.7" x2="155.5" y2="335.3" stroke="#666" stroke-width="0.8"/>
<text x="155.5" y="345.0" text-anchor="middle" font-size="5.8" fill="#1a1a1a" stroke="#1a1a1a" stroke-width="0.18">16</text>
<line x1="39.0" y1="326.3" x2="42.6" y2="326.3" stroke="#666" stroke-width="0.8"/>
<text x="34.5" y="326.3" text-anchor="middle" font-size="5.8" fill="#1a1a1a" transform="rotate(-90 34.5 326.3)" stroke="#1a1a1a" stroke-width="0.18">4</text>
<line x1="39.0" y1="311.0" x2="42.6" y2="311.0" stroke="#666" stroke-width="0.8"/>
<text x="34.5" y="311.0" text-anchor="middle" font-size="5.8" fill="#1a1a1a" transform="rotate(-90 34.5 311.0)" stroke="#1a1a1a" stroke-width="0.18">6</text>
<line x1="39.0" y1="295.7" x2="42.6" y2="295.7" stroke="#666" stroke-width="0.8"/>
<text x="34.5" y="295.7" text-anchor="middle" font-size="5.8" fill="#1a1a1a" transform="rotate(-90 34.5 295.7)" stroke="#1a1a1a" stroke-width="0.18">8</text>
<line x1="39.0" y1="280.3" x2="42.6" y2="280.3" stroke="#666" stroke-width="0.8"/>
<text x="34.5" y="280.3" text-anchor="middle" font-size="5.8" fill="#1a1a1a" transform="rotate(-90 34.5 280.3)" stroke="#1a1a1a" stroke-width="0.18">10</text>
<line x1="39.0" y1="265.0" x2="42.6" y2="265.0" stroke="#666" stroke-width="0.8"/>
<text x="34.5" y="265.0" text-anchor="middle" font-size="5.8" fill="#1a1a1a" transform="rotate(-90 34.5 265.0)" stroke="#1a1a1a" stroke-width="0.18">12</text>
<line x1="39.0" y1="249.7" x2="42.6" y2="249.7" stroke="#666" stroke-width="0.8"/>
<text x="34.5" y="249.7" text-anchor="middle" font-size="5.8" fill="#1a1a1a" transform="rotate(-90 34.5 249.7)" stroke="#1a1a1a" stroke-width="0.18">14</text>
<line x1="39.0" y1="234.4" x2="42.6" y2="234.4" stroke="#666" stroke-width="0.8"/>
<text x="34.5" y="234.4" text-anchor="middle" font-size="5.8" fill="#1a1a1a" transform="rotate(-90 34.5 234.4)" stroke="#1a1a1a" stroke-width="0.18">16</text>
<line x1="39.0" y1="219.1" x2="42.6" y2="219.1" stroke="#666" stroke-width="0.8"/>
<text x="34.5" y="219.1" text-anchor="middle" font-size="5.8" fill="#1a1a1a" transform="rotate(-90 34.5 219.1)" stroke="#1a1a1a" stroke-width="0.18">18</text>
<text x="110.1" y="359.0" text-anchor="middle" font-size="5.8" fill="#1a1a1a" stroke="#1a1a1a" stroke-width="0.18">IFI6</text>
<text x="21.0" y="276.3" text-anchor="middle" font-size="5.8" fill="#1a1a1a" transform="rotate(-90 21.0 276.3)" stroke="#1a1a1a" stroke-width="0.18">IFIT1</text>
<text x="110.2" y="198.3" text-anchor="middle" font-size="7.1" font-weight="bold" fill="#000" stroke="#000" stroke-width="0.2">Spearman-Correlation:0.8931</text>
<text x="110.2" y="207.0" text-anchor="middle" font-size="7.1" font-weight="bold" fill="#000" stroke="#000" stroke-width="0.2">P-value:0e+00</text>
<text x="110.2" y="215.6" text-anchor="middle" font-size="7.1" font-weight="bold" fill="#000" stroke="#000" stroke-width="0.2">Sample Size:(N=1081)</text>
<polyline points="47.4,313.4 173.1,248.2 56.5,312.3 59.9,306.1 62.2,310.8 63.4,302.4 158.9,255.5 161.2,250.5 61.1,331.1 64.5,307.4 108.8,280.0 133.1,266.8 91.9,284.9 131.6,265.6 98.8,289.3 108.6,280.3 128.8,270.5 80.0,293.8 123.8,273.2 143.4,254.4 141.6,262.5 102.8,291.2 131.6,268.9 71.3,309.9 106.2,283.3 120.7,271.6 77.9,306.1 108.0,275.9 151.2,260.4 133.8,268.8 128.6,266.1 129.8,268.1 87.1,305.4 81.1,302.9 76.3,293.3 122.9,265.3 128.0,274.0 94.3,291.7 80.7,291.1 116.2,278.9 117.5,272.1 106.9,292.4 140.3,270.2 107.8,285.8 108.4,276.4 83.5,295.5 113.2,282.4 142.2,264.6 111.5,278.3 111.7,279.1 120.4,278.1 116.6,283.2 122.7,257.7 122.8,283.6 124.8,272.0 91.0,286.6 117.2,273.3 71.7,301.4 116.4,274.1 79.9,293.8 108.3,279.0 121.3,280.8 100.1,293.0 112.3,272.3 70.8,301.1 89.5,289.9 126.4,263.3 82.4,292.2 125.5,274.4 76.8,299.5 88.3,293.0 83.8,301.6 110.2,280.7 122.8,266.8 84.5,298.1 105.7,277.0 148.7,254.8 102.4,293.4 90.5,296.6 119.2,279.8 104.7,279.9 93.2,294.6 67.1,305.5 129.5,268.0 96.4,282.3 110.0,278.5 84.6,297.6 141.1,266.8 127.9,268.5 133.4,271.8 107.4,287.1 121.2,275.7 131.3,275.1 134.4,267.6 117.5,279.1 108.5,286.1 101.4,287.6 92.1,285.0 86.9,295.9 118.6,276.1 104.2,276.6 99.7,284.0 106.3,281.1 135.4,265.4 103.4,287.8 65.7,312.5 107.0,272.5 128.8,273.9 114.8,284.2 99.8,287.1 154.2,253.4 155.4,249.1 107.6,257.1 129.4,273.0 119.4,276.2 128.7,267.6 144.7,253.9 129.6,263.4 112.1,279.2 94.4,284.1 90.6,282.8 109.4,279.1 137.7,269.0 117.2,252.2 111.3,265.9 116.1,273.2 110.9,275.5 123.1,271.4 83.2,295.5 121.3,268.2 99.8,280.3 82.6,296.8 148.6,254.9 106.2,290.4 104.0,262.0 73.3,295.3 116.7,289.6 95.1,295.0 136.8,258.8 130.1,262.4 91.5,289.3 119.8,271.3 128.2,271.6 93.9,278.3 139.8,260.7 128.9,264.8 114.2,284.2 109.3,275.1 76.1,296.1 77.5,294.7 115.3,277.4 152.1,259.3 108.3,269.6 125.0,260.5 124.4,266.0 132.7,265.7 89.2,290.2 97.4,286.3 111.1,274.9 85.5,288.9 80.6,293.7 88.9,276.2 108.3,272.4 118.9,280.1 109.4,277.8 111.8,270.4 93.7,288.1 92.8,300.2 136.8,255.0 108.7,276.6 108.0,282.3 132.4,271.0 139.6,260.7 140.4,256.9 119.7,268.4 108.8,279.4 116.9,292.8 114.3,279.2 143.4,265.7 117.0,269.8 125.2,262.4 109.3,279.7 142.8,266.0 96.8,294.2 119.1,280.1 128.0,264.3 82.3,293.1 87.5,287.3 106.4,280.0 106.2,271.5 84.2,292.4 131.0,261.9 115.4,291.7 95.9,285.6 115.4,269.9 126.4,262.9 139.0,268.0 115.2,278.2 87.0,301.9 96.7,280.2 131.3,270.6 92.5,287.0 127.6,268.9 121.1,274.2 107.4,280.3 101.8,278.2 147.9,253.5 116.7,270.2 131.7,270.6 119.4,263.9 94.0,289.3 147.2,259.5 80.4,299.0 81.4,294.7 99.7,284.7 92.6,304.9 96.7,288.9 95.7,292.1 133.6,268.1 111.3,280.2 118.4,277.3 72.1,310.5 89.8,280.6 135.9,264.4 81.2,291.4 138.2,256.1 85.4,297.7 117.1,267.0 89.8,296.0 114.7,298.7 88.5,289.3 103.9,278.4 150.0,267.4 101.0,288.3 158.7,255.3 99.0,268.5 81.9,287.0 111.8,276.8 100.2,284.5 152.0,243.6 130.6,273.1 138.2,266.9 125.1,266.5 113.5,277.0 129.0,273.7 122.7,276.9 90.2,291.6 88.3,296.1 114.4,269.9 133.8,268.4 136.7,257.4 87.5,294.0 122.7,270.9 114.6,278.6 83.3,298.1 122.2,258.6 93.8,284.2 116.3,283.9 91.9,294.5 85.6,306.2 110.4,280.0 112.6,286.6 92.0,289.7 128.1,270.0 85.1,280.6 109.2,286.5 101.5,287.9 101.0,292.0 114.6,275.5 121.6,256.9 139.4,264.5 129.9,269.0 96.5,290.7 143.8,255.2 139.8,255.4 72.8,296.1 125.9,268.3 129.7,261.4 133.1,263.8 123.1,270.6 79.0,297.3 103.6,277.2 87.9,291.6 106.2,278.1 158.5,253.1 126.3,264.9 130.0,245.9 97.7,283.4 85.7,295.5 84.4,287.7 113.0,285.3 90.8,289.8 94.8,286.1 137.3,264.3 70.8,302.3 78.6,290.9 97.8,283.6 107.6,282.0 106.9,280.0 76.6,307.2 114.6,280.2 106.9,291.4 118.5,274.4 84.1,282.6 115.9,276.2 115.3,276.0 94.2,287.1 104.8,290.4 96.7,287.1 142.4,264.7 126.5,272.6 75.4,307.1 69.3,294.1 101.0,284.5 93.8,284.4 100.2,280.5 127.2,284.5 71.0,303.7 89.8,290.5 104.7,275.9 81.3,291.5 118.8,280.5 117.9,276.0 93.0,283.1 67.7,299.5 148.2,254.5 121.3,267.8 120.1,267.2 111.7,281.2 109.8,275.4 129.9,269.7 109.6,279.6 94.9,286.7 126.9,266.3 111.4,279.5 91.5,282.8 88.4,305.6 137.8,264.6 125.1,255.4 157.2,249.0 97.4,285.9 92.2,282.8 119.6,261.1 143.0,257.1 124.3,273.9 120.3,287.1 155.1,251.5 92.2,294.4 80.2,305.9 92.2,288.4 102.4,285.7 118.9,268.8 134.4,273.2 119.7,264.2 146.4,261.9 90.2,290.3 155.5,252.0 90.6,292.0 138.0,271.6 87.6,295.6 118.2,276.4 111.2,279.8 122.4,276.7 127.9,279.1 104.9,283.7 108.4,281.9 115.7,276.5 78.8,287.2 92.5,287.8 71.2,302.9 110.1,282.8 107.3,274.0 127.7,265.4 89.3,293.9 93.1,285.5 133.3,271.2 98.7,285.0 71.6,292.9 85.6,290.4 84.8,290.0 85.6,294.8 126.1,257.0 111.7,274.0 74.4,275.4 97.1,292.5 82.8,298.7 81.1,292.5 74.0,301.6 151.7,257.9 102.7,292.1 123.8,262.6 130.8,258.4 100.8,260.2 122.8,287.7 122.9,260.7 115.3,279.3 107.6,281.0 116.8,268.9 104.5,285.3 125.4,273.6 152.5,260.0 133.8,267.6 98.6,290.0 89.5,290.2 87.8,289.5 94.2,285.9 119.2,271.9 130.2,270.9 109.7,277.8 109.6,285.2 83.6,301.7 126.3,273.3 131.8,271.8 91.4,290.6 99.3,285.9 87.3,298.4 119.3,271.3 71.5,300.2 83.1,284.8 93.6,281.3 139.3,266.2 68.4,297.0 110.5,278.4 80.6,296.4 111.8,273.4 89.2,300.5 121.0,294.9 83.4,290.8 101.2,282.6 109.7,275.5 122.4,268.7 108.2,275.5 140.2,258.4 113.0,278.3 66.7,304.0 132.1,260.4 103.0,287.6 94.0,288.7 146.0,256.0 86.3,307.3 111.7,274.8 93.0,282.0 142.3,277.6 101.3,303.4 115.6,268.8 76.7,296.5 144.3,259.8 84.5,287.1 131.7,276.4 136.6,255.7 139.4,258.7 153.3,253.5 82.0,289.9 119.6,270.4 113.3,280.1 120.0,285.2 136.2,260.3 112.6,286.9 90.5,282.8 107.7,282.8 146.8,252.3 81.8,285.2 111.9,287.5 86.6,302.6 136.5,249.9 70.6,301.4 101.9,273.8 107.0,281.8 112.8,282.4 77.1,297.3 147.1,255.8 85.4,299.2 103.2,283.0 81.5,286.4 111.3,288.0 74.2,305.2 114.9,275.0 122.8,273.6 82.2,294.5 120.4,277.4 103.6,280.2 126.9,278.2 100.8,299.0 131.5,262.6 123.5,262.9 82.0,292.2 144.5,267.7 115.1,275.8 127.4,277.2 140.1,264.9 86.7,298.6 108.0,273.1 90.4,290.1 87.5,288.0 116.4,284.8 118.1,285.8 141.8,264.6 143.1,257.1 109.5,273.0 90.0,297.9 152.7,244.7 122.9,272.3 107.5,268.3 87.8,285.4 99.9,275.6 116.7,277.2 137.0,265.9 133.2,277.5 120.4,281.2 104.1,274.3 114.0,279.0 102.6,282.9 111.7,268.2 107.5,282.1 122.5,272.3 143.0,257.0 101.7,289.0 103.0,285.2 83.0,299.5 105.9,266.6 84.8,295.4 94.1,286.4 103.1,274.4 104.0,272.7 96.3,295.1 136.4,264.2 114.8,272.5 117.7,264.3 115.6,278.2 94.0,292.2 88.9,295.2 130.1,269.0 101.6,285.9 67.7,317.1 140.1,257.8 115.3,273.5 92.4,285.3 108.4,265.2 96.9,286.5 100.3,279.2 105.9,283.7 80.2,300.1 109.6,276.7 133.6,256.7 126.6,273.4 68.4,303.6 78.0,302.6 78.2,293.1 104.1,271.1 130.4,280.0 117.7,275.5 68.1,300.1 111.3,278.0 129.3,265.6 99.3,293.4 155.5,254.7 94.4,285.7 138.0,268.1 106.6,278.3 79.5,282.5 102.3,280.5 123.7,274.2 129.6,263.1 67.3,318.4 123.5,267.2 116.8,285.0 99.9,268.2 90.1,284.8 97.4,294.8 102.8,282.0 79.7,296.7 147.6,251.0 83.5,295.7 99.8,285.0 94.2,296.6 100.1,285.4 112.2,282.0 91.9,295.4 104.4,276.8 151.2,241.2 135.2,268.9 103.1,283.2 131.7,264.7 91.6,293.2 115.4,277.0 75.9,299.1 82.7,305.0 89.3,294.9 139.6,250.2 115.5,267.0 123.1,263.0 113.6,273.2 118.8,265.5 120.0,274.0 128.3,269.1 113.9,285.4 88.1,296.5 91.1,286.4 139.0,262.1 143.7,261.4 123.4,275.8 70.7,304.0 147.6,242.5 117.7,271.9 108.2,273.3 110.5,275.2 101.1,290.1 152.0,255.9 150.2,263.3 84.6,293.8 105.5,282.2 117.2,276.0 140.5,271.2 114.9,274.5 132.2,263.4 149.8,258.4 102.0,287.3 108.8,273.3 139.7,266.5 118.8,269.9 77.8,302.1 81.8,294.5 85.0,287.2 75.8,303.0 109.5,276.1 97.2,282.4 110.6,277.3 126.5,264.8 152.4,255.5 114.8,280.3 66.7,308.7 142.9,265.4 106.8,277.4 137.5,266.6 98.9,284.8 116.9,277.6 106.4,270.1 109.0,274.0 140.1,263.2 93.9,279.4 113.5,276.6 114.9,274.6 100.3,272.0 109.0,273.8 117.9,282.3 112.1,277.6 73.6,303.0 98.6,285.9 119.9,271.4 130.2,267.4 129.4,266.8 123.9,270.4 100.9,287.4 138.7,263.8 103.2,288.3 136.4,255.9 132.9,264.6 86.8,286.4 95.8,287.7 109.6,274.1 113.7,280.1 129.1,270.2 133.3,260.0 128.5,269.9 97.3,284.3 144.4,259.9 96.5,286.9 131.3,277.0 108.2,261.8 109.2,271.6 105.9,283.4 109.1,279.4 136.2,263.7 144.1,267.4 143.8,258.5 131.4,269.4 125.6,267.9 120.4,276.5 151.7,262.7 99.1,287.1 94.5,284.8 110.8,273.9 69.7,292.9 104.0,281.0 108.2,284.3 85.1,285.1 95.8,288.0 126.2,269.7 104.1,295.7 111.4,285.4 134.4,268.3 94.9,279.8 82.3,288.9 108.6,284.4 119.8,259.5 66.3,303.2 125.3,274.8 102.1,282.8 99.7,281.7 89.1,290.2 105.2,293.5 132.7,256.1 122.3,273.7 129.1,276.8 101.0,283.4 147.8,253.1 140.2,262.5 109.3,284.9 153.6,269.3 111.2,283.6 104.8,288.7 108.5,284.8 85.4,292.1 150.6,256.3 95.1,283.3 121.6,275.6 128.1,264.4 74.7,296.7 112.9,271.6 138.4,268.0 102.0,282.7 125.5,281.8 109.4,281.6 134.5,266.5 154.1,251.9 83.7,293.4 103.1,293.1 119.4,268.7 94.8,293.4 90.2,289.4 101.6,288.0 103.5,274.0 94.3,284.7 117.8,283.4 129.3,262.6 127.8,289.5 126.2,290.7 138.5,256.4 77.3,292.9 107.2,278.0 114.5,270.9 122.6,282.7 71.4,301.5 154.9,246.2 88.7,297.3 116.3,278.0 127.6,264.6 136.0,264.4 93.6,295.2 97.1,287.7 118.9,271.5 124.0,270.4 131.8,266.8 108.7,272.3 93.4,290.4 78.1,311.8 151.7,254.9 77.2,306.9 126.8,267.3 116.7,270.8 128.3,267.3 132.8,268.7 142.3,259.7 108.7,274.7 119.6,279.9 125.6,278.4 111.2,277.8 88.4,296.3 106.4,284.0 139.7,265.9 112.6,262.0 136.2,269.3 105.3,281.1 119.7,280.5 100.2,281.2 129.6,265.9 93.1,298.7 103.8,283.5 113.9,279.9 110.2,279.0 107.1,285.2 132.8,264.8 125.1,274.0 100.6,293.1 131.0,267.9 87.3,287.9 103.4,276.1 106.6,274.8 141.3,264.1 97.4,283.6 75.0,303.7 114.4,274.0 150.7,259.8 105.2,281.7 107.9,278.3 105.4,285.6 111.5,302.1 141.4,261.5 157.2,256.3 121.5,277.1 107.8,274.4 154.6,250.5 112.7,274.0 111.9,275.5 101.8,275.9 102.8,288.0 116.1,281.9 103.5,284.3 120.3,262.8 112.6,275.1 123.6,262.6 101.3,289.8 105.6,286.0 116.2,273.7 112.0,263.7 112.8,272.3 138.3,266.0 84.8,305.2 119.4,268.2 127.7,266.9 104.6,277.3 142.6,262.8 108.3,268.0 82.5,287.5 120.8,281.1 119.9,275.5 99.6,276.1 92.4,283.1 123.8,272.3 94.2,286.4 119.7,270.7 138.2,264.4 77.2,296.0 101.8,295.3 121.8,272.0 150.0,250.3 132.5,266.7 99.5,278.3 145.2,251.5 101.7,271.9 106.4,280.3 119.3,260.0 84.1,285.7 138.2,259.7 138.9,264.6 115.5,272.2 96.7,284.5 82.6,295.8 119.1,267.4 126.8,265.4 100.7,286.9 105.6,277.7 123.5,267.4 108.8,277.0 65.9,304.2 126.1,266.7 116.0,268.1 127.6,253.0 92.1,289.4 141.0,255.1 80.4,291.2 117.3,273.9 159.8,250.3 135.6,265.3 117.4,285.0 75.3,290.4 102.1,278.3 120.8,277.0 120.6,281.7 112.4,280.4 142.1,261.4 88.7,289.0 93.7,290.6 89.2,286.3 82.4,291.8 129.6,260.2 105.7,280.5 76.0,296.6 124.9,270.7 134.2,273.0 111.4,282.8 114.7,273.8 134.6,261.7 122.4,280.7 93.4,288.9 124.2,274.7 132.3,261.2 118.3,266.1 131.0,270.7 124.1,267.2 104.5,283.6 106.6,281.2 124.8,278.0 96.9,291.6 137.6,260.5 139.2,256.4 137.7,264.4 108.4,284.5 92.1,293.5 94.9,288.1 113.5,279.6 106.0,287.9 123.6,252.5 117.7,267.4 118.9,280.3 91.3,286.5 101.7,280.9 144.9,254.6 112.8,281.0 151.1,259.3 96.6,287.1 138.2,264.3 129.9,263.6 100.0,280.5 130.3,267.3 113.6,282.3 134.3,261.1 89.1,294.1 96.7,285.7 94.4,285.8 122.2,276.5 121.1,268.9 107.1,271.0 103.7,292.6 103.1,287.6 112.1,280.4 87.4,295.7 108.7,274.2 106.6,275.1 97.1,300.0 96.4,276.1 145.3,264.5 95.4,287.3 119.9,266.2 142.7,259.0 127.7,261.1 110.5,278.2 134.2,272.3 76.0,299.7 80.6,300.9 100.6,281.6 104.8,279.5 107.7,283.5 154.9,244.7 150.3,255.4 109.1,268.0 116.1,278.3 88.4,299.0 117.6,273.0 78.0,292.0 143.5,256.5 97.6,284.7 123.3,276.3 78.8,293.6 143.3,262.6 124.6,274.5 156.8,244.6 111.6,271.5 71.3,305.2 91.3,288.8 80.0,293.8 147.7,242.5 95.1,284.9 92.0,286.2 124.2,275.5 116.4,276.8 121.8,276.4 98.0,278.9 130.4,260.8 77.5,300.1 140.3,253.1 140.6,252.3 131.8,270.5 101.1,280.5 124.9,262.4 126.1,272.7 125.2,278.6 122.7,278.0 131.1,266.9 112.0,274.1 113.7,284.3 123.3,258.7 140.2,266.0 124.3,261.4 116.6,276.8 114.2,286.7 89.0,301.6 96.9,291.5 113.4,267.2 128.5,270.2 108.0,283.3 129.6,257.7 136.1,258.5 140.8,262.6 149.4,252.6 117.0,271.1 115.2,276.6 94.8,283.8 122.7,274.3 104.3,285.6 81.9,288.5 138.8,266.7 127.1,266.5 97.1,285.3 103.8,285.2 104.8,282.4 77.9,302.9 139.5,242.0 114.5,279.7 123.9,273.0 132.7,262.7 142.4,259.2 103.7,276.6 125.3,272.8 116.4,279.9 129.6,283.0 123.7,277.6 144.6,242.9 123.3,273.4 98.9,292.7 113.3,285.6 83.1,293.5 118.1,266.7 146.7,239.3 95.9,284.3 70.7,291.0 108.5,272.3 98.3,272.8 110.4,287.0 96.2,289.8 112.3,280.0 85.9,290.6 147.8,262.2 105.0,283.0 122.8,268.6 128.7,280.1 106.8,285.0 121.3,276.9 104.5,277.5 99.7,284.8 105.1,283.0 122.2,273.2 80.0,290.5 88.7,293.1 91.2,281.3 96.9,285.3 138.3,261.2 109.7,281.2 103.1,286.5 114.0,272.2 136.0,267.5 92.5,289.7 135.1,269.0 85.0,284.0 89.3,291.0 146.0,256.0 148.0,270.6 115.3,286.8 100.5,288.2 130.6,249.3 101.0,294.0 148.0,253.2 139.2,266.1 129.3,263.4 90.7,285.6 134.3,266.3 105.0,284.0 105.4,281.5 100.9,280.7 108.2,278.5 123.1,271.9 131.5,263.9 131.5,268.1 107.1,268.2 103.1,282.9 139.2,260.9 95.5,291.1 106.8,280.9 83.6,292.6 140.5,267.5 117.8,275.9" fill="none" stroke="none" marker-start="url(#pt)" marker-mid="url(#pt)" marker-end="url(#pt)"/>
<line x1="42.6" y1="317.8" x2="177.6" y2="239.9" stroke="#e41a1a" stroke-width="0.8"/>
<rect x="223.6" y="217.2" width="137.6" height="115.3" fill="none" stroke="#999" stroke-width="1.15"/>
<line x1="245.9" y1="332.5" x2="245.9" y2="336.1" stroke="#666" stroke-width="0.8"/>
<text x="245.9" y="346.0" text-anchor="middle" font-size="5.8" fill="#1a1a1a" stroke="#1a1a1a" stroke-width="0.18">8</text>
<line x1="269.0" y1="332.5" x2="269.0" y2="336.1" stroke="#666" stroke-width="0.8"/>
<text x="269.0" y="346.0" text-anchor="middle" font-size="5.8" fill="#1a1a1a" stroke="#1a1a1a" stroke-width="0.18">10</text>
<line x1="292.2" y1="332.5" x2="292.2" y2="336.1" stroke="#666" stroke-width="0.8"/>
<text x="292.2" y="346.0" text-anchor="middle" font-size="5.8" fill="#1a1a1a" stroke="#1a1a1a" stroke-width="0.18">12</text>
<line x1="315.3" y1="332.5" x2="315.3" y2="336.1" stroke="#666" stroke-width="0.8"/>
<text x="315.3" y="346.0" text-anchor="middle" font-size="5.8" fill="#1a1a1a" stroke="#1a1a1a" stroke-width="0.18">14</text>
<line x1="338.5" y1="332.5" x2="338.5" y2="336.1" stroke="#666" stroke-width="0.8"/>
<text x="338.5" y="346.0" text-anchor="middle" font-size="5.8" fill="#1a1a1a" stroke="#1a1a1a" stroke-width="0.18">16</text>
<line x1="220.0" y1="318.1" x2="223.6" y2="318.1" stroke="#666" stroke-width="0.8"/>
<text x="215.0" y="318.1" text-anchor="middle" font-size="5.8" fill="#1a1a1a" transform="rotate(-90 215.0 318.1)" stroke="#1a1a1a" stroke-width="0.18">5</text>
<line x1="220.0" y1="282.2" x2="223.6" y2="282.2" stroke="#666" stroke-width="0.8"/>
<text x="215.0" y="282.2" text-anchor="middle" font-size="5.8" fill="#1a1a1a" transform="rotate(-90 215.0 282.2)" stroke="#1a1a1a" stroke-width="0.18">10</text>
<line x1="220.0" y1="246.3" x2="223.6" y2="246.3" stroke="#666" stroke-width="0.8"/>
<text x="215.0" y="246.3" text-anchor="middle" font-size="5.8" fill="#1a1a1a" transform="rotate(-90 215.0 246.3)" stroke="#1a1a1a" stroke-width="0.18">15</text>
<text x="292.3" y="360.3" text-anchor="middle" font-size="5.8" fill="#1a1a1a" stroke="#1a1a1a" stroke-width="0.18">IFI6</text>
<text x="200.6" y="275.0" text-anchor="middle" font-size="5.8" fill="#1a1a1a" transform="rotate(-90 200.6 275.0)" stroke="#1a1a1a" stroke-width="0.18">ISG15</text>
<text x="292.0" y="196.7" text-anchor="middle" font-size="7.25" font-weight="bold" fill="#000" stroke="#000" stroke-width="0.2">Spearman-Correlation:0.8984</text>
<text x="292.0" y="205.5" text-anchor="middle" font-size="7.25" font-weight="bold" fill="#000" stroke="#000" stroke-width="0.2">P-value:0e+00</text>
<text x="292.0" y="214.2" text-anchor="middle" font-size="7.25" font-weight="bold" fill="#000" stroke="#000" stroke-width="0.2">Sample Size:(N=1081)</text>
<polyline points="228.5,313.8 356.4,251.9 237.8,311.3 241.3,310.2 243.6,308.9 244.7,306.5 341.9,250.9 344.2,249.6 242.4,311.6 245.9,322.3 290.9,275.9 315.7,262.8 273.7,290.5 314.1,269.4 280.8,291.8 290.7,274.8 311.3,276.2 261.6,303.8 306.2,271.4 326.2,259.0 324.3,257.9 284.9,293.7 314.1,277.3 252.8,295.2 288.3,281.7 303.1,274.1 259.5,289.2 290.2,282.5 334.1,256.9 316.4,270.6 311.1,272.1 312.3,267.2 268.9,292.2 262.8,300.7 257.9,299.9 305.3,270.3 310.4,270.9 276.2,281.3 262.3,304.4 298.4,279.4 299.8,275.0 289.0,282.0 323.0,266.6 289.9,289.6 290.6,277.8 265.3,291.1 295.5,277.9 324.9,265.4 293.7,275.3 293.9,281.6 302.7,263.9 298.9,281.4 305.1,273.9 305.2,268.7 307.2,275.7 272.9,286.0 299.5,271.3 253.2,306.2 298.7,279.5 261.5,306.8 290.4,275.6 303.7,277.7 282.1,278.5 294.6,271.3 252.3,296.9 271.4,289.3 308.9,274.3 264.1,291.9 308.0,273.9 258.4,318.5 270.1,285.1 265.6,295.4 292.4,277.3 305.2,266.3 266.3,302.5 287.8,288.3 331.6,261.2 284.5,275.1 272.4,281.7 301.6,280.7 286.7,279.8 275.1,283.0 248.5,314.5 312.1,269.1 278.3,290.5 292.2,271.7 266.3,298.1 323.8,258.2 310.4,275.8 316.0,278.0 289.5,282.6 303.5,268.5 313.8,270.0 317.0,271.5 299.8,293.8 290.7,295.3 283.4,281.9 274.0,291.2 268.7,290.4 300.9,278.0 286.2,280.0 281.7,279.6 288.4,282.0 318.0,262.9 285.5,280.6 247.1,318.0 289.2,258.7 311.3,265.8 297.1,281.0 281.8,284.9 337.1,265.9 338.3,254.2 289.8,280.2 311.9,257.6 301.7,280.5 311.2,264.2 327.5,252.2 312.1,259.4 294.3,283.8 276.3,289.4 272.5,290.2 291.6,282.3 320.3,269.3 299.5,287.5 293.5,274.4 298.4,275.6 293.0,275.1 305.5,274.1 264.9,298.6 303.7,271.3 281.9,280.3 264.3,292.7 331.4,265.9 288.3,275.0 286.0,281.1 254.8,300.9 299.0,275.5 277.0,285.5 319.4,263.7 312.6,269.5 273.3,288.8 302.2,277.9 310.7,269.1 275.8,268.9 322.5,264.1 311.4,270.6 296.4,281.4 291.5,263.3 257.7,315.0 259.1,306.2 297.6,277.3 335.0,259.8 290.5,289.7 307.5,272.3 306.8,269.8 315.3,270.4 271.1,294.7 279.3,286.3 293.3,277.8 267.2,294.0 262.3,293.8 270.7,289.9 290.5,285.2 301.3,277.5 291.6,285.4 294.1,271.5 275.6,287.7 274.7,291.3 319.4,261.3 290.8,277.5 290.2,285.4 314.9,271.2 322.3,258.6 323.1,269.8 302.0,279.5 291.0,286.4 299.2,274.7 296.5,269.9 326.1,253.4 299.3,272.4 307.7,274.2 291.5,286.6 325.5,267.6 278.7,286.0 301.4,281.7 310.5,266.6 264.0,298.6 269.3,295.9 288.5,283.3 288.3,279.8 266.0,294.2 313.5,270.1 297.6,279.1 277.8,290.3 297.7,274.0 308.9,275.2 321.7,265.1 297.4,285.7 268.7,300.1 278.7,295.5 313.9,268.5 274.4,296.1 310.1,275.5 303.5,270.9 289.6,279.1 283.9,284.6 330.7,256.1 299.0,259.5 314.3,262.3 301.8,277.7 275.9,294.0 330.0,264.4 262.1,301.1 263.1,293.0 281.8,288.6 274.5,289.4 278.6,285.7 277.6,290.2 316.2,265.5 293.5,283.0 300.7,267.8 253.6,294.3 271.6,280.3 318.5,256.7 262.9,292.8 320.8,261.1 267.1,295.0 299.5,277.8 271.6,288.9 297.0,276.1 270.3,299.9 285.9,283.9 332.8,252.2 283.1,284.6 341.7,249.2 281.0,288.3 263.6,294.3 294.0,277.6 282.2,288.5 334.9,254.5 313.1,279.1 320.9,267.5 307.5,272.7 295.7,286.0 311.5,271.0 305.1,280.9 272.0,300.4 270.1,286.6 296.7,281.7 316.4,257.8 319.3,258.2 269.2,293.6 305.1,268.6 296.9,299.7 265.0,294.9 304.6,273.2 275.7,289.8 298.6,279.9 273.8,286.6 267.4,309.6 292.6,272.0 294.8,279.4 273.8,295.8 310.6,267.2 266.9,296.8 291.3,278.7 283.6,283.7 283.0,272.7 296.8,279.8 303.9,268.7 322.1,261.2 312.4,267.4 278.5,285.9 326.6,258.2 322.5,266.2 254.3,302.2 308.3,274.5 312.2,261.6 315.7,272.4 305.5,270.7 260.7,298.2 285.7,291.5 269.7,284.1 288.3,277.1 341.5,256.4 308.7,268.4 312.5,263.4 279.7,282.1 267.5,298.0 266.2,298.5 295.2,277.4 272.7,281.8 276.7,279.5 320.0,267.9 252.3,311.0 260.3,295.2 279.8,286.2 289.8,279.4 289.0,294.2 258.2,297.3 296.9,269.9 289.0,282.2 300.8,261.3 265.9,284.6 298.1,278.4 297.5,272.6 276.1,290.4 286.9,287.6 278.7,285.0 325.1,259.8 309.0,289.1 257.0,298.0 250.7,313.9 283.0,283.1 275.7,277.7 282.2,284.0 309.6,277.3 252.5,291.1 271.6,284.5 286.8,288.7 263.0,304.9 301.2,266.9 300.2,273.4 274.9,282.1 249.1,305.7 331.1,265.4 303.6,270.2 302.5,268.6 293.9,278.5 292.0,286.3 312.4,278.7 291.8,295.1 276.9,286.4 309.4,268.3 293.6,280.8 273.4,289.5 270.2,302.2 320.5,270.5 307.5,264.5 340.2,248.4 279.4,296.0 274.1,287.6 302.0,267.5 325.7,269.5 306.7,268.6 302.7,264.3 338.0,250.1 274.1,283.9 261.9,297.4 274.1,289.2 284.5,297.9 301.3,274.5 317.0,268.0 302.0,272.6 329.2,253.9 272.1,295.6 338.5,255.1 272.5,299.4 320.6,260.7 269.4,290.8 300.5,277.4 293.4,289.2 304.8,271.1 310.4,277.2 287.0,278.9 290.6,277.3 298.0,281.1 260.5,296.5 274.4,291.4 252.7,299.3 292.3,278.6 289.4,282.3 310.2,277.3 271.2,287.6 275.0,288.3 315.9,276.0 280.7,285.7 253.1,304.0 267.3,282.3 266.6,287.0 267.4,292.6 308.6,274.8 293.9,287.5 256.0,299.0 279.1,278.2 264.5,296.9 262.8,292.2 255.6,306.2 334.6,250.1 284.7,297.1 306.2,271.9 313.3,272.4 282.8,281.4 305.2,274.3 305.3,273.2 297.6,272.2 289.8,270.4 299.1,268.5 286.6,279.9 307.9,269.9 335.4,255.7 316.3,260.6 280.6,283.5 271.3,290.4 269.6,301.0 276.1,289.7 301.6,269.4 312.7,262.8 291.9,279.8 291.7,293.2 265.3,293.8 308.8,266.2 314.4,262.9 273.3,291.1 281.3,283.6 269.1,274.3 301.7,274.2 253.1,301.5 264.8,290.4 275.5,282.7 322.0,253.7 249.9,304.1 292.7,285.3 262.3,290.6 294.0,290.7 271.1,286.4 303.4,267.8 265.1,303.7 283.2,280.7 291.8,276.7 304.8,275.6 290.3,282.2 322.9,268.4 295.2,276.7 248.1,296.7 314.6,274.9 285.1,281.4 275.9,290.3 328.8,251.4 268.0,302.6 293.9,270.7 274.9,296.1 325.0,264.2 283.3,281.5 297.9,276.6 258.4,303.2 327.0,255.7 266.2,302.0 314.3,257.3 319.2,252.4 322.1,263.9 336.3,253.3 263.7,304.0 301.9,269.1 295.5,265.7 302.4,275.5 318.9,269.9 294.8,275.2 272.3,290.3 289.8,272.9 329.6,264.1 263.5,300.5 294.1,284.5 268.3,288.6 319.1,261.9 252.1,298.7 283.9,261.4 289.2,286.0 295.0,277.3 258.7,295.4 330.0,264.5 267.2,298.6 285.3,275.5 263.2,285.7 293.6,266.0 255.8,300.7 297.1,283.0 305.2,273.9 263.9,286.1 302.8,267.7 285.7,291.4 309.3,261.0 282.8,285.0 314.0,266.9 305.9,270.7 263.7,302.0 327.3,264.9 297.3,279.6 309.9,278.4 322.8,263.1 268.5,289.4 290.1,283.0 272.2,292.2 269.3,295.2 298.6,283.2 300.4,283.0 324.5,260.5 325.8,261.5 291.7,277.3 271.8,282.0 335.6,256.7 305.3,267.0 289.6,279.2 269.6,292.7 281.9,295.7 299.0,272.6 319.7,271.9 315.7,264.5 302.8,277.8 286.2,282.3 296.3,272.1 284.6,264.1 293.9,268.1 289.7,274.5 304.9,271.1 325.7,262.8 283.8,277.3 285.1,301.5 264.7,295.2 288.0,278.8 266.6,299.4 276.0,283.0 285.1,279.7 286.0,273.5 278.2,278.2 319.0,271.4 297.1,271.4 300.0,264.1 297.8,274.0 275.9,293.8 270.7,289.3 312.6,266.7 283.6,287.3 249.1,306.4 322.8,260.9 297.6,266.9 274.3,292.8 290.5,289.1 278.9,289.3 282.3,284.2 288.0,279.3 261.9,290.5 291.7,282.5 316.1,259.1 309.1,267.7 249.9,299.1 259.6,299.3 259.8,297.7 286.2,278.9 312.9,272.7 300.0,277.9 249.6,305.5 293.5,278.4 311.8,272.4 281.3,292.4 338.4,262.7 276.4,290.1 320.7,265.0 288.7,287.5 261.2,290.2 284.3,280.8 306.1,269.2 312.1,263.5 248.7,298.9 305.9,271.2 299.1,271.3 281.9,289.7 271.9,303.7 279.4,283.6 284.8,280.8 261.3,298.7 330.5,257.9 265.2,303.4 281.8,284.6 276.1,289.0 282.1,284.3 294.4,273.3 273.8,312.6 286.4,275.4 334.1,258.3 317.8,260.8 285.2,283.4 314.2,265.8 273.5,289.2 297.7,286.1 257.5,294.4 264.4,297.7 271.1,290.4 322.2,265.7 297.8,279.2 305.5,276.0 295.9,284.8 301.1,272.3 302.4,272.7 310.8,256.2 296.1,277.2 269.9,310.6 273.0,293.2 321.7,263.2 326.5,262.0 305.8,261.7 252.2,310.1 330.5,265.1 300.0,275.3 290.4,282.4 292.7,272.0 283.1,273.5 334.9,252.9 333.1,258.2 266.3,297.8 287.6,285.4 299.6,283.9 323.2,264.9 297.2,277.5 314.8,270.3 332.7,255.9 284.1,286.4 290.9,275.7 322.4,262.4 301.1,281.4 259.5,304.7 263.5,290.8 266.8,298.1 257.4,304.4 291.7,281.3 279.2,290.0 292.8,277.0 309.0,276.7 335.3,255.5 297.1,273.8 248.2,297.4 325.7,256.8 288.9,279.6 320.2,271.4 280.8,308.6 299.2,275.3 288.5,281.2 291.2,279.5 322.8,259.1 275.8,281.4 295.8,276.1 297.1,273.2 282.3,291.3 291.2,276.1 300.2,273.4 294.3,282.1 255.2,299.0 280.6,290.4 302.2,282.7 312.7,279.7 311.9,264.9 306.3,274.0 282.9,287.5 321.4,273.2 285.3,292.6 319.1,261.6 315.5,272.8 268.6,289.1 277.8,296.5 291.7,287.1 295.9,275.8 311.6,259.9 315.9,258.4 311.0,265.2 279.2,282.8 327.2,252.1 278.5,285.3 313.9,248.5 290.4,275.1 291.3,276.3 288.0,285.7 291.3,279.0 318.9,266.7 326.8,258.4 326.6,260.9 313.9,263.8 308.1,276.4 302.8,274.0 334.6,250.6 281.1,281.6 276.4,289.2 293.0,285.2 251.2,302.3 286.0,268.5 290.4,276.5 266.8,295.6 277.8,301.7 308.7,266.5 286.2,273.6 293.7,277.9 317.0,256.9 276.9,288.8 264.0,296.4 290.8,286.6 302.1,271.5 247.7,292.9 307.8,267.7 284.2,285.2 281.7,294.4 270.9,291.9 287.3,268.4 315.3,261.8 304.7,281.0 311.6,268.0 283.0,279.5 330.6,251.1 322.9,256.0 291.5,282.9 336.5,249.1 293.4,283.6 286.9,287.2 290.6,269.6 267.1,300.5 333.5,263.9 277.0,294.5 304.0,274.1 310.6,277.8 256.2,295.3 295.1,283.7 321.1,267.8 284.1,284.3 308.0,266.6 291.5,271.7 317.1,252.4 337.1,258.1 265.4,301.4 285.1,276.6 301.7,271.1 276.7,284.1 272.0,311.6 283.7,295.5 285.5,284.1 276.2,290.7 300.1,266.2 311.8,270.0 310.3,285.8 308.7,272.0 321.2,265.1 259.0,291.1 289.3,282.3 296.8,278.0 305.0,277.6 252.9,290.2 337.9,258.1 270.5,295.9 298.6,277.1 310.1,275.6 318.6,258.5 275.5,285.8 279.0,289.6 301.2,278.7 306.5,269.5 314.3,277.0 290.8,286.7 275.3,291.8 259.8,303.7 334.6,253.1 258.8,299.4 309.2,282.1 299.0,276.0 310.8,251.4 315.4,265.0 325.0,260.4 290.8,294.6 301.9,272.3 308.0,262.0 293.4,272.8 270.2,285.4 288.5,277.8 322.3,265.1 294.9,269.3 318.8,261.6 287.4,278.9 302.0,283.1 282.2,288.9 312.2,264.9 275.0,290.8 285.8,278.3 296.1,279.9 292.4,269.3 289.2,287.3 315.4,268.3 307.5,273.6 282.7,289.8 313.5,268.1 269.1,288.3 285.5,278.4 288.8,264.0 324.0,267.3 279.3,286.3 256.6,295.6 296.7,288.9 333.5,252.5 287.3,291.6 290.0,273.3 287.5,280.4 293.7,275.6 324.1,264.8 340.2,252.1 303.9,277.3 289.9,278.4 337.5,253.7 294.9,275.2 294.1,268.8 283.8,273.5 284.9,282.0 298.4,269.3 285.6,284.8 302.7,276.6 294.8,277.4 306.1,271.5 283.3,279.3 287.7,280.1 298.5,277.4 294.2,280.9 295.0,278.5 321.0,260.0 266.5,292.5 301.7,272.4 310.2,260.2 286.7,280.6 325.4,257.9 290.5,275.4 264.2,293.3 303.1,267.7 302.3,272.2 281.6,288.5 274.3,293.4 306.2,266.6 276.1,290.4 302.0,262.8 320.8,261.6 258.8,311.1 283.9,285.0 304.2,276.9 332.9,255.5 315.1,263.8 281.5,289.6 328.0,256.6 283.8,285.9 288.5,284.0 301.7,265.5 265.9,303.9 320.9,265.5 321.6,240.4 297.8,269.3 278.6,282.1 264.3,287.4 301.5,288.1 309.3,264.4 282.7,288.8 287.7,275.7 305.9,282.0 290.9,286.5 247.3,295.7 308.6,267.8 298.3,281.4 310.1,274.3 274.0,300.8 323.7,256.7 262.0,299.0 299.6,274.6 342.9,255.2 318.2,266.8 299.7,265.3 256.9,299.7 284.2,282.1 303.2,279.0 302.9,267.2 294.6,277.0 324.8,255.6 270.5,282.2 275.6,282.2 271.0,289.2 264.1,298.1 312.1,268.6 287.8,284.5 257.6,296.4 307.3,275.6 316.8,262.9 293.6,274.0 297.0,287.0 317.2,270.1 304.8,266.4 275.3,291.8 306.6,269.3 314.9,268.4 300.6,273.7 313.5,261.7 306.5,270.6 286.5,273.6 288.7,289.5 307.2,265.4 278.8,284.5 320.2,263.2 321.9,266.5 320.3,265.0 290.6,280.3 274.0,288.8 276.8,278.5 295.8,276.0 288.1,273.8 306.0,268.0 300.1,279.3 301.2,274.1 273.2,295.5 283.8,269.0 327.7,259.7 295.0,275.4 334.0,255.0 278.6,264.3 320.9,257.1 312.4,269.2 282.0,285.2 312.8,281.2 295.9,282.6 316.9,272.6 271.0,276.8 278.6,293.1 276.3,286.0 304.5,278.2 303.4,268.8 289.2,281.4 285.8,278.4 285.1,288.6 294.3,283.2 269.2,294.7 290.8,290.0 288.7,284.9 279.1,281.4 278.4,284.1 328.1,260.7 277.3,286.7 302.2,277.4 325.4,257.4 310.2,263.6 292.7,285.6 316.8,260.2 257.6,303.3 262.3,288.0 282.6,283.6 286.9,278.3 289.9,286.9 337.9,251.5 333.2,252.1 291.3,280.2 298.4,285.5 270.2,291.7 300.0,277.6 259.6,295.3 326.2,261.7 279.6,289.1 305.7,282.7 260.5,302.0 326.0,264.3 307.1,274.8 339.8,259.0 293.9,278.8 252.8,301.6 273.1,286.7 261.7,294.6 330.5,267.2 277.0,296.8 273.9,289.0 306.7,267.0 298.7,253.1 304.2,273.0 280.0,287.6 312.9,265.8 259.2,296.2 322.9,257.5 323.3,270.4 314.3,277.3 283.1,281.7 307.4,265.6 308.6,267.3 307.7,267.2 305.1,265.6 313.7,269.8 294.2,282.4 296.0,280.7 305.7,280.2 322.9,258.2 306.7,276.6 298.9,271.3 296.4,284.0 270.8,287.1 278.9,289.5 295.7,276.5 311.0,272.9 290.2,278.4 312.1,256.9 318.7,274.7 323.6,259.1 332.3,253.3 299.3,275.6 297.5,279.8 276.7,301.2 305.1,267.6 286.4,278.9 263.6,289.7 321.5,265.7 309.6,268.0 279.1,287.5 285.9,268.7 286.9,282.3 259.6,308.6 322.2,269.0 296.8,275.7 306.3,271.2 315.3,260.9 325.1,252.2 285.7,288.1 307.8,264.3 298.7,279.5 312.1,274.3 306.1,269.5 327.4,254.9 305.7,272.0 280.9,297.0 295.5,277.5 264.8,296.9 300.4,275.1 329.6,264.0 277.8,280.0 252.2,295.1 290.7,290.5 280.2,272.9 292.6,285.5 278.1,295.9 294.5,281.9 267.7,294.8 330.6,252.2 287.1,296.4 305.2,273.5 311.2,278.4 288.9,280.0 303.7,272.9 286.6,275.9 281.7,284.5 287.2,283.7 304.6,280.3 261.7,288.8 270.5,297.6 273.0,285.5 278.8,293.3 320.9,266.9 291.9,273.7 285.2,279.5 296.2,261.4 318.6,262.3 274.4,288.4 317.7,264.5 266.7,292.0 271.1,293.1 328.8,250.5 330.8,260.2 297.6,275.5 282.5,283.1 313.1,269.7 283.0,275.3 330.8,263.0 321.9,257.5 311.9,263.8 272.5,299.6 316.9,266.6 287.1,279.6 287.5,275.5 282.9,289.5 290.4,272.2 305.5,267.7 314.0,273.1 314.1,263.9 289.2,288.4 285.1,280.2 321.8,253.7 277.4,283.9 288.9,291.4 265.3,298.4 323.2,261.6 300.1,278.7" fill="none" stroke="none" marker-start="url(#pt)" marker-mid="url(#pt)" marker-end="url(#pt)"/>
<line x1="223.6" y1="317.8" x2="361.2" y2="241.0" stroke="#e41a1a" stroke-width="0.8"/>
<rect x="399.8" y="218.5" width="138.7" height="115.8" fill="none" stroke="#999" stroke-width="1.15"/>
<line x1="422.5" y1="334.3" x2="422.5" y2="337.9" stroke="#666" stroke-width="0.8"/>
<text x="422.5" y="347.4" text-anchor="middle" font-size="5.8" fill="#1a1a1a" stroke="#1a1a1a" stroke-width="0.18">8</text>
<line x1="445.8" y1="334.3" x2="445.8" y2="337.9" stroke="#666" stroke-width="0.8"/>
<text x="445.8" y="347.4" text-anchor="middle" font-size="5.8" fill="#1a1a1a" stroke="#1a1a1a" stroke-width="0.18">10</text>
<line x1="469.1" y1="334.3" x2="469.1" y2="337.9" stroke="#666" stroke-width="0.8"/>
<text x="469.1" y="347.4" text-anchor="middle" font-size="5.8" fill="#1a1a1a" stroke="#1a1a1a" stroke-width="0.18">12</text>
<line x1="492.4" y1="334.3" x2="492.4" y2="337.9" stroke="#666" stroke-width="0.8"/>
<text x="492.4" y="347.4" text-anchor="middle" font-size="5.8" fill="#1a1a1a" stroke="#1a1a1a" stroke-width="0.18">14</text>
<line x1="515.7" y1="334.3" x2="515.7" y2="337.9" stroke="#666" stroke-width="0.8"/>
<text x="515.7" y="347.4" text-anchor="middle" font-size="5.8" fill="#1a1a1a" stroke="#1a1a1a" stroke-width="0.18">16</text>
<line x1="396.2" y1="315.3" x2="399.8" y2="315.3" stroke="#666" stroke-width="0.8"/>
<text x="391.2" y="315.3" text-anchor="middle" font-size="5.8" fill="#1a1a1a" transform="rotate(-90 391.2 315.3)" stroke="#1a1a1a" stroke-width="0.18">6</text>
<line x1="396.2" y1="296.0" x2="399.8" y2="296.0" stroke="#666" stroke-width="0.8"/>
<text x="391.2" y="296.0" text-anchor="middle" font-size="5.8" fill="#1a1a1a" transform="rotate(-90 391.2 296.0)" stroke="#1a1a1a" stroke-width="0.18">8</text>
<line x1="396.2" y1="276.6" x2="399.8" y2="276.6" stroke="#666" stroke-width="0.8"/>
<text x="391.2" y="276.6" text-anchor="middle" font-size="5.8" fill="#1a1a1a" transform="rotate(-90 391.2 276.6)" stroke="#1a1a1a" stroke-width="0.18">10</text>
<line x1="396.2" y1="257.3" x2="399.8" y2="257.3" stroke="#666" stroke-width="0.8"/>
<text x="391.2" y="257.3" text-anchor="middle" font-size="5.8" fill="#1a1a1a" transform="rotate(-90 391.2 257.3)" stroke="#1a1a1a" stroke-width="0.18">12</text>
<line x1="396.2" y1="237.9" x2="399.8" y2="237.9" stroke="#666" stroke-width="0.8"/>
<text x="391.2" y="237.9" text-anchor="middle" font-size="5.8" fill="#1a1a1a" transform="rotate(-90 391.2 237.9)" stroke="#1a1a1a" stroke-width="0.18">14</text>
<line x1="396.2" y1="218.6" x2="399.8" y2="218.6" stroke="#666" stroke-width="0.8"/>
<text x="391.2" y="218.6" text-anchor="middle" font-size="5.8" fill="#1a1a1a" transform="rotate(-90 391.2 218.6)" stroke="#1a1a1a" stroke-width="0.18">16</text>
<text x="469.3" y="362.6" text-anchor="middle" font-size="5.8" fill="#1a1a1a" stroke="#1a1a1a" stroke-width="0.18">IFI6</text>
<text x="378.6" y="277.7" text-anchor="middle" font-size="5.8" fill="#f2f2f2" transform="rotate(-90 378.6 277.7)" stroke="#f2f2f2" stroke-width="0.18">IFIT3</text>
<text x="469.3" y="197.5" text-anchor="middle" font-size="7.35" font-weight="bold" fill="#000" stroke="#000" stroke-width="0.2">Spearman-Correlation:0.85</text>
<text x="469.3" y="206.0" text-anchor="middle" font-size="7.35" font-weight="bold" fill="#000" stroke="#000" stroke-width="0.2">P-value:1.224e-302</text>
<text x="469.3" y="215.4" text-anchor="middle" font-size="7.35" font-weight="bold" fill="#000" stroke="#000" stroke-width="0.2">Sample Size:(N=1081)</text>
<polyline points="405.0,294.8 533.8,246.4 414.3,310.0 417.8,308.0 420.2,312.5 421.3,304.7 519.2,250.7 521.5,253.4 419.0,289.8 422.5,293.2 467.9,273.1 492.8,258.5 450.5,286.1 491.2,273.4 457.7,275.9 467.6,270.2 488.4,263.9 438.4,299.4 483.2,266.0 503.3,258.8 501.5,280.0 461.8,262.2 491.2,263.1 429.4,306.6 465.2,269.8 480.1,279.6 436.2,291.5 467.1,284.7 511.3,238.6 493.5,266.8 488.1,284.5 489.4,259.9 445.6,292.4 439.5,286.1 434.5,297.0 482.3,258.6 487.5,283.9 453.0,283.6 439.0,302.9 475.4,271.7 476.8,268.5 465.9,275.8 500.2,262.8 466.8,273.8 467.5,274.3 442.0,290.5 472.4,281.9 502.1,257.1 470.6,274.7 470.8,289.3 479.7,278.5 475.9,275.9 482.1,271.6 482.2,243.1 484.2,272.9 449.6,282.5 476.4,261.4 429.9,292.0 475.6,270.1 438.2,296.9 467.4,282.4 480.7,257.3 459.0,289.5 471.5,284.5 429.0,298.3 448.1,287.2 485.9,277.9 440.9,288.3 485.0,269.8 435.1,300.2 446.9,290.7 442.3,295.3 469.3,283.9 482.2,283.9 443.0,298.1 464.7,293.7 508.8,255.3 461.3,274.2 449.1,289.1 478.6,270.6 463.6,280.9 451.9,286.2 425.2,300.2 489.1,260.4 455.1,286.1 469.1,282.1 443.1,287.9 500.9,260.5 487.4,268.5 493.1,263.0 466.4,264.8 480.5,272.3 490.9,264.2 494.1,255.3 476.7,271.1 467.6,261.1 460.3,282.9 450.8,306.7 445.5,303.6 477.9,281.7 463.1,273.9 458.6,272.7 465.3,289.1 495.1,262.1 462.4,278.9 423.8,318.4 466.1,290.2 488.3,267.8 474.0,278.7 458.6,286.9 514.3,270.7 515.6,239.8 466.7,263.2 489.0,257.2 478.7,272.0 488.2,263.8 504.7,261.9 489.2,269.5 471.2,266.3 453.1,310.7 449.2,294.5 468.5,274.2 497.4,258.2 476.5,276.7 470.4,278.0 475.4,267.8 470.0,274.4 482.5,271.5 441.6,287.2 480.7,273.8 458.7,287.9 441.0,298.4 508.6,247.6 465.2,272.9 462.9,277.0 431.5,297.1 476.0,277.7 453.8,256.0 496.5,255.3 489.7,262.2 450.1,288.7 479.1,271.7 487.8,257.2 452.6,285.3 499.6,260.8 488.4,273.6 473.4,286.1 468.4,285.6 434.4,302.9 435.8,296.0 474.6,280.7 512.2,248.3 467.4,278.9 484.5,271.7 483.8,274.9 492.4,258.8 447.8,288.9 456.2,284.8 470.2,289.0 444.0,298.2 439.0,310.2 447.5,289.7 467.4,279.5 478.3,271.1 468.5,274.5 471.0,269.0 452.4,286.4 451.5,283.8 496.5,261.7 467.8,281.4 467.1,277.7 492.0,265.2 499.4,272.0 500.2,257.1 479.0,277.7 467.9,276.2 476.2,281.3 473.5,273.3 503.3,254.3 476.2,271.3 484.7,276.2 468.4,269.4 502.6,260.5 455.6,288.1 478.4,265.0 487.6,256.4 440.7,283.7 446.1,320.1 465.4,283.3 465.2,285.7 442.7,289.0 490.6,262.0 474.6,251.6 454.6,288.2 474.6,264.9 485.9,255.7 498.8,263.1 474.4,270.6 445.5,288.3 455.5,275.6 491.0,279.7 451.2,289.1 487.1,260.6 480.5,280.4 466.5,288.2 460.7,280.2 507.9,245.1 476.0,275.2 491.4,259.2 478.8,273.3 452.7,291.4 507.2,258.9 438.8,296.5 439.8,285.0 458.6,294.9 451.2,286.0 455.5,279.8 454.4,287.1 493.2,265.3 470.4,268.2 477.7,273.4 430.3,300.6 448.4,279.8 495.6,267.9 439.6,290.2 497.9,263.9 443.9,295.1 476.4,274.9 448.4,295.5 473.9,270.4 447.1,295.2 462.8,281.9 510.0,256.2 459.9,274.4 518.9,253.2 457.9,300.6 440.3,290.7 470.9,269.4 459.1,280.6 512.1,263.1 490.2,272.2 498.0,267.1 484.6,266.9 472.7,280.4 488.5,261.2 482.1,271.6 448.8,296.0 446.9,297.5 473.6,281.5 493.5,268.3 496.4,261.4 446.0,292.4 482.1,270.4 473.8,277.6 441.7,299.1 481.6,272.1 452.5,295.5 475.5,285.9 450.6,285.8 444.1,299.6 469.6,287.7 471.8,272.7 450.6,286.3 487.6,297.8 443.6,302.1 468.3,276.1 460.4,271.9 459.8,278.1 473.8,279.1 481.0,279.2 499.2,268.1 489.5,262.1 455.3,275.3 503.7,257.9 499.6,262.6 431.0,310.3 485.4,260.3 489.3,279.7 492.7,265.8 482.5,273.9 437.4,284.3 462.6,285.9 446.4,281.9 465.2,279.9 518.7,254.7 485.8,274.5 489.6,258.3 456.5,299.6 444.3,290.1 442.9,299.6 472.1,268.2 449.5,291.8 453.5,291.3 497.1,262.4 429.0,304.3 437.0,300.0 456.6,285.3 466.7,272.2 465.9,278.4 434.9,285.6 473.8,270.3 465.9,284.2 477.8,280.3 442.6,296.3 475.1,268.1 474.5,267.3 452.9,286.3 463.8,268.6 455.5,291.7 502.3,263.6 486.0,267.6 433.7,274.3 427.4,299.2 459.8,280.1 452.5,281.3 459.0,283.4 486.7,270.3 429.2,310.3 448.4,291.0 463.6,274.6 439.7,288.3 478.2,263.8 477.2,270.7 451.7,292.0 425.8,300.8 508.3,257.9 480.6,267.5 479.5,261.0 470.9,279.6 468.9,284.4 489.4,264.6 468.7,276.3 453.7,304.4 486.5,263.2 470.6,277.6 450.2,286.2 446.9,289.2 497.6,269.0 484.5,271.9 517.4,258.1 456.2,275.8 450.9,300.2 479.0,277.3 502.8,263.2 483.7,262.6 479.7,274.0 515.3,253.6 450.9,309.5 438.6,287.3 450.9,296.2 461.3,289.0 478.2,264.3 494.1,261.0 479.0,276.1 506.4,266.5 448.9,281.0 515.7,258.5 449.2,303.5 497.7,268.7 446.2,289.8 477.5,270.6 470.3,266.8 481.8,264.5 487.5,260.5 463.9,275.3 467.5,285.0 474.9,298.1 437.2,300.8 451.2,282.0 429.4,281.0 469.2,271.8 466.3,290.0 487.2,263.0 447.9,281.6 451.8,285.7 493.0,277.3 457.5,282.3 429.7,296.5 444.1,296.4 443.3,289.7 444.1,301.8 485.6,271.2 470.8,278.9 432.7,309.8 455.9,275.3 441.3,295.4 439.5,300.8 432.2,289.0 511.8,236.1 461.6,275.5 483.2,267.9 490.4,268.0 459.7,288.1 482.2,265.5 482.3,268.6 474.5,284.8 466.7,278.3 476.0,265.0 463.5,272.2 484.9,267.4 512.6,247.8 493.4,266.4 457.4,274.6 448.1,281.4 446.3,284.6 452.9,288.7 478.6,277.1 489.8,271.8 468.8,281.9 468.6,286.7 442.1,283.8 485.8,268.7 491.5,265.1 450.1,290.5 458.1,285.4 445.8,278.4 478.7,257.7 429.7,294.4 441.6,288.8 452.4,305.6 499.1,269.5 426.5,291.5 469.6,277.9 439.0,292.7 470.9,273.5 447.8,298.2 480.3,279.6 441.9,293.8 460.1,288.0 468.8,270.9 481.8,271.4 467.2,274.3 500.1,258.0 472.1,276.0 424.7,296.8 491.7,270.6 462.0,274.0 452.7,276.1 506.0,239.5 444.8,299.2 470.9,277.9 451.7,286.9 502.2,253.9 460.2,279.3 474.9,275.5 435.0,294.9 504.2,259.1 442.9,297.2 491.4,262.9 496.3,275.0 499.2,259.1 513.5,251.5 440.5,286.9 478.9,268.9 472.5,280.7 479.4,274.1 496.0,261.4 471.8,266.4 449.1,282.4 466.7,270.8 506.8,241.3 440.3,287.7 471.0,269.6 445.1,301.8 496.2,263.1 428.8,309.7 460.8,287.6 466.1,277.8 472.0,281.5 435.4,295.7 507.1,255.9 443.9,292.9 462.2,279.2 439.9,293.1 470.5,269.7 432.4,294.9 474.1,282.4 482.2,278.5 440.7,307.7 479.8,269.4 462.6,272.6 486.4,278.4 459.7,280.5 491.1,265.1 482.9,264.8 440.4,300.7 504.5,255.7 474.3,271.6 487.0,281.7 500.0,249.7 445.3,292.8 467.0,274.1 449.0,284.3 446.0,289.7 475.6,259.9 477.4,277.7 501.7,259.3 503.0,263.9 468.6,281.4 448.6,309.5 512.8,247.3 482.3,276.5 466.5,279.1 446.3,290.1 458.7,284.2 476.0,265.3 496.8,263.4 492.8,259.2 479.8,263.7 463.1,271.5 473.2,267.5 461.5,278.2 470.8,272.7 466.6,283.2 482.0,256.3 502.9,268.0 460.6,270.4 462.0,280.1 441.4,281.6 464.9,272.4 443.3,284.6 452.8,290.2 462.0,289.6 462.9,268.3 455.1,294.9 496.1,274.3 474.0,278.3 477.0,274.5 474.8,279.2 452.8,285.1 447.5,282.3 489.6,279.5 460.5,252.4 425.8,304.5 499.9,260.8 474.5,290.4 451.1,275.8 467.4,273.0 455.7,288.9 459.1,270.3 464.9,279.9 438.6,291.3 468.6,269.7 493.2,253.2 486.1,269.2 426.5,307.0 436.3,290.0 436.5,303.0 463.0,279.9 490.0,267.7 477.0,269.3 426.2,296.6 470.4,265.7 488.9,262.6 458.1,267.1 515.7,254.2 453.2,295.1 497.8,265.3 465.6,283.9 437.9,299.4 461.2,288.3 483.2,269.3 489.2,255.8 425.3,293.1 482.9,265.6 476.1,258.0 458.8,273.6 448.7,303.2 456.2,292.0 461.7,285.6 438.0,297.2 507.6,253.9 442.0,295.1 458.6,280.5 452.9,277.7 459.0,281.1 471.4,275.6 450.6,284.2 463.3,281.4 511.3,252.1 494.9,268.1 462.1,292.2 491.3,270.2 450.3,297.0 474.6,284.4 434.2,295.4 441.1,280.2 447.9,293.2 499.4,264.9 474.7,276.6 482.5,272.3 472.8,286.6 478.1,291.1 479.4,263.8 487.8,267.6 473.0,288.4 446.7,294.9 449.8,306.2 498.8,265.5 503.6,260.6 482.8,291.2 428.9,300.9 507.6,252.2 477.0,260.8 467.3,271.5 469.6,279.1 460.0,279.3 512.1,255.2 510.3,261.9 443.0,292.3 464.5,272.9 476.5,265.9 500.3,262.7 474.2,276.7 491.9,279.5 509.9,253.9 460.9,287.4 467.8,282.1 499.5,270.6 478.1,263.4 436.2,303.8 440.2,295.4 443.5,298.6 434.1,277.8 468.6,293.0 456.0,277.9 469.8,288.5 486.0,264.5 512.5,245.9 474.0,278.8 424.8,301.5 502.8,263.7 465.8,278.2 497.3,254.6 457.7,271.3 476.2,282.6 465.4,295.1 468.1,268.3 500.0,266.8 452.6,285.7 472.7,293.8 474.1,278.7 459.2,290.3 468.1,281.6 477.2,281.2 471.2,271.5 431.8,299.0 457.4,277.2 479.2,252.1 489.8,271.4 489.0,268.7 483.3,266.6 459.8,286.1 498.5,274.4 462.2,288.9 496.2,269.5 492.6,268.5 445.3,298.5 454.6,282.8 468.7,279.2 472.9,279.3 488.7,273.2 493.0,270.2 488.0,267.3 456.1,284.1 504.4,256.8 455.3,282.8 491.0,261.2 467.3,273.3 468.3,278.2 464.9,275.0 468.2,278.4 496.0,258.9 504.0,265.3 503.7,252.3 491.0,258.0 485.1,262.7 479.8,266.7 511.8,253.0 457.9,281.0 453.2,282.5 469.9,278.5 427.9,299.7 462.9,281.2 467.3,287.3 443.6,290.5 454.6,285.9 485.7,260.8 463.1,285.8 470.6,279.0 494.0,280.2 453.7,286.2 440.7,290.7 467.7,270.7 479.1,267.7 424.3,308.9 484.8,267.3 461.0,279.9 458.6,297.8 447.6,299.1 464.2,287.9 492.3,273.3 481.7,270.7 488.6,259.2 459.8,286.2 507.8,256.2 500.1,263.8 468.4,275.7 513.8,256.0 470.4,279.7 463.8,282.1 467.5,270.2 443.9,289.1 510.7,251.9 453.8,300.0 481.0,263.7 487.7,264.9 432.9,299.4 472.1,266.0 498.2,265.3 460.9,283.6 485.0,262.0 468.4,284.4 494.2,276.7 514.3,260.8 442.1,287.4 462.0,285.8 478.7,272.1 453.6,281.7 448.8,298.1 460.5,280.8 462.4,278.9 453.0,283.2 477.1,262.3 488.8,276.6 487.3,268.9 485.7,271.5 498.3,259.7 435.7,296.4 466.2,283.9 473.7,277.4 482.0,263.9 429.6,304.2 515.1,243.2 447.3,291.5 475.6,262.9 487.1,259.7 495.7,268.0 452.3,280.3 455.8,280.0 478.2,272.6 483.5,285.8 491.4,272.6 467.7,275.5 452.1,276.1 436.4,300.0 511.8,253.5 435.5,266.5 486.3,261.1 476.0,283.1 487.8,264.4 492.5,252.2 502.2,264.5 467.7,281.3 478.9,272.6 485.0,275.2 470.3,292.4 447.0,293.2 465.4,291.8 499.5,262.8 471.8,282.2 495.9,267.1 464.3,275.5 479.0,275.8 459.1,270.1 489.2,263.9 451.8,280.3 462.7,274.6 473.1,273.8 469.3,278.5 466.1,282.0 492.4,278.5 484.6,281.8 459.5,267.8 490.6,268.0 445.9,292.0 462.4,284.6 465.7,270.1 501.2,268.8 456.2,272.6 433.3,293.1 473.6,270.3 510.8,250.9 464.2,280.2 466.9,287.6 464.3,278.3 470.6,285.8 501.3,257.2 517.4,244.0 480.9,266.5 466.9,291.4 514.8,264.9 471.9,274.1 471.0,246.7 460.7,277.5 461.7,290.2 475.3,275.1 462.4,273.3 479.7,275.4 471.7,301.1 483.1,277.0 460.2,274.7 464.6,268.2 475.5,272.0 471.2,265.0 471.9,270.5 498.1,258.6 443.3,298.6 478.7,267.4 487.2,261.5 463.6,258.7 502.5,269.1 467.4,275.4 440.9,288.9 480.1,282.1 479.3,274.7 458.4,273.7 451.1,288.8 483.2,259.6 452.9,259.9 479.0,267.4 497.9,267.2 435.5,301.4 460.7,281.0 481.2,265.7 510.1,270.6 492.2,269.1 458.3,280.6 505.2,257.7 460.6,278.0 465.4,270.4 478.6,273.0 442.6,292.7 498.0,258.1 498.7,259.5 474.7,273.6 455.5,284.1 441.0,299.5 478.4,274.1 486.3,258.3 459.6,283.1 464.6,278.7 483.0,281.4 467.8,265.8 423.9,316.2 485.6,273.3 475.3,257.8 487.2,273.7 450.8,292.3 500.9,258.0 438.7,269.9 476.6,269.5 520.1,273.7 495.3,259.6 476.7,272.0 433.6,296.6 461.0,272.6 480.2,275.3 479.9,278.4 471.6,282.9 502.0,267.2 447.2,292.0 452.5,293.8 447.8,278.3 440.8,294.5 489.1,263.6 464.7,275.2 434.3,277.7 484.3,283.8 493.8,258.5 470.5,278.2 473.9,281.0 494.3,264.1 481.8,268.4 452.1,285.2 483.6,272.3 491.9,265.6 477.6,266.2 490.6,268.5 483.5,265.9 463.4,284.8 465.6,275.2 484.2,282.8 455.6,264.6 497.4,264.6 499.0,257.2 497.4,249.7 467.5,272.8 450.8,302.7 453.7,303.5 472.7,287.8 465.0,270.9 483.0,277.8 477.0,270.7 478.2,283.9 450.0,288.5 460.6,277.9 504.8,264.6 472.0,272.6 511.2,253.4 455.4,278.2 498.0,267.6 489.5,270.9 458.9,276.1 489.9,271.4 472.8,265.4 494.0,274.1 447.7,287.0 455.4,283.9 453.1,283.9 481.5,284.6 480.4,275.0 466.1,277.5 462.7,269.7 462.0,274.5 471.3,279.3 445.9,286.8 467.7,280.6 465.6,277.5 455.9,296.3 455.2,294.2 505.3,270.8 454.1,273.2 479.2,258.3 502.6,265.5 487.2,277.5 469.6,280.7 493.9,272.4 434.2,307.1 439.0,294.9 459.4,264.8 463.7,271.1 466.8,271.6 515.1,246.7 510.4,265.7 468.2,288.0 475.4,267.5 446.9,303.6 476.9,270.1 436.3,303.4 503.4,252.0 456.4,280.5 482.8,261.4 437.2,296.0 503.2,254.7 484.1,278.4 517.1,253.8 470.8,282.5 429.5,298.0 449.9,283.7 438.4,295.5 507.7,258.5 453.8,283.4 450.7,290.7 483.7,272.0 475.6,270.3 481.2,268.9 456.8,274.2 490.0,275.2 435.9,302.3 500.1,249.8 500.4,263.4 491.4,268.4 460.0,299.7 484.4,260.9 485.6,273.4 484.7,279.2 482.1,266.5 490.8,259.7 471.1,282.2 472.9,276.9 482.7,281.8 500.1,254.5 483.7,298.4 475.8,258.5 473.4,272.4 447.6,289.2 455.7,275.7 472.6,278.7 488.0,282.7 467.1,283.2 489.1,275.7 495.8,261.1 500.7,252.3 509.5,246.2 476.3,280.9 474.5,271.9 453.5,288.3 482.1,283.6 463.3,277.2 440.3,279.8 498.6,268.3 486.7,272.2 455.9,290.2 462.8,282.8 463.8,283.7 436.2,290.9 499.3,271.4 473.7,287.6 483.3,274.9 492.4,253.1 502.3,264.6 462.6,295.0 484.8,263.2 475.7,274.1 489.1,256.0 483.2,270.7 504.5,279.1 482.7,284.4 457.7,271.5 472.5,286.1 441.6,290.6 477.4,272.8 506.7,263.9 454.6,281.4 428.8,274.8 467.6,287.0 457.1,291.5 469.5,271.3 455.0,291.7 471.5,266.3 444.5,293.1 507.8,260.1 464.0,293.8 482.2,274.8 488.3,246.0 465.8,290.6 480.7,251.2 463.5,272.9 458.6,275.7 464.1,285.8 481.6,275.4 438.4,299.1 447.3,292.9 449.8,293.6 455.6,277.5 498.1,263.0 468.8,276.7 462.1,292.8 473.1,277.2 495.7,267.1 451.2,282.4 494.8,271.3 443.5,287.5 447.9,297.9 506.0,257.3 508.0,244.6 474.5,277.0 459.4,278.8 490.2,264.1 459.8,283.4 508.0,255.8 499.1,261.2 488.9,247.0 449.3,291.2 494.0,263.6 464.0,276.3 464.4,284.2 459.8,303.0 467.3,287.3 482.5,277.5 491.1,272.7 491.1,271.7 466.1,281.9 462.0,290.6 499.0,241.9 454.2,285.0 465.8,279.5 442.0,286.5 500.4,271.1 477.1,276.7" fill="none" stroke="none" marker-start="url(#pt)" marker-mid="url(#pt)" marker-end="url(#pt)"/>
<line x1="399.8" y1="315.0" x2="538.5" y2="240.5" stroke="#e41a1a" stroke-width="0.8"/>
<rect x="39.5" y="398.2" width="138.3" height="115.4" fill="none" stroke="#999" stroke-width="1.15"/>
<line x1="62.7" y1="513.6" x2="62.7" y2="517.2" stroke="#666" stroke-width="0.8"/>
<text x="62.7" y="527.1" text-anchor="middle" font-size="5.8" fill="#1a1a1a" stroke="#1a1a1a" stroke-width="0.18">8</text>
<line x1="85.7" y1="513.6" x2="85.7" y2="517.2" stroke="#666" stroke-width="0.8"/>
<text x="85.7" y="527.1" text-anchor="middle" font-size="5.8" fill="#1a1a1a" stroke="#1a1a1a" stroke-width="0.18">10</text>
<line x1="108.7" y1="513.6" x2="108.7" y2="517.2" stroke="#666" stroke-width="0.8"/>
<text x="108.7" y="527.1" text-anchor="middle" font-size="5.8" fill="#1a1a1a" stroke="#1a1a1a" stroke-width="0.18">12</text>
<line x1="131.7" y1="513.6" x2="131.7" y2="517.2" stroke="#666" stroke-width="0.8"/>
<text x="131.7" y="527.1" text-anchor="middle" font-size="5.8" fill="#1a1a1a" stroke="#1a1a1a" stroke-width="0.18">14</text>
<line x1="154.7" y1="513.6" x2="154.7" y2="517.2" stroke="#666" stroke-width="0.8"/>
<text x="154.7" y="527.1" text-anchor="middle" font-size="5.8" fill="#1a1a1a" stroke="#1a1a1a" stroke-width="0.18">16</text>
<line x1="35.9" y1="496.4" x2="39.5" y2="496.4" stroke="#666" stroke-width="0.8"/>
<text x="31.0" y="496.4" text-anchor="middle" font-size="5.8" fill="#1a1a1a" transform="rotate(-90 31.0 496.4)" stroke="#1a1a1a" stroke-width="0.18">6</text>
<line x1="35.9" y1="467.6" x2="39.5" y2="467.6" stroke="#666" stroke-width="0.8"/>
<text x="31.0" y="467.6" text-anchor="middle" font-size="5.8" fill="#1a1a1a" transform="rotate(-90 31.0 467.6)" stroke="#1a1a1a" stroke-width="0.18">8</text>
<line x1="35.9" y1="438.8" x2="39.5" y2="438.8" stroke="#666" stroke-width="0.8"/>
<text x="31.0" y="438.8" text-anchor="middle" font-size="5.8" fill="#1a1a1a" transform="rotate(-90 31.0 438.8)" stroke="#1a1a1a" stroke-width="0.18">10</text>
<line x1="35.9" y1="410.0" x2="39.5" y2="410.0" stroke="#666" stroke-width="0.8"/>
<text x="31.0" y="410.0" text-anchor="middle" font-size="5.8" fill="#1a1a1a" transform="rotate(-90 31.0 410.0)" stroke="#1a1a1a" stroke-width="0.18">12</text>
<text x="108.5" y="541.0" text-anchor="middle" font-size="5.8" fill="#1a1a1a" stroke="#1a1a1a" stroke-width="0.18">IFI6</text>
<text x="17.0" y="456.4" text-anchor="middle" font-size="5.8" fill="#1a1a1a" transform="rotate(-90 17.0 456.4)" stroke="#1a1a1a" stroke-width="0.18">FAM172A</text>
<text x="108.5" y="377.6" text-anchor="middle" font-size="7.25" font-weight="bold" fill="#000" stroke="#000" stroke-width="0.2">Spearman-Correlation:-0.4421</text>
<text x="108.5" y="386.0" text-anchor="middle" font-size="7.25" font-weight="bold" fill="#000" stroke="#000" stroke-width="0.2">P-value:6.134e-53</text>
<text x="108.5" y="394.8" text-anchor="middle" font-size="7.25" font-weight="bold" fill="#000" stroke="#000" stroke-width="0.2">Sample Size:(N=1081)</text>
<polyline points="45.5,434.9 172.5,461.7 54.6,445.8 58.1,444.9 60.4,444.1 61.6,454.5 158.2,465.9 160.4,460.3 59.3,448.6 62.7,453.6 107.5,452.9 132.1,453.3 90.4,455.1 130.5,451.3 97.4,458.0 107.2,454.5 127.8,451.2 78.4,458.6 122.6,459.3 142.5,459.7 140.6,471.2 101.5,451.5 130.5,450.5 69.5,450.1 104.9,474.3 119.6,451.3 76.3,462.7 106.7,462.0 150.4,474.7 132.7,473.9 127.5,461.2 128.7,455.3 85.5,446.1 79.5,468.4 74.6,454.8 121.8,452.6 126.9,469.6 92.8,454.3 79.0,449.5 114.9,457.0 116.3,463.3 105.5,452.1 139.4,468.0 106.5,448.8 107.1,460.9 81.9,452.6 112.0,456.1 141.2,463.8 110.2,450.0 110.4,454.0 119.2,460.0 115.4,471.4 121.5,443.6 121.7,443.1 123.6,459.3 89.5,445.9 115.9,460.8 70.0,443.1 115.1,456.3 78.2,448.1 107.0,475.6 120.1,453.3 98.7,451.5 111.1,461.2 69.1,449.8 88.0,448.1 125.3,461.6 80.8,448.3 124.4,458.8 75.2,460.7 86.8,453.4 82.2,445.7 108.9,464.2 121.6,450.6 83.0,448.5 104.3,446.9 147.9,460.6 101.0,451.2 89.0,456.8 118.0,446.1 103.3,457.1 91.8,445.7 65.3,468.0 128.5,462.7 94.9,459.2 108.7,460.2 83.0,450.6 140.1,472.1 126.8,464.7 132.4,456.8 106.0,445.6 120.0,458.1 130.2,456.2 133.4,458.6 116.2,461.9 107.2,451.4 100.0,452.1 90.6,453.9 85.4,447.9 117.4,452.7 102.8,460.3 98.3,456.6 105.0,445.8 134.4,457.0 102.1,462.5 63.9,440.7 105.7,446.6 127.7,462.8 113.6,453.0 98.4,453.1 153.3,475.5 154.6,464.4 106.3,467.9 128.3,453.0 118.2,466.2 127.6,457.5 143.8,468.9 128.5,461.2 110.8,451.6 92.9,437.4 89.1,444.8 108.1,473.0 136.7,444.5 116.0,461.9 110.0,458.0 114.9,445.8 109.6,450.9 121.9,458.3 81.6,450.4 120.1,476.8 98.4,460.2 80.9,451.3 147.7,467.2 104.9,459.9 102.6,458.2 71.6,444.9 115.5,439.6 93.6,453.4 135.8,458.7 129.0,460.7 90.0,451.2 118.6,462.1 127.1,456.3 92.4,448.7 138.8,454.8 127.8,463.9 112.9,450.1 108.0,454.5 74.4,459.0 75.9,460.5 114.1,448.6 151.2,451.6 107.0,458.4 123.9,464.1 123.2,471.7 131.7,460.6 87.7,454.4 95.9,452.6 109.8,453.9 83.9,447.4 79.0,437.7 87.4,459.3 107.0,464.4 117.7,452.2 108.1,449.5 110.6,460.8 92.2,448.0 91.3,461.4 135.8,455.5 107.4,466.6 106.7,440.4 131.3,455.6 138.6,470.0 139.4,460.5 118.5,468.4 107.5,448.6 115.7,472.4 113.0,450.1 142.4,463.0 115.8,461.5 124.1,453.2 108.0,464.4 141.8,463.2 95.3,442.4 117.9,457.6 126.9,456.6 80.7,443.6 86.0,460.7 105.1,464.1 104.8,467.9 82.6,447.8 129.9,461.7 114.1,466.2 94.4,439.9 114.2,451.5 125.3,454.8 138.0,464.2 113.9,457.1 85.4,453.0 95.3,453.5 130.3,463.0 91.0,446.6 126.5,461.2 119.9,467.1 106.1,454.1 100.5,458.4 147.0,467.1 115.5,470.3 130.7,457.7 118.2,456.7 92.5,464.8 146.3,462.6 78.8,441.3 79.8,456.8 98.3,448.9 91.1,454.5 95.2,453.8 94.2,468.7 132.5,455.3 110.0,452.4 117.2,448.6 70.4,444.7 88.2,465.6 134.9,453.2 79.6,452.1 137.2,477.0 83.8,466.2 115.9,451.7 88.3,457.1 113.4,463.9 87.0,438.0 102.5,469.7 149.1,470.1 99.6,467.2 157.9,461.6 97.6,467.5 80.3,446.5 110.5,451.3 98.8,461.2 151.1,473.3 129.5,452.5 137.2,456.3 124.0,449.8 112.2,455.1 127.9,472.2 121.5,484.2 88.7,437.3 86.7,446.5 113.1,454.0 132.8,457.4 135.7,458.2 85.9,466.3 121.5,454.5 113.4,452.0 81.7,458.5 121.1,457.3 92.3,455.9 115.1,447.4 90.4,448.6 84.1,442.5 109.2,453.1 111.3,455.6 90.5,454.2 127.0,446.6 83.5,442.3 107.9,456.1 100.1,449.7 99.6,449.4 113.3,442.6 120.4,468.7 138.4,462.3 128.8,473.1 95.1,450.5 142.9,466.5 138.8,464.6 71.1,448.3 124.8,468.3 128.6,466.4 132.0,456.1 121.9,459.7 77.4,452.5 102.2,457.3 86.3,459.2 104.9,461.3 157.7,470.1 125.2,448.8 128.9,479.9 96.3,455.0 84.2,464.6 82.9,471.9 111.7,456.8 89.3,449.0 93.3,472.9 136.3,454.7 69.1,454.1 77.0,434.6 96.4,447.6 106.3,458.7 105.6,458.9 75.0,460.6 113.4,458.2 105.6,450.9 117.3,447.7 82.5,468.2 114.6,450.9 114.0,447.9 92.8,457.2 103.4,462.0 95.3,463.1 141.5,456.0 125.4,459.6 73.7,450.7 67.5,451.0 99.6,455.1 92.3,448.1 98.8,445.5 126.1,465.9 69.3,454.9 88.3,472.5 103.3,448.1 79.7,440.5 117.6,475.9 116.7,462.6 91.5,450.8 65.9,435.6 147.4,461.5 120.1,462.8 118.9,454.3 110.4,445.5 108.5,455.8 128.8,457.9 108.3,451.4 93.5,471.7 125.8,454.5 110.1,458.4 90.0,453.5 86.8,455.2 136.8,456.7 123.9,455.3 156.4,479.0 96.0,459.3 90.7,443.4 118.5,450.6 142.0,466.0 123.1,451.1 119.2,451.5 154.3,468.8 90.7,451.3 78.6,442.0 90.7,442.7 101.0,444.6 117.7,455.4 133.4,465.1 118.5,452.4 145.5,467.7 88.7,446.9 154.7,460.5 89.1,450.5 137.0,463.4 86.1,455.2 117.0,458.4 109.9,463.0 121.2,450.7 126.8,460.2 103.6,444.7 107.1,469.5 114.5,453.8 77.2,451.6 91.0,442.6 69.5,457.3 108.8,452.0 106.0,456.8 126.6,455.9 87.8,451.8 91.6,446.0 132.3,468.7 97.2,447.6 69.9,443.5 84.0,448.6 83.2,445.3 84.0,466.3 125.0,454.5 110.4,453.2 72.7,468.0 95.7,443.8 81.2,448.3 79.5,445.0 72.3,471.8 150.9,465.6 101.3,454.4 122.6,451.3 129.7,484.9 99.4,450.2 121.6,453.4 121.8,456.4 114.1,441.7 106.3,449.8 115.6,464.7 103.2,444.9 124.3,453.2 151.6,461.3 132.7,460.8 97.1,459.7 88.0,450.5 86.2,450.6 92.7,453.9 118.0,450.9 129.1,451.6 108.4,459.0 108.2,471.9 82.0,447.7 125.2,469.9 130.8,468.0 89.9,459.9 97.8,454.6 85.7,456.6 118.1,454.1 69.8,439.4 81.5,447.8 92.2,442.4 138.3,449.9 66.7,445.4 109.2,457.9 79.0,465.7 110.5,452.2 87.7,441.1 119.8,452.7 81.8,459.3 99.8,455.7 108.4,447.7 121.3,473.8 106.8,454.3 139.3,452.3 111.7,450.9 64.9,439.2 131.0,456.9 101.7,445.7 92.5,447.0 145.1,458.8 84.7,441.8 110.5,453.1 91.5,448.2 141.4,475.6 99.9,449.9 114.4,450.0 75.1,449.2 143.3,467.1 82.9,462.8 130.7,463.5 135.6,459.7 138.5,458.2 152.5,464.3 80.4,443.4 118.4,451.0 112.0,448.0 118.8,475.0 135.2,444.0 111.3,462.9 89.0,454.1 106.4,449.0 145.9,460.3 80.2,451.2 110.6,474.1 85.0,465.8 135.5,460.1 68.9,444.7 100.5,449.6 105.7,447.9 111.5,455.1 75.5,458.0 146.3,453.2 83.8,451.9 101.9,451.0 79.9,452.6 110.1,459.7 72.5,452.8 113.6,459.1 121.6,465.1 80.6,456.2 119.2,454.3 102.3,466.8 125.8,461.1 99.4,444.6 130.4,446.1 122.3,467.7 80.4,448.2 143.6,468.7 113.8,463.0 126.3,450.8 139.2,455.4 85.2,453.7 106.7,447.3 88.9,457.4 85.9,466.5 115.1,458.8 116.9,453.0 140.9,459.3 142.2,459.9 108.2,452.7 88.5,458.3 151.8,455.7 121.8,450.5 106.1,466.1 86.2,450.6 98.5,454.9 115.5,453.2 136.0,466.2 132.1,450.7 119.2,459.1 102.7,449.9 112.8,439.6 101.2,465.8 110.4,449.1 106.2,458.5 121.4,454.7 142.0,464.2 100.4,480.6 101.7,453.8 81.4,460.9 104.5,462.3 83.3,448.6 92.7,440.8 101.7,455.4 102.6,445.8 94.8,458.0 135.3,463.0 113.6,459.9 116.5,459.7 114.3,470.7 92.6,454.9 87.4,461.1 129.0,468.0 100.2,448.1 65.9,453.3 139.1,460.1 114.1,471.7 90.9,451.2 107.1,467.8 95.5,452.8 98.9,458.1 104.5,468.3 78.6,442.2 108.2,441.5 132.5,456.4 125.5,472.5 66.7,449.6 76.3,443.2 76.5,444.5 102.7,444.7 129.3,461.2 116.5,445.5 66.3,437.5 110.0,448.7 128.2,463.2 97.9,454.8 154.7,461.1 93.0,461.5 137.0,465.0 105.2,461.8 77.9,466.0 100.9,458.7 122.6,462.0 128.5,452.6 65.5,448.0 122.4,456.3 115.6,462.2 98.5,443.6 88.5,459.7 96.0,447.8 101.4,458.9 78.0,446.3 146.7,466.2 81.9,448.1 98.4,465.8 92.7,462.9 98.7,449.4 110.9,455.9 90.4,448.3 103.0,467.7 150.3,461.7 134.2,473.3 101.7,469.5 130.6,468.9 90.1,453.6 114.2,446.2 74.2,449.6 81.1,452.4 87.8,450.7 138.6,454.7 114.3,456.7 121.9,454.1 112.4,460.7 117.6,467.7 118.8,464.0 127.2,473.5 112.6,458.5 86.6,449.4 89.6,465.8 138.0,455.8 142.8,454.1 122.2,470.2 69.0,439.5 146.7,476.2 116.5,469.0 106.9,469.1 109.2,459.1 99.7,461.8 151.2,459.1 149.3,456.2 83.0,439.6 104.1,472.4 116.0,458.9 139.5,463.8 113.7,442.7 131.2,460.7 149.0,469.8 100.6,458.9 107.5,449.8 138.7,457.9 117.6,460.1 76.2,454.1 80.2,452.9 83.5,448.6 74.1,448.0 108.2,461.0 95.8,440.8 109.3,469.1 125.4,458.1 151.6,458.3 113.6,444.4 65.0,448.2 142.0,465.9 105.5,454.9 136.5,454.8 97.4,439.8 115.7,445.2 105.0,467.4 107.7,455.3 139.2,451.7 92.5,451.0 112.3,452.2 113.6,453.5 98.9,469.3 107.7,457.1 116.7,449.9 110.8,454.8 71.9,447.5 97.2,454.1 118.7,449.3 129.1,452.8 128.3,480.2 122.7,463.4 99.5,462.3 137.7,453.3 101.8,466.8 135.4,463.0 131.9,457.5 85.2,449.4 94.4,450.0 108.3,449.2 112.4,453.7 128.0,461.4 132.3,457.4 127.4,454.3 95.8,457.7 143.5,451.7 95.1,455.6 130.3,469.5 106.9,458.4 107.9,448.3 104.6,454.3 107.8,450.2 135.2,459.0 143.1,471.8 142.9,468.3 130.3,462.5 124.5,457.0 119.3,461.1 150.9,470.8 97.7,452.2 93.0,454.7 109.5,444.8 68.0,440.0 102.6,451.1 106.9,458.0 83.5,442.3 94.4,453.2 125.1,458.3 102.8,452.3 110.2,464.9 133.3,484.7 93.5,453.8 80.7,450.8 107.3,475.7 118.6,467.3 64.5,440.4 124.2,465.8 100.7,459.2 98.3,460.7 87.5,463.1 103.9,468.8 131.6,462.2 121.1,456.6 128.0,456.9 99.6,451.0 146.9,453.8 139.3,451.9 108.0,470.0 152.8,464.7 109.9,454.6 103.5,457.5 107.2,459.2 83.8,455.0 149.7,458.8 93.6,448.7 120.5,466.6 127.0,466.6 73.0,446.2 111.6,466.5 137.4,466.2 100.6,448.4 124.4,464.5 108.1,452.9 133.5,462.2 153.3,463.8 82.1,445.6 101.7,455.0 118.2,447.8 93.4,464.7 88.7,440.7 100.3,448.7 102.1,458.3 92.8,449.6 116.6,460.3 128.2,449.6 126.7,461.6 125.1,446.7 137.5,455.4 75.7,447.3 105.9,444.5 113.3,464.3 121.4,475.4 69.7,442.6 154.1,465.3 87.2,445.9 115.1,451.1 126.5,459.3 134.9,460.1 92.1,442.4 95.6,459.8 117.7,481.4 122.9,461.4 130.7,457.3 107.4,463.7 91.9,444.6 76.5,448.1 150.9,470.2 75.5,440.1 125.6,452.2 115.5,461.8 127.2,460.4 131.8,448.1 141.4,470.4 107.4,451.8 118.4,447.8 124.4,455.1 109.9,464.4 86.9,454.1 105.1,452.3 138.7,458.0 111.4,451.8 135.1,456.6 103.9,457.1 118.5,455.0 98.8,448.1 128.6,457.1 91.6,454.5 102.4,458.1 112.6,464.8 108.9,466.9 105.8,448.4 131.7,447.3 124.0,459.6 99.2,446.4 129.9,465.5 85.8,441.0 102.0,465.7 105.3,458.0 140.4,450.9 95.9,447.1 73.3,457.9 113.2,465.7 149.8,456.5 103.9,457.2 106.6,466.9 104.0,443.3 110.2,455.5 140.4,464.7 156.4,450.8 120.4,464.2 106.5,447.2 153.8,462.4 111.4,458.9 110.6,459.6 100.4,448.7 101.4,462.2 114.9,447.0 102.1,460.8 119.2,452.8 111.3,445.5 122.5,460.4 99.9,456.1 104.3,453.6 115.0,459.6 110.7,444.8 111.5,460.7 137.3,467.3 83.2,458.3 118.2,444.4 126.6,453.5 103.3,460.9 141.7,453.4 107.0,445.8 80.9,461.5 119.6,453.9 118.8,464.6 98.2,467.1 90.9,440.2 122.6,450.2 92.7,449.0 118.5,458.6 137.2,467.7 75.5,438.5 100.4,450.1 120.6,454.1 149.1,478.3 131.5,459.3 98.0,461.6 144.3,467.8 100.4,449.3 105.1,462.2 118.1,449.1 82.5,451.4 137.3,479.0 137.9,454.0 114.3,461.2 95.2,438.9 81.0,457.8 117.9,453.9 125.7,455.0 99.3,462.7 104.2,458.0 122.4,453.3 107.5,476.6 64.1,469.5 125.0,455.4 114.8,452.0 126.5,449.7 90.6,454.2 140.1,458.2 78.7,452.9 116.1,456.3 159.1,455.3 134.6,458.4 116.2,455.6 73.7,452.7 100.7,448.4 119.6,450.7 119.4,461.6 111.1,456.1 141.2,460.1 87.1,449.0 92.3,448.8 87.6,470.5 80.8,443.9 128.5,462.1 104.3,457.1 74.3,446.6 123.7,457.8 133.1,449.8 110.1,454.1 113.5,462.2 133.5,476.1 121.2,460.3 91.9,447.2 123.0,472.9 131.2,452.3 117.1,456.0 129.9,457.9 122.9,463.3 103.1,465.8 105.3,445.8 123.6,456.1 95.4,440.7 136.6,453.0 138.2,457.2 136.7,463.6 107.1,458.5 90.6,455.2 93.5,446.7 112.3,446.2 104.7,452.4 122.4,477.9 116.5,456.5 117.7,457.7 89.8,442.8 100.3,462.5 144.0,460.8 111.5,449.5 150.2,461.3 95.2,460.7 137.2,451.2 128.8,462.6 98.6,445.6 129.2,463.8 112.4,446.1 133.3,460.2 87.6,445.4 95.2,456.6 92.9,445.2 121.0,447.5 119.9,451.2 105.8,452.0 102.4,453.9 101.7,445.2 110.8,458.9 85.8,456.1 107.4,445.7 105.3,453.9 95.7,463.1 95.0,448.7 144.4,480.4 93.9,455.0 118.7,460.7 141.8,466.8 126.6,456.6 109.2,447.2 133.2,448.3 74.3,443.2 79.0,448.4 99.2,448.8 103.4,459.7 106.4,444.0 154.1,457.4 149.5,456.8 107.8,457.6 114.9,451.4 86.8,444.3 116.4,457.3 76.3,447.9 142.5,468.6 96.2,460.6 122.2,459.9 77.2,463.7 142.3,459.4 123.5,449.6 156.0,462.5 110.4,451.9 69.6,439.2 89.8,450.3 78.4,448.5 146.8,474.0 93.6,444.6 90.5,455.5 123.1,457.8 115.1,456.5 120.6,466.2 96.6,449.7 129.3,451.2 75.9,438.9 139.3,456.8 139.6,466.2 130.7,460.6 99.7,458.4 123.8,456.8 125.0,446.2 124.1,463.0 121.6,449.9 130.1,452.6 110.7,449.3 112.5,472.8 122.1,474.0 139.3,465.4 123.2,452.4 115.4,448.2 112.9,464.1 87.5,437.0 95.5,457.7 112.2,452.1 127.4,465.2 106.7,478.7 128.5,450.2 135.0,461.0 139.9,472.6 148.6,463.3 115.8,444.1 114.0,464.1 93.3,456.2 121.5,461.5 103.0,459.1 80.3,442.7 137.8,465.3 126.0,470.3 95.7,451.3 102.4,454.5 103.4,455.8 76.3,434.9 138.6,471.6 113.3,464.2 122.7,455.3 131.7,458.9 141.5,460.7 102.3,448.6 124.2,475.0 115.2,443.4 128.5,459.5 122.6,456.9 143.7,470.3 122.1,462.2 97.5,462.0 112.0,449.6 81.5,448.3 116.9,462.9 145.8,478.0 94.4,445.9 69.0,472.2 107.2,466.3 96.8,448.4 109.1,466.7 94.7,454.9 111.0,459.6 84.4,459.0 146.9,455.5 103.6,468.0 121.6,465.7 127.6,471.0 105.4,455.5 120.2,451.7 103.1,452.6 98.3,446.1 103.7,446.8 121.0,474.3 78.4,459.8 87.1,451.7 89.7,448.2 95.4,462.8 137.3,455.0 108.4,480.9 101.8,454.0 112.7,465.5 135.0,485.7 91.0,454.2 134.1,458.5 83.4,457.2 87.7,452.1 145.1,465.0 147.1,461.7 114.1,445.5 99.1,450.4 129.5,453.8 99.6,462.7 147.1,473.0 138.3,476.1 128.3,458.3 89.2,442.4 133.3,451.9 103.7,455.7 104.1,446.3 99.5,464.3 106.9,453.5 121.9,464.5 130.4,464.9 130.5,467.0 105.7,453.4 101.7,450.6 138.2,448.4 94.0,449.9 105.4,464.6 82.0,456.6 139.6,458.1 116.6,457.2" fill="none" stroke="none" marker-start="url(#pt)" marker-mid="url(#pt)" marker-end="url(#pt)"/>
<line x1="39.5" y1="443.2" x2="177.8" y2="469.2" stroke="#e41a1a" stroke-width="0.8"/>
<rect x="224.3" y="398.4" width="137.4" height="114.4" fill="none" stroke="#999" stroke-width="1.15"/>
<line x1="246.4" y1="512.8" x2="246.4" y2="516.4" stroke="#666" stroke-width="0.8"/>
<text x="246.4" y="526.0" text-anchor="middle" font-size="5.8" fill="#1a1a1a" stroke="#1a1a1a" stroke-width="0.18">8</text>
<line x1="269.4" y1="512.8" x2="269.4" y2="516.4" stroke="#666" stroke-width="0.8"/>
<text x="269.4" y="526.0" text-anchor="middle" font-size="5.8" fill="#1a1a1a" stroke="#1a1a1a" stroke-width="0.18">10</text>
<line x1="292.4" y1="512.8" x2="292.4" y2="516.4" stroke="#666" stroke-width="0.8"/>
<text x="292.4" y="526.0" text-anchor="middle" font-size="5.8" fill="#1a1a1a" stroke="#1a1a1a" stroke-width="0.18">12</text>
<line x1="315.4" y1="512.8" x2="315.4" y2="516.4" stroke="#666" stroke-width="0.8"/>
<text x="315.4" y="526.0" text-anchor="middle" font-size="5.8" fill="#1a1a1a" stroke="#1a1a1a" stroke-width="0.18">14</text>
<line x1="338.4" y1="512.8" x2="338.4" y2="516.4" stroke="#666" stroke-width="0.8"/>
<text x="338.4" y="526.0" text-anchor="middle" font-size="5.8" fill="#1a1a1a" stroke="#1a1a1a" stroke-width="0.18">16</text>
<line x1="220.7" y1="499.2" x2="224.3" y2="499.2" stroke="#666" stroke-width="0.8"/>
<text x="215.5" y="499.2" text-anchor="middle" font-size="5.8" fill="#1a1a1a" transform="rotate(-90 215.5 499.2)" stroke="#1a1a1a" stroke-width="0.18">8</text>
<line x1="220.7" y1="472.6" x2="224.3" y2="472.6" stroke="#666" stroke-width="0.8"/>
<text x="215.5" y="472.6" text-anchor="middle" font-size="5.8" fill="#1a1a1a" transform="rotate(-90 215.5 472.6)" stroke="#1a1a1a" stroke-width="0.18">10</text>
<line x1="220.7" y1="446.1" x2="224.3" y2="446.1" stroke="#666" stroke-width="0.8"/>
<text x="215.5" y="446.1" text-anchor="middle" font-size="5.8" fill="#1a1a1a" transform="rotate(-90 215.5 446.1)" stroke="#1a1a1a" stroke-width="0.18">12</text>
<line x1="220.7" y1="419.5" x2="224.3" y2="419.5" stroke="#666" stroke-width="0.8"/>
<text x="215.5" y="419.5" text-anchor="middle" font-size="5.8" fill="#1a1a1a" transform="rotate(-90 215.5 419.5)" stroke="#1a1a1a" stroke-width="0.18">14</text>
<text x="292.7" y="540.7" text-anchor="middle" font-size="5.8" fill="#1a1a1a" stroke="#1a1a1a" stroke-width="0.18">IFI6</text>
<text x="200.6" y="455.5" text-anchor="middle" font-size="5.8" fill="#1a1a1a" transform="rotate(-90 200.6 455.5)" stroke="#1a1a1a" stroke-width="0.18">FAM168B</text>
<text x="292.4" y="377.0" text-anchor="middle" font-size="7.25" font-weight="bold" fill="#000" stroke="#000" stroke-width="0.2">Spearman-Correlation:-0.4038</text>
<text x="292.4" y="385.6" text-anchor="middle" font-size="7.25" font-weight="bold" fill="#000" stroke="#000" stroke-width="0.2">P-value:1.151e-43</text>
<text x="292.4" y="394.5" text-anchor="middle" font-size="7.25" font-weight="bold" fill="#000" stroke="#000" stroke-width="0.2">Sample Size:(N=1081)</text>
<polyline points="229.2,458.1 356.2,464.1 238.3,454.1 241.8,441.6 244.1,453.1 245.2,460.5 341.9,468.2 344.1,460.8 243.0,448.3 246.4,452.9 291.2,463.9 315.8,463.2 274.1,468.2 314.2,463.8 281.1,465.3 290.9,456.4 311.5,461.0 262.1,457.5 306.3,461.7 326.2,460.1 324.3,457.8 285.2,456.0 314.2,458.8 253.2,453.6 288.6,455.4 303.3,473.1 260.0,445.8 290.4,461.9 334.1,468.2 316.4,462.0 311.2,459.6 312.4,482.1 269.2,455.4 263.2,456.7 258.3,451.0 305.5,449.8 310.6,450.9 276.5,449.5 262.7,458.9 298.6,450.6 300.0,436.3 289.2,459.5 323.1,461.1 290.2,456.3 290.8,452.6 265.6,445.1 295.7,450.6 324.9,457.9 293.9,456.9 294.1,445.8 302.9,457.6 299.1,459.3 305.2,460.2 305.4,463.3 307.3,453.0 273.2,453.2 299.6,462.5 253.7,455.3 298.8,475.6 261.9,448.7 290.7,456.7 303.8,463.3 282.4,451.5 294.8,457.0 252.8,447.8 271.7,453.2 309.0,472.7 264.5,467.7 308.1,459.0 258.9,449.4 270.5,454.3 265.9,449.0 292.6,457.7 305.3,458.6 266.7,453.9 288.0,456.9 331.6,461.9 284.7,460.1 272.7,461.6 301.7,454.7 287.0,459.9 275.5,457.7 249.0,446.9 312.2,462.6 278.6,469.4 292.4,459.1 266.7,451.8 323.8,458.0 310.5,461.3 316.1,461.5 289.7,461.0 303.7,462.4 313.9,460.6 317.1,461.3 299.9,450.6 290.9,456.0 283.7,454.9 274.3,460.8 269.1,452.9 301.1,463.6 286.5,449.0 282.0,458.4 288.7,457.1 318.1,462.7 285.8,466.9 247.6,456.6 289.4,460.0 311.4,457.0 297.3,454.6 282.1,456.0 337.0,467.1 338.3,452.3 290.0,446.1 312.0,455.7 301.9,467.1 311.3,470.5 327.5,470.3 312.2,466.1 294.5,459.8 276.6,456.7 272.8,451.2 291.8,454.0 320.4,472.9 299.7,454.1 293.7,462.6 298.6,455.1 293.3,450.5 305.6,464.5 265.3,454.4 303.8,455.4 282.1,454.2 264.6,453.4 331.4,465.6 288.6,460.8 286.3,453.6 255.3,452.6 299.2,452.9 277.3,455.4 319.5,463.0 312.7,456.6 273.7,457.0 302.3,464.0 310.8,454.5 276.1,434.1 322.5,455.3 311.5,460.6 296.6,456.8 291.7,442.0 258.1,448.8 259.6,444.3 297.8,463.2 334.9,466.3 290.7,464.4 307.6,460.2 306.9,458.4 315.4,457.0 271.4,468.2 279.6,451.3 293.5,459.6 267.6,450.1 262.7,449.7 271.1,451.6 290.7,479.1 301.4,455.5 291.8,449.1 294.3,450.2 275.9,455.1 275.0,454.0 319.5,459.3 291.1,454.0 290.4,455.9 315.0,482.5 322.3,462.4 323.1,483.6 302.2,452.1 291.2,460.9 299.4,454.0 296.7,442.5 326.1,455.8 299.5,480.3 307.8,456.7 291.7,465.1 325.5,452.3 279.0,458.8 301.6,461.2 310.6,461.9 264.4,455.8 269.7,453.4 288.8,456.8 288.5,456.5 266.3,460.5 313.6,470.9 297.8,452.7 278.1,455.2 297.9,461.0 309.0,458.4 321.7,467.1 297.6,458.3 269.1,452.1 279.0,463.4 314.0,463.0 274.7,460.6 310.2,458.1 303.6,467.3 289.8,455.5 284.2,447.9 330.7,463.2 299.2,475.1 314.4,442.5 301.9,441.3 276.2,456.3 330.0,459.4 262.5,457.9 263.5,459.3 282.0,452.4 274.8,451.5 278.9,454.4 277.9,461.0 316.2,462.6 293.7,456.9 300.9,458.7 254.1,454.8 271.9,458.2 318.6,471.7 263.3,451.7 320.9,457.3 267.5,461.8 299.6,455.9 272.0,455.3 297.1,464.7 270.7,456.4 286.2,458.1 332.8,475.4 283.3,454.8 341.6,469.0 281.3,449.3 264.0,449.7 294.2,450.1 282.5,458.7 334.8,457.4 313.2,458.7 320.9,467.6 307.7,458.0 295.9,455.2 311.6,458.7 305.2,457.6 272.4,456.5 270.4,454.9 296.8,456.1 316.5,452.9 319.4,470.7 269.6,451.4 305.2,465.8 297.1,451.6 265.4,451.4 304.8,481.1 276.0,460.0 298.8,455.0 274.1,442.4 267.8,439.8 292.9,450.3 295.0,454.4 274.2,454.0 310.7,457.1 267.2,430.8 291.6,452.9 283.8,450.2 283.3,456.6 297.0,454.9 304.1,453.4 322.1,458.9 312.5,462.5 278.8,445.5 326.6,460.5 322.5,456.6 254.8,463.5 308.5,459.5 312.3,460.4 315.7,450.5 305.6,456.2 261.1,450.0 285.9,462.9 270.0,466.1 288.6,457.5 341.4,478.3 308.9,454.4 312.6,443.8 280.0,453.6 267.9,454.7 266.6,472.5 295.4,457.8 273.0,447.0 277.0,453.7 320.0,442.0 252.8,446.2 260.7,451.1 280.1,456.5 290.0,451.4 289.3,447.3 258.7,448.6 297.1,463.8 289.3,458.1 301.0,460.7 266.2,456.1 298.3,451.4 297.7,467.8 276.5,455.6 287.1,450.1 279.0,453.8 325.2,453.1 309.1,458.6 257.4,437.1 251.2,450.0 283.3,459.7 276.0,449.2 282.5,433.3 309.8,457.9 253.0,451.0 272.0,448.7 287.0,458.9 263.4,451.9 301.3,456.3 300.4,452.4 275.2,452.9 249.6,446.1 331.1,466.5 303.8,458.2 302.6,461.6 294.1,452.3 292.2,452.2 312.5,456.2 292.0,458.2 277.2,477.2 309.5,460.2 293.8,457.5 273.7,437.8 270.5,450.7 320.5,454.9 307.6,453.4 340.1,456.3 279.7,455.8 274.4,447.6 302.2,461.2 325.7,463.0 306.8,447.0 302.9,455.1 338.0,440.7 274.4,450.4 262.3,454.8 274.4,453.6 284.7,464.6 301.4,450.4 317.1,459.9 302.2,457.8 329.2,444.3 272.4,454.7 338.4,459.8 272.8,455.8 320.7,463.3 269.8,455.1 300.7,460.3 293.6,456.4 304.9,459.6 310.5,468.6 287.3,460.8 290.8,456.7 298.2,456.2 260.9,453.5 274.7,450.2 253.2,454.1 292.5,447.7 289.7,457.1 310.3,460.7 271.5,457.3 275.3,456.5 316.0,460.5 280.9,459.9 253.6,450.6 267.7,448.5 266.9,461.2 267.7,453.4 308.7,458.3 294.1,443.9 256.4,454.9 279.4,466.5 264.9,447.8 263.2,451.2 256.0,450.5 334.6,475.4 285.0,454.3 306.3,459.9 313.4,456.8 283.1,459.0 305.3,457.5 305.5,453.4 297.8,454.9 290.0,455.0 299.3,459.3 286.9,458.0 308.0,459.7 335.3,467.2 316.4,464.7 280.8,454.3 271.7,454.1 269.9,453.7 276.4,457.3 301.7,461.7 312.8,456.7 292.1,457.7 291.9,465.4 265.7,451.1 308.9,450.0 314.5,462.2 273.6,454.2 281.5,454.2 269.4,458.8 301.8,456.4 253.5,449.4 265.2,458.2 275.9,443.6 322.0,465.4 250.4,446.9 292.9,458.9 262.7,454.9 294.2,475.6 271.4,454.6 303.5,461.9 265.5,449.5 283.5,463.4 292.1,471.8 305.0,454.8 290.5,463.3 323.0,459.3 295.4,457.4 248.6,439.5 314.7,469.0 285.4,454.0 276.2,451.1 328.8,463.0 268.4,443.1 294.2,456.2 275.2,452.7 325.1,458.8 283.6,456.0 298.1,459.9 258.8,445.7 327.0,457.4 266.6,436.1 314.4,462.4 319.3,460.3 322.2,459.7 336.2,472.3 264.1,455.6 302.1,451.8 295.7,459.8 302.5,460.1 318.9,460.3 295.0,473.1 272.7,465.3 290.1,458.3 329.6,459.7 263.9,475.4 294.3,453.3 268.7,452.8 319.2,462.4 252.6,452.3 284.2,454.6 289.4,469.9 295.2,458.7 259.2,450.4 330.0,462.1 267.5,436.6 285.6,449.0 263.6,446.9 293.8,449.9 256.2,449.4 297.3,462.4 305.3,456.9 264.3,449.4 302.9,466.2 286.0,473.8 309.5,458.3 283.1,458.3 314.1,457.2 306.0,470.1 264.1,442.9 327.3,469.8 297.5,480.1 310.0,462.0 322.9,470.2 268.9,448.6 290.4,448.2 272.6,447.0 269.6,457.2 298.8,466.2 300.6,458.6 324.6,456.9 325.9,460.3 291.9,457.8 272.2,431.5 335.5,461.1 305.5,464.6 289.8,469.7 269.9,458.7 282.2,447.9 299.2,456.9 319.7,444.2 315.8,468.3 302.9,459.9 286.4,467.7 296.5,448.5 284.9,436.0 294.1,463.1 289.9,455.2 305.1,452.2 325.7,461.8 284.1,454.3 285.4,466.1 265.1,454.7 288.2,457.1 267.0,453.9 276.4,447.4 285.4,457.4 286.3,433.4 278.5,455.2 319.0,444.6 297.3,454.8 300.2,462.6 298.0,480.1 276.3,451.0 271.1,452.3 312.7,466.6 283.9,454.4 249.6,442.0 322.8,438.5 297.8,453.8 274.6,449.2 290.8,449.9 279.2,456.1 282.6,457.1 288.2,452.7 262.3,452.6 291.9,454.8 316.2,463.4 309.2,458.3 250.4,450.4 260.0,455.0 260.2,451.5 286.4,453.2 313.0,470.4 300.2,460.7 250.0,455.9 293.7,457.5 311.9,459.0 281.6,451.0 338.4,465.2 276.7,459.0 320.7,451.2 288.9,448.4 261.6,451.9 284.6,462.4 306.3,445.7 312.2,464.0 249.2,454.4 306.1,456.0 299.3,452.2 282.2,471.3 272.2,452.6 279.7,450.1 285.1,464.7 261.7,446.7 330.4,464.1 265.6,451.0 282.1,459.9 276.4,459.5 282.4,455.7 294.6,447.7 274.1,455.8 286.7,443.1 334.0,461.1 317.9,464.6 285.4,455.8 314.3,459.3 273.8,450.4 297.9,452.4 257.9,462.2 264.8,453.9 271.5,451.9 322.3,461.6 298.0,449.2 305.6,447.3 296.1,458.4 301.3,467.3 302.5,452.8 310.9,458.2 296.3,461.6 270.3,464.6 273.3,444.7 321.7,467.0 326.5,467.4 305.9,464.1 252.7,452.3 330.4,460.4 300.2,448.8 290.6,454.5 292.9,442.8 283.4,454.4 334.9,460.8 333.0,462.6 266.7,448.3 287.8,478.7 299.7,473.4 323.2,458.4 297.4,460.8 314.9,457.6 332.7,462.3 284.3,448.5 291.2,455.3 322.4,460.0 301.3,457.1 259.9,455.6 263.9,451.9 267.2,453.7 257.8,449.6 291.9,462.6 279.5,455.3 293.0,477.5 309.1,454.3 335.3,460.9 297.3,455.7 248.7,445.1 325.7,454.8 289.2,454.0 320.2,453.9 281.1,463.1 299.4,463.2 288.7,454.9 291.4,459.1 322.9,462.1 276.2,456.1 296.0,443.7 297.3,460.3 282.6,463.5 291.4,463.3 300.4,459.3 294.5,458.9 255.6,449.9 280.9,450.7 302.4,457.2 312.8,465.9 312.0,456.2 306.4,464.7 283.2,450.6 321.4,459.4 285.5,459.0 319.1,459.5 315.6,460.2 268.9,457.5 278.1,456.2 292.0,458.0 296.1,450.1 311.7,458.8 316.0,458.5 311.1,459.0 279.5,456.9 327.2,459.9 278.8,453.3 314.0,449.6 290.6,458.2 291.6,467.4 288.3,453.7 291.5,459.5 318.9,458.2 326.8,461.1 326.6,469.6 314.0,467.3 308.2,456.1 303.0,448.8 334.6,469.8 281.4,453.1 276.7,437.3 293.2,459.4 251.7,458.7 286.3,462.0 290.6,455.7 267.2,451.2 278.1,445.7 308.8,455.2 286.5,462.2 293.9,445.5 317.0,457.3 277.2,448.6 264.4,462.3 291.0,479.2 302.3,446.4 248.2,455.9 307.9,468.7 284.4,455.4 282.0,460.8 271.2,454.9 287.6,454.5 315.3,472.0 304.8,461.1 311.7,457.7 283.3,433.0 330.6,479.3 323.0,461.0 291.7,457.1 336.5,463.0 293.6,457.4 287.2,450.5 290.9,456.6 267.5,456.6 333.4,464.0 277.3,451.6 304.2,451.6 310.7,459.5 256.7,454.2 295.3,461.3 321.1,463.2 284.3,452.5 308.1,458.1 291.8,454.9 317.2,467.0 337.0,455.1 265.8,449.8 285.4,454.9 301.9,459.5 277.1,448.6 272.4,458.1 284.0,453.7 285.8,455.1 276.5,461.9 300.3,454.8 311.9,453.7 310.4,455.8 308.8,459.3 321.2,457.9 259.4,456.9 289.6,458.8 297.0,469.5 305.1,450.1 253.4,473.9 337.8,459.4 270.9,445.3 298.8,454.4 310.2,452.6 318.6,464.6 275.8,455.5 279.3,458.5 301.4,460.6 306.6,463.1 314.4,476.7 291.1,456.0 275.6,463.3 260.2,453.2 334.6,455.0 259.2,458.0 309.3,459.2 299.2,448.6 310.9,459.5 315.5,467.1 325.1,463.3 291.1,450.5 302.1,456.9 308.1,465.2 293.6,455.0 270.6,453.7 288.8,445.4 322.4,450.8 295.1,466.1 318.8,440.9 287.6,450.2 302.2,466.9 282.5,463.2 312.3,460.2 275.3,467.8 286.1,475.4 296.3,458.5 292.6,457.4 289.5,479.0 315.4,458.1 307.7,463.2 282.9,457.9 313.6,472.2 269.5,456.7 285.7,455.6 289.0,450.6 324.1,461.5 279.6,465.0 257.0,467.1 296.9,446.0 333.5,459.1 287.6,461.5 290.3,454.0 287.7,452.7 293.9,457.0 324.1,458.3 340.1,467.9 304.1,454.7 290.2,451.6 337.5,441.1 295.1,456.1 294.3,466.9 284.1,459.8 285.1,453.0 298.6,458.1 285.8,448.4 302.9,465.2 295.0,463.9 306.2,460.1 283.6,452.6 288.0,456.6 298.7,454.9 294.4,455.5 295.2,476.8 321.0,474.7 266.9,457.6 301.9,448.0 310.3,467.1 287.0,454.4 325.4,461.4 290.7,474.8 264.6,447.5 303.3,461.0 302.5,458.3 281.9,457.1 274.6,456.4 306.3,436.2 276.4,454.5 302.2,480.7 320.9,438.2 259.2,449.7 284.1,450.0 304.3,447.8 332.8,456.2 315.2,458.7 281.7,460.0 328.0,464.3 284.1,468.3 288.8,466.6 301.8,461.8 266.2,469.5 321.0,448.5 321.6,465.6 298.0,458.1 278.9,454.4 264.7,430.4 301.6,456.8 309.4,474.8 283.0,455.9 287.9,455.2 306.1,458.3 291.2,458.7 247.8,452.7 308.7,460.5 298.5,453.6 310.2,476.9 274.3,449.3 323.8,471.1 262.4,454.4 299.8,462.2 342.8,460.2 318.3,448.9 299.9,451.8 257.4,450.7 284.4,452.0 303.3,452.8 303.1,450.7 294.8,461.6 324.9,467.4 270.8,442.2 276.0,445.9 271.3,460.6 264.5,447.6 312.2,464.0 288.0,457.7 258.0,450.6 307.4,453.9 316.8,437.7 293.8,453.1 297.2,451.3 317.2,452.7 304.9,461.6 275.6,451.7 306.7,466.4 314.9,461.7 300.8,460.3 313.6,458.2 306.6,463.8 286.8,455.1 289.0,457.9 307.3,481.4 279.1,453.2 320.3,457.4 321.9,461.9 320.4,461.0 290.8,467.1 274.3,451.9 277.2,467.2 296.0,456.7 288.4,454.7 306.1,468.8 300.2,450.4 301.4,457.2 273.5,456.8 284.0,457.9 327.7,467.1 295.2,452.7 333.9,466.5 278.9,446.6 320.9,462.7 312.5,460.2 282.3,450.8 312.9,449.1 296.1,450.8 317.0,473.7 271.3,455.2 278.9,452.3 276.6,451.5 304.7,460.3 303.6,467.8 289.5,479.0 286.1,454.0 285.4,456.1 294.5,466.4 269.5,453.7 291.1,457.6 289.0,458.8 279.4,459.3 278.7,447.4 328.1,464.5 277.6,450.3 302.4,459.4 325.5,460.0 310.3,450.8 292.9,446.2 316.9,458.3 258.0,454.2 262.7,446.7 282.9,453.1 287.1,453.9 290.1,465.4 337.8,466.1 333.2,442.9 291.5,446.4 298.6,467.5 270.5,451.9 300.1,462.3 260.0,448.3 326.2,464.9 279.9,457.5 305.9,464.1 260.9,456.2 326.0,451.9 307.2,460.5 339.7,458.5 294.1,460.6 253.3,449.3 273.5,457.8 262.1,442.7 330.5,459.4 277.3,448.6 274.2,462.4 306.8,460.2 298.8,472.4 304.3,459.2 280.3,451.5 313.0,460.1 259.6,447.5 323.0,459.0 323.3,454.0 314.4,463.9 283.4,461.0 307.5,473.1 308.7,475.0 307.8,455.2 305.3,460.1 313.8,457.3 294.4,452.5 296.2,456.8 305.8,459.8 323.0,462.1 306.9,453.5 299.1,459.9 296.6,456.3 271.2,453.7 279.2,451.3 295.9,455.1 311.1,458.9 290.4,446.2 312.2,456.9 318.7,471.3 323.6,467.5 332.3,468.2 299.5,458.0 297.7,460.9 277.0,441.8 305.2,460.8 286.7,450.8 264.0,454.6 321.5,464.8 309.7,459.8 279.4,452.8 286.1,467.5 287.1,448.2 260.0,460.7 322.3,460.0 297.0,459.4 306.4,464.2 315.4,455.4 325.2,454.3 286.0,451.3 307.9,453.6 298.9,451.1 312.2,458.0 306.3,454.6 327.4,455.8 305.8,462.9 281.2,452.6 295.7,444.9 265.2,457.4 300.6,464.1 329.5,468.9 278.1,445.9 252.7,449.8 290.9,469.0 280.5,459.4 292.8,444.4 278.4,455.0 294.7,457.4 268.1,453.1 330.6,465.0 287.3,462.4 305.3,459.0 311.3,460.3 289.1,461.9 303.9,456.3 286.8,458.5 282.0,461.6 287.4,457.8 304.7,461.7 262.1,467.4 270.8,448.0 273.4,449.2 279.1,451.0 321.0,464.3 292.1,460.1 285.5,459.0 296.4,459.7 318.7,458.9 274.7,448.7 317.8,451.4 267.1,448.2 271.4,467.4 328.8,462.8 330.8,455.2 297.8,457.8 282.8,456.1 313.2,451.7 283.3,460.8 330.8,451.3 322.0,453.1 312.0,451.1 272.9,431.6 317.0,463.6 287.4,455.2 287.8,448.7 283.2,454.0 290.6,463.5 305.6,474.0 314.1,462.6 314.2,464.1 289.4,454.1 285.4,457.8 321.9,461.6 277.7,432.2 289.1,457.6 265.7,464.0 323.3,459.1 300.3,453.2" fill="none" stroke="none" marker-start="url(#pt)" marker-mid="url(#pt)" marker-end="url(#pt)"/>
<line x1="224.3" y1="447.4" x2="361.7" y2="466.4" stroke="#e41a1a" stroke-width="0.8"/>
<rect x="402.3" y="398.4" width="138.0" height="115.8" fill="none" stroke="#999" stroke-width="1.15"/>
<line x1="424.4" y1="514.2" x2="424.4" y2="517.8" stroke="#666" stroke-width="0.8"/>
<text x="424.4" y="527.4" text-anchor="middle" font-size="5.8" fill="#1a1a1a" stroke="#1a1a1a" stroke-width="0.18">8</text>
<line x1="447.7" y1="514.2" x2="447.7" y2="517.8" stroke="#666" stroke-width="0.8"/>
<text x="447.7" y="527.4" text-anchor="middle" font-size="5.8" fill="#1a1a1a" stroke="#1a1a1a" stroke-width="0.18">10</text>
<line x1="471.0" y1="514.2" x2="471.0" y2="517.8" stroke="#666" stroke-width="0.8"/>
<text x="471.0" y="527.4" text-anchor="middle" font-size="5.8" fill="#1a1a1a" stroke="#1a1a1a" stroke-width="0.18">12</text>
<line x1="494.4" y1="514.2" x2="494.4" y2="517.8" stroke="#666" stroke-width="0.8"/>
<text x="494.4" y="527.4" text-anchor="middle" font-size="5.8" fill="#1a1a1a" stroke="#1a1a1a" stroke-width="0.18">14</text>
<line x1="517.7" y1="514.2" x2="517.7" y2="517.8" stroke="#666" stroke-width="0.8"/>
<text x="517.7" y="527.4" text-anchor="middle" font-size="5.8" fill="#1a1a1a" stroke="#1a1a1a" stroke-width="0.18">16</text>
<line x1="398.7" y1="500.5" x2="402.3" y2="500.5" stroke="#666" stroke-width="0.8"/>
<text x="393.5" y="500.5" text-anchor="middle" font-size="5.8" fill="#1a1a1a" transform="rotate(-90 393.5 500.5)" stroke="#1a1a1a" stroke-width="0.18">7</text>
<line x1="398.7" y1="485.2" x2="402.3" y2="485.2" stroke="#666" stroke-width="0.8"/>
<text x="393.5" y="485.2" text-anchor="middle" font-size="5.8" fill="#1a1a1a" transform="rotate(-90 393.5 485.2)" stroke="#1a1a1a" stroke-width="0.18">8</text>
<line x1="398.7" y1="469.9" x2="402.3" y2="469.9" stroke="#666" stroke-width="0.8"/>
<text x="393.5" y="469.9" text-anchor="middle" font-size="5.8" fill="#1a1a1a" transform="rotate(-90 393.5 469.9)" stroke="#1a1a1a" stroke-width="0.18">9</text>
<line x1="398.7" y1="454.6" x2="402.3" y2="454.6" stroke="#666" stroke-width="0.8"/>
<text x="393.5" y="454.6" text-anchor="middle" font-size="5.8" fill="#1a1a1a" transform="rotate(-90 393.5 454.6)" stroke="#1a1a1a" stroke-width="0.18">10</text>
<line x1="398.7" y1="439.2" x2="402.3" y2="439.2" stroke="#666" stroke-width="0.8"/>
<text x="393.5" y="439.2" text-anchor="middle" font-size="5.8" fill="#1a1a1a" transform="rotate(-90 393.5 439.2)" stroke="#1a1a1a" stroke-width="0.18">11</text>
<line x1="398.7" y1="423.9" x2="402.3" y2="423.9" stroke="#666" stroke-width="0.8"/>
<text x="393.5" y="423.9" text-anchor="middle" font-size="5.8" fill="#1a1a1a" transform="rotate(-90 393.5 423.9)" stroke="#1a1a1a" stroke-width="0.18">12</text>
<line x1="398.7" y1="408.6" x2="402.3" y2="408.6" stroke="#666" stroke-width="0.8"/>
<text x="393.5" y="408.6" text-anchor="middle" font-size="5.8" fill="#1a1a1a" transform="rotate(-90 393.5 408.6)" stroke="#1a1a1a" stroke-width="0.18">13</text>
<text x="471.4" y="542.0" text-anchor="middle" font-size="5.8" fill="#1a1a1a" stroke="#1a1a1a" stroke-width="0.18">IFI6</text>
<text x="379.3" y="455.0" text-anchor="middle" font-size="5.8" fill="#666" transform="rotate(-90 379.3 455.0)" stroke="#666" stroke-width="0.18">FAM210B</text>
<text x="471.5" y="377.0" text-anchor="middle" font-size="7.3" font-weight="bold" fill="#000" stroke="#000" stroke-width="0.2">Spearman-Correlation:-0.3958</text>
<text x="471.5" y="385.6" text-anchor="middle" font-size="7.3" font-weight="bold" fill="#000" stroke="#000" stroke-width="0.2">P-value:7.499e-42</text>
<text x="471.5" y="394.5" text-anchor="middle" font-size="7.3" font-weight="bold" fill="#000" stroke="#000" stroke-width="0.2">Sample Size:(N=1081)</text>
<polyline points="406.9,450.7 535.8,475.8 416.2,453.4 419.7,453.0 422.1,461.8 423.2,451.8 521.2,473.0 523.5,478.6 420.9,483.8 424.4,460.9 469.8,462.6 494.8,469.3 452.4,463.9 493.1,467.9 459.6,465.5 469.6,451.7 490.4,466.2 440.3,452.0 485.1,493.6 505.3,464.9 503.4,463.7 463.7,443.1 493.1,479.0 431.3,465.2 467.2,466.8 482.0,459.9 438.1,461.1 469.0,466.2 513.3,479.1 495.4,459.3 490.1,464.8 491.3,452.2 447.6,467.1 441.4,457.5 436.5,460.1 484.3,482.2 489.5,494.4 454.9,473.9 441.0,449.0 477.3,472.8 478.7,462.7 467.8,460.8 502.1,480.2 468.8,462.0 469.4,459.5 443.9,463.6 474.4,458.7 504.0,469.1 472.5,471.5 472.8,466.4 481.7,474.3 477.8,469.1 484.0,470.3 484.2,466.9 486.2,465.7 451.6,459.8 478.4,465.8 431.8,456.1 477.6,465.6 440.1,458.9 469.3,458.2 482.6,459.4 460.9,467.4 473.4,466.2 430.9,450.0 450.0,455.4 487.9,467.9 442.8,455.3 487.0,481.6 437.0,453.7 448.8,454.0 444.2,469.3 471.2,467.4 484.1,462.6 444.9,460.2 466.6,491.2 510.8,468.0 463.3,474.3 451.1,454.1 480.5,458.7 465.6,471.0 453.9,453.8 427.1,451.3 491.1,446.7 457.1,458.1 471.1,469.8 445.0,463.3 502.9,468.9 489.4,478.4 495.1,459.2 468.3,460.6 482.5,469.4 492.8,451.4 496.1,470.3 478.7,466.9 469.5,454.7 462.2,460.5 452.7,469.0 447.4,458.4 479.9,460.4 465.1,466.3 460.5,458.0 467.2,458.6 497.1,480.5 464.3,467.9 425.7,459.1 468.0,448.2 490.3,473.2 476.0,465.1 460.6,468.5 516.3,485.9 517.6,465.9 468.6,469.8 491.0,469.7 480.7,467.5 490.2,472.6 506.6,471.9 491.1,474.2 473.2,480.8 455.0,444.9 451.2,453.7 470.4,451.1 499.4,455.7 478.4,475.9 472.3,478.4 477.3,467.6 471.9,465.9 484.4,478.5 443.5,446.8 482.6,466.3 460.6,466.6 442.9,463.7 510.6,475.4 467.2,451.6 464.8,477.3 433.4,451.8 477.9,479.4 455.8,455.6 498.5,465.5 491.6,464.7 452.0,462.3 481.1,464.2 489.7,468.9 454.6,463.0 501.6,463.4 490.4,472.1 475.3,477.1 470.3,469.3 436.3,447.9 437.7,460.6 476.5,469.0 514.2,479.6 469.3,456.0 486.4,462.2 485.8,467.8 494.3,462.3 449.8,462.5 458.1,466.4 472.2,469.7 445.9,473.8 440.9,461.5 449.4,462.5 469.3,465.2 480.2,471.4 470.4,476.6 472.9,467.1 454.3,468.7 453.4,461.9 498.5,474.1 469.7,469.4 469.0,471.4 494.0,468.4 501.4,466.0 502.2,453.8 481.0,474.5 469.8,474.7 478.1,463.1 475.4,492.6 505.3,467.1 478.2,464.9 486.7,465.6 470.4,458.1 504.6,461.1 457.5,465.1 480.4,464.9 489.5,470.7 442.7,470.2 448.0,461.1 467.4,457.6 467.1,491.3 444.6,462.0 492.5,475.6 476.5,469.1 456.6,473.7 476.6,468.8 487.8,479.1 500.8,459.3 476.3,462.1 447.4,450.6 457.4,468.7 492.9,469.0 453.1,461.9 489.1,463.6 482.4,469.0 468.4,463.8 462.7,470.8 509.8,443.9 478.0,464.7 493.3,463.2 480.7,461.4 454.6,461.6 509.1,473.7 440.7,468.6 441.8,463.7 460.5,460.0 453.2,469.1 457.4,460.8 456.3,455.8 495.2,465.8 472.4,463.5 479.7,480.1 432.2,447.6 450.3,471.0 497.6,463.9 441.6,457.7 499.9,470.3 445.8,469.8 478.4,460.5 450.3,448.2 475.9,468.6 449.0,458.4 464.8,465.1 512.0,473.0 461.9,451.2 520.9,471.9 459.8,443.8 442.3,458.0 472.9,469.1 461.0,453.3 514.1,478.2 492.1,464.8 500.0,468.6 486.5,473.9 474.6,474.6 490.5,455.2 484.1,469.0 450.7,466.0 448.8,471.3 475.6,465.1 495.5,470.5 498.4,474.7 447.9,459.4 484.1,459.6 475.8,438.8 443.7,456.9 483.6,460.7 454.4,469.9 477.5,480.3 452.5,473.0 446.1,449.4 471.5,459.4 473.7,473.4 452.6,460.2 489.6,487.2 445.5,455.6 470.2,479.2 462.3,450.5 461.8,467.4 475.7,473.4 482.9,454.2 501.2,463.8 491.4,471.0 457.2,456.3 505.7,477.6 501.6,476.0 432.9,473.9 487.3,494.5 491.3,482.2 494.7,467.8 484.4,465.3 439.3,451.0 464.5,461.0 448.4,453.8 467.2,461.1 520.7,473.2 487.7,471.4 491.5,467.8 458.5,489.9 446.2,462.0 444.8,454.5 474.1,463.1 451.4,466.3 455.4,457.6 499.1,477.8 430.9,455.7 438.9,447.7 458.5,460.1 468.6,467.3 467.9,460.7 436.8,459.3 475.8,459.9 467.9,466.1 479.7,491.9 444.5,459.5 477.0,465.8 476.4,474.7 454.9,461.6 465.7,452.0 457.4,468.1 504.3,469.5 488.0,487.9 435.6,460.2 429.3,457.1 461.8,454.3 454.4,470.0 461.0,464.1 488.6,461.9 431.1,451.9 450.3,470.5 465.6,479.0 441.6,452.3 480.1,478.2 479.1,469.3 453.6,470.9 427.7,445.3 510.2,466.4 482.6,464.3 481.4,458.3 472.8,477.1 470.9,450.0 491.4,467.8 470.7,457.8 455.6,450.5 488.4,475.1 472.5,465.7 452.1,469.1 448.8,467.7 499.6,445.0 486.5,458.7 519.4,474.2 458.1,461.0 452.8,453.6 480.9,459.1 504.8,472.9 485.7,466.0 481.6,456.2 517.2,472.8 452.8,463.7 440.5,473.2 452.8,447.9 463.3,465.3 480.2,476.6 496.1,465.3 481.0,461.1 508.3,497.9 450.8,455.3 517.7,472.2 451.2,460.2 499.7,466.8 448.1,448.9 479.4,488.3 472.3,461.7 483.7,442.9 489.4,476.2 465.8,468.5 469.4,466.8 476.9,447.4 439.1,460.9 453.1,438.4 431.3,459.8 471.2,464.7 468.3,459.6 489.2,466.4 449.8,469.3 453.7,457.7 494.9,468.7 459.4,460.8 431.7,460.3 446.0,476.4 445.2,454.0 446.0,464.6 487.6,484.3 472.8,465.2 434.6,458.8 457.8,469.4 443.2,452.7 441.5,468.0 434.1,455.0 513.8,465.2 463.5,462.2 485.1,470.0 492.3,460.0 461.6,470.8 484.1,477.4 484.3,465.5 476.5,469.3 468.6,453.9 478.0,481.5 465.4,468.7 486.9,462.3 514.6,444.7 495.4,461.0 459.3,461.5 450.0,459.8 448.2,464.3 454.8,459.8 480.5,472.1 491.8,461.8 470.8,445.1 470.6,476.5 444.0,465.5 487.8,440.6 493.4,470.0 452.0,468.6 460.0,468.6 447.7,471.5 480.6,459.1 431.6,456.6 443.5,453.8 454.3,459.2 501.1,468.3 428.4,462.1 471.5,456.4 440.9,452.4 472.9,463.1 449.8,461.7 482.3,466.8 443.8,465.9 462.0,466.9 470.7,458.9 483.8,465.9 469.2,472.9 502.0,467.9 474.1,457.1 426.6,463.9 493.7,467.9 463.9,459.5 454.6,460.9 508.0,465.4 446.7,450.0 472.8,465.3 453.6,457.1 504.2,467.5 462.1,458.6 476.8,452.7 436.9,455.3 506.2,464.9 444.9,455.5 493.3,463.4 498.3,470.4 501.2,464.3 515.5,473.0 442.4,474.4 480.9,468.2 474.4,456.5 481.3,449.7 497.9,473.9 473.7,463.7 451.0,470.8 468.7,458.0 508.7,452.0 442.2,459.2 473.0,475.3 447.0,453.0 498.2,476.0 430.7,457.7 462.7,466.0 468.0,468.4 473.9,468.4 437.3,470.3 509.1,467.7 445.8,471.0 464.1,467.4 441.8,455.3 472.4,464.9 434.3,463.4 476.0,451.8 484.1,461.1 442.6,459.3 481.7,463.6 464.5,455.3 488.3,450.4 461.6,459.5 493.1,469.0 484.9,466.6 442.3,466.3 506.4,470.3 476.2,467.0 488.9,472.9 501.9,465.6 447.2,448.6 469.0,473.3 450.9,462.1 448.0,460.0 477.6,465.0 479.4,451.2 503.6,465.7 505.0,477.1 470.5,460.2 450.5,460.1 514.8,472.1 484.3,466.9 468.4,458.5 448.3,456.9 460.7,466.4 477.9,438.7 498.7,481.4 494.8,463.7 481.7,467.7 465.0,463.7 475.2,463.9 463.4,453.7 472.8,463.6 468.5,480.4 483.9,469.0 504.9,461.7 462.6,465.6 463.9,458.9 443.4,460.4 466.8,456.8 445.2,462.3 454.8,449.4 463.9,456.2 464.8,467.4 457.0,466.1 498.1,458.7 476.0,457.5 478.9,472.7 476.7,492.8 454.7,466.0 449.4,451.7 491.6,470.6 462.4,465.7 427.7,451.0 501.9,443.4 476.5,466.2 453.0,458.0 469.4,463.5 457.6,456.0 461.1,459.8 466.8,456.6 440.5,460.5 470.6,455.8 495.2,451.5 488.1,464.7 428.4,456.1 438.2,463.1 438.4,455.6 465.0,444.8 492.0,475.2 478.9,471.1 428.1,463.0 472.4,471.7 490.8,470.7 460.0,468.2 517.7,485.8 455.1,455.9 499.7,495.5 467.5,460.4 439.8,486.8 463.1,462.2 485.1,463.8 491.1,467.2 427.2,463.0 484.9,469.2 478.0,463.8 460.7,470.1 450.6,468.8 458.2,462.8 463.6,464.3 439.9,459.2 509.6,464.4 443.9,454.5 460.6,467.3 454.8,469.2 460.9,482.7 473.3,450.9 452.5,453.3 465.3,461.9 513.3,468.6 496.9,470.7 464.0,463.6 493.3,464.3 452.2,460.8 476.6,461.7 436.1,458.1 443.0,453.2 449.8,464.2 501.3,476.6 476.7,468.7 484.5,467.8 474.8,459.2 480.0,460.0 481.3,475.7 489.8,449.1 475.0,471.2 448.6,459.0 451.7,459.6 500.8,464.2 505.6,481.9 484.7,455.6 430.8,464.9 509.6,474.2 478.9,459.1 469.2,457.2 471.5,476.0 461.9,467.2 514.1,473.3 512.2,466.9 445.0,466.3 466.4,464.2 478.5,474.5 502.3,467.3 476.1,462.8 493.8,473.5 511.9,480.9 462.9,468.5 469.8,484.4 501.5,473.8 480.0,484.8 438.1,442.7 442.1,450.4 445.5,452.6 436.0,464.9 470.5,452.5 458.0,466.1 471.7,456.4 488.0,464.5 514.5,462.8 476.0,492.7 426.7,456.3 504.8,475.1 467.8,470.9 499.2,471.8 459.6,460.8 478.1,462.6 467.3,458.2 470.0,458.1 501.9,458.3 454.6,457.5 474.7,457.6 476.0,472.5 461.1,462.1 470.1,461.2 479.2,470.8 473.2,465.0 433.7,459.3 459.3,461.8 481.1,477.8 491.8,466.9 490.9,470.7 485.3,483.9 461.7,475.2 500.4,465.3 464.1,459.2 498.1,455.7 494.5,460.8 447.2,469.2 456.5,465.3 470.6,458.9 474.8,467.7 490.6,464.0 494.9,468.8 490.0,468.9 458.0,459.7 506.3,469.5 457.2,464.5 492.9,467.5 469.2,463.7 470.2,467.9 466.9,463.8 470.1,470.3 497.9,475.6 506.0,468.2 505.7,478.6 492.9,469.2 487.0,469.8 481.7,473.2 513.8,474.2 459.8,460.4 455.1,458.9 471.8,469.2 429.8,466.1 464.9,458.6 469.2,464.7 445.5,455.6 456.5,456.5 487.7,468.5 465.0,470.9 472.5,440.0 496.0,474.4 455.6,458.7 442.6,461.1 469.6,464.5 481.1,470.0 426.2,462.4 486.8,473.6 463.0,456.8 460.5,466.4 449.6,476.5 466.2,460.4 494.3,463.6 483.6,464.3 490.6,463.4 461.8,463.2 509.8,471.1 502.0,456.5 470.3,470.4 515.8,482.5 472.3,462.0 465.7,480.2 469.5,466.2 445.8,472.8 512.6,465.6 455.8,463.7 483.0,469.5 489.6,458.2 434.8,468.1 474.0,469.8 500.1,468.1 462.9,467.8 486.9,468.5 470.4,457.9 496.1,446.6 516.3,479.2 444.0,433.3 463.9,460.3 480.6,468.7 455.5,464.1 450.7,464.2 462.5,460.1 464.4,465.9 454.9,455.8 479.0,467.9 490.8,469.0 489.3,453.7 487.7,477.3 500.2,442.9 437.6,457.1 468.2,457.7 475.7,466.1 483.9,494.0 431.5,465.3 517.1,491.1 449.2,457.7 477.5,469.1 489.1,492.5 497.7,475.2 454.2,459.3 457.8,465.0 480.1,472.3 485.4,471.9 493.4,449.1 469.7,469.8 454.1,461.7 438.4,446.0 513.8,480.0 437.4,466.0 488.2,464.1 477.9,469.0 489.8,475.2 494.5,441.4 504.2,486.7 469.7,463.0 480.8,473.8 487.0,453.7 472.2,467.2 448.9,464.2 467.4,471.0 501.4,465.1 473.8,474.8 497.9,459.4 466.2,466.5 480.9,450.9 461.0,461.2 491.2,472.7 453.7,456.5 464.6,446.5 475.0,469.5 471.2,465.5 468.1,467.2 494.4,470.1 486.5,468.3 461.5,460.2 492.6,470.2 447.8,467.2 464.3,464.5 467.6,463.7 503.1,456.7 458.1,469.3 435.2,466.6 475.6,466.2 512.7,468.1 466.2,472.6 468.9,480.3 466.3,466.9 472.6,466.0 503.2,455.9 519.4,465.9 482.9,458.2 468.8,473.8 516.7,476.1 473.8,468.2 473.0,468.1 462.6,460.4 463.7,468.6 477.3,470.9 464.4,472.7 481.6,454.6 473.7,471.2 485.0,456.1 462.1,459.6 466.5,459.3 477.4,477.4 473.1,464.4 473.9,473.8 500.1,491.9 445.2,451.8 480.6,466.1 489.2,445.4 465.5,467.3 504.5,469.5 469.3,455.3 442.8,462.5 482.1,471.9 481.2,490.4 460.4,467.5 453.0,475.2 485.2,459.7 454.8,465.5 481.0,465.7 499.9,467.7 437.4,461.8 462.7,467.0 483.1,469.7 512.0,469.3 494.1,467.2 460.2,490.2 507.2,468.7 462.6,452.5 467.4,469.7 480.6,462.7 444.5,464.2 500.0,468.3 500.6,469.7 476.7,471.6 457.4,453.3 442.9,452.9 480.4,466.0 488.3,452.2 461.5,447.4 466.5,473.1 484.9,469.0 469.8,465.8 425.8,458.9 487.6,453.9 477.2,457.3 489.1,440.5 452.7,460.0 502.8,465.0 440.7,457.0 478.5,465.4 522.1,476.6 497.3,469.8 478.6,467.9 435.5,463.7 463.0,449.7 482.1,465.5 481.9,466.5 473.5,455.3 504.0,456.0 449.2,469.7 454.4,472.7 449.7,443.9 442.7,452.6 491.1,473.6 466.6,465.3 436.2,464.7 486.3,460.3 495.8,476.4 472.5,460.7 475.9,455.0 496.2,473.3 483.8,468.8 454.0,457.1 485.6,465.9 493.9,470.9 479.5,467.4 492.5,469.4 485.5,466.1 465.4,457.0 467.5,457.8 486.2,458.7 457.6,467.2 499.3,467.0 501.0,469.9 499.4,467.4 469.4,471.7 452.7,461.4 455.6,472.3 474.7,459.3 467.0,464.0 484.9,469.1 479.0,466.4 480.2,467.9 451.9,465.2 462.6,458.6 506.8,470.8 473.9,462.5 513.1,472.7 457.3,464.7 500.0,480.5 491.5,495.2 460.8,466.3 491.8,471.0 474.7,467.1 495.9,479.3 449.6,450.2 457.4,470.7 455.1,479.1 483.5,461.0 482.4,458.3 468.1,470.8 464.6,460.6 463.9,466.9 473.2,469.6 447.8,467.5 469.7,461.2 467.5,466.3 457.8,467.0 457.1,463.2 507.2,469.2 456.0,457.5 481.2,465.7 504.6,467.1 489.2,457.5 471.6,458.1 495.9,453.5 436.2,458.7 440.9,448.7 461.4,469.8 465.7,460.6 468.7,475.2 517.1,487.2 512.4,444.3 470.1,458.8 477.3,448.7 448.8,460.8 478.9,469.9 438.2,432.3 505.3,476.0 458.4,484.8 484.7,475.9 439.1,460.0 505.1,473.3 486.0,470.7 519.0,478.0 472.7,464.4 431.4,472.3 451.9,459.8 440.3,483.0 509.7,460.2 455.8,475.5 452.6,460.9 485.6,478.6 477.6,459.4 483.1,470.7 458.8,470.4 491.9,464.1 437.8,452.3 502.0,468.0 502.4,472.0 493.3,470.7 461.9,467.9 486.3,469.2 487.5,460.0 486.6,472.2 484.1,464.0 492.7,468.9 473.1,469.2 474.9,465.3 484.7,480.3 502.0,470.7 485.7,462.9 477.8,468.2 475.3,467.7 449.5,462.1 457.6,462.2 474.6,461.0 490.0,480.0 469.0,472.7 491.1,472.2 497.8,460.7 502.7,465.3 511.5,454.7 478.2,465.5 476.4,463.5 455.4,457.0 484.0,468.1 465.2,464.2 442.2,469.2 500.5,491.6 488.6,473.2 457.8,464.7 464.7,457.5 465.7,463.8 438.2,448.8 501.3,465.5 475.7,469.9 485.2,466.3 494.3,461.9 504.3,469.4 464.6,463.7 486.7,474.7 477.6,482.8 491.1,478.6 485.1,480.4 506.5,474.7 484.7,455.1 459.6,459.2 474.4,467.5 443.5,455.0 479.3,465.0 508.7,471.8 456.6,457.0 430.7,453.2 469.5,466.5 459.0,456.6 471.4,464.3 456.9,456.5 473.4,460.8 446.4,468.1 509.8,447.6 465.9,467.0 484.2,474.6 490.2,456.8 467.7,469.6 482.7,461.7 465.4,454.4 460.5,461.9 466.0,464.3 483.6,468.6 440.3,462.0 449.2,462.1 451.7,472.3 457.6,470.9 500.0,469.0 470.8,469.0 464.0,464.8 475.1,466.8 497.7,469.1 453.1,462.3 496.8,479.9 445.4,471.8 449.8,457.6 507.9,472.9 510.0,453.9 476.5,460.5 461.3,465.4 492.1,472.1 461.8,468.7 510.0,471.5 501.0,471.2 490.9,459.5 451.2,461.6 495.9,450.3 465.9,446.2 466.3,469.3 461.7,461.8 469.2,473.0 484.5,459.5 493.0,472.9 493.1,468.3 468.0,466.1 464.0,445.9 500.9,460.3 456.2,464.8 467.7,469.8 443.9,459.1 502.3,470.8 479.0,461.1" fill="none" stroke="none" marker-start="url(#pt)" marker-mid="url(#pt)" marker-end="url(#pt)"/>
<line x1="402.3" y1="453.7" x2="540.3" y2="476.0" stroke="#e41a1a" stroke-width="0.8"/>
</g></svg></div></body></html>
